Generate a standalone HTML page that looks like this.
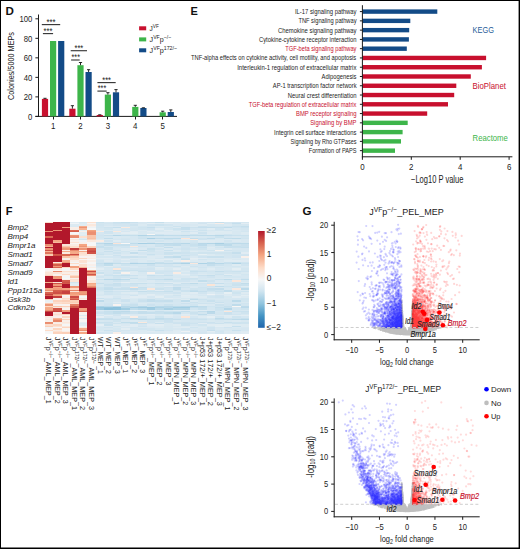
<!DOCTYPE html><html><head><meta charset="utf-8"><style>html,body{margin:0;padding:0;background:#fff;}svg{display:block;font-family:"Liberation Sans",sans-serif;}</style></head><body>
<svg width="520" height="549" viewBox="0 0 520 549">
<rect x="0" y="0" width="520" height="549" fill="#fff"/>
<text x="5.5" y="15.1" font-size="11.6" font-weight="bold" fill="#111">D</text>
<g stroke="#1a1a1a" stroke-width="1" fill="none">
<line x1="38.5" y1="14.5" x2="38.5" y2="116.9"/>
<line x1="35.4" y1="116.4" x2="177" y2="116.4"/>
<line x1="35.4" y1="116.4" x2="38.5" y2="116.4"/>
<line x1="35.4" y1="96.88" x2="38.5" y2="96.88"/>
<line x1="35.4" y1="77.36" x2="38.5" y2="77.36"/>
<line x1="35.4" y1="57.84" x2="38.5" y2="57.84"/>
<line x1="35.4" y1="38.32" x2="38.5" y2="38.32"/>
<line x1="35.4" y1="18.8" x2="38.5" y2="18.8"/>
<line x1="53.5" y1="116.4" x2="53.5" y2="119.5"/>
<line x1="80.5" y1="116.4" x2="80.5" y2="119.5"/>
<line x1="107.5" y1="116.4" x2="107.5" y2="119.5"/>
<line x1="135.5" y1="116.4" x2="135.5" y2="119.5"/>
<line x1="162.5" y1="116.4" x2="162.5" y2="119.5"/>
</g>
<text transform="translate(28.1,119.6) scale(0.8592,1)" font-size="9" fill="#222">0</text>
<text transform="translate(23.8,100.08) scale(0.8592,1)" font-size="9" fill="#222">20</text>
<text transform="translate(23.8,80.56) scale(0.8592,1)" font-size="9" fill="#222">40</text>
<text transform="translate(23.8,61.04) scale(0.8592,1)" font-size="9" fill="#222">60</text>
<text transform="translate(23.8,41.52) scale(0.8592,1)" font-size="9" fill="#222">80</text>
<text transform="translate(19.5,22) scale(0.8592,1)" font-size="9" fill="#222">100</text>
<text transform="translate(50.9,128.9) scale(0.8791,1)" font-size="9" fill="#222">1</text>
<text transform="translate(78.3,128.9) scale(0.8791,1)" font-size="9" fill="#222">2</text>
<text transform="translate(105.7,128.9) scale(0.8791,1)" font-size="9" fill="#222">3</text>
<text transform="translate(133.1,128.9) scale(0.8791,1)" font-size="9" fill="#222">4</text>
<text transform="translate(160.5,128.9) scale(0.8791,1)" font-size="9" fill="#222">5</text>
<g transform="translate(13.6,66) rotate(-90)"><text x="0" y="0" font-size="8.6" fill="#222" text-anchor="middle" textLength="68" lengthAdjust="spacingAndGlyphs">Colonies/5000 MEPs</text></g>
<rect x="41.9" y="98.9" width="6.2" height="17.5" fill="#c8102e"/>
<path d="M45 98.9V98.3M43.4 98.3H46.6" stroke="#111" stroke-width="0.9" fill="none"/>
<rect x="50" y="41" width="6.2" height="75.4" fill="#3db54a"/>
<rect x="58.1" y="41" width="6.2" height="75.4" fill="#134b87"/>
<rect x="69.3" y="108.7" width="6.2" height="7.7" fill="#c8102e"/>
<path d="M72.4 108.7V105.7M70.8 105.7H74" stroke="#111" stroke-width="0.9" fill="none"/>
<rect x="77.4" y="65.2" width="6.2" height="51.2" fill="#3db54a"/>
<path d="M80.5 65.2V62.5M78.9 62.5H82.1" stroke="#111" stroke-width="0.9" fill="none"/>
<rect x="85.5" y="72" width="6.2" height="44.4" fill="#134b87"/>
<path d="M88.6 72V69.7M87 69.7H90.2" stroke="#111" stroke-width="0.9" fill="none"/>
<rect x="96.7" y="115" width="6.2" height="1.4" fill="#c8102e"/>
<path d="M99.8 115V114.8M98.2 114.8H101.4" stroke="#111" stroke-width="0.9" fill="none"/>
<rect x="104.8" y="94.6" width="6.2" height="21.8" fill="#3db54a"/>
<path d="M107.9 94.6V92.7M106.3 92.7H109.5" stroke="#111" stroke-width="0.9" fill="none"/>
<rect x="112.9" y="92.3" width="6.2" height="24.1" fill="#134b87"/>
<path d="M116 92.3V89.6M114.4 89.6H117.6" stroke="#111" stroke-width="0.9" fill="none"/>
<rect x="132.2" y="106.9" width="6.2" height="9.5" fill="#3db54a"/>
<path d="M135.3 106.9V105.3M133.7 105.3H136.9" stroke="#111" stroke-width="0.9" fill="none"/>
<rect x="140.3" y="108" width="6.2" height="8.4" fill="#134b87"/>
<path d="M143.4 108V107.8M141.8 107.8H145" stroke="#111" stroke-width="0.9" fill="none"/>
<rect x="159.6" y="112.3" width="6.2" height="4.1" fill="#3db54a"/>
<path d="M162.7 112.3V111.2M161.1 111.2H164.3" stroke="#111" stroke-width="0.9" fill="none"/>
<rect x="167.7" y="112" width="6.2" height="4.4" fill="#134b87"/>
<path d="M170.8 112V109.9M169.2 109.9H172.4" stroke="#111" stroke-width="0.9" fill="none"/>
<line x1="41.8" y1="24.6" x2="60.2" y2="24.6" stroke="#3a3a3a" stroke-width="1.15"/>
<text transform="translate(46.5,24.7) scale(0.8204,1)" font-size="9.5" fill="#222">***</text>
<line x1="42.9" y1="33.6" x2="53.1" y2="33.6" stroke="#3a3a3a" stroke-width="1.15"/>
<text transform="translate(43.6,33.7) scale(0.8023,1)" font-size="9.5" fill="#222">***</text>
<line x1="70.7" y1="50.7" x2="87" y2="50.7" stroke="#3a3a3a" stroke-width="1.15"/>
<text transform="translate(74.5,50.8) scale(0.7933,1)" font-size="9.5" fill="#222">***</text>
<line x1="71.1" y1="60" x2="79.7" y2="60" stroke="#3a3a3a" stroke-width="1.15"/>
<text transform="translate(71.5,60.1) scale(0.7663,1)" font-size="9.5" fill="#222">***</text>
<line x1="97.4" y1="82.6" x2="115.7" y2="82.6" stroke="#3a3a3a" stroke-width="1.15"/>
<text transform="translate(102.2,82.7) scale(0.7933,1)" font-size="9.5" fill="#222">***</text>
<line x1="97.4" y1="91.1" x2="106.7" y2="91.1" stroke="#3a3a3a" stroke-width="1.15"/>
<text transform="translate(97.8,91.2) scale(0.7573,1)" font-size="9.5" fill="#222">***</text>
<rect x="139.1" y="26.3" width="7.1" height="4" fill="#c8102e"/>
<g transform="translate(149.6,30.9) scale(0.8150,1)" fill="#222">
<text x="0" y="0" font-size="8" style="white-space:pre">J</text>
<text x="4" y="-2.8" font-size="5.8" style="white-space:pre">VF</text>
</g>
<rect x="139.1" y="37.4" width="7.1" height="4" fill="#3db54a"/>
<g transform="translate(149.6,42) scale(0.8909,1)" fill="#222">
<text x="0" y="0" font-size="8" style="white-space:pre">J</text>
<text x="4" y="-2.8" font-size="5.8" style="white-space:pre">VF</text>
<text x="11.41" y="0" font-size="8" style="white-space:pre">p</text>
<text x="15.86" y="-2.8" font-size="5.8" style="white-space:pre">−/−</text>
</g>
<rect x="139.1" y="48.3" width="7.1" height="4" fill="#134b87"/>
<g transform="translate(149.6,52.9) scale(0.8973,1)" fill="#222">
<text x="0" y="0" font-size="8" style="white-space:pre">J</text>
<text x="4" y="-2.8" font-size="5.8" style="white-space:pre">VF</text>
<text x="11.41" y="0" font-size="8" style="white-space:pre">p</text>
<text x="15.86" y="-2.8" font-size="5.8" style="white-space:pre">172/−</text>
</g>
<text x="190.6" y="15.1" font-size="11" font-weight="bold" fill="#111">E</text>
<rect x="362.4" y="9.4" width="74.9" height="4.4" fill="#134b87"/>
<text transform="translate(295,14.1) scale(0.7715,1)" font-size="7.6" fill="#222">IL-17 signaling pathway</text>
<rect x="362.4" y="18.67" width="47.9" height="4.4" fill="#134b87"/>
<text transform="translate(298.4,23.37) scale(0.7529,1)" font-size="7.6" fill="#222">TNF signaling pathway</text>
<rect x="362.4" y="27.94" width="46.8" height="4.4" fill="#134b87"/>
<text transform="translate(278,32.64) scale(0.7785,1)" font-size="7.6" fill="#222">Chemokine signaling pathway</text>
<rect x="362.4" y="37.21" width="46.5" height="4.4" fill="#134b87"/>
<text transform="translate(259,41.91) scale(0.7677,1)" font-size="7.6" fill="#222">Cytokine-cytokine receptor interaction</text>
<rect x="362.4" y="46.48" width="44.4" height="4.4" fill="#134b87"/>
<text transform="translate(285.3,51.18) scale(0.7502,1)" font-size="7.6" fill="#c8102e">TGF-beta signaling pathway</text>
<rect x="362.4" y="55.75" width="123.7" height="4.4" fill="#c8102e"/>
<text transform="translate(191,60.45) scale(0.7598,1)" font-size="7.6" fill="#222">TNF-alpha effects on cytokine activity, cell motility, and apoptosis</text>
<rect x="362.4" y="65.02" width="119.5" height="4.4" fill="#c8102e"/>
<text transform="translate(237.2,69.72) scale(0.7874,1)" font-size="7.6" fill="#222">Interleukin-1 regulation of extracellular matrix</text>
<rect x="362.4" y="74.29" width="108.4" height="4.4" fill="#c8102e"/>
<text transform="translate(321.5,78.99) scale(0.7692,1)" font-size="7.6" fill="#222">Adipogenesis</text>
<rect x="362.4" y="83.56" width="93.9" height="4.4" fill="#c8102e"/>
<text transform="translate(272.8,88.26) scale(0.7602,1)" font-size="7.6" fill="#222">AP-1 transcription factor network</text>
<rect x="362.4" y="92.83" width="91.8" height="4.4" fill="#c8102e"/>
<text transform="translate(287.8,97.53) scale(0.7768,1)" font-size="7.6" fill="#222">Neural crest differentiation</text>
<rect x="362.4" y="102.1" width="85.6" height="4.4" fill="#c8102e"/>
<text transform="translate(248.7,106.8) scale(0.7581,1)" font-size="7.6" fill="#c8102e">TGF-beta regulation of extracellular matrix</text>
<rect x="362.4" y="111.37" width="64.8" height="4.4" fill="#c8102e"/>
<text transform="translate(296,116.07) scale(0.7727,1)" font-size="7.6" fill="#c8102e">BMP receptor signaling</text>
<rect x="362.4" y="120.64" width="45.3" height="4.4" fill="#3db54a"/>
<text transform="translate(310.2,125.34) scale(0.7735,1)" font-size="7.6" fill="#c8102e">Signaling by BMP</text>
<rect x="362.4" y="129.91" width="40.2" height="4.4" fill="#3db54a"/>
<text transform="translate(274.1,134.61) scale(0.7720,1)" font-size="7.6" fill="#222">Integrin cell surface interactions</text>
<rect x="362.4" y="139.18" width="38.6" height="4.4" fill="#3db54a"/>
<text transform="translate(290.5,143.88) scale(0.7244,1)" font-size="7.6" fill="#222">Signaling by Rho GTPases</text>
<rect x="362.4" y="148.45" width="32.6" height="4.4" fill="#3db54a"/>
<text transform="translate(308.7,153.15) scale(0.7428,1)" font-size="7.6" fill="#222">Formation of PAPS</text>
<g stroke="#1a1a1a" stroke-width="1" fill="none">
<line x1="362.4" y1="5.2" x2="362.4" y2="157.3"/>
<line x1="361.9" y1="156.8" x2="512.4" y2="156.8"/>
<line x1="359.9" y1="11.6" x2="362.4" y2="11.6"/>
<line x1="359.9" y1="20.87" x2="362.4" y2="20.87"/>
<line x1="359.9" y1="30.14" x2="362.4" y2="30.14"/>
<line x1="359.9" y1="39.41" x2="362.4" y2="39.41"/>
<line x1="359.9" y1="48.68" x2="362.4" y2="48.68"/>
<line x1="359.9" y1="57.95" x2="362.4" y2="57.95"/>
<line x1="359.9" y1="67.22" x2="362.4" y2="67.22"/>
<line x1="359.9" y1="76.49" x2="362.4" y2="76.49"/>
<line x1="359.9" y1="85.76" x2="362.4" y2="85.76"/>
<line x1="359.9" y1="95.03" x2="362.4" y2="95.03"/>
<line x1="359.9" y1="104.3" x2="362.4" y2="104.3"/>
<line x1="359.9" y1="113.57" x2="362.4" y2="113.57"/>
<line x1="359.9" y1="122.84" x2="362.4" y2="122.84"/>
<line x1="359.9" y1="132.11" x2="362.4" y2="132.11"/>
<line x1="359.9" y1="141.38" x2="362.4" y2="141.38"/>
<line x1="359.9" y1="150.65" x2="362.4" y2="150.65"/>
<line x1="362.4" y1="156.8" x2="362.4" y2="159.8"/>
<line x1="411.3" y1="156.8" x2="411.3" y2="159.8"/>
<line x1="460.2" y1="156.8" x2="460.2" y2="159.8"/>
<line x1="509.1" y1="156.8" x2="509.1" y2="159.8"/>
</g>
<text transform="translate(360.2,169.5) scale(0.8991,1)" font-size="8.8" fill="#222">0</text>
<text transform="translate(409.1,169.5) scale(0.8991,1)" font-size="8.8" fill="#222">2</text>
<text transform="translate(458,169.5) scale(0.8991,1)" font-size="8.8" fill="#222">4</text>
<text transform="translate(506.9,169.5) scale(0.8991,1)" font-size="8.8" fill="#222">6</text>
<text transform="translate(411,182.8) scale(0.7544,1)" font-size="10" fill="#222">−Log10 P value</text>
<text transform="translate(472.6,33.2) scale(0.8228,1)" font-size="9" fill="#1f5c99">KEGG</text>
<text transform="translate(472.6,88.9) scale(0.8670,1)" font-size="9" fill="#c8102e">BioPlanet</text>
<text transform="translate(472.6,140.5) scale(0.8606,1)" font-size="9" fill="#3db54a">Reactome</text>
<text x="5.8" y="214.9" font-size="11" font-weight="bold" fill="#111">F</text>
<g shape-rendering="crispEdges">
<rect x="44.6" y="221.8" width="8.58" height="1.38" fill="#fce0d0"/>
<rect x="44.6" y="223.13" width="8.58" height="8.05" fill="#b2182b"/>
<rect x="44.6" y="231.13" width="8.58" height="1.38" fill="#ed9576"/>
<rect x="44.6" y="232.47" width="8.58" height="4.05" fill="#b2182b"/>
<rect x="44.6" y="236.47" width="8.58" height="1.38" fill="#da6a55"/>
<rect x="44.6" y="237.8" width="8.58" height="6.72" fill="#b2182b"/>
<rect x="44.6" y="244.47" width="8.58" height="1.38" fill="#eb9072"/>
<rect x="44.6" y="245.8" width="8.58" height="1.38" fill="#f6ae8e"/>
<rect x="44.6" y="247.13" width="8.58" height="1.38" fill="#b2182b"/>
<rect x="44.6" y="248.47" width="8.58" height="1.38" fill="#ed9475"/>
<rect x="44.6" y="249.8" width="8.58" height="1.38" fill="#d05447"/>
<rect x="44.6" y="251.13" width="8.58" height="1.38" fill="#f7b597"/>
<rect x="44.6" y="252.47" width="8.58" height="1.38" fill="#e0785f"/>
<rect x="44.6" y="253.8" width="8.58" height="1.38" fill="#fac9b0"/>
<rect x="44.6" y="255.13" width="8.58" height="1.38" fill="#fac9b1"/>
<rect x="44.6" y="256.47" width="8.58" height="12.05" fill="#b2182b"/>
<rect x="44.6" y="268.47" width="8.58" height="1.38" fill="#f7f5f4"/>
<rect x="44.6" y="269.8" width="8.58" height="1.38" fill="#f8f3f1"/>
<rect x="44.6" y="271.13" width="8.58" height="1.38" fill="#f9ede5"/>
<rect x="44.6" y="272.47" width="8.58" height="1.38" fill="#fbe4d6"/>
<rect x="44.6" y="273.8" width="8.58" height="1.38" fill="#fbe3d4"/>
<rect x="44.6" y="275.13" width="8.58" height="1.38" fill="#fcd2bc"/>
<rect x="44.6" y="276.47" width="8.58" height="5.38" fill="#b2182b"/>
<rect x="44.6" y="281.8" width="8.58" height="1.38" fill="#f5ae8d"/>
<rect x="44.6" y="283.13" width="8.58" height="5.38" fill="#b2182b"/>
<rect x="44.6" y="288.47" width="8.58" height="1.38" fill="#f4a785"/>
<rect x="44.6" y="289.8" width="8.58" height="1.38" fill="#ea8e70"/>
<rect x="44.6" y="291.13" width="8.58" height="1.38" fill="#fbd1ba"/>
<rect x="44.6" y="292.47" width="8.58" height="1.38" fill="#d7614e"/>
<rect x="44.6" y="293.8" width="8.58" height="1.38" fill="#c63f3e"/>
<rect x="44.6" y="295.13" width="8.58" height="1.38" fill="#da6954"/>
<rect x="44.6" y="296.47" width="8.58" height="2.72" fill="#b2182b"/>
<rect x="44.6" y="299.13" width="8.58" height="1.38" fill="#fbd0b9"/>
<rect x="44.6" y="300.47" width="8.58" height="1.38" fill="#e9f0f4"/>
<rect x="44.6" y="301.8" width="8.58" height="1.38" fill="#eef3f5"/>
<rect x="44.6" y="303.13" width="8.58" height="1.38" fill="#fac9b0"/>
<rect x="44.6" y="304.47" width="8.58" height="1.38" fill="#ef9a7a"/>
<rect x="44.6" y="305.8" width="8.58" height="1.38" fill="#fddbc7"/>
<rect x="44.6" y="307.13" width="8.58" height="1.38" fill="#f5ad8c"/>
<rect x="44.6" y="308.47" width="8.58" height="1.38" fill="#f5ab89"/>
<rect x="44.6" y="309.8" width="8.58" height="1.38" fill="#ec9274"/>
<rect x="44.6" y="311.13" width="8.58" height="1.38" fill="#c94741"/>
<rect x="44.6" y="312.47" width="8.58" height="4.05" fill="#b2182b"/>
<rect x="44.6" y="316.47" width="8.58" height="1.38" fill="#faebe2"/>
<rect x="44.6" y="317.8" width="8.58" height="1.38" fill="#f8f0ec"/>
<rect x="44.6" y="319.13" width="8.58" height="1.38" fill="#faebe2"/>
<rect x="44.6" y="320.47" width="8.58" height="1.38" fill="#f8f1ec"/>
<rect x="44.6" y="321.8" width="8.58" height="1.38" fill="#ea8d6f"/>
<rect x="44.6" y="323.13" width="8.58" height="1.38" fill="#eb9173"/>
<rect x="44.6" y="324.47" width="8.58" height="1.38" fill="#fcdecd"/>
<rect x="44.6" y="325.8" width="8.58" height="1.38" fill="#fbcfb7"/>
<rect x="44.6" y="327.13" width="8.58" height="1.38" fill="#f0f3f6"/>
<rect x="44.6" y="328.47" width="8.58" height="1.38" fill="#f8f2ee"/>
<rect x="44.6" y="329.8" width="8.58" height="1.38" fill="#fddbc7"/>
<rect x="44.6" y="331.13" width="8.58" height="1.38" fill="#f4f6f6"/>
<rect x="44.6" y="332.47" width="8.58" height="1.38" fill="#f6f7f7"/>
<rect x="53.13" y="221.8" width="8.58" height="8.05" fill="#b2182b"/>
<rect x="53.13" y="229.8" width="8.58" height="1.38" fill="#ee9777"/>
<rect x="53.13" y="231.13" width="8.58" height="9.38" fill="#b2182b"/>
<rect x="53.13" y="240.47" width="8.58" height="1.38" fill="#f4a886"/>
<rect x="53.13" y="241.8" width="8.58" height="1.38" fill="#f7b99b"/>
<rect x="53.13" y="243.13" width="8.58" height="10.72" fill="#b2182b"/>
<rect x="53.13" y="253.8" width="8.58" height="1.38" fill="#d2594a"/>
<rect x="53.13" y="255.13" width="8.58" height="1.38" fill="#ce4f45"/>
<rect x="53.13" y="256.47" width="8.58" height="5.38" fill="#b2182b"/>
<rect x="53.13" y="261.8" width="8.58" height="1.38" fill="#fae9e0"/>
<rect x="53.13" y="263.13" width="8.58" height="1.38" fill="#f19f7d"/>
<rect x="53.13" y="264.47" width="8.58" height="1.38" fill="#d55e4c"/>
<rect x="53.13" y="265.8" width="8.58" height="1.38" fill="#ef9878"/>
<rect x="53.13" y="267.13" width="8.58" height="1.38" fill="#d7634f"/>
<rect x="53.13" y="268.47" width="8.58" height="1.38" fill="#faeae1"/>
<rect x="53.13" y="269.8" width="8.58" height="1.38" fill="#f7f5f3"/>
<rect x="53.13" y="271.13" width="8.58" height="1.38" fill="#e88a6d"/>
<rect x="53.13" y="272.47" width="8.58" height="1.38" fill="#fbe4d7"/>
<rect x="53.13" y="273.8" width="8.58" height="1.38" fill="#f8f1ed"/>
<rect x="53.13" y="275.13" width="8.58" height="1.38" fill="#f8f0ec"/>
<rect x="53.13" y="276.47" width="8.58" height="1.38" fill="#ef9979"/>
<rect x="53.13" y="277.8" width="8.58" height="1.38" fill="#f19d7c"/>
<rect x="53.13" y="279.13" width="8.58" height="2.72" fill="#b2182b"/>
<rect x="53.13" y="281.8" width="8.58" height="1.38" fill="#fbe4d7"/>
<rect x="53.13" y="283.13" width="8.58" height="1.38" fill="#d05447"/>
<rect x="53.13" y="284.47" width="8.58" height="1.38" fill="#f09b7a"/>
<rect x="53.13" y="285.8" width="8.58" height="1.38" fill="#cd4e44"/>
<rect x="53.13" y="287.13" width="8.58" height="1.38" fill="#f4a683"/>
<rect x="53.13" y="288.47" width="8.58" height="1.38" fill="#f09c7b"/>
<rect x="53.13" y="289.8" width="8.58" height="1.38" fill="#d6604d"/>
<rect x="53.13" y="291.13" width="8.58" height="1.38" fill="#d35a4a"/>
<rect x="53.13" y="292.47" width="8.58" height="1.38" fill="#ce5045"/>
<rect x="53.13" y="293.8" width="8.58" height="1.38" fill="#ea8d6f"/>
<rect x="53.13" y="295.13" width="8.58" height="1.38" fill="#f19f7d"/>
<rect x="53.13" y="296.47" width="8.58" height="1.38" fill="#c53f3d"/>
<rect x="53.13" y="297.8" width="8.58" height="1.38" fill="#f9ede7"/>
<rect x="53.13" y="299.13" width="8.58" height="1.38" fill="#f8f1ec"/>
<rect x="53.13" y="300.47" width="8.58" height="1.38" fill="#fcd3bd"/>
<rect x="53.13" y="301.8" width="8.58" height="1.38" fill="#fcdfcf"/>
<rect x="53.13" y="303.13" width="8.58" height="1.38" fill="#fddcc9"/>
<rect x="53.13" y="304.47" width="8.58" height="1.38" fill="#f8f2ee"/>
<rect x="53.13" y="305.8" width="8.58" height="1.38" fill="#f9c4a9"/>
<rect x="53.13" y="307.13" width="8.58" height="1.38" fill="#fbe5d9"/>
<rect x="53.13" y="308.47" width="8.58" height="1.38" fill="#d15648"/>
<rect x="53.13" y="309.8" width="8.58" height="1.38" fill="#d25849"/>
<rect x="53.13" y="311.13" width="8.58" height="1.38" fill="#c94641"/>
<rect x="53.13" y="312.47" width="8.58" height="1.38" fill="#fae9de"/>
<rect x="53.13" y="313.8" width="8.58" height="1.38" fill="#fcdfce"/>
<rect x="53.13" y="315.13" width="8.58" height="1.38" fill="#faeae1"/>
<rect x="53.13" y="316.47" width="8.58" height="1.38" fill="#f8f1ed"/>
<rect x="53.13" y="317.8" width="8.58" height="1.38" fill="#f7b698"/>
<rect x="53.13" y="319.13" width="8.58" height="1.38" fill="#f2a17f"/>
<rect x="53.13" y="320.47" width="8.58" height="1.38" fill="#e6866a"/>
<rect x="53.13" y="321.8" width="8.58" height="1.38" fill="#f9ece3"/>
<rect x="53.13" y="323.13" width="8.58" height="1.38" fill="#f9efe9"/>
<rect x="53.13" y="324.47" width="8.58" height="1.38" fill="#fcd6c1"/>
<rect x="53.13" y="325.8" width="8.58" height="1.38" fill="#fbe3d5"/>
<rect x="53.13" y="327.13" width="8.58" height="1.38" fill="#f7f6f6"/>
<rect x="53.13" y="328.47" width="8.58" height="1.38" fill="#fcd7c2"/>
<rect x="53.13" y="329.8" width="8.58" height="1.38" fill="#f9ebe3"/>
<rect x="53.13" y="331.13" width="8.58" height="1.38" fill="#fcdfce"/>
<rect x="53.13" y="332.47" width="8.58" height="1.38" fill="#fcd2bc"/>
<rect x="61.66" y="221.8" width="8.58" height="5.38" fill="#b2182b"/>
<rect x="61.66" y="227.13" width="8.58" height="1.38" fill="#f3a280"/>
<rect x="61.66" y="228.47" width="8.58" height="16.05" fill="#b2182b"/>
<rect x="61.66" y="244.47" width="8.58" height="1.38" fill="#fbe4d7"/>
<rect x="61.66" y="245.8" width="8.58" height="1.38" fill="#fac9b0"/>
<rect x="61.66" y="247.13" width="8.58" height="1.38" fill="#f5ab8a"/>
<rect x="61.66" y="248.47" width="8.58" height="1.38" fill="#ef9a79"/>
<rect x="61.66" y="249.8" width="8.58" height="1.38" fill="#f9efea"/>
<rect x="61.66" y="251.13" width="8.58" height="1.38" fill="#f5aa88"/>
<rect x="61.66" y="252.47" width="8.58" height="1.38" fill="#faebe3"/>
<rect x="61.66" y="253.8" width="8.58" height="2.72" fill="#db6b55"/>
<rect x="61.66" y="256.47" width="8.58" height="1.38" fill="#f9c4a9"/>
<rect x="61.66" y="257.8" width="8.58" height="1.38" fill="#f8f0eb"/>
<rect x="61.66" y="259.13" width="8.58" height="1.38" fill="#f8f0ec"/>
<rect x="61.66" y="260.47" width="8.58" height="1.38" fill="#f6ae8e"/>
<rect x="61.66" y="261.8" width="8.58" height="1.38" fill="#f09b7b"/>
<rect x="61.66" y="263.13" width="8.58" height="4.05" fill="#b2182b"/>
<rect x="61.66" y="267.13" width="8.58" height="1.38" fill="#fdd9c5"/>
<rect x="61.66" y="268.47" width="8.58" height="1.38" fill="#f4f5f6"/>
<rect x="61.66" y="269.8" width="8.58" height="1.38" fill="#f7f5f4"/>
<rect x="61.66" y="271.13" width="8.58" height="1.38" fill="#fcdfcd"/>
<rect x="61.66" y="272.47" width="8.58" height="1.38" fill="#f9eee7"/>
<rect x="61.66" y="273.8" width="8.58" height="1.38" fill="#fddbc7"/>
<rect x="61.66" y="275.13" width="8.58" height="1.38" fill="#f8f4f2"/>
<rect x="61.66" y="276.47" width="8.58" height="1.38" fill="#f3f5f6"/>
<rect x="61.66" y="277.8" width="8.58" height="1.38" fill="#f6f7f7"/>
<rect x="61.66" y="279.13" width="8.58" height="1.38" fill="#f9efe9"/>
<rect x="61.66" y="280.47" width="8.58" height="1.38" fill="#d45c4b"/>
<rect x="61.66" y="281.8" width="8.58" height="1.38" fill="#cf5246"/>
<rect x="61.66" y="283.13" width="8.58" height="1.38" fill="#d35a4a"/>
<rect x="61.66" y="284.47" width="8.58" height="4.05" fill="#b2182b"/>
<rect x="61.66" y="288.47" width="8.58" height="1.38" fill="#f4a683"/>
<rect x="61.66" y="289.8" width="8.58" height="1.38" fill="#d55d4c"/>
<rect x="61.66" y="291.13" width="8.58" height="1.38" fill="#c8433f"/>
<rect x="61.66" y="292.47" width="8.58" height="1.38" fill="#c7413e"/>
<rect x="61.66" y="293.8" width="8.58" height="1.38" fill="#f3a27f"/>
<rect x="61.66" y="295.13" width="8.58" height="1.38" fill="#f7f5f3"/>
<rect x="61.66" y="296.47" width="8.58" height="1.38" fill="#f9f0eb"/>
<rect x="61.66" y="297.8" width="8.58" height="1.38" fill="#fddbc7"/>
<rect x="61.66" y="299.13" width="8.58" height="1.38" fill="#fbe4d6"/>
<rect x="61.66" y="300.47" width="8.58" height="1.38" fill="#fbcfb8"/>
<rect x="61.66" y="301.8" width="8.58" height="1.38" fill="#fcddcb"/>
<rect x="61.66" y="303.13" width="8.58" height="1.38" fill="#fcd6c1"/>
<rect x="61.66" y="304.47" width="8.58" height="1.38" fill="#f8f3f0"/>
<rect x="61.66" y="305.8" width="8.58" height="1.38" fill="#fbd0ba"/>
<rect x="61.66" y="307.13" width="8.58" height="1.38" fill="#f9ece4"/>
<rect x="61.66" y="308.47" width="8.58" height="1.38" fill="#f8f2ee"/>
<rect x="61.66" y="309.8" width="8.58" height="1.38" fill="#f19e7d"/>
<rect x="61.66" y="311.13" width="8.58" height="1.38" fill="#ee9878"/>
<rect x="61.66" y="312.47" width="8.58" height="1.38" fill="#b2182b"/>
<rect x="61.66" y="313.8" width="8.58" height="1.38" fill="#fbd0ba"/>
<rect x="61.66" y="315.13" width="8.58" height="1.38" fill="#f8f1ec"/>
<rect x="61.66" y="316.47" width="8.58" height="1.38" fill="#fcd7c2"/>
<rect x="61.66" y="317.8" width="8.58" height="1.38" fill="#f8f0eb"/>
<rect x="61.66" y="319.13" width="8.58" height="1.38" fill="#fbd1ba"/>
<rect x="61.66" y="320.47" width="8.58" height="1.38" fill="#f9efe9"/>
<rect x="61.66" y="321.8" width="8.58" height="1.38" fill="#fbe7db"/>
<rect x="61.66" y="323.13" width="8.58" height="1.38" fill="#f9ede5"/>
<rect x="61.66" y="324.47" width="8.58" height="1.38" fill="#f4f6f6"/>
<rect x="61.66" y="325.8" width="8.58" height="1.38" fill="#fbe6da"/>
<rect x="61.66" y="327.13" width="8.58" height="1.38" fill="#fcd5bf"/>
<rect x="61.66" y="328.47" width="8.58" height="1.38" fill="#f8f4f1"/>
<rect x="61.66" y="329.8" width="8.58" height="1.38" fill="#f8f5f3"/>
<rect x="61.66" y="331.13" width="8.58" height="1.38" fill="#f9ede6"/>
<rect x="61.66" y="332.47" width="8.58" height="1.38" fill="#fbcfb8"/>
<rect x="70.19" y="221.8" width="8.58" height="1.38" fill="#e0ecf3"/>
<rect x="70.19" y="223.13" width="8.58" height="1.38" fill="#eff3f6"/>
<rect x="70.19" y="224.47" width="8.58" height="1.38" fill="#dceaf2"/>
<rect x="70.19" y="225.8" width="8.58" height="1.38" fill="#dae9f2"/>
<rect x="70.19" y="227.13" width="8.58" height="1.38" fill="#f9eee8"/>
<rect x="70.19" y="228.47" width="8.58" height="1.38" fill="#f9ede6"/>
<rect x="70.19" y="229.8" width="8.58" height="1.38" fill="#db6a55"/>
<rect x="70.19" y="231.13" width="8.58" height="1.38" fill="#d55f4c"/>
<rect x="70.19" y="232.47" width="8.58" height="1.38" fill="#f6f6f7"/>
<rect x="70.19" y="233.8" width="8.58" height="1.38" fill="#f9ede5"/>
<rect x="70.19" y="235.13" width="8.58" height="1.38" fill="#ed9475"/>
<rect x="70.19" y="236.47" width="8.58" height="1.38" fill="#e98b6e"/>
<rect x="70.19" y="237.8" width="8.58" height="1.38" fill="#f5f6f7"/>
<rect x="70.19" y="239.13" width="8.58" height="1.38" fill="#fae7dc"/>
<rect x="70.19" y="240.47" width="8.58" height="1.38" fill="#f8f0ec"/>
<rect x="70.19" y="241.8" width="8.58" height="1.38" fill="#fce2d3"/>
<rect x="70.19" y="243.13" width="8.58" height="1.38" fill="#f8f5f3"/>
<rect x="70.19" y="244.47" width="8.58" height="1.38" fill="#f9ece4"/>
<rect x="70.19" y="245.8" width="8.58" height="1.38" fill="#fcdecc"/>
<rect x="70.19" y="247.13" width="8.58" height="1.38" fill="#fcdfce"/>
<rect x="70.19" y="248.47" width="8.58" height="1.38" fill="#c33a3b"/>
<rect x="70.19" y="249.8" width="8.58" height="1.38" fill="#e98b6e"/>
<rect x="70.19" y="251.13" width="8.58" height="1.38" fill="#f4a886"/>
<rect x="70.19" y="252.47" width="8.58" height="1.38" fill="#f5ab89"/>
<rect x="70.19" y="253.8" width="8.58" height="1.38" fill="#cc4c44"/>
<rect x="70.19" y="255.13" width="8.58" height="1.38" fill="#ec9273"/>
<rect x="70.19" y="256.47" width="8.58" height="1.38" fill="#fbceb6"/>
<rect x="70.19" y="257.8" width="8.58" height="2.72" fill="#fddbc7"/>
<rect x="70.19" y="260.47" width="8.58" height="1.38" fill="#f9ede6"/>
<rect x="70.19" y="261.8" width="8.58" height="1.38" fill="#f2f5f6"/>
<rect x="70.19" y="263.13" width="8.58" height="1.38" fill="#fddcc9"/>
<rect x="70.19" y="264.47" width="8.58" height="1.38" fill="#f8f2ef"/>
<rect x="70.19" y="265.8" width="8.58" height="1.38" fill="#f2a07e"/>
<rect x="70.19" y="267.13" width="8.58" height="1.38" fill="#f3a280"/>
<rect x="70.19" y="268.47" width="8.58" height="1.38" fill="#fddcc8"/>
<rect x="70.19" y="269.8" width="8.58" height="1.38" fill="#f7f6f5"/>
<rect x="70.19" y="271.13" width="8.58" height="1.38" fill="#fce1d1"/>
<rect x="70.19" y="272.47" width="8.58" height="1.38" fill="#f9ece4"/>
<rect x="70.19" y="273.8" width="8.58" height="1.38" fill="#f9ede6"/>
<rect x="70.19" y="275.13" width="8.58" height="1.38" fill="#fddcc8"/>
<rect x="70.19" y="276.47" width="8.58" height="1.38" fill="#f9c4aa"/>
<rect x="70.19" y="277.8" width="8.58" height="1.38" fill="#f8f1ed"/>
<rect x="70.19" y="279.13" width="8.58" height="1.38" fill="#fce0d0"/>
<rect x="70.19" y="280.47" width="8.58" height="1.38" fill="#fbe4d6"/>
<rect x="70.19" y="281.8" width="8.58" height="1.38" fill="#d1e5f0"/>
<rect x="70.19" y="283.13" width="8.58" height="1.38" fill="#deebf2"/>
<rect x="70.19" y="284.47" width="8.58" height="1.38" fill="#e0ecf3"/>
<rect x="70.19" y="285.8" width="8.58" height="1.38" fill="#ed9475"/>
<rect x="70.19" y="287.13" width="8.58" height="1.38" fill="#ef9a7a"/>
<rect x="70.19" y="288.47" width="8.58" height="1.38" fill="#fddbc8"/>
<rect x="70.19" y="289.8" width="8.58" height="1.38" fill="#e6866a"/>
<rect x="70.19" y="291.13" width="8.58" height="1.38" fill="#fbe5d9"/>
<rect x="70.19" y="292.47" width="8.58" height="1.38" fill="#f19d7c"/>
<rect x="70.19" y="293.8" width="8.58" height="1.38" fill="#f3a380"/>
<rect x="70.19" y="295.13" width="8.58" height="1.38" fill="#f4a785"/>
<rect x="70.19" y="296.47" width="8.58" height="1.38" fill="#cc4c44"/>
<rect x="70.19" y="297.8" width="8.58" height="1.38" fill="#df745c"/>
<rect x="70.19" y="299.13" width="8.58" height="1.38" fill="#d25749"/>
<rect x="70.19" y="300.47" width="8.58" height="1.38" fill="#fbd2bb"/>
<rect x="70.19" y="301.8" width="8.58" height="1.38" fill="#fbcdb4"/>
<rect x="70.19" y="303.13" width="8.58" height="1.38" fill="#fcddcb"/>
<rect x="70.19" y="304.47" width="8.58" height="1.38" fill="#e37d64"/>
<rect x="70.19" y="305.8" width="8.58" height="1.38" fill="#d15548"/>
<rect x="70.19" y="307.13" width="8.58" height="1.38" fill="#d05447"/>
<rect x="70.19" y="308.47" width="8.58" height="25.38" fill="#b2182b"/>
<rect x="78.72" y="221.8" width="8.58" height="1.38" fill="#d7e8f1"/>
<rect x="78.72" y="223.13" width="8.58" height="1.38" fill="#deebf2"/>
<rect x="78.72" y="224.47" width="8.58" height="1.38" fill="#dfecf3"/>
<rect x="78.72" y="225.8" width="8.58" height="1.38" fill="#f6ae8e"/>
<rect x="78.72" y="227.13" width="8.58" height="1.38" fill="#ec9374"/>
<rect x="78.72" y="228.47" width="8.58" height="1.38" fill="#f7b495"/>
<rect x="78.72" y="229.8" width="8.58" height="1.38" fill="#e3eef3"/>
<rect x="78.72" y="231.13" width="8.58" height="1.38" fill="#f9f0eb"/>
<rect x="78.72" y="232.47" width="8.58" height="1.38" fill="#e1edf3"/>
<rect x="78.72" y="233.8" width="8.58" height="1.38" fill="#e3eef3"/>
<rect x="78.72" y="235.13" width="8.58" height="1.38" fill="#ddebf2"/>
<rect x="78.72" y="236.47" width="8.58" height="1.38" fill="#fce0cf"/>
<rect x="78.72" y="237.8" width="8.58" height="1.38" fill="#e0ecf3"/>
<rect x="78.72" y="239.13" width="8.58" height="1.38" fill="#d2e6f0"/>
<rect x="78.72" y="240.47" width="8.58" height="1.38" fill="#f0f3f6"/>
<rect x="78.72" y="241.8" width="8.58" height="1.38" fill="#f8f0eb"/>
<rect x="78.72" y="243.13" width="8.58" height="1.38" fill="#f9efe9"/>
<rect x="78.72" y="244.47" width="8.58" height="1.38" fill="#f4a582"/>
<rect x="78.72" y="245.8" width="8.58" height="1.38" fill="#ed9576"/>
<rect x="78.72" y="247.13" width="8.58" height="1.38" fill="#f8bb9f"/>
<rect x="78.72" y="248.47" width="8.58" height="1.38" fill="#ed9575"/>
<rect x="78.72" y="249.8" width="8.58" height="1.38" fill="#f8f2ef"/>
<rect x="78.72" y="251.13" width="8.58" height="1.38" fill="#f5a987"/>
<rect x="78.72" y="252.47" width="8.58" height="1.38" fill="#fcdfcd"/>
<rect x="78.72" y="253.8" width="8.58" height="1.38" fill="#fbe3d4"/>
<rect x="78.72" y="255.13" width="8.58" height="1.38" fill="#fae7dc"/>
<rect x="78.72" y="256.47" width="8.58" height="1.38" fill="#f8f3f1"/>
<rect x="78.72" y="257.8" width="8.58" height="1.38" fill="#fcd6c1"/>
<rect x="78.72" y="259.13" width="8.58" height="1.38" fill="#f7f5f3"/>
<rect x="78.72" y="260.47" width="8.58" height="1.38" fill="#fce1d2"/>
<rect x="78.72" y="261.8" width="8.58" height="1.38" fill="#fbe2d4"/>
<rect x="78.72" y="263.13" width="8.58" height="1.38" fill="#f8f2ee"/>
<rect x="78.72" y="264.47" width="8.58" height="2.72" fill="#fcdecd"/>
<rect x="78.72" y="267.13" width="8.58" height="1.38" fill="#f7b89b"/>
<rect x="78.72" y="268.47" width="8.58" height="22.72" fill="#b2182b"/>
<rect x="78.72" y="291.13" width="8.58" height="1.38" fill="#eb9172"/>
<rect x="78.72" y="292.47" width="8.58" height="1.38" fill="#ef9b7a"/>
<rect x="78.72" y="293.8" width="8.58" height="1.38" fill="#ea8e70"/>
<rect x="78.72" y="295.13" width="8.58" height="1.38" fill="#fce0cf"/>
<rect x="78.72" y="296.47" width="8.58" height="1.38" fill="#f3f5f6"/>
<rect x="78.72" y="297.8" width="8.58" height="1.38" fill="#fbe7db"/>
<rect x="78.72" y="299.13" width="8.58" height="1.38" fill="#f9efe9"/>
<rect x="78.72" y="300.47" width="8.58" height="8.05" fill="#b2182b"/>
<rect x="78.72" y="308.47" width="8.58" height="1.38" fill="#f19e7d"/>
<rect x="78.72" y="309.8" width="8.58" height="1.38" fill="#ee9777"/>
<rect x="78.72" y="311.13" width="8.58" height="1.38" fill="#da6954"/>
<rect x="78.72" y="312.47" width="8.58" height="2.72" fill="#f8f2ef"/>
<rect x="78.72" y="315.13" width="8.58" height="1.38" fill="#ddebf2"/>
<rect x="78.72" y="316.47" width="8.58" height="1.38" fill="#f8f1ed"/>
<rect x="78.72" y="317.8" width="8.58" height="1.38" fill="#ddebf2"/>
<rect x="78.72" y="319.13" width="8.58" height="1.38" fill="#f8f4f1"/>
<rect x="78.72" y="320.47" width="8.58" height="1.38" fill="#f8f5f3"/>
<rect x="78.72" y="321.8" width="8.58" height="1.38" fill="#e5eef4"/>
<rect x="78.72" y="323.13" width="8.58" height="1.38" fill="#deebf2"/>
<rect x="78.72" y="324.47" width="8.58" height="1.38" fill="#e2edf3"/>
<rect x="78.72" y="325.8" width="8.58" height="1.38" fill="#f0f4f6"/>
<rect x="78.72" y="327.13" width="8.58" height="1.38" fill="#faeae0"/>
<rect x="78.72" y="328.47" width="8.58" height="1.38" fill="#f5aa88"/>
<rect x="78.72" y="329.8" width="8.58" height="1.38" fill="#ec9374"/>
<rect x="78.72" y="331.13" width="8.58" height="1.38" fill="#faebe2"/>
<rect x="78.72" y="332.47" width="8.58" height="1.38" fill="#f4a785"/>
<rect x="87.25" y="221.8" width="8.58" height="1.38" fill="#fce1d1"/>
<rect x="87.25" y="223.13" width="8.58" height="1.38" fill="#f8f3f1"/>
<rect x="87.25" y="224.47" width="8.58" height="1.38" fill="#fae8dd"/>
<rect x="87.25" y="225.8" width="8.58" height="1.38" fill="#f9efea"/>
<rect x="87.25" y="227.13" width="8.58" height="1.38" fill="#edf2f5"/>
<rect x="87.25" y="228.47" width="8.58" height="1.38" fill="#f7f7f7"/>
<rect x="87.25" y="229.8" width="8.58" height="1.38" fill="#f3a481"/>
<rect x="87.25" y="231.13" width="8.58" height="1.38" fill="#ee9677"/>
<rect x="87.25" y="232.47" width="8.58" height="1.38" fill="#eb8f71"/>
<rect x="87.25" y="233.8" width="8.58" height="1.38" fill="#ec9273"/>
<rect x="87.25" y="235.13" width="8.58" height="2.72" fill="#f9c5ab"/>
<rect x="87.25" y="237.8" width="8.58" height="1.38" fill="#f8bfa3"/>
<rect x="87.25" y="239.13" width="8.58" height="1.38" fill="#fbd1bb"/>
<rect x="87.25" y="240.47" width="8.58" height="1.38" fill="#fae9de"/>
<rect x="87.25" y="241.8" width="8.58" height="1.38" fill="#f7f6f5"/>
<rect x="87.25" y="243.13" width="8.58" height="1.38" fill="#f7f7f7"/>
<rect x="87.25" y="244.47" width="8.58" height="1.38" fill="#f7f7f6"/>
<rect x="87.25" y="245.8" width="8.58" height="1.38" fill="#fcd7c2"/>
<rect x="87.25" y="247.13" width="8.58" height="1.38" fill="#fcd3bc"/>
<rect x="87.25" y="248.47" width="8.58" height="1.38" fill="#d65f4d"/>
<rect x="87.25" y="249.8" width="8.58" height="1.38" fill="#cf5347"/>
<rect x="87.25" y="251.13" width="8.58" height="1.38" fill="#c8433f"/>
<rect x="87.25" y="252.47" width="8.58" height="1.38" fill="#d05347"/>
<rect x="87.25" y="253.8" width="8.58" height="1.38" fill="#faeae0"/>
<rect x="87.25" y="255.13" width="8.58" height="1.38" fill="#faeae1"/>
<rect x="87.25" y="256.47" width="8.58" height="1.38" fill="#f8f2ef"/>
<rect x="87.25" y="257.8" width="8.58" height="1.38" fill="#f9ece3"/>
<rect x="87.25" y="259.13" width="8.58" height="1.38" fill="#f7f7f7"/>
<rect x="87.25" y="260.47" width="8.58" height="1.38" fill="#f9eee7"/>
<rect x="87.25" y="261.8" width="8.58" height="2.72" fill="#f7f6f5"/>
<rect x="87.25" y="264.47" width="8.58" height="1.38" fill="#f9efea"/>
<rect x="87.25" y="265.8" width="8.58" height="1.38" fill="#f0f4f6"/>
<rect x="87.25" y="267.13" width="8.58" height="1.38" fill="#f9eee7"/>
<rect x="87.25" y="268.47" width="8.58" height="1.38" fill="#f7f7f6"/>
<rect x="87.25" y="269.8" width="8.58" height="1.38" fill="#f4a785"/>
<rect x="87.25" y="271.13" width="8.58" height="1.38" fill="#cc4c44"/>
<rect x="87.25" y="272.47" width="8.58" height="1.38" fill="#ed9676"/>
<rect x="87.25" y="273.8" width="8.58" height="1.38" fill="#d15649"/>
<rect x="87.25" y="275.13" width="8.58" height="1.38" fill="#e98c6f"/>
<rect x="87.25" y="276.47" width="8.58" height="2.72" fill="#f9eee7"/>
<rect x="87.25" y="279.13" width="8.58" height="1.38" fill="#f9f0eb"/>
<rect x="87.25" y="280.47" width="8.58" height="1.38" fill="#fae7db"/>
<rect x="87.25" y="281.8" width="8.58" height="1.38" fill="#fbe6da"/>
<rect x="87.25" y="283.13" width="8.58" height="1.38" fill="#f4a885"/>
<rect x="87.25" y="284.47" width="8.58" height="1.38" fill="#f6b393"/>
<rect x="87.25" y="285.8" width="8.58" height="1.38" fill="#ec9374"/>
<rect x="87.25" y="287.13" width="8.58" height="1.38" fill="#dc6d57"/>
<rect x="87.25" y="288.47" width="8.58" height="45.38" fill="#b2182b"/>
<rect x="95.78" y="221.8" width="8.58" height="1.38" fill="#cae2ee"/>
<rect x="95.78" y="223.13" width="8.58" height="1.38" fill="#d3e6f0"/>
<rect x="95.78" y="224.47" width="8.58" height="1.38" fill="#d1e5f0"/>
<rect x="95.78" y="225.8" width="8.58" height="1.38" fill="#d4e6f1"/>
<rect x="95.78" y="227.13" width="8.58" height="1.38" fill="#d2e6f0"/>
<rect x="95.78" y="228.47" width="8.58" height="1.38" fill="#d6e7f1"/>
<rect x="95.78" y="229.8" width="8.58" height="1.38" fill="#dbeaf2"/>
<rect x="95.78" y="231.13" width="8.58" height="1.38" fill="#faeae1"/>
<rect x="95.78" y="232.47" width="8.58" height="1.38" fill="#d5e7f1"/>
<rect x="95.78" y="233.8" width="8.58" height="1.38" fill="#d4e6f1"/>
<rect x="95.78" y="235.13" width="8.58" height="1.38" fill="#d0e4f0"/>
<rect x="95.78" y="236.47" width="8.58" height="1.38" fill="#d2e6f0"/>
<rect x="95.78" y="237.8" width="8.58" height="1.38" fill="#d4e6f1"/>
<rect x="95.78" y="239.13" width="8.58" height="1.38" fill="#dbeaf2"/>
<rect x="95.78" y="240.47" width="8.58" height="1.38" fill="#f9ece4"/>
<rect x="95.78" y="241.8" width="8.58" height="1.38" fill="#dbeaf2"/>
<rect x="95.78" y="243.13" width="8.58" height="1.38" fill="#bcdaea"/>
<rect x="95.78" y="244.47" width="8.58" height="1.38" fill="#cfe4ef"/>
<rect x="95.78" y="245.8" width="8.58" height="1.38" fill="#c6dfed"/>
<rect x="95.78" y="247.13" width="8.58" height="1.38" fill="#c6e0ed"/>
<rect x="95.78" y="248.47" width="8.58" height="1.38" fill="#d6e7f1"/>
<rect x="95.78" y="249.8" width="8.58" height="1.38" fill="#d6e8f1"/>
<rect x="95.78" y="251.13" width="8.58" height="1.38" fill="#d7e8f1"/>
<rect x="95.78" y="252.47" width="8.58" height="1.38" fill="#d1e5f0"/>
<rect x="95.78" y="253.8" width="8.58" height="1.38" fill="#cae2ee"/>
<rect x="95.78" y="255.13" width="8.58" height="1.38" fill="#d9e9f1"/>
<rect x="95.78" y="256.47" width="8.58" height="1.38" fill="#d5e7f1"/>
<rect x="95.78" y="257.8" width="8.58" height="1.38" fill="#dfecf3"/>
<rect x="95.78" y="259.13" width="8.58" height="1.38" fill="#d7e8f1"/>
<rect x="95.78" y="260.47" width="8.58" height="2.72" fill="#d1e5f0"/>
<rect x="95.78" y="263.13" width="8.58" height="1.38" fill="#c5dfed"/>
<rect x="95.78" y="264.47" width="8.58" height="1.38" fill="#cde3ef"/>
<rect x="95.78" y="265.8" width="8.58" height="1.38" fill="#d4e6f0"/>
<rect x="95.78" y="267.13" width="8.58" height="1.38" fill="#dae9f2"/>
<rect x="95.78" y="268.47" width="8.58" height="1.38" fill="#e1edf3"/>
<rect x="95.78" y="269.8" width="8.58" height="1.38" fill="#d4e6f0"/>
<rect x="95.78" y="271.13" width="8.58" height="1.38" fill="#dae9f2"/>
<rect x="95.78" y="272.47" width="8.58" height="1.38" fill="#cae2ee"/>
<rect x="95.78" y="273.8" width="8.58" height="1.38" fill="#e5eef4"/>
<rect x="95.78" y="275.13" width="8.58" height="1.38" fill="#d8e8f1"/>
<rect x="95.78" y="276.47" width="8.58" height="1.38" fill="#d2e5f0"/>
<rect x="95.78" y="277.8" width="8.58" height="1.38" fill="#ddebf2"/>
<rect x="95.78" y="279.13" width="8.58" height="1.38" fill="#cbe2ee"/>
<rect x="95.78" y="280.47" width="8.58" height="1.38" fill="#d9e9f1"/>
<rect x="95.78" y="281.8" width="8.58" height="1.38" fill="#d6e7f1"/>
<rect x="95.78" y="283.13" width="8.58" height="1.38" fill="#c6dfed"/>
<rect x="95.78" y="284.47" width="8.58" height="2.72" fill="#d7e8f1"/>
<rect x="95.78" y="287.13" width="8.58" height="1.38" fill="#cee4ef"/>
<rect x="95.78" y="288.47" width="8.58" height="1.38" fill="#cde3ef"/>
<rect x="95.78" y="289.8" width="8.58" height="1.38" fill="#d2e6f0"/>
<rect x="95.78" y="291.13" width="8.58" height="1.38" fill="#d7e8f1"/>
<rect x="95.78" y="292.47" width="8.58" height="1.38" fill="#dbeaf2"/>
<rect x="95.78" y="293.8" width="8.58" height="1.38" fill="#d8e8f1"/>
<rect x="95.78" y="295.13" width="8.58" height="1.38" fill="#d7e8f1"/>
<rect x="95.78" y="296.47" width="8.58" height="1.38" fill="#e0ecf3"/>
<rect x="95.78" y="297.8" width="8.58" height="1.38" fill="#cae1ee"/>
<rect x="95.78" y="299.13" width="8.58" height="1.38" fill="#deebf2"/>
<rect x="95.78" y="300.47" width="8.58" height="1.38" fill="#bedbeb"/>
<rect x="95.78" y="301.8" width="8.58" height="1.38" fill="#d8e8f1"/>
<rect x="95.78" y="303.13" width="8.58" height="1.38" fill="#d5e7f1"/>
<rect x="95.78" y="304.47" width="8.58" height="1.38" fill="#d6e7f1"/>
<rect x="95.78" y="305.8" width="8.58" height="1.38" fill="#afd4e6"/>
<rect x="95.78" y="307.13" width="8.58" height="1.38" fill="#97c8e0"/>
<rect x="95.78" y="308.47" width="8.58" height="1.38" fill="#9dcae1"/>
<rect x="95.78" y="309.8" width="8.58" height="1.38" fill="#dceaf2"/>
<rect x="95.78" y="311.13" width="8.58" height="1.38" fill="#d0e4f0"/>
<rect x="95.78" y="312.47" width="8.58" height="1.38" fill="#cce2ef"/>
<rect x="95.78" y="313.8" width="8.58" height="1.38" fill="#dbeaf2"/>
<rect x="95.78" y="315.13" width="8.58" height="1.38" fill="#d5e7f1"/>
<rect x="95.78" y="316.47" width="8.58" height="1.38" fill="#e5eef4"/>
<rect x="95.78" y="317.8" width="8.58" height="1.38" fill="#c7e0ed"/>
<rect x="95.78" y="319.13" width="8.58" height="1.38" fill="#c3deec"/>
<rect x="95.78" y="320.47" width="8.58" height="1.38" fill="#d7e8f1"/>
<rect x="95.78" y="321.8" width="8.58" height="1.38" fill="#c9e1ee"/>
<rect x="95.78" y="323.13" width="8.58" height="1.38" fill="#d2e6f0"/>
<rect x="95.78" y="324.47" width="8.58" height="1.38" fill="#e4eef4"/>
<rect x="95.78" y="325.8" width="8.58" height="1.38" fill="#dae9f2"/>
<rect x="95.78" y="327.13" width="8.58" height="1.38" fill="#d6e7f1"/>
<rect x="95.78" y="328.47" width="8.58" height="1.38" fill="#d6e8f1"/>
<rect x="95.78" y="329.8" width="8.58" height="1.38" fill="#d7e8f1"/>
<rect x="95.78" y="331.13" width="8.58" height="1.38" fill="#ddebf2"/>
<rect x="95.78" y="332.47" width="8.58" height="1.38" fill="#d4e6f1"/>
<rect x="104.3" y="221.8" width="8.58" height="1.38" fill="#d6e7f1"/>
<rect x="104.3" y="223.13" width="8.58" height="1.38" fill="#d3e6f0"/>
<rect x="104.3" y="224.47" width="8.58" height="1.38" fill="#d6e7f1"/>
<rect x="104.3" y="225.8" width="8.58" height="1.38" fill="#dceaf2"/>
<rect x="104.3" y="227.13" width="8.58" height="1.38" fill="#cee3ef"/>
<rect x="104.3" y="228.47" width="8.58" height="1.38" fill="#d2e6f0"/>
<rect x="104.3" y="229.8" width="8.58" height="1.38" fill="#dceaf2"/>
<rect x="104.3" y="231.13" width="8.58" height="1.38" fill="#cee3ef"/>
<rect x="104.3" y="232.47" width="8.58" height="1.38" fill="#cfe4f0"/>
<rect x="104.3" y="233.8" width="8.58" height="1.38" fill="#ddebf2"/>
<rect x="104.3" y="235.13" width="8.58" height="1.38" fill="#c8e0ed"/>
<rect x="104.3" y="236.47" width="8.58" height="1.38" fill="#d6e7f1"/>
<rect x="104.3" y="237.8" width="8.58" height="1.38" fill="#c1ddec"/>
<rect x="104.3" y="239.13" width="8.58" height="1.38" fill="#d9e9f1"/>
<rect x="104.3" y="240.47" width="8.58" height="1.38" fill="#d0e4f0"/>
<rect x="104.3" y="241.8" width="8.58" height="1.38" fill="#d9e9f1"/>
<rect x="104.3" y="243.13" width="8.58" height="1.38" fill="#b2d5e7"/>
<rect x="104.3" y="244.47" width="8.58" height="1.38" fill="#c3deec"/>
<rect x="104.3" y="245.8" width="8.58" height="1.38" fill="#d5e7f1"/>
<rect x="104.3" y="247.13" width="8.58" height="1.38" fill="#c8e1ed"/>
<rect x="104.3" y="248.47" width="8.58" height="1.38" fill="#cbe2ee"/>
<rect x="104.3" y="249.8" width="8.58" height="1.38" fill="#d8e8f1"/>
<rect x="104.3" y="251.13" width="8.58" height="1.38" fill="#c8e0ed"/>
<rect x="104.3" y="252.47" width="8.58" height="1.38" fill="#d5e7f1"/>
<rect x="104.3" y="253.8" width="8.58" height="1.38" fill="#d3e6f0"/>
<rect x="104.3" y="255.13" width="8.58" height="1.38" fill="#dfecf3"/>
<rect x="104.3" y="256.47" width="8.58" height="1.38" fill="#d4e7f1"/>
<rect x="104.3" y="257.8" width="8.58" height="1.38" fill="#e0ecf3"/>
<rect x="104.3" y="259.13" width="8.58" height="1.38" fill="#dae9f2"/>
<rect x="104.3" y="260.47" width="8.58" height="1.38" fill="#dfebf2"/>
<rect x="104.3" y="261.8" width="8.58" height="1.38" fill="#d2e5f0"/>
<rect x="104.3" y="263.13" width="8.58" height="1.38" fill="#b5d7e8"/>
<rect x="104.3" y="264.47" width="8.58" height="1.38" fill="#c0ddeb"/>
<rect x="104.3" y="265.8" width="8.58" height="1.38" fill="#dfecf3"/>
<rect x="104.3" y="267.13" width="8.58" height="1.38" fill="#d4e7f1"/>
<rect x="104.3" y="268.47" width="8.58" height="1.38" fill="#d7e8f1"/>
<rect x="104.3" y="269.8" width="8.58" height="1.38" fill="#d4e7f1"/>
<rect x="104.3" y="271.13" width="8.58" height="1.38" fill="#d6e7f1"/>
<rect x="104.3" y="272.47" width="8.58" height="1.38" fill="#d5e7f1"/>
<rect x="104.3" y="273.8" width="8.58" height="1.38" fill="#d2e5f0"/>
<rect x="104.3" y="275.13" width="8.58" height="1.38" fill="#cce3ef"/>
<rect x="104.3" y="276.47" width="8.58" height="1.38" fill="#d7e8f1"/>
<rect x="104.3" y="277.8" width="8.58" height="1.38" fill="#d6e7f1"/>
<rect x="104.3" y="279.13" width="8.58" height="1.38" fill="#b7d8e9"/>
<rect x="104.3" y="280.47" width="8.58" height="2.72" fill="#d5e7f1"/>
<rect x="104.3" y="283.13" width="8.58" height="1.38" fill="#d3e6f0"/>
<rect x="104.3" y="284.47" width="8.58" height="1.38" fill="#cae1ee"/>
<rect x="104.3" y="285.8" width="8.58" height="1.38" fill="#d1e5f0"/>
<rect x="104.3" y="287.13" width="8.58" height="1.38" fill="#c5dfed"/>
<rect x="104.3" y="288.47" width="8.58" height="1.38" fill="#c3deec"/>
<rect x="104.3" y="289.8" width="8.58" height="1.38" fill="#d3e6f0"/>
<rect x="104.3" y="291.13" width="8.58" height="1.38" fill="#c9e1ee"/>
<rect x="104.3" y="292.47" width="8.58" height="1.38" fill="#d1e5f0"/>
<rect x="104.3" y="293.8" width="8.58" height="1.38" fill="#d0e4f0"/>
<rect x="104.3" y="295.13" width="8.58" height="1.38" fill="#dbeaf2"/>
<rect x="104.3" y="296.47" width="8.58" height="1.38" fill="#dfebf3"/>
<rect x="104.3" y="297.8" width="8.58" height="1.38" fill="#d5e7f1"/>
<rect x="104.3" y="299.13" width="8.58" height="1.38" fill="#d0e4f0"/>
<rect x="104.3" y="300.47" width="8.58" height="1.38" fill="#d3e6f0"/>
<rect x="104.3" y="301.8" width="8.58" height="1.38" fill="#d4e7f1"/>
<rect x="104.3" y="303.13" width="8.58" height="1.38" fill="#d1e5f0"/>
<rect x="104.3" y="304.47" width="8.58" height="1.38" fill="#d0e4f0"/>
<rect x="104.3" y="305.8" width="8.58" height="1.38" fill="#bbdaea"/>
<rect x="104.3" y="307.13" width="8.58" height="1.38" fill="#96c7df"/>
<rect x="104.3" y="308.47" width="8.58" height="1.38" fill="#8cc1dc"/>
<rect x="104.3" y="309.8" width="8.58" height="1.38" fill="#d5e7f1"/>
<rect x="104.3" y="311.13" width="8.58" height="1.38" fill="#c7e0ed"/>
<rect x="104.3" y="312.47" width="8.58" height="1.38" fill="#c8e1ee"/>
<rect x="104.3" y="313.8" width="8.58" height="1.38" fill="#d0e5f0"/>
<rect x="104.3" y="315.13" width="8.58" height="1.38" fill="#e1ecf3"/>
<rect x="104.3" y="316.47" width="8.58" height="1.38" fill="#d7e8f1"/>
<rect x="104.3" y="317.8" width="8.58" height="1.38" fill="#c8e0ed"/>
<rect x="104.3" y="319.13" width="8.58" height="1.38" fill="#c5dfed"/>
<rect x="104.3" y="320.47" width="8.58" height="1.38" fill="#d5e7f1"/>
<rect x="104.3" y="321.8" width="8.58" height="1.38" fill="#c9e1ee"/>
<rect x="104.3" y="323.13" width="8.58" height="1.38" fill="#cee3ef"/>
<rect x="104.3" y="324.47" width="8.58" height="1.38" fill="#c8e1ee"/>
<rect x="104.3" y="325.8" width="8.58" height="1.38" fill="#dceaf2"/>
<rect x="104.3" y="327.13" width="8.58" height="1.38" fill="#d0e4f0"/>
<rect x="104.3" y="328.47" width="8.58" height="1.38" fill="#d8e8f1"/>
<rect x="104.3" y="329.8" width="8.58" height="1.38" fill="#cae1ee"/>
<rect x="104.3" y="331.13" width="8.58" height="1.38" fill="#d8e8f1"/>
<rect x="104.3" y="332.47" width="8.58" height="1.38" fill="#d6e7f1"/>
<rect x="112.83" y="221.8" width="8.58" height="1.38" fill="#cae2ee"/>
<rect x="112.83" y="223.13" width="8.58" height="1.38" fill="#cee3ef"/>
<rect x="112.83" y="224.47" width="8.58" height="1.38" fill="#d2e5f0"/>
<rect x="112.83" y="225.8" width="8.58" height="1.38" fill="#dae9f2"/>
<rect x="112.83" y="227.13" width="8.58" height="1.38" fill="#c5dfed"/>
<rect x="112.83" y="228.47" width="8.58" height="1.38" fill="#ddebf2"/>
<rect x="112.83" y="229.8" width="8.58" height="1.38" fill="#dae9f2"/>
<rect x="112.83" y="231.13" width="8.58" height="1.38" fill="#fae9df"/>
<rect x="112.83" y="232.47" width="8.58" height="1.38" fill="#d9e9f1"/>
<rect x="112.83" y="233.8" width="8.58" height="1.38" fill="#dae9f2"/>
<rect x="112.83" y="235.13" width="8.58" height="1.38" fill="#b5d7e8"/>
<rect x="112.83" y="236.47" width="8.58" height="1.38" fill="#d9e9f2"/>
<rect x="112.83" y="237.8" width="8.58" height="1.38" fill="#d7e8f1"/>
<rect x="112.83" y="239.13" width="8.58" height="1.38" fill="#d4e6f1"/>
<rect x="112.83" y="240.47" width="8.58" height="1.38" fill="#dfecf3"/>
<rect x="112.83" y="241.8" width="8.58" height="1.38" fill="#d2e5f0"/>
<rect x="112.83" y="243.13" width="8.58" height="1.38" fill="#fbe4d7"/>
<rect x="112.83" y="244.47" width="8.58" height="1.38" fill="#c9e1ee"/>
<rect x="112.83" y="245.8" width="8.58" height="1.38" fill="#d1e5f0"/>
<rect x="112.83" y="247.13" width="8.58" height="1.38" fill="#d5e7f1"/>
<rect x="112.83" y="248.47" width="8.58" height="1.38" fill="#d7e8f1"/>
<rect x="112.83" y="249.8" width="8.58" height="1.38" fill="#cee4ef"/>
<rect x="112.83" y="251.13" width="8.58" height="1.38" fill="#d8e8f1"/>
<rect x="112.83" y="252.47" width="8.58" height="1.38" fill="#cde3ef"/>
<rect x="112.83" y="253.8" width="8.58" height="1.38" fill="#d8e8f1"/>
<rect x="112.83" y="255.13" width="8.58" height="1.38" fill="#cde3ef"/>
<rect x="112.83" y="256.47" width="8.58" height="1.38" fill="#d4e6f1"/>
<rect x="112.83" y="257.8" width="8.58" height="1.38" fill="#d9e9f2"/>
<rect x="112.83" y="259.13" width="8.58" height="1.38" fill="#d7e8f1"/>
<rect x="112.83" y="260.47" width="8.58" height="1.38" fill="#d4e6f1"/>
<rect x="112.83" y="261.8" width="8.58" height="1.38" fill="#d2e5f0"/>
<rect x="112.83" y="263.13" width="8.58" height="1.38" fill="#c0ddeb"/>
<rect x="112.83" y="264.47" width="8.58" height="1.38" fill="#d9e9f2"/>
<rect x="112.83" y="265.8" width="8.58" height="1.38" fill="#d7e8f1"/>
<rect x="112.83" y="267.13" width="8.58" height="1.38" fill="#d0e5f0"/>
<rect x="112.83" y="268.47" width="8.58" height="1.38" fill="#fbe7db"/>
<rect x="112.83" y="269.8" width="8.58" height="1.38" fill="#c8e0ed"/>
<rect x="112.83" y="271.13" width="8.58" height="1.38" fill="#d2e5f0"/>
<rect x="112.83" y="272.47" width="8.58" height="1.38" fill="#cce3ef"/>
<rect x="112.83" y="273.8" width="8.58" height="1.38" fill="#dfebf2"/>
<rect x="112.83" y="275.13" width="8.58" height="1.38" fill="#c8e1ee"/>
<rect x="112.83" y="276.47" width="8.58" height="1.38" fill="#cfe4ef"/>
<rect x="112.83" y="277.8" width="8.58" height="1.38" fill="#d1e5f0"/>
<rect x="112.83" y="279.13" width="8.58" height="1.38" fill="#b8d8e9"/>
<rect x="112.83" y="280.47" width="8.58" height="1.38" fill="#cde3ef"/>
<rect x="112.83" y="281.8" width="8.58" height="1.38" fill="#dae9f2"/>
<rect x="112.83" y="283.13" width="8.58" height="1.38" fill="#c5dfed"/>
<rect x="112.83" y="284.47" width="8.58" height="1.38" fill="#c8e0ed"/>
<rect x="112.83" y="285.8" width="8.58" height="1.38" fill="#cfe4f0"/>
<rect x="112.83" y="287.13" width="8.58" height="1.38" fill="#d6e7f1"/>
<rect x="112.83" y="288.47" width="8.58" height="1.38" fill="#c8e0ed"/>
<rect x="112.83" y="289.8" width="8.58" height="1.38" fill="#dae9f2"/>
<rect x="112.83" y="291.13" width="8.58" height="1.38" fill="#d0e4f0"/>
<rect x="112.83" y="292.47" width="8.58" height="1.38" fill="#d4e7f1"/>
<rect x="112.83" y="293.8" width="8.58" height="1.38" fill="#d3e6f0"/>
<rect x="112.83" y="295.13" width="8.58" height="1.38" fill="#d9e9f1"/>
<rect x="112.83" y="296.47" width="8.58" height="1.38" fill="#d6e7f1"/>
<rect x="112.83" y="297.8" width="8.58" height="1.38" fill="#cce3ef"/>
<rect x="112.83" y="299.13" width="8.58" height="1.38" fill="#d3e6f0"/>
<rect x="112.83" y="300.47" width="8.58" height="1.38" fill="#d6e7f1"/>
<rect x="112.83" y="301.8" width="8.58" height="1.38" fill="#e0ecf3"/>
<rect x="112.83" y="303.13" width="8.58" height="1.38" fill="#d4e7f1"/>
<rect x="112.83" y="304.47" width="8.58" height="1.38" fill="#f8f3f1"/>
<rect x="112.83" y="305.8" width="8.58" height="1.38" fill="#bedbeb"/>
<rect x="112.83" y="307.13" width="8.58" height="1.38" fill="#8cc1dc"/>
<rect x="112.83" y="308.47" width="8.58" height="1.38" fill="#8fc3dd"/>
<rect x="112.83" y="309.8" width="8.58" height="1.38" fill="#d5e7f1"/>
<rect x="112.83" y="311.13" width="8.58" height="1.38" fill="#bfdceb"/>
<rect x="112.83" y="312.47" width="8.58" height="1.38" fill="#c1ddeb"/>
<rect x="112.83" y="313.8" width="8.58" height="1.38" fill="#d1e5f0"/>
<rect x="112.83" y="315.13" width="8.58" height="1.38" fill="#d2e5f0"/>
<rect x="112.83" y="316.47" width="8.58" height="1.38" fill="#dae9f2"/>
<rect x="112.83" y="317.8" width="8.58" height="1.38" fill="#d6e7f1"/>
<rect x="112.83" y="319.13" width="8.58" height="1.38" fill="#c8e0ed"/>
<rect x="112.83" y="320.47" width="8.58" height="1.38" fill="#cee4ef"/>
<rect x="112.83" y="321.8" width="8.58" height="1.38" fill="#d9e9f2"/>
<rect x="112.83" y="323.13" width="8.58" height="1.38" fill="#cee4ef"/>
<rect x="112.83" y="324.47" width="8.58" height="1.38" fill="#deebf2"/>
<rect x="112.83" y="325.8" width="8.58" height="1.38" fill="#d2e6f0"/>
<rect x="112.83" y="327.13" width="8.58" height="1.38" fill="#d9e9f1"/>
<rect x="112.83" y="328.47" width="8.58" height="1.38" fill="#d4e7f1"/>
<rect x="112.83" y="329.8" width="8.58" height="1.38" fill="#d6e7f1"/>
<rect x="112.83" y="331.13" width="8.58" height="1.38" fill="#d1e5f0"/>
<rect x="112.83" y="332.47" width="8.58" height="1.38" fill="#f9efea"/>
<rect x="121.36" y="221.8" width="8.58" height="1.38" fill="#c3deec"/>
<rect x="121.36" y="223.13" width="8.58" height="1.38" fill="#cfe4ef"/>
<rect x="121.36" y="224.47" width="8.58" height="1.38" fill="#d2e5f0"/>
<rect x="121.36" y="225.8" width="8.58" height="1.38" fill="#d5e7f1"/>
<rect x="121.36" y="227.13" width="8.58" height="1.38" fill="#faeae0"/>
<rect x="121.36" y="228.47" width="8.58" height="1.38" fill="#d5e7f1"/>
<rect x="121.36" y="229.8" width="8.58" height="1.38" fill="#dceaf2"/>
<rect x="121.36" y="231.13" width="8.58" height="1.38" fill="#d6e7f1"/>
<rect x="121.36" y="232.47" width="8.58" height="1.38" fill="#e3edf3"/>
<rect x="121.36" y="233.8" width="8.58" height="1.38" fill="#d7e8f1"/>
<rect x="121.36" y="235.13" width="8.58" height="1.38" fill="#c3deec"/>
<rect x="121.36" y="236.47" width="8.58" height="1.38" fill="#d7e8f1"/>
<rect x="121.36" y="237.8" width="8.58" height="1.38" fill="#d3e6f0"/>
<rect x="121.36" y="239.13" width="8.58" height="1.38" fill="#d1e5f0"/>
<rect x="121.36" y="240.47" width="8.58" height="1.38" fill="#d6e7f1"/>
<rect x="121.36" y="241.8" width="8.58" height="1.38" fill="#d1e5f0"/>
<rect x="121.36" y="243.13" width="8.58" height="1.38" fill="#f7f7f7"/>
<rect x="121.36" y="244.47" width="8.58" height="1.38" fill="#c7e0ed"/>
<rect x="121.36" y="245.8" width="8.58" height="1.38" fill="#d2e5f0"/>
<rect x="121.36" y="247.13" width="8.58" height="1.38" fill="#d0e5f0"/>
<rect x="121.36" y="248.47" width="8.58" height="1.38" fill="#dceaf2"/>
<rect x="121.36" y="249.8" width="8.58" height="1.38" fill="#deebf2"/>
<rect x="121.36" y="251.13" width="8.58" height="1.38" fill="#d2e6f0"/>
<rect x="121.36" y="252.47" width="8.58" height="1.38" fill="#d7e8f1"/>
<rect x="121.36" y="253.8" width="8.58" height="1.38" fill="#dceaf2"/>
<rect x="121.36" y="255.13" width="8.58" height="1.38" fill="#dfebf3"/>
<rect x="121.36" y="256.47" width="8.58" height="1.38" fill="#cce2ee"/>
<rect x="121.36" y="257.8" width="8.58" height="1.38" fill="#d8e8f1"/>
<rect x="121.36" y="259.13" width="8.58" height="1.38" fill="#e1ecf3"/>
<rect x="121.36" y="260.47" width="8.58" height="1.38" fill="#d7e8f1"/>
<rect x="121.36" y="261.8" width="8.58" height="1.38" fill="#e0ecf3"/>
<rect x="121.36" y="263.13" width="8.58" height="1.38" fill="#c3deec"/>
<rect x="121.36" y="264.47" width="8.58" height="1.38" fill="#cee4ef"/>
<rect x="121.36" y="265.8" width="8.58" height="1.38" fill="#dbeaf2"/>
<rect x="121.36" y="267.13" width="8.58" height="1.38" fill="#d4e6f1"/>
<rect x="121.36" y="268.47" width="8.58" height="1.38" fill="#d3e6f0"/>
<rect x="121.36" y="269.8" width="8.58" height="1.38" fill="#cae1ee"/>
<rect x="121.36" y="271.13" width="8.58" height="1.38" fill="#d6e8f1"/>
<rect x="121.36" y="272.47" width="8.58" height="1.38" fill="#f8f2ee"/>
<rect x="121.36" y="273.8" width="8.58" height="1.38" fill="#d6e7f1"/>
<rect x="121.36" y="275.13" width="8.58" height="1.38" fill="#c2deec"/>
<rect x="121.36" y="276.47" width="8.58" height="1.38" fill="#d0e5f0"/>
<rect x="121.36" y="277.8" width="8.58" height="1.38" fill="#dceaf2"/>
<rect x="121.36" y="279.13" width="8.58" height="1.38" fill="#bddbea"/>
<rect x="121.36" y="280.47" width="8.58" height="1.38" fill="#d3e6f0"/>
<rect x="121.36" y="281.8" width="8.58" height="1.38" fill="#e6eff4"/>
<rect x="121.36" y="283.13" width="8.58" height="1.38" fill="#d0e4f0"/>
<rect x="121.36" y="284.47" width="8.58" height="1.38" fill="#d0e5f0"/>
<rect x="121.36" y="285.8" width="8.58" height="1.38" fill="#d5e7f1"/>
<rect x="121.36" y="287.13" width="8.58" height="1.38" fill="#cbe2ee"/>
<rect x="121.36" y="288.47" width="8.58" height="1.38" fill="#c7e0ed"/>
<rect x="121.36" y="289.8" width="8.58" height="1.38" fill="#dceaf2"/>
<rect x="121.36" y="291.13" width="8.58" height="1.38" fill="#cee4ef"/>
<rect x="121.36" y="292.47" width="8.58" height="1.38" fill="#ddebf2"/>
<rect x="121.36" y="293.8" width="8.58" height="1.38" fill="#d5e7f1"/>
<rect x="121.36" y="295.13" width="8.58" height="1.38" fill="#dae9f2"/>
<rect x="121.36" y="296.47" width="8.58" height="1.38" fill="#dceaf2"/>
<rect x="121.36" y="297.8" width="8.58" height="1.38" fill="#deebf2"/>
<rect x="121.36" y="299.13" width="8.58" height="1.38" fill="#cee3ef"/>
<rect x="121.36" y="300.47" width="8.58" height="1.38" fill="#cce2ef"/>
<rect x="121.36" y="301.8" width="8.58" height="1.38" fill="#d9e9f1"/>
<rect x="121.36" y="303.13" width="8.58" height="1.38" fill="#d5e7f1"/>
<rect x="121.36" y="304.47" width="8.58" height="1.38" fill="#cbe2ee"/>
<rect x="121.36" y="305.8" width="8.58" height="1.38" fill="#b8d8e9"/>
<rect x="121.36" y="307.13" width="8.58" height="1.38" fill="#b7d8e9"/>
<rect x="121.36" y="308.47" width="8.58" height="1.38" fill="#a1cde2"/>
<rect x="121.36" y="309.8" width="8.58" height="1.38" fill="#d4e6f1"/>
<rect x="121.36" y="311.13" width="8.58" height="1.38" fill="#bcdaea"/>
<rect x="121.36" y="312.47" width="8.58" height="1.38" fill="#c6dfed"/>
<rect x="121.36" y="313.8" width="8.58" height="1.38" fill="#dceaf2"/>
<rect x="121.36" y="315.13" width="8.58" height="1.38" fill="#e7eff4"/>
<rect x="121.36" y="316.47" width="8.58" height="1.38" fill="#d7e8f1"/>
<rect x="121.36" y="317.8" width="8.58" height="1.38" fill="#c8e0ed"/>
<rect x="121.36" y="319.13" width="8.58" height="1.38" fill="#d3e6f0"/>
<rect x="121.36" y="320.47" width="8.58" height="1.38" fill="#d8e8f1"/>
<rect x="121.36" y="321.8" width="8.58" height="1.38" fill="#c0ddeb"/>
<rect x="121.36" y="323.13" width="8.58" height="1.38" fill="#d3e6f0"/>
<rect x="121.36" y="324.47" width="8.58" height="1.38" fill="#dae9f2"/>
<rect x="121.36" y="325.8" width="8.58" height="1.38" fill="#e1ecf3"/>
<rect x="121.36" y="327.13" width="8.58" height="1.38" fill="#d8e8f1"/>
<rect x="121.36" y="328.47" width="8.58" height="1.38" fill="#e2edf3"/>
<rect x="121.36" y="329.8" width="8.58" height="1.38" fill="#d3e6f0"/>
<rect x="121.36" y="331.13" width="8.58" height="1.38" fill="#dae9f2"/>
<rect x="121.36" y="332.47" width="8.58" height="1.38" fill="#d9e9f2"/>
<rect x="129.89" y="221.8" width="8.58" height="1.38" fill="#c9e1ee"/>
<rect x="129.89" y="223.13" width="8.58" height="1.38" fill="#d4e6f1"/>
<rect x="129.89" y="224.47" width="8.58" height="1.38" fill="#cee3ef"/>
<rect x="129.89" y="225.8" width="8.58" height="1.38" fill="#d7e8f1"/>
<rect x="129.89" y="227.13" width="8.58" height="1.38" fill="#d5e7f1"/>
<rect x="129.89" y="228.47" width="8.58" height="1.38" fill="#d4e6f0"/>
<rect x="129.89" y="229.8" width="8.58" height="1.38" fill="#d3e6f0"/>
<rect x="129.89" y="231.13" width="8.58" height="1.38" fill="#e1ecf3"/>
<rect x="129.89" y="232.47" width="8.58" height="1.38" fill="#e3eef3"/>
<rect x="129.89" y="233.8" width="8.58" height="1.38" fill="#d9e9f1"/>
<rect x="129.89" y="235.13" width="8.58" height="1.38" fill="#c5dfec"/>
<rect x="129.89" y="236.47" width="8.58" height="2.72" fill="#d5e7f1"/>
<rect x="129.89" y="239.13" width="8.58" height="1.38" fill="#d6e7f1"/>
<rect x="129.89" y="240.47" width="8.58" height="1.38" fill="#d7e8f1"/>
<rect x="129.89" y="241.8" width="8.58" height="1.38" fill="#d4e7f1"/>
<rect x="129.89" y="243.13" width="8.58" height="1.38" fill="#bfdceb"/>
<rect x="129.89" y="244.47" width="8.58" height="1.38" fill="#d1e5f0"/>
<rect x="129.89" y="245.8" width="8.58" height="1.38" fill="#fae9df"/>
<rect x="129.89" y="247.13" width="8.58" height="1.38" fill="#d9e9f2"/>
<rect x="129.89" y="248.47" width="8.58" height="1.38" fill="#e3edf3"/>
<rect x="129.89" y="249.8" width="8.58" height="1.38" fill="#d8e8f1"/>
<rect x="129.89" y="251.13" width="8.58" height="1.38" fill="#dfecf3"/>
<rect x="129.89" y="252.47" width="8.58" height="1.38" fill="#c4deec"/>
<rect x="129.89" y="253.8" width="8.58" height="1.38" fill="#e1edf3"/>
<rect x="129.89" y="255.13" width="8.58" height="1.38" fill="#deebf2"/>
<rect x="129.89" y="256.47" width="8.58" height="1.38" fill="#cae1ee"/>
<rect x="129.89" y="257.8" width="8.58" height="1.38" fill="#deebf2"/>
<rect x="129.89" y="259.13" width="8.58" height="1.38" fill="#d5e7f1"/>
<rect x="129.89" y="260.47" width="8.58" height="1.38" fill="#d8e8f1"/>
<rect x="129.89" y="261.8" width="8.58" height="1.38" fill="#d0e4f0"/>
<rect x="129.89" y="263.13" width="8.58" height="1.38" fill="#aed3e6"/>
<rect x="129.89" y="264.47" width="8.58" height="1.38" fill="#d3e6f0"/>
<rect x="129.89" y="265.8" width="8.58" height="2.72" fill="#dae9f2"/>
<rect x="129.89" y="268.47" width="8.58" height="1.38" fill="#d2e5f0"/>
<rect x="129.89" y="269.8" width="8.58" height="1.38" fill="#cbe2ee"/>
<rect x="129.89" y="271.13" width="8.58" height="1.38" fill="#dceaf2"/>
<rect x="129.89" y="272.47" width="8.58" height="1.38" fill="#deebf2"/>
<rect x="129.89" y="273.8" width="8.58" height="1.38" fill="#dfebf3"/>
<rect x="129.89" y="275.13" width="8.58" height="1.38" fill="#cae1ee"/>
<rect x="129.89" y="276.47" width="8.58" height="1.38" fill="#d7e8f1"/>
<rect x="129.89" y="277.8" width="8.58" height="1.38" fill="#c7e0ed"/>
<rect x="129.89" y="279.13" width="8.58" height="1.38" fill="#dbeaf2"/>
<rect x="129.89" y="280.47" width="8.58" height="1.38" fill="#d9e9f1"/>
<rect x="129.89" y="281.8" width="8.58" height="1.38" fill="#ddebf2"/>
<rect x="129.89" y="283.13" width="8.58" height="1.38" fill="#c7e0ed"/>
<rect x="129.89" y="284.47" width="8.58" height="1.38" fill="#cde3ef"/>
<rect x="129.89" y="285.8" width="8.58" height="1.38" fill="#d6e7f1"/>
<rect x="129.89" y="287.13" width="8.58" height="1.38" fill="#fae7db"/>
<rect x="129.89" y="288.47" width="8.58" height="1.38" fill="#c0dceb"/>
<rect x="129.89" y="289.8" width="8.58" height="1.38" fill="#d4e6f1"/>
<rect x="129.89" y="291.13" width="8.58" height="1.38" fill="#cfe4ef"/>
<rect x="129.89" y="292.47" width="8.58" height="1.38" fill="#e0ecf3"/>
<rect x="129.89" y="293.8" width="8.58" height="1.38" fill="#d9e9f1"/>
<rect x="129.89" y="295.13" width="8.58" height="1.38" fill="#d0e4f0"/>
<rect x="129.89" y="296.47" width="8.58" height="1.38" fill="#e2edf3"/>
<rect x="129.89" y="297.8" width="8.58" height="1.38" fill="#dbeaf2"/>
<rect x="129.89" y="299.13" width="8.58" height="1.38" fill="#d7e8f1"/>
<rect x="129.89" y="300.47" width="8.58" height="1.38" fill="#d6e8f1"/>
<rect x="129.89" y="301.8" width="8.58" height="1.38" fill="#d4e7f1"/>
<rect x="129.89" y="303.13" width="8.58" height="1.38" fill="#d0e4f0"/>
<rect x="129.89" y="304.47" width="8.58" height="1.38" fill="#c7e0ed"/>
<rect x="129.89" y="305.8" width="8.58" height="1.38" fill="#c4deec"/>
<rect x="129.89" y="307.13" width="8.58" height="1.38" fill="#a6cfe4"/>
<rect x="129.89" y="308.47" width="8.58" height="1.38" fill="#bfdceb"/>
<rect x="129.89" y="309.8" width="8.58" height="1.38" fill="#e7eff4"/>
<rect x="129.89" y="311.13" width="8.58" height="1.38" fill="#cae1ee"/>
<rect x="129.89" y="312.47" width="8.58" height="1.38" fill="#cce2ee"/>
<rect x="129.89" y="313.8" width="8.58" height="1.38" fill="#dae9f2"/>
<rect x="129.89" y="315.13" width="8.58" height="1.38" fill="#deebf2"/>
<rect x="129.89" y="316.47" width="8.58" height="1.38" fill="#f9ede6"/>
<rect x="129.89" y="317.8" width="8.58" height="1.38" fill="#bedbeb"/>
<rect x="129.89" y="319.13" width="8.58" height="1.38" fill="#c8e0ed"/>
<rect x="129.89" y="320.47" width="8.58" height="1.38" fill="#dbeaf2"/>
<rect x="129.89" y="321.8" width="8.58" height="1.38" fill="#c0ddeb"/>
<rect x="129.89" y="323.13" width="8.58" height="1.38" fill="#c3deec"/>
<rect x="129.89" y="324.47" width="8.58" height="2.72" fill="#e0ecf3"/>
<rect x="129.89" y="327.13" width="8.58" height="1.38" fill="#d4e6f0"/>
<rect x="129.89" y="328.47" width="8.58" height="1.38" fill="#d5e7f1"/>
<rect x="129.89" y="329.8" width="8.58" height="1.38" fill="#d7e8f1"/>
<rect x="129.89" y="331.13" width="8.58" height="1.38" fill="#ddebf2"/>
<rect x="129.89" y="332.47" width="8.58" height="1.38" fill="#dae9f2"/>
<rect x="138.42" y="221.8" width="8.58" height="1.38" fill="#d6e7f1"/>
<rect x="138.42" y="223.13" width="8.58" height="1.38" fill="#d8e8f1"/>
<rect x="138.42" y="224.47" width="8.58" height="1.38" fill="#dbeaf2"/>
<rect x="138.42" y="225.8" width="8.58" height="1.38" fill="#d4e7f1"/>
<rect x="138.42" y="227.13" width="8.58" height="1.38" fill="#cfe4ef"/>
<rect x="138.42" y="228.47" width="8.58" height="1.38" fill="#d1e5f0"/>
<rect x="138.42" y="229.8" width="8.58" height="1.38" fill="#ddebf2"/>
<rect x="138.42" y="231.13" width="8.58" height="1.38" fill="#d8e8f1"/>
<rect x="138.42" y="232.47" width="8.58" height="2.72" fill="#d9e9f1"/>
<rect x="138.42" y="235.13" width="8.58" height="1.38" fill="#b2d5e7"/>
<rect x="138.42" y="236.47" width="8.58" height="1.38" fill="#cee4ef"/>
<rect x="138.42" y="237.8" width="8.58" height="1.38" fill="#cbe2ee"/>
<rect x="138.42" y="239.13" width="8.58" height="1.38" fill="#d5e7f1"/>
<rect x="138.42" y="240.47" width="8.58" height="1.38" fill="#d3e6f0"/>
<rect x="138.42" y="241.8" width="8.58" height="1.38" fill="#dbeaf2"/>
<rect x="138.42" y="243.13" width="8.58" height="1.38" fill="#a6cfe4"/>
<rect x="138.42" y="244.47" width="8.58" height="1.38" fill="#d5e7f1"/>
<rect x="138.42" y="245.8" width="8.58" height="1.38" fill="#d1e5f0"/>
<rect x="138.42" y="247.13" width="8.58" height="1.38" fill="#d8e8f1"/>
<rect x="138.42" y="248.47" width="8.58" height="1.38" fill="#dae9f2"/>
<rect x="138.42" y="249.8" width="8.58" height="1.38" fill="#c3deec"/>
<rect x="138.42" y="251.13" width="8.58" height="1.38" fill="#deebf2"/>
<rect x="138.42" y="252.47" width="8.58" height="1.38" fill="#d4e6f1"/>
<rect x="138.42" y="253.8" width="8.58" height="1.38" fill="#d6e7f1"/>
<rect x="138.42" y="255.13" width="8.58" height="1.38" fill="#ddeaf2"/>
<rect x="138.42" y="256.47" width="8.58" height="1.38" fill="#cfe4ef"/>
<rect x="138.42" y="257.8" width="8.58" height="1.38" fill="#dceaf2"/>
<rect x="138.42" y="259.13" width="8.58" height="1.38" fill="#dae9f2"/>
<rect x="138.42" y="260.47" width="8.58" height="1.38" fill="#dbeaf2"/>
<rect x="138.42" y="261.8" width="8.58" height="1.38" fill="#d9e9f2"/>
<rect x="138.42" y="263.13" width="8.58" height="1.38" fill="#b4d6e8"/>
<rect x="138.42" y="264.47" width="8.58" height="1.38" fill="#d4e7f1"/>
<rect x="138.42" y="265.8" width="8.58" height="1.38" fill="#d3e6f0"/>
<rect x="138.42" y="267.13" width="8.58" height="1.38" fill="#d6e7f1"/>
<rect x="138.42" y="268.47" width="8.58" height="1.38" fill="#d2e5f0"/>
<rect x="138.42" y="269.8" width="8.58" height="1.38" fill="#cfe4ef"/>
<rect x="138.42" y="271.13" width="8.58" height="1.38" fill="#cbe2ee"/>
<rect x="138.42" y="272.47" width="8.58" height="1.38" fill="#d7e8f1"/>
<rect x="138.42" y="273.8" width="8.58" height="1.38" fill="#d9e9f1"/>
<rect x="138.42" y="275.13" width="8.58" height="1.38" fill="#d7e8f1"/>
<rect x="138.42" y="276.47" width="8.58" height="1.38" fill="#dbeaf2"/>
<rect x="138.42" y="277.8" width="8.58" height="1.38" fill="#d6e7f1"/>
<rect x="138.42" y="279.13" width="8.58" height="1.38" fill="#d4e7f1"/>
<rect x="138.42" y="280.47" width="8.58" height="1.38" fill="#d7e8f1"/>
<rect x="138.42" y="281.8" width="8.58" height="1.38" fill="#ddebf2"/>
<rect x="138.42" y="283.13" width="8.58" height="1.38" fill="#c6e0ed"/>
<rect x="138.42" y="284.47" width="8.58" height="1.38" fill="#d7e8f1"/>
<rect x="138.42" y="285.8" width="8.58" height="1.38" fill="#d8e9f1"/>
<rect x="138.42" y="287.13" width="8.58" height="1.38" fill="#c6dfed"/>
<rect x="138.42" y="288.47" width="8.58" height="1.38" fill="#cae2ee"/>
<rect x="138.42" y="289.8" width="8.58" height="1.38" fill="#ddebf2"/>
<rect x="138.42" y="291.13" width="8.58" height="1.38" fill="#c4deec"/>
<rect x="138.42" y="292.47" width="8.58" height="1.38" fill="#d4e7f1"/>
<rect x="138.42" y="293.8" width="8.58" height="1.38" fill="#d9e9f1"/>
<rect x="138.42" y="295.13" width="8.58" height="1.38" fill="#e0ecf3"/>
<rect x="138.42" y="296.47" width="8.58" height="1.38" fill="#e1ecf3"/>
<rect x="138.42" y="297.8" width="8.58" height="1.38" fill="#d7e8f1"/>
<rect x="138.42" y="299.13" width="8.58" height="1.38" fill="#cee3ef"/>
<rect x="138.42" y="300.47" width="8.58" height="1.38" fill="#cae1ee"/>
<rect x="138.42" y="301.8" width="8.58" height="1.38" fill="#d5e7f1"/>
<rect x="138.42" y="303.13" width="8.58" height="1.38" fill="#dbeaf2"/>
<rect x="138.42" y="304.47" width="8.58" height="1.38" fill="#d7e8f1"/>
<rect x="138.42" y="305.8" width="8.58" height="1.38" fill="#b4d6e8"/>
<rect x="138.42" y="307.13" width="8.58" height="1.38" fill="#a1cce2"/>
<rect x="138.42" y="308.47" width="8.58" height="1.38" fill="#b5d7e8"/>
<rect x="138.42" y="309.8" width="8.58" height="1.38" fill="#e4eef3"/>
<rect x="138.42" y="311.13" width="8.58" height="2.72" fill="#c4deec"/>
<rect x="138.42" y="313.8" width="8.58" height="1.38" fill="#ddebf2"/>
<rect x="138.42" y="315.13" width="8.58" height="1.38" fill="#deebf2"/>
<rect x="138.42" y="316.47" width="8.58" height="1.38" fill="#d1e5f0"/>
<rect x="138.42" y="317.8" width="8.58" height="1.38" fill="#cae1ee"/>
<rect x="138.42" y="319.13" width="8.58" height="1.38" fill="#bad9e9"/>
<rect x="138.42" y="320.47" width="8.58" height="1.38" fill="#d9e9f1"/>
<rect x="138.42" y="321.8" width="8.58" height="1.38" fill="#fae8dd"/>
<rect x="138.42" y="323.13" width="8.58" height="1.38" fill="#c5dfed"/>
<rect x="138.42" y="324.47" width="8.58" height="1.38" fill="#d6e7f1"/>
<rect x="138.42" y="325.8" width="8.58" height="1.38" fill="#d1e5f0"/>
<rect x="138.42" y="327.13" width="8.58" height="1.38" fill="#dae9f2"/>
<rect x="138.42" y="328.47" width="8.58" height="1.38" fill="#d1e5f0"/>
<rect x="138.42" y="329.8" width="8.58" height="2.72" fill="#dbeaf2"/>
<rect x="138.42" y="332.47" width="8.58" height="1.38" fill="#ddebf2"/>
<rect x="146.95" y="221.8" width="8.58" height="1.38" fill="#cee4ef"/>
<rect x="146.95" y="223.13" width="8.58" height="1.38" fill="#e0ecf3"/>
<rect x="146.95" y="224.47" width="8.58" height="1.38" fill="#d0e4f0"/>
<rect x="146.95" y="225.8" width="8.58" height="1.38" fill="#d5e7f1"/>
<rect x="146.95" y="227.13" width="8.58" height="1.38" fill="#c5dfed"/>
<rect x="146.95" y="228.47" width="8.58" height="1.38" fill="#d0e4f0"/>
<rect x="146.95" y="229.8" width="8.58" height="1.38" fill="#d5e7f1"/>
<rect x="146.95" y="231.13" width="8.58" height="1.38" fill="#e1ecf3"/>
<rect x="146.95" y="232.47" width="8.58" height="1.38" fill="#dbeaf2"/>
<rect x="146.95" y="233.8" width="8.58" height="1.38" fill="#f7f6f5"/>
<rect x="146.95" y="235.13" width="8.58" height="1.38" fill="#b7d8e9"/>
<rect x="146.95" y="236.47" width="8.58" height="1.38" fill="#d3e6f0"/>
<rect x="146.95" y="237.8" width="8.58" height="1.38" fill="#aad1e5"/>
<rect x="146.95" y="239.13" width="8.58" height="1.38" fill="#d4e6f1"/>
<rect x="146.95" y="240.47" width="8.58" height="1.38" fill="#d5e7f1"/>
<rect x="146.95" y="241.8" width="8.58" height="1.38" fill="#d2e5f0"/>
<rect x="146.95" y="243.13" width="8.58" height="1.38" fill="#aad1e5"/>
<rect x="146.95" y="244.47" width="8.58" height="1.38" fill="#d8e8f1"/>
<rect x="146.95" y="245.8" width="8.58" height="1.38" fill="#d5e7f1"/>
<rect x="146.95" y="247.13" width="8.58" height="1.38" fill="#d6e7f1"/>
<rect x="146.95" y="248.47" width="8.58" height="1.38" fill="#c8e1ed"/>
<rect x="146.95" y="249.8" width="8.58" height="1.38" fill="#cee4ef"/>
<rect x="146.95" y="251.13" width="8.58" height="1.38" fill="#cfe4ef"/>
<rect x="146.95" y="252.47" width="8.58" height="1.38" fill="#d5e7f1"/>
<rect x="146.95" y="253.8" width="8.58" height="1.38" fill="#c9e1ee"/>
<rect x="146.95" y="255.13" width="8.58" height="1.38" fill="#d5e7f1"/>
<rect x="146.95" y="256.47" width="8.58" height="1.38" fill="#dceaf2"/>
<rect x="146.95" y="257.8" width="8.58" height="1.38" fill="#dbeaf2"/>
<rect x="146.95" y="259.13" width="8.58" height="1.38" fill="#deebf2"/>
<rect x="146.95" y="260.47" width="8.58" height="1.38" fill="#d5e7f1"/>
<rect x="146.95" y="261.8" width="8.58" height="1.38" fill="#d7e8f1"/>
<rect x="146.95" y="263.13" width="8.58" height="1.38" fill="#b3d6e7"/>
<rect x="146.95" y="264.47" width="8.58" height="1.38" fill="#cae1ee"/>
<rect x="146.95" y="265.8" width="8.58" height="1.38" fill="#d4e6f1"/>
<rect x="146.95" y="267.13" width="8.58" height="1.38" fill="#d2e6f0"/>
<rect x="146.95" y="268.47" width="8.58" height="1.38" fill="#d0e4f0"/>
<rect x="146.95" y="269.8" width="8.58" height="1.38" fill="#d2e5f0"/>
<rect x="146.95" y="271.13" width="8.58" height="1.38" fill="#cee3ef"/>
<rect x="146.95" y="272.47" width="8.58" height="1.38" fill="#f8f1ed"/>
<rect x="146.95" y="273.8" width="8.58" height="1.38" fill="#e3edf3"/>
<rect x="146.95" y="275.13" width="8.58" height="1.38" fill="#c5dfed"/>
<rect x="146.95" y="276.47" width="8.58" height="1.38" fill="#d2e5f0"/>
<rect x="146.95" y="277.8" width="8.58" height="1.38" fill="#d3e6f0"/>
<rect x="146.95" y="279.13" width="8.58" height="1.38" fill="#cae1ee"/>
<rect x="146.95" y="280.47" width="8.58" height="1.38" fill="#dceaf2"/>
<rect x="146.95" y="281.8" width="8.58" height="1.38" fill="#dbeaf2"/>
<rect x="146.95" y="283.13" width="8.58" height="1.38" fill="#d1e5f0"/>
<rect x="146.95" y="284.47" width="8.58" height="1.38" fill="#dbeaf2"/>
<rect x="146.95" y="285.8" width="8.58" height="1.38" fill="#d8e8f1"/>
<rect x="146.95" y="287.13" width="8.58" height="1.38" fill="#d7e8f1"/>
<rect x="146.95" y="288.47" width="8.58" height="1.38" fill="#fae8dd"/>
<rect x="146.95" y="289.8" width="8.58" height="1.38" fill="#d3e6f0"/>
<rect x="146.95" y="291.13" width="8.58" height="1.38" fill="#cae2ee"/>
<rect x="146.95" y="292.47" width="8.58" height="1.38" fill="#d3e6f0"/>
<rect x="146.95" y="293.8" width="8.58" height="1.38" fill="#e2edf3"/>
<rect x="146.95" y="295.13" width="8.58" height="1.38" fill="#e0ecf3"/>
<rect x="146.95" y="296.47" width="8.58" height="1.38" fill="#d6e7f1"/>
<rect x="146.95" y="297.8" width="8.58" height="1.38" fill="#d8e8f1"/>
<rect x="146.95" y="299.13" width="8.58" height="1.38" fill="#c3deec"/>
<rect x="146.95" y="300.47" width="8.58" height="1.38" fill="#c2ddec"/>
<rect x="146.95" y="301.8" width="8.58" height="1.38" fill="#d8e8f1"/>
<rect x="146.95" y="303.13" width="8.58" height="1.38" fill="#d4e6f1"/>
<rect x="146.95" y="304.47" width="8.58" height="1.38" fill="#cce2ef"/>
<rect x="146.95" y="305.8" width="8.58" height="1.38" fill="#cee4ef"/>
<rect x="146.95" y="307.13" width="8.58" height="1.38" fill="#9ccae1"/>
<rect x="146.95" y="308.47" width="8.58" height="1.38" fill="#a1cce2"/>
<rect x="146.95" y="309.8" width="8.58" height="1.38" fill="#dbeaf2"/>
<rect x="146.95" y="311.13" width="8.58" height="1.38" fill="#d1e5f0"/>
<rect x="146.95" y="312.47" width="8.58" height="1.38" fill="#c5dfed"/>
<rect x="146.95" y="313.8" width="8.58" height="1.38" fill="#e1ecf3"/>
<rect x="146.95" y="315.13" width="8.58" height="1.38" fill="#dceaf2"/>
<rect x="146.95" y="316.47" width="8.58" height="1.38" fill="#dbeaf2"/>
<rect x="146.95" y="317.8" width="8.58" height="1.38" fill="#d1e5f0"/>
<rect x="146.95" y="319.13" width="8.58" height="1.38" fill="#c3deec"/>
<rect x="146.95" y="320.47" width="8.58" height="1.38" fill="#d1e5f0"/>
<rect x="146.95" y="321.8" width="8.58" height="1.38" fill="#d0e4f0"/>
<rect x="146.95" y="323.13" width="8.58" height="1.38" fill="#d7e8f1"/>
<rect x="146.95" y="324.47" width="8.58" height="1.38" fill="#e1ecf3"/>
<rect x="146.95" y="325.8" width="8.58" height="1.38" fill="#dceaf2"/>
<rect x="146.95" y="327.13" width="8.58" height="1.38" fill="#dae9f2"/>
<rect x="146.95" y="328.47" width="8.58" height="1.38" fill="#d3e6f0"/>
<rect x="146.95" y="329.8" width="8.58" height="1.38" fill="#d2e6f0"/>
<rect x="146.95" y="331.13" width="8.58" height="1.38" fill="#e0ecf3"/>
<rect x="146.95" y="332.47" width="8.58" height="1.38" fill="#dae9f2"/>
<rect x="155.48" y="221.8" width="8.58" height="1.38" fill="#c5dfec"/>
<rect x="155.48" y="223.13" width="8.58" height="1.38" fill="#dbeaf2"/>
<rect x="155.48" y="224.47" width="8.58" height="1.38" fill="#cce3ef"/>
<rect x="155.48" y="225.8" width="8.58" height="1.38" fill="#dbeaf2"/>
<rect x="155.48" y="227.13" width="8.58" height="1.38" fill="#d4e7f1"/>
<rect x="155.48" y="228.47" width="8.58" height="1.38" fill="#e1edf3"/>
<rect x="155.48" y="229.8" width="8.58" height="1.38" fill="#d7e8f1"/>
<rect x="155.48" y="231.13" width="8.58" height="1.38" fill="#d8e8f1"/>
<rect x="155.48" y="232.47" width="8.58" height="1.38" fill="#e0ecf3"/>
<rect x="155.48" y="233.8" width="8.58" height="1.38" fill="#d1e5f0"/>
<rect x="155.48" y="235.13" width="8.58" height="1.38" fill="#bcdaea"/>
<rect x="155.48" y="236.47" width="8.58" height="1.38" fill="#d3e6f0"/>
<rect x="155.48" y="237.8" width="8.58" height="1.38" fill="#bfdceb"/>
<rect x="155.48" y="239.13" width="8.58" height="1.38" fill="#d8e8f1"/>
<rect x="155.48" y="240.47" width="8.58" height="1.38" fill="#d1e5f0"/>
<rect x="155.48" y="241.8" width="8.58" height="1.38" fill="#ddeaf2"/>
<rect x="155.48" y="243.13" width="8.58" height="1.38" fill="#b5d7e8"/>
<rect x="155.48" y="244.47" width="8.58" height="1.38" fill="#cde3ef"/>
<rect x="155.48" y="245.8" width="8.58" height="1.38" fill="#cbe2ee"/>
<rect x="155.48" y="247.13" width="8.58" height="1.38" fill="#dae9f2"/>
<rect x="155.48" y="248.47" width="8.58" height="1.38" fill="#d2e5f0"/>
<rect x="155.48" y="249.8" width="8.58" height="1.38" fill="#dae9f2"/>
<rect x="155.48" y="251.13" width="8.58" height="2.72" fill="#d6e7f1"/>
<rect x="155.48" y="253.8" width="8.58" height="1.38" fill="#d5e7f1"/>
<rect x="155.48" y="255.13" width="8.58" height="1.38" fill="#dceaf2"/>
<rect x="155.48" y="256.47" width="8.58" height="1.38" fill="#dae9f2"/>
<rect x="155.48" y="257.8" width="8.58" height="1.38" fill="#d5e7f1"/>
<rect x="155.48" y="259.13" width="8.58" height="1.38" fill="#e0ecf3"/>
<rect x="155.48" y="260.47" width="8.58" height="1.38" fill="#dceaf2"/>
<rect x="155.48" y="261.8" width="8.58" height="1.38" fill="#c7e0ed"/>
<rect x="155.48" y="263.13" width="8.58" height="1.38" fill="#c1ddeb"/>
<rect x="155.48" y="264.47" width="8.58" height="1.38" fill="#d6e7f1"/>
<rect x="155.48" y="265.8" width="8.58" height="1.38" fill="#cfe4f0"/>
<rect x="155.48" y="267.13" width="8.58" height="1.38" fill="#e1edf3"/>
<rect x="155.48" y="268.47" width="8.58" height="1.38" fill="#deebf2"/>
<rect x="155.48" y="269.8" width="8.58" height="1.38" fill="#d4e7f1"/>
<rect x="155.48" y="271.13" width="8.58" height="1.38" fill="#d1e5f0"/>
<rect x="155.48" y="272.47" width="8.58" height="1.38" fill="#d0e5f0"/>
<rect x="155.48" y="273.8" width="8.58" height="1.38" fill="#e0ecf3"/>
<rect x="155.48" y="275.13" width="8.58" height="1.38" fill="#cde3ef"/>
<rect x="155.48" y="276.47" width="8.58" height="1.38" fill="#d3e6f0"/>
<rect x="155.48" y="277.8" width="8.58" height="1.38" fill="#d6e7f1"/>
<rect x="155.48" y="279.13" width="8.58" height="1.38" fill="#c5dfed"/>
<rect x="155.48" y="280.47" width="8.58" height="1.38" fill="#d5e7f1"/>
<rect x="155.48" y="281.8" width="8.58" height="1.38" fill="#dbeaf2"/>
<rect x="155.48" y="283.13" width="8.58" height="1.38" fill="#c7e0ed"/>
<rect x="155.48" y="284.47" width="8.58" height="1.38" fill="#d5e7f1"/>
<rect x="155.48" y="285.8" width="8.58" height="1.38" fill="#d8e9f1"/>
<rect x="155.48" y="287.13" width="8.58" height="1.38" fill="#d2e6f0"/>
<rect x="155.48" y="288.47" width="8.58" height="1.38" fill="#cbe2ee"/>
<rect x="155.48" y="289.8" width="8.58" height="1.38" fill="#e1ecf3"/>
<rect x="155.48" y="291.13" width="8.58" height="1.38" fill="#c9e1ee"/>
<rect x="155.48" y="292.47" width="8.58" height="1.38" fill="#d3e6f0"/>
<rect x="155.48" y="293.8" width="8.58" height="1.38" fill="#d7e8f1"/>
<rect x="155.48" y="295.13" width="8.58" height="1.38" fill="#dceaf2"/>
<rect x="155.48" y="296.47" width="8.58" height="1.38" fill="#e3eef3"/>
<rect x="155.48" y="297.8" width="8.58" height="1.38" fill="#d3e6f0"/>
<rect x="155.48" y="299.13" width="8.58" height="1.38" fill="#d1e5f0"/>
<rect x="155.48" y="300.47" width="8.58" height="1.38" fill="#c6dfed"/>
<rect x="155.48" y="301.8" width="8.58" height="1.38" fill="#d1e5f0"/>
<rect x="155.48" y="303.13" width="8.58" height="1.38" fill="#d5e7f1"/>
<rect x="155.48" y="304.47" width="8.58" height="1.38" fill="#d3e6f0"/>
<rect x="155.48" y="305.8" width="8.58" height="1.38" fill="#b9d9e9"/>
<rect x="155.48" y="307.13" width="8.58" height="1.38" fill="#aed3e6"/>
<rect x="155.48" y="308.47" width="8.58" height="1.38" fill="#bbdaea"/>
<rect x="155.48" y="309.8" width="8.58" height="1.38" fill="#d7e8f1"/>
<rect x="155.48" y="311.13" width="8.58" height="1.38" fill="#c6dfed"/>
<rect x="155.48" y="312.47" width="8.58" height="1.38" fill="#c7e0ed"/>
<rect x="155.48" y="313.8" width="8.58" height="1.38" fill="#d8e8f1"/>
<rect x="155.48" y="315.13" width="8.58" height="1.38" fill="#d9e9f1"/>
<rect x="155.48" y="316.47" width="8.58" height="1.38" fill="#cee4ef"/>
<rect x="155.48" y="317.8" width="8.58" height="1.38" fill="#bfdceb"/>
<rect x="155.48" y="319.13" width="8.58" height="1.38" fill="#c3deec"/>
<rect x="155.48" y="320.47" width="8.58" height="1.38" fill="#d3e6f0"/>
<rect x="155.48" y="321.8" width="8.58" height="1.38" fill="#ddebf2"/>
<rect x="155.48" y="323.13" width="8.58" height="1.38" fill="#c6dfed"/>
<rect x="155.48" y="324.47" width="8.58" height="1.38" fill="#e2edf3"/>
<rect x="155.48" y="325.8" width="8.58" height="1.38" fill="#deebf2"/>
<rect x="155.48" y="327.13" width="8.58" height="1.38" fill="#ddebf2"/>
<rect x="155.48" y="328.47" width="8.58" height="1.38" fill="#d7e8f1"/>
<rect x="155.48" y="329.8" width="8.58" height="1.38" fill="#c9e1ee"/>
<rect x="155.48" y="331.13" width="8.58" height="1.38" fill="#dae9f2"/>
<rect x="155.48" y="332.47" width="8.58" height="1.38" fill="#dbeaf2"/>
<rect x="164.01" y="221.8" width="8.58" height="1.38" fill="#d7e8f1"/>
<rect x="164.01" y="223.13" width="8.58" height="1.38" fill="#e0ecf3"/>
<rect x="164.01" y="224.47" width="8.58" height="1.38" fill="#d1e5f0"/>
<rect x="164.01" y="225.8" width="8.58" height="1.38" fill="#d9e9f1"/>
<rect x="164.01" y="227.13" width="8.58" height="1.38" fill="#d1e5f0"/>
<rect x="164.01" y="228.47" width="8.58" height="1.38" fill="#d4e7f1"/>
<rect x="164.01" y="229.8" width="8.58" height="1.38" fill="#e2edf3"/>
<rect x="164.01" y="231.13" width="8.58" height="1.38" fill="#dbeaf2"/>
<rect x="164.01" y="232.47" width="8.58" height="1.38" fill="#dfebf3"/>
<rect x="164.01" y="233.8" width="8.58" height="1.38" fill="#dae9f2"/>
<rect x="164.01" y="235.13" width="8.58" height="1.38" fill="#c0dceb"/>
<rect x="164.01" y="236.47" width="8.58" height="1.38" fill="#d5e7f1"/>
<rect x="164.01" y="237.8" width="8.58" height="1.38" fill="#bbdaea"/>
<rect x="164.01" y="239.13" width="8.58" height="1.38" fill="#cee3ef"/>
<rect x="164.01" y="240.47" width="8.58" height="1.38" fill="#d7e8f1"/>
<rect x="164.01" y="241.8" width="8.58" height="1.38" fill="#dae9f2"/>
<rect x="164.01" y="243.13" width="8.58" height="1.38" fill="#bcdaea"/>
<rect x="164.01" y="244.47" width="8.58" height="1.38" fill="#c3deec"/>
<rect x="164.01" y="245.8" width="8.58" height="1.38" fill="#d8e8f1"/>
<rect x="164.01" y="247.13" width="8.58" height="1.38" fill="#c2ddec"/>
<rect x="164.01" y="248.47" width="8.58" height="1.38" fill="#dbeaf2"/>
<rect x="164.01" y="249.8" width="8.58" height="1.38" fill="#c9e1ee"/>
<rect x="164.01" y="251.13" width="8.58" height="1.38" fill="#d9e9f2"/>
<rect x="164.01" y="252.47" width="8.58" height="1.38" fill="#cbe2ee"/>
<rect x="164.01" y="253.8" width="8.58" height="1.38" fill="#cde3ef"/>
<rect x="164.01" y="255.13" width="8.58" height="1.38" fill="#deebf2"/>
<rect x="164.01" y="256.47" width="8.58" height="1.38" fill="#c6dfed"/>
<rect x="164.01" y="257.8" width="8.58" height="1.38" fill="#d9e9f2"/>
<rect x="164.01" y="259.13" width="8.58" height="1.38" fill="#e3edf3"/>
<rect x="164.01" y="260.47" width="8.58" height="1.38" fill="#d3e6f0"/>
<rect x="164.01" y="261.8" width="8.58" height="1.38" fill="#d5e7f1"/>
<rect x="164.01" y="263.13" width="8.58" height="1.38" fill="#c0dceb"/>
<rect x="164.01" y="264.47" width="8.58" height="1.38" fill="#d2e5f0"/>
<rect x="164.01" y="265.8" width="8.58" height="1.38" fill="#d1e5f0"/>
<rect x="164.01" y="267.13" width="8.58" height="1.38" fill="#d9e9f1"/>
<rect x="164.01" y="268.47" width="8.58" height="1.38" fill="#d7e8f1"/>
<rect x="164.01" y="269.8" width="8.58" height="1.38" fill="#d3e6f0"/>
<rect x="164.01" y="271.13" width="8.58" height="1.38" fill="#cfe4f0"/>
<rect x="164.01" y="272.47" width="8.58" height="1.38" fill="#d4e6f1"/>
<rect x="164.01" y="273.8" width="8.58" height="1.38" fill="#d5e7f1"/>
<rect x="164.01" y="275.13" width="8.58" height="1.38" fill="#c7e0ed"/>
<rect x="164.01" y="276.47" width="8.58" height="1.38" fill="#d5e7f1"/>
<rect x="164.01" y="277.8" width="8.58" height="1.38" fill="#d1e5f0"/>
<rect x="164.01" y="279.13" width="8.58" height="1.38" fill="#bddbea"/>
<rect x="164.01" y="280.47" width="8.58" height="1.38" fill="#d3e6f0"/>
<rect x="164.01" y="281.8" width="8.58" height="1.38" fill="#e1ecf3"/>
<rect x="164.01" y="283.13" width="8.58" height="1.38" fill="#c9e1ee"/>
<rect x="164.01" y="284.47" width="8.58" height="1.38" fill="#d6e7f1"/>
<rect x="164.01" y="285.8" width="8.58" height="1.38" fill="#e1ecf3"/>
<rect x="164.01" y="287.13" width="8.58" height="1.38" fill="#cde3ef"/>
<rect x="164.01" y="288.47" width="8.58" height="1.38" fill="#d2e5f0"/>
<rect x="164.01" y="289.8" width="8.58" height="1.38" fill="#d3e6f0"/>
<rect x="164.01" y="291.13" width="8.58" height="1.38" fill="#c6e0ed"/>
<rect x="164.01" y="292.47" width="8.58" height="1.38" fill="#d2e5f0"/>
<rect x="164.01" y="293.8" width="8.58" height="1.38" fill="#deebf2"/>
<rect x="164.01" y="295.13" width="8.58" height="1.38" fill="#d7e8f1"/>
<rect x="164.01" y="296.47" width="8.58" height="1.38" fill="#d5e7f1"/>
<rect x="164.01" y="297.8" width="8.58" height="1.38" fill="#e0ecf3"/>
<rect x="164.01" y="299.13" width="8.58" height="1.38" fill="#d3e6f0"/>
<rect x="164.01" y="300.47" width="8.58" height="1.38" fill="#c4deec"/>
<rect x="164.01" y="301.8" width="8.58" height="1.38" fill="#d2e6f0"/>
<rect x="164.01" y="303.13" width="8.58" height="1.38" fill="#d7e8f1"/>
<rect x="164.01" y="304.47" width="8.58" height="1.38" fill="#cbe2ee"/>
<rect x="164.01" y="305.8" width="8.58" height="2.72" fill="#b8d8e9"/>
<rect x="164.01" y="308.47" width="8.58" height="1.38" fill="#a7d0e4"/>
<rect x="164.01" y="309.8" width="8.58" height="1.38" fill="#dbeaf2"/>
<rect x="164.01" y="311.13" width="8.58" height="1.38" fill="#cce3ef"/>
<rect x="164.01" y="312.47" width="8.58" height="1.38" fill="#c0ddeb"/>
<rect x="164.01" y="313.8" width="8.58" height="1.38" fill="#d6e8f1"/>
<rect x="164.01" y="315.13" width="8.58" height="1.38" fill="#e1ecf3"/>
<rect x="164.01" y="316.47" width="8.58" height="1.38" fill="#dceaf2"/>
<rect x="164.01" y="317.8" width="8.58" height="1.38" fill="#c6dfed"/>
<rect x="164.01" y="319.13" width="8.58" height="1.38" fill="#c6e0ed"/>
<rect x="164.01" y="320.47" width="8.58" height="1.38" fill="#cce2ef"/>
<rect x="164.01" y="321.8" width="8.58" height="1.38" fill="#cde3ef"/>
<rect x="164.01" y="323.13" width="8.58" height="2.72" fill="#d9e9f1"/>
<rect x="164.01" y="325.8" width="8.58" height="1.38" fill="#d7e8f1"/>
<rect x="164.01" y="327.13" width="8.58" height="1.38" fill="#d8e8f1"/>
<rect x="164.01" y="328.47" width="8.58" height="1.38" fill="#d6e8f1"/>
<rect x="164.01" y="329.8" width="8.58" height="1.38" fill="#d4e6f1"/>
<rect x="164.01" y="331.13" width="8.58" height="1.38" fill="#ddeaf2"/>
<rect x="164.01" y="332.47" width="8.58" height="1.38" fill="#ddebf2"/>
<rect x="172.54" y="221.8" width="8.58" height="1.38" fill="#d5e7f1"/>
<rect x="172.54" y="223.13" width="8.58" height="1.38" fill="#dceaf2"/>
<rect x="172.54" y="224.47" width="8.58" height="1.38" fill="#dae9f2"/>
<rect x="172.54" y="225.8" width="8.58" height="1.38" fill="#cce3ef"/>
<rect x="172.54" y="227.13" width="8.58" height="1.38" fill="#dbeaf2"/>
<rect x="172.54" y="228.47" width="8.58" height="1.38" fill="#cce3ef"/>
<rect x="172.54" y="229.8" width="8.58" height="1.38" fill="#d5e7f1"/>
<rect x="172.54" y="231.13" width="8.58" height="1.38" fill="#dfecf3"/>
<rect x="172.54" y="232.47" width="8.58" height="1.38" fill="#ddebf2"/>
<rect x="172.54" y="233.8" width="8.58" height="1.38" fill="#dae9f2"/>
<rect x="172.54" y="235.13" width="8.58" height="1.38" fill="#c1ddeb"/>
<rect x="172.54" y="236.47" width="8.58" height="1.38" fill="#d4e6f1"/>
<rect x="172.54" y="237.8" width="8.58" height="1.38" fill="#badaea"/>
<rect x="172.54" y="239.13" width="8.58" height="1.38" fill="#d6e7f1"/>
<rect x="172.54" y="240.47" width="8.58" height="1.38" fill="#d5e7f1"/>
<rect x="172.54" y="241.8" width="8.58" height="1.38" fill="#d3e6f0"/>
<rect x="172.54" y="243.13" width="8.58" height="1.38" fill="#bedbeb"/>
<rect x="172.54" y="244.47" width="8.58" height="1.38" fill="#c0dceb"/>
<rect x="172.54" y="245.8" width="8.58" height="1.38" fill="#d9e9f1"/>
<rect x="172.54" y="247.13" width="8.58" height="1.38" fill="#d9e9f2"/>
<rect x="172.54" y="248.47" width="8.58" height="1.38" fill="#d4e6f1"/>
<rect x="172.54" y="249.8" width="8.58" height="1.38" fill="#ddebf2"/>
<rect x="172.54" y="251.13" width="8.58" height="1.38" fill="#dceaf2"/>
<rect x="172.54" y="252.47" width="8.58" height="1.38" fill="#cae2ee"/>
<rect x="172.54" y="253.8" width="8.58" height="1.38" fill="#d7e8f1"/>
<rect x="172.54" y="255.13" width="8.58" height="1.38" fill="#d6e8f1"/>
<rect x="172.54" y="256.47" width="8.58" height="1.38" fill="#bfdceb"/>
<rect x="172.54" y="257.8" width="8.58" height="1.38" fill="#ddeaf2"/>
<rect x="172.54" y="259.13" width="8.58" height="1.38" fill="#dceaf2"/>
<rect x="172.54" y="260.47" width="8.58" height="1.38" fill="#e4eef3"/>
<rect x="172.54" y="261.8" width="8.58" height="1.38" fill="#cde3ef"/>
<rect x="172.54" y="263.13" width="8.58" height="1.38" fill="#bad9ea"/>
<rect x="172.54" y="264.47" width="8.58" height="1.38" fill="#d9e9f1"/>
<rect x="172.54" y="265.8" width="8.58" height="1.38" fill="#cde3ef"/>
<rect x="172.54" y="267.13" width="8.58" height="1.38" fill="#dae9f2"/>
<rect x="172.54" y="268.47" width="8.58" height="1.38" fill="#e2edf3"/>
<rect x="172.54" y="269.8" width="8.58" height="2.72" fill="#d5e7f1"/>
<rect x="172.54" y="272.47" width="8.58" height="1.38" fill="#f9ece4"/>
<rect x="172.54" y="273.8" width="8.58" height="1.38" fill="#deebf2"/>
<rect x="172.54" y="275.13" width="8.58" height="2.72" fill="#d7e8f1"/>
<rect x="172.54" y="277.8" width="8.58" height="1.38" fill="#dceaf2"/>
<rect x="172.54" y="279.13" width="8.58" height="1.38" fill="#d5e7f1"/>
<rect x="172.54" y="280.47" width="8.58" height="1.38" fill="#d0e5f0"/>
<rect x="172.54" y="281.8" width="8.58" height="1.38" fill="#dbeaf2"/>
<rect x="172.54" y="283.13" width="8.58" height="1.38" fill="#ddebf2"/>
<rect x="172.54" y="284.47" width="8.58" height="1.38" fill="#cde3ef"/>
<rect x="172.54" y="285.8" width="8.58" height="1.38" fill="#d6e7f1"/>
<rect x="172.54" y="287.13" width="8.58" height="1.38" fill="#bedbeb"/>
<rect x="172.54" y="288.47" width="8.58" height="1.38" fill="#c0dceb"/>
<rect x="172.54" y="289.8" width="8.58" height="1.38" fill="#d0e5f0"/>
<rect x="172.54" y="291.13" width="8.58" height="1.38" fill="#d8e8f1"/>
<rect x="172.54" y="292.47" width="8.58" height="1.38" fill="#cee3ef"/>
<rect x="172.54" y="293.8" width="8.58" height="1.38" fill="#d9e9f1"/>
<rect x="172.54" y="295.13" width="8.58" height="1.38" fill="#cfe4ef"/>
<rect x="172.54" y="296.47" width="8.58" height="1.38" fill="#d7e8f1"/>
<rect x="172.54" y="297.8" width="8.58" height="1.38" fill="#dceaf2"/>
<rect x="172.54" y="299.13" width="8.58" height="2.72" fill="#d3e6f0"/>
<rect x="172.54" y="301.8" width="8.58" height="2.72" fill="#d5e7f1"/>
<rect x="172.54" y="304.47" width="8.58" height="1.38" fill="#d3e6f0"/>
<rect x="172.54" y="305.8" width="8.58" height="1.38" fill="#bcdbea"/>
<rect x="172.54" y="307.13" width="8.58" height="1.38" fill="#a3cee3"/>
<rect x="172.54" y="308.47" width="8.58" height="1.38" fill="#b3d6e7"/>
<rect x="172.54" y="309.8" width="8.58" height="1.38" fill="#dfecf3"/>
<rect x="172.54" y="311.13" width="8.58" height="1.38" fill="#cbe2ee"/>
<rect x="172.54" y="312.47" width="8.58" height="1.38" fill="#b7d8e9"/>
<rect x="172.54" y="313.8" width="8.58" height="1.38" fill="#d2e5f0"/>
<rect x="172.54" y="315.13" width="8.58" height="1.38" fill="#d9e9f2"/>
<rect x="172.54" y="316.47" width="8.58" height="1.38" fill="#d6e7f1"/>
<rect x="172.54" y="317.8" width="8.58" height="1.38" fill="#d1e5f0"/>
<rect x="172.54" y="319.13" width="8.58" height="1.38" fill="#c4deec"/>
<rect x="172.54" y="320.47" width="8.58" height="1.38" fill="#d8e8f1"/>
<rect x="172.54" y="321.8" width="8.58" height="1.38" fill="#cfe4ef"/>
<rect x="172.54" y="323.13" width="8.58" height="1.38" fill="#cee3ef"/>
<rect x="172.54" y="324.47" width="8.58" height="1.38" fill="#deebf2"/>
<rect x="172.54" y="325.8" width="8.58" height="1.38" fill="#d9e9f1"/>
<rect x="172.54" y="327.13" width="8.58" height="1.38" fill="#deebf2"/>
<rect x="172.54" y="328.47" width="8.58" height="1.38" fill="#d8e8f1"/>
<rect x="172.54" y="329.8" width="8.58" height="1.38" fill="#deebf2"/>
<rect x="172.54" y="331.13" width="8.58" height="1.38" fill="#dfecf3"/>
<rect x="172.54" y="332.47" width="8.58" height="1.38" fill="#e0ecf3"/>
<rect x="181.07" y="221.8" width="8.58" height="1.38" fill="#ddebf2"/>
<rect x="181.07" y="223.13" width="8.58" height="1.38" fill="#dceaf2"/>
<rect x="181.07" y="224.47" width="8.58" height="2.72" fill="#d6e7f1"/>
<rect x="181.07" y="227.13" width="8.58" height="1.38" fill="#c3deec"/>
<rect x="181.07" y="228.47" width="8.58" height="1.38" fill="#c5dfed"/>
<rect x="181.07" y="229.8" width="8.58" height="1.38" fill="#dae9f2"/>
<rect x="181.07" y="231.13" width="8.58" height="1.38" fill="#cde3ef"/>
<rect x="181.07" y="232.47" width="8.58" height="1.38" fill="#d9e9f1"/>
<rect x="181.07" y="233.8" width="8.58" height="1.38" fill="#d8e8f1"/>
<rect x="181.07" y="235.13" width="8.58" height="1.38" fill="#bbdaea"/>
<rect x="181.07" y="236.47" width="8.58" height="1.38" fill="#d2e5f0"/>
<rect x="181.07" y="237.8" width="8.58" height="1.38" fill="#fbe5d8"/>
<rect x="181.07" y="239.13" width="8.58" height="1.38" fill="#dfecf3"/>
<rect x="181.07" y="240.47" width="8.58" height="1.38" fill="#d9e9f1"/>
<rect x="181.07" y="241.8" width="8.58" height="1.38" fill="#d7e8f1"/>
<rect x="181.07" y="243.13" width="8.58" height="1.38" fill="#b6d7e8"/>
<rect x="181.07" y="244.47" width="8.58" height="1.38" fill="#cee3ef"/>
<rect x="181.07" y="245.8" width="8.58" height="1.38" fill="#d1e5f0"/>
<rect x="181.07" y="247.13" width="8.58" height="1.38" fill="#d0e4f0"/>
<rect x="181.07" y="248.47" width="8.58" height="1.38" fill="#cde3ef"/>
<rect x="181.07" y="249.8" width="8.58" height="2.72" fill="#d3e6f0"/>
<rect x="181.07" y="252.47" width="8.58" height="1.38" fill="#cde3ef"/>
<rect x="181.07" y="253.8" width="8.58" height="1.38" fill="#d4e6f1"/>
<rect x="181.07" y="255.13" width="8.58" height="1.38" fill="#cbe2ee"/>
<rect x="181.07" y="256.47" width="8.58" height="1.38" fill="#d4e6f1"/>
<rect x="181.07" y="257.8" width="8.58" height="1.38" fill="#cbe2ee"/>
<rect x="181.07" y="259.13" width="8.58" height="1.38" fill="#c5dfed"/>
<rect x="181.07" y="260.47" width="8.58" height="1.38" fill="#f9eee7"/>
<rect x="181.07" y="261.8" width="8.58" height="1.38" fill="#c9e1ee"/>
<rect x="181.07" y="263.13" width="8.58" height="1.38" fill="#acd2e5"/>
<rect x="181.07" y="264.47" width="8.58" height="1.38" fill="#d5e7f1"/>
<rect x="181.07" y="265.8" width="8.58" height="1.38" fill="#deebf2"/>
<rect x="181.07" y="267.13" width="8.58" height="1.38" fill="#d9e9f1"/>
<rect x="181.07" y="268.47" width="8.58" height="1.38" fill="#d7e8f1"/>
<rect x="181.07" y="269.8" width="8.58" height="1.38" fill="#d8e8f1"/>
<rect x="181.07" y="271.13" width="8.58" height="1.38" fill="#ddebf2"/>
<rect x="181.07" y="272.47" width="8.58" height="1.38" fill="#d7e8f1"/>
<rect x="181.07" y="273.8" width="8.58" height="1.38" fill="#e3edf3"/>
<rect x="181.07" y="275.13" width="8.58" height="1.38" fill="#dbeaf2"/>
<rect x="181.07" y="276.47" width="8.58" height="1.38" fill="#d8e8f1"/>
<rect x="181.07" y="277.8" width="8.58" height="1.38" fill="#cde3ef"/>
<rect x="181.07" y="279.13" width="8.58" height="1.38" fill="#cce3ef"/>
<rect x="181.07" y="280.47" width="8.58" height="1.38" fill="#d0e4f0"/>
<rect x="181.07" y="281.8" width="8.58" height="1.38" fill="#dceaf2"/>
<rect x="181.07" y="283.13" width="8.58" height="1.38" fill="#c8e0ed"/>
<rect x="181.07" y="284.47" width="8.58" height="1.38" fill="#d1e5f0"/>
<rect x="181.07" y="285.8" width="8.58" height="1.38" fill="#d6e7f1"/>
<rect x="181.07" y="287.13" width="8.58" height="1.38" fill="#cfe4ef"/>
<rect x="181.07" y="288.47" width="8.58" height="1.38" fill="#d6e7f1"/>
<rect x="181.07" y="289.8" width="8.58" height="1.38" fill="#cce2ef"/>
<rect x="181.07" y="291.13" width="8.58" height="1.38" fill="#cce3ef"/>
<rect x="181.07" y="292.47" width="8.58" height="1.38" fill="#ddebf2"/>
<rect x="181.07" y="293.8" width="8.58" height="1.38" fill="#dbeaf2"/>
<rect x="181.07" y="295.13" width="8.58" height="1.38" fill="#e2edf3"/>
<rect x="181.07" y="296.47" width="8.58" height="1.38" fill="#dfecf3"/>
<rect x="181.07" y="297.8" width="8.58" height="1.38" fill="#d6e8f1"/>
<rect x="181.07" y="299.13" width="8.58" height="1.38" fill="#ddebf2"/>
<rect x="181.07" y="300.47" width="8.58" height="1.38" fill="#bfdceb"/>
<rect x="181.07" y="301.8" width="8.58" height="1.38" fill="#dae9f2"/>
<rect x="181.07" y="303.13" width="8.58" height="1.38" fill="#cce2ef"/>
<rect x="181.07" y="304.47" width="8.58" height="1.38" fill="#d5e7f1"/>
<rect x="181.07" y="305.8" width="8.58" height="1.38" fill="#b8d8e9"/>
<rect x="181.07" y="307.13" width="8.58" height="1.38" fill="#a3cee3"/>
<rect x="181.07" y="308.47" width="8.58" height="1.38" fill="#b3d6e7"/>
<rect x="181.07" y="309.8" width="8.58" height="1.38" fill="#dfebf3"/>
<rect x="181.07" y="311.13" width="8.58" height="1.38" fill="#c2ddec"/>
<rect x="181.07" y="312.47" width="8.58" height="1.38" fill="#d3e6f0"/>
<rect x="181.07" y="313.8" width="8.58" height="1.38" fill="#e0ecf3"/>
<rect x="181.07" y="315.13" width="8.58" height="1.38" fill="#deebf2"/>
<rect x="181.07" y="316.47" width="8.58" height="1.38" fill="#fbe5d8"/>
<rect x="181.07" y="317.8" width="8.58" height="1.38" fill="#d2e5f0"/>
<rect x="181.07" y="319.13" width="8.58" height="1.38" fill="#d1e5f0"/>
<rect x="181.07" y="320.47" width="8.58" height="1.38" fill="#d5e7f1"/>
<rect x="181.07" y="321.8" width="8.58" height="1.38" fill="#cee3ef"/>
<rect x="181.07" y="323.13" width="8.58" height="1.38" fill="#cbe2ee"/>
<rect x="181.07" y="324.47" width="8.58" height="1.38" fill="#cce2ee"/>
<rect x="181.07" y="325.8" width="8.58" height="1.38" fill="#dbeaf2"/>
<rect x="181.07" y="327.13" width="8.58" height="1.38" fill="#e0ecf3"/>
<rect x="181.07" y="328.47" width="8.58" height="1.38" fill="#d2e5f0"/>
<rect x="181.07" y="329.8" width="8.58" height="1.38" fill="#d7e8f1"/>
<rect x="181.07" y="331.13" width="8.58" height="1.38" fill="#edf2f5"/>
<rect x="181.07" y="332.47" width="8.58" height="1.38" fill="#dae9f2"/>
<rect x="189.6" y="221.8" width="8.58" height="1.38" fill="#d8e9f1"/>
<rect x="189.6" y="223.13" width="8.58" height="1.38" fill="#dceaf2"/>
<rect x="189.6" y="224.47" width="8.58" height="1.38" fill="#d8e8f1"/>
<rect x="189.6" y="225.8" width="8.58" height="1.38" fill="#dbeaf2"/>
<rect x="189.6" y="227.13" width="8.58" height="1.38" fill="#cce2ee"/>
<rect x="189.6" y="228.47" width="8.58" height="1.38" fill="#d4e6f1"/>
<rect x="189.6" y="229.8" width="8.58" height="1.38" fill="#deebf2"/>
<rect x="189.6" y="231.13" width="8.58" height="1.38" fill="#d4e6f1"/>
<rect x="189.6" y="232.47" width="8.58" height="1.38" fill="#e0ecf3"/>
<rect x="189.6" y="233.8" width="8.58" height="1.38" fill="#cfe4ef"/>
<rect x="189.6" y="235.13" width="8.58" height="1.38" fill="#c1ddeb"/>
<rect x="189.6" y="236.47" width="8.58" height="1.38" fill="#d8e8f1"/>
<rect x="189.6" y="237.8" width="8.58" height="1.38" fill="#c1ddeb"/>
<rect x="189.6" y="239.13" width="8.58" height="1.38" fill="#faeae0"/>
<rect x="189.6" y="240.47" width="8.58" height="1.38" fill="#d3e6f0"/>
<rect x="189.6" y="241.8" width="8.58" height="1.38" fill="#d1e5f0"/>
<rect x="189.6" y="243.13" width="8.58" height="1.38" fill="#cbe2ee"/>
<rect x="189.6" y="244.47" width="8.58" height="1.38" fill="#c8e0ed"/>
<rect x="189.6" y="245.8" width="8.58" height="1.38" fill="#cce3ef"/>
<rect x="189.6" y="247.13" width="8.58" height="1.38" fill="#d8e8f1"/>
<rect x="189.6" y="248.47" width="8.58" height="1.38" fill="#d2e5f0"/>
<rect x="189.6" y="249.8" width="8.58" height="1.38" fill="#d8e9f1"/>
<rect x="189.6" y="251.13" width="8.58" height="1.38" fill="#dfecf3"/>
<rect x="189.6" y="252.47" width="8.58" height="1.38" fill="#d2e6f0"/>
<rect x="189.6" y="253.8" width="8.58" height="1.38" fill="#d2e5f0"/>
<rect x="189.6" y="255.13" width="8.58" height="1.38" fill="#d3e6f0"/>
<rect x="189.6" y="256.47" width="8.58" height="1.38" fill="#dae9f2"/>
<rect x="189.6" y="257.8" width="8.58" height="1.38" fill="#e4eef3"/>
<rect x="189.6" y="259.13" width="8.58" height="1.38" fill="#e0ecf3"/>
<rect x="189.6" y="260.47" width="8.58" height="1.38" fill="#ddebf2"/>
<rect x="189.6" y="261.8" width="8.58" height="1.38" fill="#cbe2ee"/>
<rect x="189.6" y="263.13" width="8.58" height="1.38" fill="#fae8de"/>
<rect x="189.6" y="264.47" width="8.58" height="1.38" fill="#d7e8f1"/>
<rect x="189.6" y="265.8" width="8.58" height="1.38" fill="#cee3ef"/>
<rect x="189.6" y="267.13" width="8.58" height="1.38" fill="#d8e9f1"/>
<rect x="189.6" y="268.47" width="8.58" height="1.38" fill="#deebf2"/>
<rect x="189.6" y="269.8" width="8.58" height="1.38" fill="#d1e5f0"/>
<rect x="189.6" y="271.13" width="8.58" height="1.38" fill="#c7e0ed"/>
<rect x="189.6" y="272.47" width="8.58" height="1.38" fill="#d0e4f0"/>
<rect x="189.6" y="273.8" width="8.58" height="1.38" fill="#d6e7f1"/>
<rect x="189.6" y="275.13" width="8.58" height="1.38" fill="#d2e6f0"/>
<rect x="189.6" y="276.47" width="8.58" height="1.38" fill="#deebf2"/>
<rect x="189.6" y="277.8" width="8.58" height="1.38" fill="#cce2ee"/>
<rect x="189.6" y="279.13" width="8.58" height="1.38" fill="#cfe4ef"/>
<rect x="189.6" y="280.47" width="8.58" height="1.38" fill="#d6e7f1"/>
<rect x="189.6" y="281.8" width="8.58" height="1.38" fill="#deebf2"/>
<rect x="189.6" y="283.13" width="8.58" height="1.38" fill="#bddbea"/>
<rect x="189.6" y="284.47" width="8.58" height="1.38" fill="#d2e6f0"/>
<rect x="189.6" y="285.8" width="8.58" height="1.38" fill="#d9e9f2"/>
<rect x="189.6" y="287.13" width="8.58" height="1.38" fill="#dae9f2"/>
<rect x="189.6" y="288.47" width="8.58" height="1.38" fill="#cfe4ef"/>
<rect x="189.6" y="289.8" width="8.58" height="1.38" fill="#c5dfed"/>
<rect x="189.6" y="291.13" width="8.58" height="1.38" fill="#bfdceb"/>
<rect x="189.6" y="292.47" width="8.58" height="1.38" fill="#e0ecf3"/>
<rect x="189.6" y="293.8" width="8.58" height="1.38" fill="#dae9f2"/>
<rect x="189.6" y="295.13" width="8.58" height="1.38" fill="#ddebf2"/>
<rect x="189.6" y="296.47" width="8.58" height="1.38" fill="#deebf2"/>
<rect x="189.6" y="297.8" width="8.58" height="1.38" fill="#cfe4ef"/>
<rect x="189.6" y="299.13" width="8.58" height="1.38" fill="#bfdceb"/>
<rect x="189.6" y="300.47" width="8.58" height="1.38" fill="#dbeaf2"/>
<rect x="189.6" y="301.8" width="8.58" height="1.38" fill="#cbe2ee"/>
<rect x="189.6" y="303.13" width="8.58" height="1.38" fill="#d3e6f0"/>
<rect x="189.6" y="304.47" width="8.58" height="1.38" fill="#d0e5f0"/>
<rect x="189.6" y="305.8" width="8.58" height="1.38" fill="#b3d6e8"/>
<rect x="189.6" y="307.13" width="8.58" height="1.38" fill="#c5dfed"/>
<rect x="189.6" y="308.47" width="8.58" height="1.38" fill="#d1e5f0"/>
<rect x="189.6" y="309.8" width="8.58" height="1.38" fill="#ddebf2"/>
<rect x="189.6" y="311.13" width="8.58" height="1.38" fill="#d3e6f0"/>
<rect x="189.6" y="312.47" width="8.58" height="1.38" fill="#cbe2ee"/>
<rect x="189.6" y="313.8" width="8.58" height="1.38" fill="#d1e5f0"/>
<rect x="189.6" y="315.13" width="8.58" height="1.38" fill="#ddebf2"/>
<rect x="189.6" y="316.47" width="8.58" height="1.38" fill="#d5e7f1"/>
<rect x="189.6" y="317.8" width="8.58" height="1.38" fill="#cce2ef"/>
<rect x="189.6" y="319.13" width="8.58" height="1.38" fill="#cee3ef"/>
<rect x="189.6" y="320.47" width="8.58" height="1.38" fill="#d5e7f1"/>
<rect x="189.6" y="321.8" width="8.58" height="1.38" fill="#d3e6f0"/>
<rect x="189.6" y="323.13" width="8.58" height="1.38" fill="#cde3ef"/>
<rect x="189.6" y="324.47" width="8.58" height="1.38" fill="#d5e7f1"/>
<rect x="189.6" y="325.8" width="8.58" height="1.38" fill="#dceaf2"/>
<rect x="189.6" y="327.13" width="8.58" height="1.38" fill="#d0e5f0"/>
<rect x="189.6" y="328.47" width="8.58" height="1.38" fill="#d9e9f2"/>
<rect x="189.6" y="329.8" width="8.58" height="1.38" fill="#d5e7f1"/>
<rect x="189.6" y="331.13" width="8.58" height="1.38" fill="#d6e7f1"/>
<rect x="189.6" y="332.47" width="8.58" height="1.38" fill="#deebf2"/>
<rect x="198.12" y="221.8" width="8.58" height="1.38" fill="#d4e6f1"/>
<rect x="198.12" y="223.13" width="8.58" height="1.38" fill="#d2e5f0"/>
<rect x="198.12" y="224.47" width="8.58" height="1.38" fill="#dceaf2"/>
<rect x="198.12" y="225.8" width="8.58" height="1.38" fill="#cce2ee"/>
<rect x="198.12" y="227.13" width="8.58" height="1.38" fill="#c6dfed"/>
<rect x="198.12" y="228.47" width="8.58" height="1.38" fill="#d5e7f1"/>
<rect x="198.12" y="229.8" width="8.58" height="1.38" fill="#cce3ef"/>
<rect x="198.12" y="231.13" width="8.58" height="1.38" fill="#d9e9f1"/>
<rect x="198.12" y="232.47" width="8.58" height="1.38" fill="#cee3ef"/>
<rect x="198.12" y="233.8" width="8.58" height="1.38" fill="#d5e7f1"/>
<rect x="198.12" y="235.13" width="8.58" height="1.38" fill="#bfdceb"/>
<rect x="198.12" y="236.47" width="8.58" height="1.38" fill="#d7e8f1"/>
<rect x="198.12" y="237.8" width="8.58" height="1.38" fill="#cde3ef"/>
<rect x="198.12" y="239.13" width="8.58" height="1.38" fill="#cee3ef"/>
<rect x="198.12" y="240.47" width="8.58" height="1.38" fill="#e0ecf3"/>
<rect x="198.12" y="241.8" width="8.58" height="1.38" fill="#dceaf2"/>
<rect x="198.12" y="243.13" width="8.58" height="1.38" fill="#b8d8e9"/>
<rect x="198.12" y="244.47" width="8.58" height="1.38" fill="#bedbeb"/>
<rect x="198.12" y="245.8" width="8.58" height="1.38" fill="#cee3ef"/>
<rect x="198.12" y="247.13" width="8.58" height="1.38" fill="#c9e1ee"/>
<rect x="198.12" y="248.47" width="8.58" height="1.38" fill="#cfe4ef"/>
<rect x="198.12" y="249.8" width="8.58" height="1.38" fill="#d8e8f1"/>
<rect x="198.12" y="251.13" width="8.58" height="1.38" fill="#d9e9f2"/>
<rect x="198.12" y="252.47" width="8.58" height="1.38" fill="#cfe4ef"/>
<rect x="198.12" y="253.8" width="8.58" height="1.38" fill="#e7f0f4"/>
<rect x="198.12" y="255.13" width="8.58" height="1.38" fill="#d7e8f1"/>
<rect x="198.12" y="256.47" width="8.58" height="1.38" fill="#d0e4f0"/>
<rect x="198.12" y="257.8" width="8.58" height="1.38" fill="#e1ecf3"/>
<rect x="198.12" y="259.13" width="8.58" height="1.38" fill="#d1e5f0"/>
<rect x="198.12" y="260.47" width="8.58" height="1.38" fill="#dae9f2"/>
<rect x="198.12" y="261.8" width="8.58" height="1.38" fill="#d9e9f1"/>
<rect x="198.12" y="263.13" width="8.58" height="1.38" fill="#add3e6"/>
<rect x="198.12" y="264.47" width="8.58" height="1.38" fill="#d4e6f1"/>
<rect x="198.12" y="265.8" width="8.58" height="1.38" fill="#d6e7f1"/>
<rect x="198.12" y="267.13" width="8.58" height="1.38" fill="#d1e5f0"/>
<rect x="198.12" y="268.47" width="8.58" height="1.38" fill="#d7e8f1"/>
<rect x="198.12" y="269.8" width="8.58" height="1.38" fill="#d4e6f1"/>
<rect x="198.12" y="271.13" width="8.58" height="1.38" fill="#cae1ee"/>
<rect x="198.12" y="272.47" width="8.58" height="1.38" fill="#d7e8f1"/>
<rect x="198.12" y="273.8" width="8.58" height="1.38" fill="#dceaf2"/>
<rect x="198.12" y="275.13" width="8.58" height="1.38" fill="#cae1ee"/>
<rect x="198.12" y="276.47" width="8.58" height="1.38" fill="#d4e6f1"/>
<rect x="198.12" y="277.8" width="8.58" height="1.38" fill="#d4e7f1"/>
<rect x="198.12" y="279.13" width="8.58" height="1.38" fill="#d7e8f1"/>
<rect x="198.12" y="280.47" width="8.58" height="1.38" fill="#c2deec"/>
<rect x="198.12" y="281.8" width="8.58" height="1.38" fill="#dfebf2"/>
<rect x="198.12" y="283.13" width="8.58" height="1.38" fill="#d1e5f0"/>
<rect x="198.12" y="284.47" width="8.58" height="1.38" fill="#d5e7f1"/>
<rect x="198.12" y="285.8" width="8.58" height="1.38" fill="#d6e7f1"/>
<rect x="198.12" y="287.13" width="8.58" height="1.38" fill="#cee4ef"/>
<rect x="198.12" y="288.47" width="8.58" height="1.38" fill="#d0e5f0"/>
<rect x="198.12" y="289.8" width="8.58" height="1.38" fill="#d1e5f0"/>
<rect x="198.12" y="291.13" width="8.58" height="1.38" fill="#c6dfed"/>
<rect x="198.12" y="292.47" width="8.58" height="1.38" fill="#d1e5f0"/>
<rect x="198.12" y="293.8" width="8.58" height="1.38" fill="#dae9f2"/>
<rect x="198.12" y="295.13" width="8.58" height="1.38" fill="#d6e8f1"/>
<rect x="198.12" y="296.47" width="8.58" height="1.38" fill="#ddebf2"/>
<rect x="198.12" y="297.8" width="8.58" height="1.38" fill="#d8e8f1"/>
<rect x="198.12" y="299.13" width="8.58" height="1.38" fill="#cce3ef"/>
<rect x="198.12" y="300.47" width="8.58" height="1.38" fill="#d3e6f0"/>
<rect x="198.12" y="301.8" width="8.58" height="1.38" fill="#d6e8f1"/>
<rect x="198.12" y="303.13" width="8.58" height="1.38" fill="#cee3ef"/>
<rect x="198.12" y="304.47" width="8.58" height="1.38" fill="#ddebf2"/>
<rect x="198.12" y="305.8" width="8.58" height="1.38" fill="#c0dceb"/>
<rect x="198.12" y="307.13" width="8.58" height="1.38" fill="#c3deec"/>
<rect x="198.12" y="308.47" width="8.58" height="1.38" fill="#c7e0ed"/>
<rect x="198.12" y="309.8" width="8.58" height="1.38" fill="#dfecf3"/>
<rect x="198.12" y="311.13" width="8.58" height="1.38" fill="#c4deec"/>
<rect x="198.12" y="312.47" width="8.58" height="1.38" fill="#d3e6f0"/>
<rect x="198.12" y="313.8" width="8.58" height="1.38" fill="#c0dceb"/>
<rect x="198.12" y="315.13" width="8.58" height="1.38" fill="#d5e7f1"/>
<rect x="198.12" y="316.47" width="8.58" height="1.38" fill="#ddebf2"/>
<rect x="198.12" y="317.8" width="8.58" height="1.38" fill="#d1e5f0"/>
<rect x="198.12" y="319.13" width="8.58" height="1.38" fill="#cae2ee"/>
<rect x="198.12" y="320.47" width="8.58" height="1.38" fill="#d5e7f1"/>
<rect x="198.12" y="321.8" width="8.58" height="1.38" fill="#cee3ef"/>
<rect x="198.12" y="323.13" width="8.58" height="1.38" fill="#e1ecf3"/>
<rect x="198.12" y="324.47" width="8.58" height="1.38" fill="#d0e5f0"/>
<rect x="198.12" y="325.8" width="8.58" height="1.38" fill="#d8e9f1"/>
<rect x="198.12" y="327.13" width="8.58" height="1.38" fill="#dbeaf2"/>
<rect x="198.12" y="328.47" width="8.58" height="1.38" fill="#d8e8f1"/>
<rect x="198.12" y="329.8" width="8.58" height="2.72" fill="#d6e7f1"/>
<rect x="198.12" y="332.47" width="8.58" height="1.38" fill="#d4e6f0"/>
<rect x="206.65" y="221.8" width="8.58" height="1.38" fill="#d2e5f0"/>
<rect x="206.65" y="223.13" width="8.58" height="1.38" fill="#e3eef3"/>
<rect x="206.65" y="224.47" width="8.58" height="1.38" fill="#d5e7f1"/>
<rect x="206.65" y="225.8" width="8.58" height="1.38" fill="#d3e6f0"/>
<rect x="206.65" y="227.13" width="8.58" height="1.38" fill="#c4deec"/>
<rect x="206.65" y="228.47" width="8.58" height="1.38" fill="#dfecf3"/>
<rect x="206.65" y="229.8" width="8.58" height="1.38" fill="#d7e8f1"/>
<rect x="206.65" y="231.13" width="8.58" height="1.38" fill="#dceaf2"/>
<rect x="206.65" y="232.47" width="8.58" height="1.38" fill="#deebf2"/>
<rect x="206.65" y="233.8" width="8.58" height="1.38" fill="#dfecf3"/>
<rect x="206.65" y="235.13" width="8.58" height="1.38" fill="#bddbea"/>
<rect x="206.65" y="236.47" width="8.58" height="1.38" fill="#d5e7f1"/>
<rect x="206.65" y="237.8" width="8.58" height="1.38" fill="#c2ddec"/>
<rect x="206.65" y="239.13" width="8.58" height="1.38" fill="#d5e7f1"/>
<rect x="206.65" y="240.47" width="8.58" height="1.38" fill="#deebf2"/>
<rect x="206.65" y="241.8" width="8.58" height="1.38" fill="#dceaf2"/>
<rect x="206.65" y="243.13" width="8.58" height="1.38" fill="#b2d5e7"/>
<rect x="206.65" y="244.47" width="8.58" height="1.38" fill="#d1e5f0"/>
<rect x="206.65" y="245.8" width="8.58" height="1.38" fill="#d7e8f1"/>
<rect x="206.65" y="247.13" width="8.58" height="1.38" fill="#dfebf2"/>
<rect x="206.65" y="248.47" width="8.58" height="1.38" fill="#dbeaf2"/>
<rect x="206.65" y="249.8" width="8.58" height="1.38" fill="#cfe4ef"/>
<rect x="206.65" y="251.13" width="8.58" height="1.38" fill="#d9e9f2"/>
<rect x="206.65" y="252.47" width="8.58" height="1.38" fill="#cfe4ef"/>
<rect x="206.65" y="253.8" width="8.58" height="2.72" fill="#dbeaf2"/>
<rect x="206.65" y="256.47" width="8.58" height="1.38" fill="#c9e1ee"/>
<rect x="206.65" y="257.8" width="8.58" height="1.38" fill="#dceaf2"/>
<rect x="206.65" y="259.13" width="8.58" height="1.38" fill="#d8e8f1"/>
<rect x="206.65" y="260.47" width="8.58" height="1.38" fill="#ddebf2"/>
<rect x="206.65" y="261.8" width="8.58" height="1.38" fill="#bfdceb"/>
<rect x="206.65" y="263.13" width="8.58" height="1.38" fill="#b9d9e9"/>
<rect x="206.65" y="264.47" width="8.58" height="1.38" fill="#c4deec"/>
<rect x="206.65" y="265.8" width="8.58" height="1.38" fill="#d5e7f1"/>
<rect x="206.65" y="267.13" width="8.58" height="1.38" fill="#d9e9f1"/>
<rect x="206.65" y="268.47" width="8.58" height="1.38" fill="#dfecf3"/>
<rect x="206.65" y="269.8" width="8.58" height="1.38" fill="#d8e8f1"/>
<rect x="206.65" y="271.13" width="8.58" height="1.38" fill="#d2e5f0"/>
<rect x="206.65" y="272.47" width="8.58" height="1.38" fill="#d4e7f1"/>
<rect x="206.65" y="273.8" width="8.58" height="1.38" fill="#d9e9f1"/>
<rect x="206.65" y="275.13" width="8.58" height="1.38" fill="#c4deec"/>
<rect x="206.65" y="276.47" width="8.58" height="1.38" fill="#d0e4f0"/>
<rect x="206.65" y="277.8" width="8.58" height="1.38" fill="#d7e8f1"/>
<rect x="206.65" y="279.13" width="8.58" height="1.38" fill="#d6e7f1"/>
<rect x="206.65" y="280.47" width="8.58" height="1.38" fill="#cde3ef"/>
<rect x="206.65" y="281.8" width="8.58" height="1.38" fill="#d5e7f1"/>
<rect x="206.65" y="283.13" width="8.58" height="1.38" fill="#cce2ef"/>
<rect x="206.65" y="284.47" width="8.58" height="1.38" fill="#fbe5d7"/>
<rect x="206.65" y="285.8" width="8.58" height="1.38" fill="#cee4ef"/>
<rect x="206.65" y="287.13" width="8.58" height="1.38" fill="#d4e6f1"/>
<rect x="206.65" y="288.47" width="8.58" height="1.38" fill="#c4deec"/>
<rect x="206.65" y="289.8" width="8.58" height="1.38" fill="#c9e1ee"/>
<rect x="206.65" y="291.13" width="8.58" height="1.38" fill="#d0e5f0"/>
<rect x="206.65" y="292.47" width="8.58" height="1.38" fill="#dbeaf2"/>
<rect x="206.65" y="293.8" width="8.58" height="1.38" fill="#ebf1f5"/>
<rect x="206.65" y="295.13" width="8.58" height="1.38" fill="#d6e7f1"/>
<rect x="206.65" y="296.47" width="8.58" height="1.38" fill="#d1e5f0"/>
<rect x="206.65" y="297.8" width="8.58" height="1.38" fill="#d7e8f1"/>
<rect x="206.65" y="299.13" width="8.58" height="1.38" fill="#d3e6f0"/>
<rect x="206.65" y="300.47" width="8.58" height="1.38" fill="#c9e1ee"/>
<rect x="206.65" y="301.8" width="8.58" height="1.38" fill="#d8e8f1"/>
<rect x="206.65" y="303.13" width="8.58" height="1.38" fill="#cfe4ef"/>
<rect x="206.65" y="304.47" width="8.58" height="1.38" fill="#dae9f2"/>
<rect x="206.65" y="305.8" width="8.58" height="1.38" fill="#d0e5f0"/>
<rect x="206.65" y="307.13" width="8.58" height="1.38" fill="#d4e7f1"/>
<rect x="206.65" y="308.47" width="8.58" height="1.38" fill="#d5e7f1"/>
<rect x="206.65" y="309.8" width="8.58" height="1.38" fill="#dae9f2"/>
<rect x="206.65" y="311.13" width="8.58" height="1.38" fill="#b6d7e8"/>
<rect x="206.65" y="312.47" width="8.58" height="1.38" fill="#bcdaea"/>
<rect x="206.65" y="313.8" width="8.58" height="1.38" fill="#dae9f2"/>
<rect x="206.65" y="315.13" width="8.58" height="1.38" fill="#d7e8f1"/>
<rect x="206.65" y="316.47" width="8.58" height="1.38" fill="#e5eff4"/>
<rect x="206.65" y="317.8" width="8.58" height="1.38" fill="#d7e8f1"/>
<rect x="206.65" y="319.13" width="8.58" height="1.38" fill="#d3e6f0"/>
<rect x="206.65" y="320.47" width="8.58" height="1.38" fill="#d9e9f1"/>
<rect x="206.65" y="321.8" width="8.58" height="1.38" fill="#cce2ef"/>
<rect x="206.65" y="323.13" width="8.58" height="1.38" fill="#d0e4f0"/>
<rect x="206.65" y="324.47" width="8.58" height="1.38" fill="#e0ecf3"/>
<rect x="206.65" y="325.8" width="8.58" height="1.38" fill="#d8e9f1"/>
<rect x="206.65" y="327.13" width="8.58" height="1.38" fill="#cfe4f0"/>
<rect x="206.65" y="328.47" width="8.58" height="1.38" fill="#d0e4f0"/>
<rect x="206.65" y="329.8" width="8.58" height="1.38" fill="#c6dfed"/>
<rect x="206.65" y="331.13" width="8.58" height="1.38" fill="#e3eef3"/>
<rect x="206.65" y="332.47" width="8.58" height="1.38" fill="#dceaf2"/>
<rect x="215.18" y="221.8" width="8.58" height="1.38" fill="#c6e0ed"/>
<rect x="215.18" y="223.13" width="8.58" height="1.38" fill="#f9ede7"/>
<rect x="215.18" y="224.47" width="8.58" height="1.38" fill="#d7e8f1"/>
<rect x="215.18" y="225.8" width="8.58" height="1.38" fill="#d4e6f0"/>
<rect x="215.18" y="227.13" width="8.58" height="1.38" fill="#c8e0ed"/>
<rect x="215.18" y="228.47" width="8.58" height="1.38" fill="#cfe4f0"/>
<rect x="215.18" y="229.8" width="8.58" height="1.38" fill="#d3e6f0"/>
<rect x="215.18" y="231.13" width="8.58" height="1.38" fill="#dfecf3"/>
<rect x="215.18" y="232.47" width="8.58" height="1.38" fill="#ddebf2"/>
<rect x="215.18" y="233.8" width="8.58" height="1.38" fill="#d8e8f1"/>
<rect x="215.18" y="235.13" width="8.58" height="1.38" fill="#b8d8e9"/>
<rect x="215.18" y="236.47" width="8.58" height="1.38" fill="#cae2ee"/>
<rect x="215.18" y="237.8" width="8.58" height="1.38" fill="#d7e8f1"/>
<rect x="215.18" y="239.13" width="8.58" height="1.38" fill="#dbeaf2"/>
<rect x="215.18" y="240.47" width="8.58" height="1.38" fill="#dceaf2"/>
<rect x="215.18" y="241.8" width="8.58" height="1.38" fill="#d6e7f1"/>
<rect x="215.18" y="243.13" width="8.58" height="1.38" fill="#a8d0e4"/>
<rect x="215.18" y="244.47" width="8.58" height="1.38" fill="#bddbea"/>
<rect x="215.18" y="245.8" width="8.58" height="1.38" fill="#d7e8f1"/>
<rect x="215.18" y="247.13" width="8.58" height="1.38" fill="#d1e5f0"/>
<rect x="215.18" y="248.47" width="8.58" height="1.38" fill="#d8e8f1"/>
<rect x="215.18" y="249.8" width="8.58" height="1.38" fill="#f8f4f1"/>
<rect x="215.18" y="251.13" width="8.58" height="1.38" fill="#ddebf2"/>
<rect x="215.18" y="252.47" width="8.58" height="1.38" fill="#cfe4ef"/>
<rect x="215.18" y="253.8" width="8.58" height="1.38" fill="#d5e7f1"/>
<rect x="215.18" y="255.13" width="8.58" height="1.38" fill="#d9e9f1"/>
<rect x="215.18" y="256.47" width="8.58" height="1.38" fill="#c9e1ee"/>
<rect x="215.18" y="257.8" width="8.58" height="1.38" fill="#dceaf2"/>
<rect x="215.18" y="259.13" width="8.58" height="1.38" fill="#d6e7f1"/>
<rect x="215.18" y="260.47" width="8.58" height="1.38" fill="#d8e8f1"/>
<rect x="215.18" y="261.8" width="8.58" height="1.38" fill="#d7e8f1"/>
<rect x="215.18" y="263.13" width="8.58" height="1.38" fill="#b7d8e9"/>
<rect x="215.18" y="264.47" width="8.58" height="1.38" fill="#cde3ef"/>
<rect x="215.18" y="265.8" width="8.58" height="1.38" fill="#d9e9f2"/>
<rect x="215.18" y="267.13" width="8.58" height="1.38" fill="#d2e6f0"/>
<rect x="215.18" y="268.47" width="8.58" height="1.38" fill="#d6e7f1"/>
<rect x="215.18" y="269.8" width="8.58" height="1.38" fill="#d7e8f1"/>
<rect x="215.18" y="271.13" width="8.58" height="1.38" fill="#c4deec"/>
<rect x="215.18" y="272.47" width="8.58" height="1.38" fill="#d3e6f0"/>
<rect x="215.18" y="273.8" width="8.58" height="1.38" fill="#cde3ef"/>
<rect x="215.18" y="275.13" width="8.58" height="1.38" fill="#d6e7f1"/>
<rect x="215.18" y="276.47" width="8.58" height="1.38" fill="#d7e8f1"/>
<rect x="215.18" y="277.8" width="8.58" height="1.38" fill="#d9e9f2"/>
<rect x="215.18" y="279.13" width="8.58" height="1.38" fill="#c9e1ee"/>
<rect x="215.18" y="280.47" width="8.58" height="1.38" fill="#dae9f2"/>
<rect x="215.18" y="281.8" width="8.58" height="1.38" fill="#dceaf2"/>
<rect x="215.18" y="283.13" width="8.58" height="1.38" fill="#c5dfed"/>
<rect x="215.18" y="284.47" width="8.58" height="1.38" fill="#ddebf2"/>
<rect x="215.18" y="285.8" width="8.58" height="1.38" fill="#c0dceb"/>
<rect x="215.18" y="287.13" width="8.58" height="1.38" fill="#d9e9f1"/>
<rect x="215.18" y="288.47" width="8.58" height="1.38" fill="#c2ddec"/>
<rect x="215.18" y="289.8" width="8.58" height="1.38" fill="#cfe4ef"/>
<rect x="215.18" y="291.13" width="8.58" height="1.38" fill="#c9e1ee"/>
<rect x="215.18" y="292.47" width="8.58" height="1.38" fill="#d4e7f1"/>
<rect x="215.18" y="293.8" width="8.58" height="1.38" fill="#dceaf2"/>
<rect x="215.18" y="295.13" width="8.58" height="1.38" fill="#d0e4f0"/>
<rect x="215.18" y="296.47" width="8.58" height="1.38" fill="#cfe4ef"/>
<rect x="215.18" y="297.8" width="8.58" height="1.38" fill="#d5e7f1"/>
<rect x="215.18" y="299.13" width="8.58" height="1.38" fill="#d8e8f1"/>
<rect x="215.18" y="300.47" width="8.58" height="1.38" fill="#d3e6f0"/>
<rect x="215.18" y="301.8" width="8.58" height="1.38" fill="#cae1ee"/>
<rect x="215.18" y="303.13" width="8.58" height="1.38" fill="#dceaf2"/>
<rect x="215.18" y="304.47" width="8.58" height="1.38" fill="#cce2ee"/>
<rect x="215.18" y="305.8" width="8.58" height="1.38" fill="#d1e5f0"/>
<rect x="215.18" y="307.13" width="8.58" height="1.38" fill="#c7e0ed"/>
<rect x="215.18" y="308.47" width="8.58" height="1.38" fill="#cce3ef"/>
<rect x="215.18" y="309.8" width="8.58" height="1.38" fill="#cfe4ef"/>
<rect x="215.18" y="311.13" width="8.58" height="1.38" fill="#d5e7f1"/>
<rect x="215.18" y="312.47" width="8.58" height="2.72" fill="#d3e6f0"/>
<rect x="215.18" y="315.13" width="8.58" height="1.38" fill="#dceaf2"/>
<rect x="215.18" y="316.47" width="8.58" height="1.38" fill="#d3e6f0"/>
<rect x="215.18" y="317.8" width="8.58" height="1.38" fill="#bddbea"/>
<rect x="215.18" y="319.13" width="8.58" height="1.38" fill="#c7e0ed"/>
<rect x="215.18" y="320.47" width="8.58" height="1.38" fill="#d6e7f1"/>
<rect x="215.18" y="321.8" width="8.58" height="1.38" fill="#d7e8f1"/>
<rect x="215.18" y="323.13" width="8.58" height="1.38" fill="#cce2ee"/>
<rect x="215.18" y="324.47" width="8.58" height="1.38" fill="#e1edf3"/>
<rect x="215.18" y="325.8" width="8.58" height="1.38" fill="#e4eef4"/>
<rect x="215.18" y="327.13" width="8.58" height="1.38" fill="#d8e8f1"/>
<rect x="215.18" y="328.47" width="8.58" height="1.38" fill="#dae9f2"/>
<rect x="215.18" y="329.8" width="8.58" height="1.38" fill="#d5e7f1"/>
<rect x="215.18" y="331.13" width="8.58" height="1.38" fill="#d3e6f0"/>
<rect x="215.18" y="332.47" width="8.58" height="1.38" fill="#d5e7f1"/>
<rect x="223.71" y="221.8" width="8.58" height="2.72" fill="#d5e7f1"/>
<rect x="223.71" y="224.47" width="8.58" height="1.38" fill="#dceaf2"/>
<rect x="223.71" y="225.8" width="8.58" height="1.38" fill="#d2e5f0"/>
<rect x="223.71" y="227.13" width="8.58" height="1.38" fill="#bfdceb"/>
<rect x="223.71" y="228.47" width="8.58" height="1.38" fill="#dceaf2"/>
<rect x="223.71" y="229.8" width="8.58" height="1.38" fill="#d2e5f0"/>
<rect x="223.71" y="231.13" width="8.58" height="1.38" fill="#ddebf2"/>
<rect x="223.71" y="232.47" width="8.58" height="1.38" fill="#deebf2"/>
<rect x="223.71" y="233.8" width="8.58" height="1.38" fill="#d1e5f0"/>
<rect x="223.71" y="235.13" width="8.58" height="1.38" fill="#c6dfed"/>
<rect x="223.71" y="236.47" width="8.58" height="1.38" fill="#d4e6f1"/>
<rect x="223.71" y="237.8" width="8.58" height="1.38" fill="#c1ddeb"/>
<rect x="223.71" y="239.13" width="8.58" height="1.38" fill="#dceaf2"/>
<rect x="223.71" y="240.47" width="8.58" height="1.38" fill="#d2e5f0"/>
<rect x="223.71" y="241.8" width="8.58" height="1.38" fill="#d4e7f1"/>
<rect x="223.71" y="243.13" width="8.58" height="1.38" fill="#c1ddeb"/>
<rect x="223.71" y="244.47" width="8.58" height="1.38" fill="#bcdaea"/>
<rect x="223.71" y="245.8" width="8.58" height="1.38" fill="#c9e1ee"/>
<rect x="223.71" y="247.13" width="8.58" height="1.38" fill="#c6dfed"/>
<rect x="223.71" y="248.47" width="8.58" height="1.38" fill="#deebf2"/>
<rect x="223.71" y="249.8" width="8.58" height="1.38" fill="#cee3ef"/>
<rect x="223.71" y="251.13" width="8.58" height="1.38" fill="#d9e9f2"/>
<rect x="223.71" y="252.47" width="8.58" height="1.38" fill="#cfe4ef"/>
<rect x="223.71" y="253.8" width="8.58" height="1.38" fill="#d3e6f0"/>
<rect x="223.71" y="255.13" width="8.58" height="1.38" fill="#d4e6f0"/>
<rect x="223.71" y="256.47" width="8.58" height="1.38" fill="#d4e6f1"/>
<rect x="223.71" y="257.8" width="8.58" height="1.38" fill="#d9e9f1"/>
<rect x="223.71" y="259.13" width="8.58" height="1.38" fill="#deebf2"/>
<rect x="223.71" y="260.47" width="8.58" height="1.38" fill="#dfecf3"/>
<rect x="223.71" y="261.8" width="8.58" height="1.38" fill="#c9e1ee"/>
<rect x="223.71" y="263.13" width="8.58" height="1.38" fill="#c5dfed"/>
<rect x="223.71" y="264.47" width="8.58" height="1.38" fill="#d3e6f0"/>
<rect x="223.71" y="265.8" width="8.58" height="1.38" fill="#d5e7f1"/>
<rect x="223.71" y="267.13" width="8.58" height="1.38" fill="#d7e8f1"/>
<rect x="223.71" y="268.47" width="8.58" height="1.38" fill="#d8e8f1"/>
<rect x="223.71" y="269.8" width="8.58" height="1.38" fill="#d3e6f0"/>
<rect x="223.71" y="271.13" width="8.58" height="1.38" fill="#cee3ef"/>
<rect x="223.71" y="272.47" width="8.58" height="1.38" fill="#d4e6f0"/>
<rect x="223.71" y="273.8" width="8.58" height="1.38" fill="#e2edf3"/>
<rect x="223.71" y="275.13" width="8.58" height="1.38" fill="#cbe2ee"/>
<rect x="223.71" y="276.47" width="8.58" height="1.38" fill="#d4e7f1"/>
<rect x="223.71" y="277.8" width="8.58" height="1.38" fill="#dceaf2"/>
<rect x="223.71" y="279.13" width="8.58" height="1.38" fill="#bddbea"/>
<rect x="223.71" y="280.47" width="8.58" height="1.38" fill="#d5e7f1"/>
<rect x="223.71" y="281.8" width="8.58" height="1.38" fill="#d9e9f2"/>
<rect x="223.71" y="283.13" width="8.58" height="1.38" fill="#d3e6f0"/>
<rect x="223.71" y="284.47" width="8.58" height="1.38" fill="#d6e8f1"/>
<rect x="223.71" y="285.8" width="8.58" height="1.38" fill="#cde3ef"/>
<rect x="223.71" y="287.13" width="8.58" height="1.38" fill="#d5e7f1"/>
<rect x="223.71" y="288.47" width="8.58" height="1.38" fill="#d7e8f1"/>
<rect x="223.71" y="289.8" width="8.58" height="1.38" fill="#c0dceb"/>
<rect x="223.71" y="291.13" width="8.58" height="1.38" fill="#bfdceb"/>
<rect x="223.71" y="292.47" width="8.58" height="1.38" fill="#e7f0f4"/>
<rect x="223.71" y="293.8" width="8.58" height="1.38" fill="#dceaf2"/>
<rect x="223.71" y="295.13" width="8.58" height="1.38" fill="#deebf2"/>
<rect x="223.71" y="296.47" width="8.58" height="1.38" fill="#d6e8f1"/>
<rect x="223.71" y="297.8" width="8.58" height="1.38" fill="#d8e8f1"/>
<rect x="223.71" y="299.13" width="8.58" height="1.38" fill="#d5e7f1"/>
<rect x="223.71" y="300.47" width="8.58" height="1.38" fill="#d3e6f0"/>
<rect x="223.71" y="301.8" width="8.58" height="1.38" fill="#d4e6f1"/>
<rect x="223.71" y="303.13" width="8.58" height="1.38" fill="#d3e6f0"/>
<rect x="223.71" y="304.47" width="8.58" height="1.38" fill="#d2e5f0"/>
<rect x="223.71" y="305.8" width="8.58" height="1.38" fill="#c8e0ed"/>
<rect x="223.71" y="307.13" width="8.58" height="1.38" fill="#cae2ee"/>
<rect x="223.71" y="308.47" width="8.58" height="1.38" fill="#b4d6e8"/>
<rect x="223.71" y="309.8" width="8.58" height="1.38" fill="#dae9f2"/>
<rect x="223.71" y="311.13" width="8.58" height="1.38" fill="#fbe6da"/>
<rect x="223.71" y="312.47" width="8.58" height="1.38" fill="#cae1ee"/>
<rect x="223.71" y="313.8" width="8.58" height="1.38" fill="#cce2ef"/>
<rect x="223.71" y="315.13" width="8.58" height="1.38" fill="#e0ecf3"/>
<rect x="223.71" y="316.47" width="8.58" height="1.38" fill="#deebf2"/>
<rect x="223.71" y="317.8" width="8.58" height="1.38" fill="#cfe4ef"/>
<rect x="223.71" y="319.13" width="8.58" height="1.38" fill="#c6dfed"/>
<rect x="223.71" y="320.47" width="8.58" height="1.38" fill="#d9e9f1"/>
<rect x="223.71" y="321.8" width="8.58" height="1.38" fill="#c8e0ed"/>
<rect x="223.71" y="323.13" width="8.58" height="1.38" fill="#d5e7f1"/>
<rect x="223.71" y="324.47" width="8.58" height="1.38" fill="#e1edf3"/>
<rect x="223.71" y="325.8" width="8.58" height="1.38" fill="#e2edf3"/>
<rect x="223.71" y="327.13" width="8.58" height="1.38" fill="#d0e4f0"/>
<rect x="223.71" y="328.47" width="8.58" height="1.38" fill="#d8e8f1"/>
<rect x="223.71" y="329.8" width="8.58" height="1.38" fill="#d9e9f1"/>
<rect x="223.71" y="331.13" width="8.58" height="1.38" fill="#ddebf2"/>
<rect x="223.71" y="332.47" width="8.58" height="1.38" fill="#dceaf2"/>
<rect x="232.24" y="221.8" width="8.58" height="1.38" fill="#d0e4f0"/>
<rect x="232.24" y="223.13" width="8.58" height="1.38" fill="#c5dfed"/>
<rect x="232.24" y="224.47" width="8.58" height="1.38" fill="#d3e6f0"/>
<rect x="232.24" y="225.8" width="8.58" height="1.38" fill="#cce2ee"/>
<rect x="232.24" y="227.13" width="8.58" height="1.38" fill="#d1e5f0"/>
<rect x="232.24" y="228.47" width="8.58" height="1.38" fill="#d5e7f1"/>
<rect x="232.24" y="229.8" width="8.58" height="1.38" fill="#d9e9f2"/>
<rect x="232.24" y="231.13" width="8.58" height="1.38" fill="#d7e8f1"/>
<rect x="232.24" y="232.47" width="8.58" height="1.38" fill="#d8e8f1"/>
<rect x="232.24" y="233.8" width="8.58" height="1.38" fill="#d6e8f1"/>
<rect x="232.24" y="235.13" width="8.58" height="1.38" fill="#c9e1ee"/>
<rect x="232.24" y="236.47" width="8.58" height="1.38" fill="#d8e8f1"/>
<rect x="232.24" y="237.8" width="8.58" height="1.38" fill="#bddbea"/>
<rect x="232.24" y="239.13" width="8.58" height="1.38" fill="#d9e9f2"/>
<rect x="232.24" y="240.47" width="8.58" height="1.38" fill="#dceaf2"/>
<rect x="232.24" y="241.8" width="8.58" height="1.38" fill="#d4e6f1"/>
<rect x="232.24" y="243.13" width="8.58" height="1.38" fill="#bcdaea"/>
<rect x="232.24" y="244.47" width="8.58" height="1.38" fill="#cfe4ef"/>
<rect x="232.24" y="245.8" width="8.58" height="1.38" fill="#c7e0ed"/>
<rect x="232.24" y="247.13" width="8.58" height="1.38" fill="#c9e1ee"/>
<rect x="232.24" y="248.47" width="8.58" height="1.38" fill="#d6e7f1"/>
<rect x="232.24" y="249.8" width="8.58" height="2.72" fill="#d3e6f0"/>
<rect x="232.24" y="252.47" width="8.58" height="1.38" fill="#c5dfed"/>
<rect x="232.24" y="253.8" width="8.58" height="1.38" fill="#d4e6f1"/>
<rect x="232.24" y="255.13" width="8.58" height="1.38" fill="#d0e5f0"/>
<rect x="232.24" y="256.47" width="8.58" height="1.38" fill="#d0e4f0"/>
<rect x="232.24" y="257.8" width="8.58" height="1.38" fill="#dbeaf2"/>
<rect x="232.24" y="259.13" width="8.58" height="1.38" fill="#d8e8f1"/>
<rect x="232.24" y="260.47" width="8.58" height="1.38" fill="#e0ecf3"/>
<rect x="232.24" y="261.8" width="8.58" height="1.38" fill="#c8e1ed"/>
<rect x="232.24" y="263.13" width="8.58" height="1.38" fill="#aed3e6"/>
<rect x="232.24" y="264.47" width="8.58" height="1.38" fill="#ddebf2"/>
<rect x="232.24" y="265.8" width="8.58" height="1.38" fill="#d3e6f0"/>
<rect x="232.24" y="267.13" width="8.58" height="1.38" fill="#d8e9f1"/>
<rect x="232.24" y="268.47" width="8.58" height="1.38" fill="#e3eef3"/>
<rect x="232.24" y="269.8" width="8.58" height="1.38" fill="#dae9f2"/>
<rect x="232.24" y="271.13" width="8.58" height="1.38" fill="#cae2ee"/>
<rect x="232.24" y="272.47" width="8.58" height="1.38" fill="#d3e6f0"/>
<rect x="232.24" y="273.8" width="8.58" height="1.38" fill="#dbeaf2"/>
<rect x="232.24" y="275.13" width="8.58" height="1.38" fill="#dae9f2"/>
<rect x="232.24" y="276.47" width="8.58" height="1.38" fill="#d4e7f1"/>
<rect x="232.24" y="277.8" width="8.58" height="1.38" fill="#dae9f2"/>
<rect x="232.24" y="279.13" width="8.58" height="1.38" fill="#d4e6f1"/>
<rect x="232.24" y="280.47" width="8.58" height="1.38" fill="#fbe6da"/>
<rect x="232.24" y="281.8" width="8.58" height="1.38" fill="#d3e6f0"/>
<rect x="232.24" y="283.13" width="8.58" height="1.38" fill="#cde3ef"/>
<rect x="232.24" y="284.47" width="8.58" height="1.38" fill="#cbe2ee"/>
<rect x="232.24" y="285.8" width="8.58" height="1.38" fill="#d5e7f1"/>
<rect x="232.24" y="287.13" width="8.58" height="1.38" fill="#cee3ef"/>
<rect x="232.24" y="288.47" width="8.58" height="1.38" fill="#fae8de"/>
<rect x="232.24" y="289.8" width="8.58" height="1.38" fill="#dae9f2"/>
<rect x="232.24" y="291.13" width="8.58" height="1.38" fill="#d3e6f0"/>
<rect x="232.24" y="292.47" width="8.58" height="1.38" fill="#cee4ef"/>
<rect x="232.24" y="293.8" width="8.58" height="2.72" fill="#d6e7f1"/>
<rect x="232.24" y="296.47" width="8.58" height="1.38" fill="#e2edf3"/>
<rect x="232.24" y="297.8" width="8.58" height="1.38" fill="#d5e7f1"/>
<rect x="232.24" y="299.13" width="8.58" height="1.38" fill="#d4e6f1"/>
<rect x="232.24" y="300.47" width="8.58" height="1.38" fill="#bbdaea"/>
<rect x="232.24" y="301.8" width="8.58" height="1.38" fill="#d4e7f1"/>
<rect x="232.24" y="303.13" width="8.58" height="1.38" fill="#d6e7f1"/>
<rect x="232.24" y="304.47" width="8.58" height="1.38" fill="#bfdceb"/>
<rect x="232.24" y="305.8" width="8.58" height="1.38" fill="#f7f6f4"/>
<rect x="232.24" y="307.13" width="8.58" height="1.38" fill="#d4e6f1"/>
<rect x="232.24" y="308.47" width="8.58" height="1.38" fill="#d3e6f0"/>
<rect x="232.24" y="309.8" width="8.58" height="1.38" fill="#d5e7f1"/>
<rect x="232.24" y="311.13" width="8.58" height="1.38" fill="#cbe2ee"/>
<rect x="232.24" y="312.47" width="8.58" height="1.38" fill="#d6e7f1"/>
<rect x="232.24" y="313.8" width="8.58" height="1.38" fill="#d1e5f0"/>
<rect x="232.24" y="315.13" width="8.58" height="1.38" fill="#e0ecf3"/>
<rect x="232.24" y="316.47" width="8.58" height="2.72" fill="#cfe4ef"/>
<rect x="232.24" y="319.13" width="8.58" height="1.38" fill="#bcdaea"/>
<rect x="232.24" y="320.47" width="8.58" height="1.38" fill="#dceaf2"/>
<rect x="232.24" y="321.8" width="8.58" height="1.38" fill="#cee4ef"/>
<rect x="232.24" y="323.13" width="8.58" height="1.38" fill="#cce3ef"/>
<rect x="232.24" y="324.47" width="8.58" height="1.38" fill="#deebf2"/>
<rect x="232.24" y="325.8" width="8.58" height="1.38" fill="#c7e0ed"/>
<rect x="232.24" y="327.13" width="8.58" height="1.38" fill="#dbeaf2"/>
<rect x="232.24" y="328.47" width="8.58" height="1.38" fill="#d7e8f1"/>
<rect x="232.24" y="329.8" width="8.58" height="1.38" fill="#c9e1ee"/>
<rect x="232.24" y="331.13" width="8.58" height="1.38" fill="#dbeaf2"/>
<rect x="232.24" y="332.47" width="8.58" height="1.38" fill="#dceaf2"/>
<rect x="240.77" y="221.8" width="8.58" height="1.38" fill="#d5e7f1"/>
<rect x="240.77" y="223.13" width="8.58" height="1.38" fill="#e3edf3"/>
<rect x="240.77" y="224.47" width="8.58" height="1.38" fill="#d5e7f1"/>
<rect x="240.77" y="225.8" width="8.58" height="1.38" fill="#c5dfec"/>
<rect x="240.77" y="227.13" width="8.58" height="1.38" fill="#cce2ef"/>
<rect x="240.77" y="228.47" width="8.58" height="1.38" fill="#d3e6f0"/>
<rect x="240.77" y="229.8" width="8.58" height="1.38" fill="#d6e7f1"/>
<rect x="240.77" y="231.13" width="8.58" height="1.38" fill="#d3e6f0"/>
<rect x="240.77" y="232.47" width="8.58" height="1.38" fill="#ddebf2"/>
<rect x="240.77" y="233.8" width="8.58" height="1.38" fill="#dceaf2"/>
<rect x="240.77" y="235.13" width="8.58" height="1.38" fill="#cae2ee"/>
<rect x="240.77" y="236.47" width="8.58" height="1.38" fill="#d3e6f0"/>
<rect x="240.77" y="237.8" width="8.58" height="1.38" fill="#cfe4ef"/>
<rect x="240.77" y="239.13" width="8.58" height="2.72" fill="#d8e8f1"/>
<rect x="240.77" y="241.8" width="8.58" height="1.38" fill="#d7e8f1"/>
<rect x="240.77" y="243.13" width="8.58" height="1.38" fill="#bddbea"/>
<rect x="240.77" y="244.47" width="8.58" height="1.38" fill="#cae1ee"/>
<rect x="240.77" y="245.8" width="8.58" height="1.38" fill="#cbe2ee"/>
<rect x="240.77" y="247.13" width="8.58" height="1.38" fill="#c5dfed"/>
<rect x="240.77" y="248.47" width="8.58" height="2.72" fill="#d6e7f1"/>
<rect x="240.77" y="251.13" width="8.58" height="1.38" fill="#d6e8f1"/>
<rect x="240.77" y="252.47" width="8.58" height="1.38" fill="#e1ecf3"/>
<rect x="240.77" y="253.8" width="8.58" height="1.38" fill="#d2e5f0"/>
<rect x="240.77" y="255.13" width="8.58" height="1.38" fill="#d0e4f0"/>
<rect x="240.77" y="256.47" width="8.58" height="1.38" fill="#f9f0eb"/>
<rect x="240.77" y="257.8" width="8.58" height="1.38" fill="#ddebf2"/>
<rect x="240.77" y="259.13" width="8.58" height="1.38" fill="#dceaf2"/>
<rect x="240.77" y="260.47" width="8.58" height="1.38" fill="#dfebf3"/>
<rect x="240.77" y="261.8" width="8.58" height="1.38" fill="#d0e5f0"/>
<rect x="240.77" y="263.13" width="8.58" height="1.38" fill="#c9e1ee"/>
<rect x="240.77" y="264.47" width="8.58" height="1.38" fill="#d1e5f0"/>
<rect x="240.77" y="265.8" width="8.58" height="1.38" fill="#dae9f2"/>
<rect x="240.77" y="267.13" width="8.58" height="1.38" fill="#d7e8f1"/>
<rect x="240.77" y="268.47" width="8.58" height="2.72" fill="#d3e6f0"/>
<rect x="240.77" y="271.13" width="8.58" height="1.38" fill="#cee3ef"/>
<rect x="240.77" y="272.47" width="8.58" height="1.38" fill="#d9e9f1"/>
<rect x="240.77" y="273.8" width="8.58" height="1.38" fill="#d2e6f0"/>
<rect x="240.77" y="275.13" width="8.58" height="1.38" fill="#d5e7f1"/>
<rect x="240.77" y="276.47" width="8.58" height="1.38" fill="#d6e7f1"/>
<rect x="240.77" y="277.8" width="8.58" height="1.38" fill="#d3e6f0"/>
<rect x="240.77" y="279.13" width="8.58" height="1.38" fill="#c1ddec"/>
<rect x="240.77" y="280.47" width="8.58" height="1.38" fill="#d7e8f1"/>
<rect x="240.77" y="281.8" width="8.58" height="1.38" fill="#ddebf2"/>
<rect x="240.77" y="283.13" width="8.58" height="1.38" fill="#c1ddeb"/>
<rect x="240.77" y="284.47" width="8.58" height="1.38" fill="#cbe2ee"/>
<rect x="240.77" y="285.8" width="8.58" height="1.38" fill="#dfecf3"/>
<rect x="240.77" y="287.13" width="8.58" height="1.38" fill="#d2e6f0"/>
<rect x="240.77" y="288.47" width="8.58" height="1.38" fill="#bcdaea"/>
<rect x="240.77" y="289.8" width="8.58" height="1.38" fill="#dbeaf2"/>
<rect x="240.77" y="291.13" width="8.58" height="1.38" fill="#cce3ef"/>
<rect x="240.77" y="292.47" width="8.58" height="1.38" fill="#deebf2"/>
<rect x="240.77" y="293.8" width="8.58" height="1.38" fill="#d8e8f1"/>
<rect x="240.77" y="295.13" width="8.58" height="1.38" fill="#e3eef3"/>
<rect x="240.77" y="296.47" width="8.58" height="1.38" fill="#dceaf2"/>
<rect x="240.77" y="297.8" width="8.58" height="1.38" fill="#d2e6f0"/>
<rect x="240.77" y="299.13" width="8.58" height="1.38" fill="#d1e5f0"/>
<rect x="240.77" y="300.47" width="8.58" height="1.38" fill="#d2e6f0"/>
<rect x="240.77" y="301.8" width="8.58" height="1.38" fill="#d9e9f1"/>
<rect x="240.77" y="303.13" width="8.58" height="1.38" fill="#d0e5f0"/>
<rect x="240.77" y="304.47" width="8.58" height="1.38" fill="#d3e6f0"/>
<rect x="240.77" y="305.8" width="8.58" height="1.38" fill="#bedbeb"/>
<rect x="240.77" y="307.13" width="8.58" height="1.38" fill="#bcdaea"/>
<rect x="240.77" y="308.47" width="8.58" height="1.38" fill="#cee4ef"/>
<rect x="240.77" y="309.8" width="8.58" height="1.38" fill="#d7e8f1"/>
<rect x="240.77" y="311.13" width="8.58" height="1.38" fill="#c9e1ee"/>
<rect x="240.77" y="312.47" width="8.58" height="1.38" fill="#cfe4ef"/>
<rect x="240.77" y="313.8" width="8.58" height="1.38" fill="#d7e8f1"/>
<rect x="240.77" y="315.13" width="8.58" height="1.38" fill="#e2edf3"/>
<rect x="240.77" y="316.47" width="8.58" height="1.38" fill="#d5e7f1"/>
<rect x="240.77" y="317.8" width="8.58" height="1.38" fill="#c8e1ee"/>
<rect x="240.77" y="319.13" width="8.58" height="1.38" fill="#b8d8e9"/>
<rect x="240.77" y="320.47" width="8.58" height="1.38" fill="#d8e8f1"/>
<rect x="240.77" y="321.8" width="8.58" height="1.38" fill="#cee4ef"/>
<rect x="240.77" y="323.13" width="8.58" height="1.38" fill="#cfe4ef"/>
<rect x="240.77" y="324.47" width="8.58" height="1.38" fill="#ddebf2"/>
<rect x="240.77" y="325.8" width="8.58" height="1.38" fill="#deebf2"/>
<rect x="240.77" y="327.13" width="8.58" height="1.38" fill="#d8e8f1"/>
<rect x="240.77" y="328.47" width="8.58" height="1.38" fill="#d6e7f1"/>
<rect x="240.77" y="329.8" width="8.58" height="1.38" fill="#d5e7f1"/>
<rect x="240.77" y="331.13" width="8.58" height="1.38" fill="#deebf2"/>
<rect x="240.77" y="332.47" width="8.58" height="1.38" fill="#e0ecf3"/>
</g>
<defs><linearGradient id="cb" x1="0" y1="0" x2="0" y2="1">
<stop offset="0" stop-color="#b2182b"/>
<stop offset="0.12" stop-color="#d6604d"/>
<stop offset="0.25" stop-color="#f4a582"/>
<stop offset="0.38" stop-color="#fddbc7"/>
<stop offset="0.5" stop-color="#f7f7f7"/>
<stop offset="0.62" stop-color="#d1e5f0"/>
<stop offset="0.75" stop-color="#92c5de"/>
<stop offset="0.88" stop-color="#4393c3"/>
<stop offset="1" stop-color="#2166ac"/>
</linearGradient></defs>
<rect x="258.1" y="231" width="6.6" height="96.8" fill="url(#cb)"/>
<text x="266.8" y="233.2" font-size="8.4" fill="#222">≥2</text>
<text x="266.8" y="257.3" font-size="8.4" fill="#222">1</text>
<text x="266.8" y="281.4" font-size="8.4" fill="#222">0</text>
<text x="266.8" y="305.5" font-size="8.4" fill="#222">−1</text>
<text x="266.8" y="329.6" font-size="8.4" fill="#222">≤−2</text>
<text x="7.4" y="229.6" font-size="8" font-style="italic" fill="#222">Bmp2</text>
<text x="7.4" y="238.7" font-size="8" font-style="italic" fill="#222">Bmp4</text>
<text x="7.4" y="247.8" font-size="8" font-style="italic" fill="#222">Bmpr1a</text>
<text x="7.4" y="256.6" font-size="8" font-style="italic" fill="#222">Smad1</text>
<text x="7.4" y="265.5" font-size="8" font-style="italic" fill="#222">Smad7</text>
<text x="7.4" y="274.7" font-size="8" font-style="italic" fill="#222">Smad9</text>
<text x="7.4" y="284" font-size="8" font-style="italic" fill="#222">Id1</text>
<text x="7.4" y="292.6" font-size="8" font-style="italic" fill="#222">Ppp1r15a</text>
<text x="7.4" y="301.7" font-size="8" font-style="italic" fill="#222">Gsk3b</text>
<text x="7.4" y="310.4" font-size="8" font-style="italic" fill="#222">Cdkn2b</text>
<g transform="translate(46.36,337) rotate(90) scale(0.9121,1)" fill="#222">
<text x="0" y="0" font-size="7.8" style="white-space:pre">J</text>
<text x="3.9" y="-2.7" font-size="5.4" style="white-space:pre">VF</text>
<text x="10.8" y="0" font-size="7.8" style="white-space:pre">p</text>
<text x="15.14" y="-2.7" font-size="5.4" style="white-space:pre">−/−</text>
<text x="22.95" y="0" font-size="7.8" style="white-space:pre">_AML_MEP_1</text>
</g>
<g transform="translate(54.89,337) rotate(90) scale(0.9121,1)" fill="#222">
<text x="0" y="0" font-size="7.8" style="white-space:pre">J</text>
<text x="3.9" y="-2.7" font-size="5.4" style="white-space:pre">VF</text>
<text x="10.8" y="0" font-size="7.8" style="white-space:pre">p</text>
<text x="15.14" y="-2.7" font-size="5.4" style="white-space:pre">−/−</text>
<text x="22.95" y="0" font-size="7.8" style="white-space:pre">_AML_MEP_2</text>
</g>
<g transform="translate(63.42,337) rotate(90) scale(0.9121,1)" fill="#222">
<text x="0" y="0" font-size="7.8" style="white-space:pre">J</text>
<text x="3.9" y="-2.7" font-size="5.4" style="white-space:pre">VF</text>
<text x="10.8" y="0" font-size="7.8" style="white-space:pre">p</text>
<text x="15.14" y="-2.7" font-size="5.4" style="white-space:pre">−/−</text>
<text x="22.95" y="0" font-size="7.8" style="white-space:pre">_AML_MEP_3</text>
</g>
<g transform="translate(71.95,337) rotate(90) scale(0.9230,1)" fill="#222">
<text x="0" y="0" font-size="7.8" style="white-space:pre">J</text>
<text x="3.9" y="-2.7" font-size="5.4" style="white-space:pre">VF</text>
<text x="10.8" y="0" font-size="7.8" style="white-space:pre">p</text>
<text x="15.14" y="-2.7" font-size="5.4" style="white-space:pre">172/−</text>
<text x="28.8" y="0" font-size="7.8" style="white-space:pre">_AML_MEP_1</text>
</g>
<g transform="translate(80.48,337) rotate(90) scale(0.9230,1)" fill="#222">
<text x="0" y="0" font-size="7.8" style="white-space:pre">J</text>
<text x="3.9" y="-2.7" font-size="5.4" style="white-space:pre">VF</text>
<text x="10.8" y="0" font-size="7.8" style="white-space:pre">p</text>
<text x="15.14" y="-2.7" font-size="5.4" style="white-space:pre">172/−</text>
<text x="28.8" y="0" font-size="7.8" style="white-space:pre">_AML_MEP_2</text>
</g>
<g transform="translate(89.01,337) rotate(90) scale(0.9230,1)" fill="#222">
<text x="0" y="0" font-size="7.8" style="white-space:pre">J</text>
<text x="3.9" y="-2.7" font-size="5.4" style="white-space:pre">VF</text>
<text x="10.8" y="0" font-size="7.8" style="white-space:pre">p</text>
<text x="15.14" y="-2.7" font-size="5.4" style="white-space:pre">172/−</text>
<text x="28.8" y="0" font-size="7.8" style="white-space:pre">_AML_MEP_3</text>
</g>
<g transform="translate(97.54,337) rotate(90) scale(0.8753,1)" fill="#222">
<text x="0" y="0" font-size="7.8" style="white-space:pre">WT_MEP_1</text>
</g>
<g transform="translate(106.07,337) rotate(90) scale(0.8753,1)" fill="#222">
<text x="0" y="0" font-size="7.8" style="white-space:pre">WT_MEP_2</text>
</g>
<g transform="translate(114.6,337) rotate(90) scale(0.8753,1)" fill="#222">
<text x="0" y="0" font-size="7.8" style="white-space:pre">WT_MEP_3</text>
</g>
<g transform="translate(123.13,337) rotate(90) scale(0.8842,1)" fill="#222">
<text x="0" y="0" font-size="7.8" style="white-space:pre">J</text>
<text x="3.9" y="-2.7" font-size="5.4" style="white-space:pre">VF</text>
<text x="10.8" y="0" font-size="7.8" style="white-space:pre">_MEP_1</text>
</g>
<g transform="translate(131.66,337) rotate(90) scale(0.8842,1)" fill="#222">
<text x="0" y="0" font-size="7.8" style="white-space:pre">J</text>
<text x="3.9" y="-2.7" font-size="5.4" style="white-space:pre">VF</text>
<text x="10.8" y="0" font-size="7.8" style="white-space:pre">_MEP_2</text>
</g>
<g transform="translate(140.19,337) rotate(90) scale(0.8842,1)" fill="#222">
<text x="0" y="0" font-size="7.8" style="white-space:pre">J</text>
<text x="3.9" y="-2.7" font-size="5.4" style="white-space:pre">VF</text>
<text x="10.8" y="0" font-size="7.8" style="white-space:pre">_MEP_3</text>
</g>
<g transform="translate(148.71,337) rotate(90) scale(0.9156,1)" fill="#222">
<text x="0" y="0" font-size="7.8" style="white-space:pre">J</text>
<text x="3.9" y="-2.7" font-size="5.4" style="white-space:pre">VF</text>
<text x="10.8" y="0" font-size="7.8" style="white-space:pre">p</text>
<text x="15.14" y="-2.7" font-size="5.4" style="white-space:pre">+/−</text>
<text x="22.95" y="0" font-size="7.8" style="white-space:pre">_MEP_1</text>
</g>
<g transform="translate(157.24,337) rotate(90) scale(0.9156,1)" fill="#222">
<text x="0" y="0" font-size="7.8" style="white-space:pre">J</text>
<text x="3.9" y="-2.7" font-size="5.4" style="white-space:pre">VF</text>
<text x="10.8" y="0" font-size="7.8" style="white-space:pre">p</text>
<text x="15.14" y="-2.7" font-size="5.4" style="white-space:pre">+/−</text>
<text x="22.95" y="0" font-size="7.8" style="white-space:pre">_MEP_2</text>
</g>
<g transform="translate(165.77,337) rotate(90) scale(0.9156,1)" fill="#222">
<text x="0" y="0" font-size="7.8" style="white-space:pre">J</text>
<text x="3.9" y="-2.7" font-size="5.4" style="white-space:pre">VF</text>
<text x="10.8" y="0" font-size="7.8" style="white-space:pre">p</text>
<text x="15.14" y="-2.7" font-size="5.4" style="white-space:pre">+/−</text>
<text x="22.95" y="0" font-size="7.8" style="white-space:pre">_MEP_3</text>
</g>
<g transform="translate(174.3,337) rotate(90) scale(0.9164,1)" fill="#222">
<text x="0" y="0" font-size="7.8" style="white-space:pre">J</text>
<text x="3.9" y="-2.7" font-size="5.4" style="white-space:pre">VF</text>
<text x="10.8" y="0" font-size="7.8" style="white-space:pre">p</text>
<text x="15.14" y="-2.7" font-size="5.4" style="white-space:pre">−/−</text>
<text x="22.95" y="0" font-size="7.8" style="white-space:pre">_MPN_MEP_1</text>
</g>
<g transform="translate(182.83,337) rotate(90) scale(0.9164,1)" fill="#222">
<text x="0" y="0" font-size="7.8" style="white-space:pre">J</text>
<text x="3.9" y="-2.7" font-size="5.4" style="white-space:pre">VF</text>
<text x="10.8" y="0" font-size="7.8" style="white-space:pre">p</text>
<text x="15.14" y="-2.7" font-size="5.4" style="white-space:pre">−/−</text>
<text x="22.95" y="0" font-size="7.8" style="white-space:pre">_MPN_MEP_2</text>
</g>
<g transform="translate(191.36,337) rotate(90) scale(0.9164,1)" fill="#222">
<text x="0" y="0" font-size="7.8" style="white-space:pre">J</text>
<text x="3.9" y="-2.7" font-size="5.4" style="white-space:pre">VF</text>
<text x="10.8" y="0" font-size="7.8" style="white-space:pre">p</text>
<text x="15.14" y="-2.7" font-size="5.4" style="white-space:pre">−/−</text>
<text x="22.95" y="0" font-size="7.8" style="white-space:pre">_MPN_MEP_3</text>
</g>
<g transform="translate(199.89,337) rotate(90) scale(0.9415,1)" fill="#222">
<text x="0" y="0" font-size="7.8" style="white-space:pre">J+p53 172/+_MEP_1</text>
</g>
<g transform="translate(208.42,337) rotate(90) scale(0.9415,1)" fill="#222">
<text x="0" y="0" font-size="7.8" style="white-space:pre">J+p53 172/+_MEP_2</text>
</g>
<g transform="translate(216.95,337) rotate(90) scale(0.9415,1)" fill="#222">
<text x="0" y="0" font-size="7.8" style="white-space:pre">J+p53 172/+_MEP_3</text>
</g>
<g transform="translate(225.48,337) rotate(90) scale(0.9143,1)" fill="#222">
<text x="0" y="0" font-size="7.8" style="white-space:pre">J</text>
<text x="3.9" y="-2.7" font-size="5.4" style="white-space:pre">VF</text>
<text x="10.8" y="0" font-size="7.8" style="white-space:pre">p</text>
<text x="15.14" y="-2.7" font-size="5.4" style="white-space:pre">172/−</text>
<text x="28.8" y="0" font-size="7.8" style="white-space:pre">_MPN_MEP_1</text>
</g>
<g transform="translate(234.01,337) rotate(90) scale(0.9143,1)" fill="#222">
<text x="0" y="0" font-size="7.8" style="white-space:pre">J</text>
<text x="3.9" y="-2.7" font-size="5.4" style="white-space:pre">VF</text>
<text x="10.8" y="0" font-size="7.8" style="white-space:pre">p</text>
<text x="15.14" y="-2.7" font-size="5.4" style="white-space:pre">172/−</text>
<text x="28.8" y="0" font-size="7.8" style="white-space:pre">_MPN_MEP_2</text>
</g>
<g transform="translate(242.54,337) rotate(90) scale(0.9143,1)" fill="#222">
<text x="0" y="0" font-size="7.8" style="white-space:pre">J</text>
<text x="3.9" y="-2.7" font-size="5.4" style="white-space:pre">VF</text>
<text x="10.8" y="0" font-size="7.8" style="white-space:pre">p</text>
<text x="15.14" y="-2.7" font-size="5.4" style="white-space:pre">172/−</text>
<text x="28.8" y="0" font-size="7.8" style="white-space:pre">_MPN_MEP_3</text>
</g>
<text x="302.6" y="215.1" font-size="11.6" font-weight="bold" fill="#111">G</text>
<g>
<path d="M410.3 334.5h0M433.2 329.2h0M419.3 331.6h0M414.7 330.6h0M392.4 331.0h0M417.1 329.0h0M403.1 323.7h0M401.2 333.5h0M412.3 331.4h0M403.9 333.7h0M397.9 327.9h0M403.3 325.3h0M410.6 327.5h0M395.8 333.4h0M405.2 331.3h0M413.1 332.9h0M401.8 321.1h0M406.3 333.5h0M423.0 331.8h0M401.9 329.7h0M377.5 327.8h0M412.7 331.5h0M402.9 333.8h0M401.2 333.5h0M399.2 327.7h0M399.0 333.8h0M390.4 328.7h0M409.0 334.0h0M415.9 332.8h0M410.4 334.0h0M405.8 330.4h0M417.6 329.4h0M399.1 329.7h0M412.7 332.3h0M399.0 327.6h0M386.6 328.9h0M403.0 327.7h0M403.7 327.5h0M403.5 333.9h0M400.7 333.9h0M425.7 331.1h0M413.7 331.1h0M415.8 332.2h0M415.1 328.7h0M403.0 324.5h0M412.0 320.7h0M399.7 332.2h0M411.8 327.2h0M413.3 328.9h0M403.6 327.5h0M402.8 333.9h0M402.6 318.9h0M402.8 318.6h0M395.8 331.0h0M415.1 332.9h0M406.7 332.6h0M398.2 327.9h0M381.8 330.1h0M393.7 331.9h0M389.9 328.9h0M412.4 322.5h0M404.6 328.8h0M412.3 328.5h0M410.9 334.5h0M408.6 332.5h0M410.6 327.5h0M415.0 329.7h0M415.2 327.7h0M411.5 325.3h0M415.9 333.8h0M418.6 330.1h0M408.2 330.7h0M403.3 324.9h0M411.6 325.3h0M406.7 332.7h0M414.4 332.6h0M393.7 328.2h0M398.2 329.6h0M401.8 314.7h0M402.4 329.5h0M419.8 328.9h0M409.1 329.3h0M403.6 327.5h0M414.2 329.3h0M422.2 328.5h0M417.1 329.4h0M413.2 331.1h0M421.9 332.3h0M402.3 319.4h0M412.0 319.4h0M412.3 328.8h0M402.8 318.2h0M411.4 326.2h0M405.8 331.2h0M395.1 329.5h0M408.7 334.3h0M411.9 315.1h0M412.8 331.3h0M411.7 320.9h0M422.5 332.2h0M393.3 331.5h0M411.2 326.6h0M411.1 334.1h0M405.3 333.5h0M386.7 328.5h0M403.7 327.5h0M417.1 330.3h0M410.9 327.5h0M429.6 327.6h0M400.6 329.3h0M403.1 322.5h0M401.0 330.6h0M412.5 328.5h0M396.5 329.8h0M404.0 327.9h0M411.6 318.1h0M395.8 329.0h0M395.2 331.0h0M395.3 328.1h0M402.7 328.4h0M401.8 333.3h0M404.0 327.8h0M410.8 327.5h0M401.7 300.7h0M411.1 330.7h0M422.8 330.5h0M438.2 328.2h0M385.2 329.8h0M416.7 333.0h0M405.1 329.0h0M394.4 331.2h0M412.6 328.5h0M421.0 332.0h0M428.6 330.7h0M386.2 328.6h0M414.7 329.9h0M402.2 319.6h0M408.0 331.1h0M399.6 329.3h0M412.1 327.9h0M403.8 327.5h0M411.4 326.9h0M384.9 331.2h0M424.0 332.4h0M391.0 331.7h0M432.4 329.3h0M411.1 333.6h0M410.9 327.1h0M420.7 328.9h0M399.6 333.3h0M402.0 310.3h0M411.5 333.3h0M403.3 325.4h0M416.7 328.7h0M390.6 327.8h0M398.2 331.7h0M405.1 333.7h0M401.4 327.9h0M387.8 332.0h0M428.0 328.3h0M411.2 327.0h0M415.5 333.5h0M388.3 327.8h0M414.3 332.2h0M400.5 329.5h0M403.3 325.0h0M403.7 334.5h0M405.5 334.2h0M410.3 333.5h0M411.4 321.3h0M396.9 331.1h0M412.4 319.0h0M412.4 311.6h0M401.8 331.1h0M419.4 328.0h0M404.5 332.2h0M418.4 333.5h0M395.5 332.6h0M411.1 329.2h0M401.8 322.5h0M402.7 330.1h0M407.1 332.8h0M433.7 329.8h0M389.6 330.0h0M435.3 327.6h0M390.0 332.6h0M393.5 330.8h0M404.2 328.1h0M408.3 333.3h0M420.1 327.7h0M422.2 328.4h0M412.0 325.7h0M405.2 331.3h0M400.5 328.4h0M421.8 327.5h0M408.8 332.2h0M403.8 327.5h0M396.9 330.7h0M383.2 330.6h0M415.7 328.4h0M410.6 327.5h0M393.8 332.5h0M394.4 330.9h0M408.9 334.6h0M402.4 316.9h0M401.6 332.4h0M411.6 332.9h0M402.8 321.6h0M420.2 328.1h0M411.4 327.4h0M405.6 331.6h0M403.6 327.5h0M402.6 328.7h0M402.8 332.0h0M397.9 330.9h0M415.8 333.0h0M404.6 331.0h0M389.8 330.1h0M388.4 329.3h0M412.4 328.3h0M394.4 330.2h0M401.0 331.3h0M395.6 333.4h0M408.3 332.6h0M392.3 332.9h0M413.5 331.9h0M433.3 328.2h0M413.1 334.0h0M402.8 330.3h0M402.5 323.4h0M425.6 329.8h0M412.2 330.3h0M410.3 331.3h0M415.6 327.8h0M405.3 333.6h0M414.8 333.1h0M421.1 332.4h0M402.9 328.5h0M385.6 331.5h0M397.6 332.6h0M414.4 331.0h0M402.7 320.3h0M411.4 327.1h0M399.9 328.5h0M414.8 334.0h0M403.8 327.5h0M416.4 332.7h0M412.7 310.4h0M425.2 330.1h0M408.4 333.3h0M425.0 329.7h0M402.3 327.0h0M400.0 330.8h0M380.1 328.7h0M401.0 329.4h0M405.6 333.3h0M425.2 328.7h0M404.9 332.2h0M402.5 328.2h0M409.4 329.8h0M397.9 329.2h0M400.5 329.8h0M399.6 331.2h0M411.6 331.9h0M404.8 328.0h0M414.0 332.1h0M410.9 333.0h0M404.4 328.0h0M402.8 323.9h0M394.2 333.1h0M403.7 327.5h0M411.7 333.2h0M415.6 328.7h0M412.0 327.1h0M419.2 332.6h0M403.4 326.3h0M403.6 327.5h0M412.7 333.4h0M404.6 329.7h0M407.9 334.4h0M397.6 333.5h0M392.0 327.5h0M413.6 333.5h0M391.1 327.6h0M417.8 331.5h0M402.1 326.2h0M416.9 328.1h0M402.6 332.8h0M404.2 328.4h0M400.9 327.5h0M412.4 314.6h0M400.1 332.4h0M412.6 321.7h0M414.0 329.4h0M403.2 323.3h0M409.4 331.3h0M433.3 329.9h0M402.8 322.1h0M402.2 330.3h0M410.7 327.5h0M421.1 328.9h0M406.6 334.2h0M417.7 333.8h0M394.5 333.1h0M402.0 311.3h0M402.7 321.1h0M405.3 330.8h0M402.3 316.9h0M409.0 333.5h0M391.3 327.8h0M417.9 327.8h0M409.3 329.6h0M409.9 331.9h0M412.4 305.0h0M411.3 331.9h0M411.3 322.1h0M403.0 319.9h0M410.8 327.5h0M428.2 329.1h0M410.9 333.0h0M410.6 327.5h0M412.4 331.3h0M416.8 330.6h0M400.4 331.6h0M410.9 327.5h0M425.4 331.1h0M418.5 332.0h0M413.4 331.6h0M400.6 333.0h0M409.4 331.1h0M407.2 334.1h0M385.0 329.1h0M416.7 329.2h0M396.9 331.6h0M419.4 331.5h0M411.2 329.3h0M415.2 332.9h0M402.5 334.0h0M408.8 330.6h0M412.9 332.9h0M419.0 328.5h0M410.9 331.2h0M422.5 332.4h0M405.8 332.0h0M405.3 329.7h0M426.5 329.9h0M412.4 329.5h0M417.1 331.9h0M402.6 321.1h0M405.2 333.9h0M413.1 331.1h0M411.2 324.9h0M401.8 305.0h0M421.3 328.7h0M414.6 334.0h0M402.5 316.1h0M423.4 329.9h0M401.9 332.5h0M403.7 327.5h0M405.1 329.4h0M429.9 331.4h0M409.1 330.5h0M410.9 327.5h0M376.8 327.5h0M390.8 331.3h0M413.0 328.5h0M393.1 327.6h0M407.0 333.8h0M409.5 331.2h0M422.9 331.6h0M411.3 333.0h0M402.0 328.2h0M416.0 329.1h0M397.4 332.8h0M411.8 319.1h0M429.4 330.1h0M411.3 323.5h0M388.2 331.5h0M411.4 324.2h0M424.9 330.7h0M402.2 308.9h0M412.3 313.5h0M403.3 326.9h0M404.2 330.3h0M403.2 327.2h0M383.4 329.0h0M403.8 327.5h0M405.0 328.4h0M413.2 332.9h0M393.1 330.7h0M403.2 332.2h0M414.7 331.2h0M409.2 332.6h0M403.2 332.6h0M434.4 330.1h0M390.3 331.5h0M434.8 328.2h0M424.4 330.7h0M415.6 327.6h0M401.9 303.5h0M415.8 328.5h0M410.2 334.5h0M389.0 329.4h0M413.5 331.2h0M396.3 328.6h0M402.8 332.7h0M393.7 330.2h0M415.5 332.7h0M405.2 331.0h0M405.3 330.7h0M387.5 332.1h0M411.0 327.2h0M414.7 330.0h0M410.6 334.1h0M403.9 327.5h0M411.0 325.5h0M409.4 329.6h0M402.4 320.7h0M415.3 330.5h0M402.5 329.3h0M399.8 327.8h0M400.1 329.4h0M404.3 329.2h0M404.7 328.0h0M403.6 328.2h0M412.2 320.1h0M414.9 328.4h0M401.8 330.1h0M412.7 309.9h0M409.4 327.6h0M406.4 331.1h0M412.0 311.1h0M410.2 330.2h0M393.3 330.8h0M398.3 333.5h0M412.1 310.7h0M420.3 328.3h0M403.5 333.8h0M425.7 330.1h0M408.5 332.0h0M425.5 330.2h0M407.4 333.0h0M390.2 329.4h0M412.7 318.5h0M398.0 332.8h0M393.8 331.6h0M397.6 328.3h0M395.4 329.1h0M417.4 331.7h0M411.3 323.2h0M402.3 323.1h0M401.9 317.2h0M410.5 327.5h0M396.4 327.7h0M405.5 334.4h0M395.1 328.1h0M425.5 331.7h0M404.6 328.6h0M402.1 333.8h0M426.4 328.4h0M398.6 332.8h0M408.7 332.6h0M401.9 332.0h0M413.5 330.8h0M402.8 320.2h0M393.8 333.0h0M409.6 332.5h0M405.1 334.2h0M404.5 333.7h0M423.6 330.3h0M405.8 332.6h0M403.0 325.1h0M409.8 332.6h0M394.6 332.0h0M403.3 326.0h0M425.5 328.1h0M401.7 314.8h0M420.8 328.7h0M412.3 308.1h0M412.5 317.2h0M394.6 332.5h0M399.5 333.9h0M401.4 331.3h0M409.3 328.9h0M417.3 333.3h0M397.9 333.1h0M394.3 333.0h0M403.8 327.5h0M405.2 332.5h0M407.3 333.3h0M422.7 327.9h0M418.0 329.2h0M410.8 331.5h0M402.8 334.1h0M424.8 328.3h0M378.1 329.1h0M410.6 327.5h0M397.4 328.3h0M415.2 328.9h0M422.4 331.5h0M389.7 329.9h0M412.4 312.0h0M412.6 331.7h0M408.9 333.5h0M413.5 332.1h0M412.3 306.9h0M416.9 331.9h0M408.1 333.0h0M415.6 332.6h0M410.6 327.5h0M412.3 323.8h0M386.3 327.7h0M405.9 333.9h0M403.3 324.4h0M425.4 330.3h0M414.4 334.2h0M402.8 333.5h0M425.4 331.5h0M416.9 329.0h0M413.4 333.4h0M399.3 329.6h0M410.9 326.7h0M408.7 330.8h0M408.5 332.9h0M396.7 328.4h0M417.5 332.5h0M406.1 330.6h0M423.7 327.7h0M401.7 305.5h0M418.9 332.1h0M406.2 330.6h0M416.2 332.8h0M393.8 328.5h0M392.6 330.8h0M405.6 331.4h0M416.3 328.2h0M403.9 330.7h0M414.9 328.4h0M413.1 329.7h0M389.0 332.2h0M414.2 331.2h0M414.2 329.5h0M387.1 332.1h0M423.8 332.9h0M410.8 327.5h0M411.4 331.6h0M425.6 329.0h0M390.8 330.4h0M413.8 334.0h0M418.1 329.9h0M414.7 332.6h0M405.6 330.7h0M418.9 328.1h0M402.2 334.2h0M431.7 328.6h0M395.9 330.8h0M423.8 328.6h0M408.9 333.8h0M390.9 328.1h0M411.9 326.4h0M410.7 327.5h0M413.4 327.7h0M403.1 325.7h0M403.6 327.5h0M405.4 333.2h0M403.0 323.8h0M423.8 328.1h0M402.0 304.1h0M402.1 331.1h0M400.1 327.6h0M411.7 316.4h0M390.9 330.0h0M410.9 327.2h0M386.0 331.6h0M413.2 330.2h0M414.3 331.8h0M403.8 327.5h0M396.2 328.0h0M406.2 334.3h0M420.4 329.0h0M417.1 328.3h0M402.9 328.9h0M429.3 330.9h0M402.4 328.3h0M383.1 328.6h0M386.0 327.6h0M396.1 327.6h0M418.0 333.3h0M404.5 332.1h0M435.4 328.6h0M397.3 332.7h0M401.0 331.9h0M393.9 330.6h0M416.4 331.5h0M397.5 330.2h0M404.5 332.0h0M394.1 330.2h0M426.5 328.2h0M428.1 330.2h0M404.0 333.1h0M403.9 330.0h0M403.6 327.5h0M409.6 333.9h0M411.8 322.7h0M394.6 330.8h0M399.1 331.3h0M407.7 334.2h0M401.0 329.9h0M428.9 329.2h0M404.1 333.0h0M399.7 334.2h0M402.1 325.8h0M412.0 319.3h0M411.3 321.0h0M430.7 329.3h0M397.3 332.2h0M422.4 330.9h0M411.0 326.4h0M397.4 332.1h0M389.1 327.6h0M411.4 327.5h0M418.4 332.9h0M402.2 325.4h0M390.2 328.0h0M403.0 327.3h0M413.2 329.7h0M408.5 331.3h0M431.5 330.2h0M401.1 330.2h0M390.8 330.5h0M403.5 327.5h0M403.1 324.2h0M400.5 328.3h0M397.7 330.7h0M400.9 327.7h0M416.8 329.9h0M408.4 333.7h0M410.8 327.5h0M412.4 333.4h0M388.8 332.3h0M420.9 333.4h0M395.7 330.5h0M412.6 319.0h0M412.3 306.2h0M405.5 329.5h0M402.6 318.3h0M401.8 329.3h0M401.9 307.9h0M402.1 322.7h0M411.8 332.3h0M393.4 331.9h0M397.0 329.4h0M404.0 333.6h0M411.7 315.7h0M418.7 331.3h0M414.8 333.4h0M408.8 331.1h0M405.3 334.0h0M403.4 327.3h0M402.1 327.6h0M405.3 331.1h0M401.7 325.2h0M419.8 332.0h0M397.4 331.4h0M384.5 327.7h0M428.3 330.0h0" stroke="#bdbdbd" stroke-opacity="0.5" stroke-width="1.7" stroke-linecap="round" fill="none"/>
<path d="M409.5 333.8h0M403.5 327.4h0M418.5 328.0h0M403.4 326.9h0M401.8 326.4h0M432.0 330.0h0M414.9 328.7h0M410.4 332.9h0M406.2 334.2h0M408.8 330.6h0M408.9 332.5h0M389.3 330.8h0M410.6 327.5h0M425.5 330.4h0M424.9 328.1h0M412.4 313.9h0M417.6 328.2h0M402.9 325.7h0M408.1 332.2h0M411.6 323.0h0M410.4 333.0h0M420.5 331.3h0M441.3 327.5h0M382.5 327.6h0M404.8 331.2h0M405.9 331.0h0M417.8 330.6h0M385.9 327.6h0M408.9 334.3h0M402.0 319.5h0M414.0 332.6h0M407.8 333.6h0M386.1 331.0h0M400.2 327.8h0M404.3 329.8h0M426.5 331.1h0M394.8 332.3h0M417.3 328.4h0M424.1 330.2h0M410.3 332.1h0M410.6 332.0h0M406.3 332.2h0M402.2 330.8h0M411.8 322.9h0M401.9 306.7h0M404.8 327.9h0M384.8 331.1h0M398.5 331.5h0M411.9 327.9h0M400.0 328.5h0M390.9 328.4h0M402.1 306.9h0M390.4 327.6h0M412.7 319.8h0M413.9 332.3h0M402.4 325.1h0M395.0 328.9h0M412.0 332.8h0M425.5 331.1h0M413.2 330.4h0M414.8 330.0h0M411.4 319.1h0M417.5 330.0h0M411.8 319.7h0M397.2 328.8h0M388.5 328.0h0M420.7 329.0h0M410.5 327.5h0M415.8 328.2h0M398.1 333.4h0M401.9 310.4h0M414.7 332.9h0M423.2 328.2h0M412.4 331.8h0M411.1 334.5h0M411.4 322.9h0M414.8 330.2h0M394.9 331.4h0M410.9 327.5h0M412.4 314.5h0M416.9 329.4h0M416.7 329.9h0M400.2 328.3h0M393.7 328.7h0M423.3 330.0h0M397.8 331.5h0M410.7 327.5h0M416.6 328.5h0M397.2 332.3h0M409.1 332.7h0M411.9 330.8h0M402.0 308.6h0M412.0 330.9h0M409.4 330.9h0M410.7 327.5h0M437.0 328.2h0M412.2 314.6h0M424.0 330.6h0M382.3 328.5h0M412.4 313.3h0M396.5 330.7h0M418.0 331.6h0M403.3 325.5h0M395.1 333.6h0M414.7 331.8h0M399.9 329.9h0M388.6 327.8h0M405.8 330.9h0M411.9 325.4h0M400.4 333.7h0M394.0 333.3h0M401.6 328.7h0M393.9 328.1h0M403.4 330.2h0M407.6 333.6h0M417.5 332.0h0M410.7 327.5h0M402.2 332.6h0M400.4 328.3h0M395.6 329.0h0M413.5 334.1h0M410.7 327.5h0M396.2 331.6h0M410.5 328.5h0M399.5 333.4h0M414.6 329.1h0M423.4 331.1h0M412.9 330.8h0M402.4 322.4h0M405.5 330.5h0M396.1 333.8h0M403.7 327.5h0M412.3 307.3h0M403.5 327.2h0M402.1 324.5h0M396.7 328.8h0M428.5 328.2h0M424.2 329.5h0M403.2 325.0h0M393.9 333.5h0M399.0 330.2h0M412.0 333.0h0M415.7 331.4h0M386.6 331.1h0M396.3 329.9h0M406.4 334.5h0M421.9 328.9h0M398.7 330.0h0M415.6 333.7h0M400.6 333.8h0M421.1 331.2h0M410.9 326.9h0M423.5 329.9h0M402.5 331.5h0M401.8 323.0h0M412.2 308.3h0M408.4 334.4h0M415.5 328.5h0M412.3 331.3h0M397.8 332.1h0M402.5 323.6h0M406.9 333.3h0M402.2 308.6h0M408.1 330.9h0M385.3 330.5h0M410.0 329.2h0M397.8 330.0h0M406.7 333.5h0M384.8 331.1h0M418.3 330.2h0M410.3 333.0h0M398.7 330.2h0M402.1 317.3h0M411.6 330.4h0M401.9 311.5h0M395.6 333.6h0M394.4 328.0h0M400.4 333.6h0M417.9 328.6h0M394.3 327.6h0M403.8 334.2h0M411.9 322.1h0M407.7 332.5h0M414.3 332.6h0M410.0 331.1h0M399.6 333.1h0M409.1 333.1h0M415.3 332.2h0M411.0 326.4h0M409.5 329.3h0M411.9 330.2h0M391.2 332.9h0M389.9 328.3h0M403.7 327.9h0M397.2 328.9h0M422.1 330.7h0M405.5 333.0h0M403.5 326.9h0M408.7 330.9h0M403.7 327.5h0M402.9 332.5h0M415.7 331.1h0M423.3 330.9h0M410.8 327.5h0M391.5 332.7h0M400.8 330.2h0M401.9 304.9h0M400.2 330.4h0M386.0 329.8h0M402.2 330.2h0M422.2 329.0h0M383.5 327.8h0M402.7 322.2h0M426.0 331.7h0M403.0 327.7h0M402.5 332.9h0M419.8 332.3h0M406.3 333.0h0M389.3 332.2h0M412.3 316.2h0M387.1 330.5h0M402.9 331.6h0M401.2 333.3h0M401.4 333.9h0M402.1 315.4h0M396.5 328.9h0M413.2 331.1h0M412.4 331.6h0M397.3 333.1h0M412.2 312.1h0M418.5 329.0h0M407.2 334.4h0M412.8 328.9h0M396.4 329.9h0M404.0 331.4h0M403.3 331.3h0M415.5 332.1h0M405.8 334.5h0M409.5 331.7h0M394.3 333.5h0M410.3 329.0h0M408.0 332.2h0M414.0 333.1h0M409.0 331.2h0M394.1 331.9h0M411.4 321.7h0M430.0 327.8h0M433.1 329.9h0M400.5 333.6h0M392.2 328.6h0M410.2 331.9h0M399.3 331.7h0M397.6 329.8h0M403.5 327.4h0M411.4 322.9h0M410.6 329.6h0M397.9 332.5h0M423.7 328.9h0M410.8 327.5h0M412.3 319.5h0M411.4 329.0h0M411.1 326.1h0M402.0 324.7h0M398.9 330.6h0M401.6 330.9h0M415.4 332.0h0M414.1 330.0h0M414.1 329.9h0M412.0 315.8h0M406.3 333.1h0M419.6 331.5h0M398.9 330.8h0M414.6 333.6h0M401.4 334.1h0M403.6 327.5h0M401.7 315.5h0M404.0 328.3h0M393.9 327.9h0M410.7 327.5h0M414.6 332.9h0M402.7 328.0h0M403.7 332.9h0M403.3 329.2h0M419.7 328.2h0M389.1 330.7h0M400.1 331.7h0M403.2 326.5h0M409.7 333.0h0M408.6 332.7h0M400.6 328.8h0M405.6 334.5h0M403.1 325.8h0M410.6 327.5h0M428.9 329.3h0M402.6 326.6h0M401.4 332.2h0M414.6 331.1h0M421.9 331.1h0M392.6 331.6h0M421.7 332.8h0M401.0 329.3h0M411.6 331.6h0M415.5 332.0h0M417.2 329.7h0M408.9 329.7h0M410.2 331.5h0M402.0 331.8h0M386.7 328.8h0M420.5 328.5h0M405.4 330.9h0M383.0 330.4h0M403.4 329.4h0M389.2 331.8h0M397.8 329.9h0M402.4 328.6h0M419.9 332.1h0M410.5 332.1h0M394.5 329.0h0M387.6 330.7h0M403.4 331.4h0M408.2 333.4h0M414.1 328.3h0M394.6 332.3h0M389.0 328.6h0M411.8 323.4h0M421.1 329.8h0M402.0 324.5h0M405.5 331.7h0M403.8 330.7h0M426.6 329.5h0M410.9 327.0h0M404.5 327.7h0M404.1 331.9h0M391.2 331.2h0M404.9 330.8h0M400.9 332.0h0M380.8 329.9h0M411.0 333.0h0M430.9 329.8h0M400.1 329.3h0M409.3 331.8h0M398.9 331.8h0M416.5 329.0h0M399.7 333.3h0M384.2 328.7h0M415.6 327.8h0M402.1 333.2h0M398.8 332.9h0M400.2 330.0h0M415.9 333.3h0M412.1 334.3h0M412.2 313.1h0M415.0 328.9h0M403.2 323.7h0M412.5 324.2h0M411.5 325.7h0M420.0 327.9h0M414.2 327.9h0M411.3 327.2h0M428.0 329.5h0M411.1 324.3h0M408.4 330.2h0M419.5 333.3h0M408.4 332.6h0M402.1 328.4h0M403.3 327.0h0M388.4 329.5h0M426.4 329.4h0M412.0 330.4h0M398.1 332.6h0M411.6 328.4h0M429.1 329.9h0M412.2 314.0h0M408.4 330.0h0M411.2 323.5h0M403.9 329.1h0M404.9 329.2h0M410.6 332.3h0M416.8 329.3h0M413.9 329.6h0M402.5 317.2h0M396.9 331.7h0M401.6 330.6h0M375.5 328.0h0M411.3 329.9h0M424.2 330.3h0M408.8 329.8h0M375.2 327.7h0M394.2 332.7h0M394.6 331.5h0M412.0 319.6h0M391.6 332.3h0M405.7 332.8h0M420.4 330.8h0M401.0 332.2h0M385.2 328.5h0M415.9 330.2h0M399.1 328.2h0M411.4 324.9h0M409.3 331.6h0M428.0 331.0h0M426.0 330.5h0M399.2 327.5h0M400.5 328.2h0M386.6 329.8h0M401.1 333.9h0M417.1 333.2h0M408.7 333.6h0M420.1 329.7h0M407.0 333.7h0M395.3 332.7h0M424.0 328.4h0M411.9 323.4h0M402.1 329.0h0M405.2 332.2h0M388.3 331.2h0M403.1 329.1h0M403.3 324.8h0M418.4 328.5h0M385.2 328.4h0M408.1 333.4h0M426.7 330.0h0M412.0 316.8h0M407.4 332.6h0M411.2 327.4h0M426.4 328.1h0M398.4 331.1h0M411.3 331.9h0M402.0 328.0h0M402.7 330.5h0M423.7 328.6h0M416.8 333.9h0M420.2 333.4h0M415.7 331.1h0M412.5 323.4h0M423.9 327.8h0M390.3 329.4h0M415.9 333.3h0M401.7 331.5h0M398.7 327.8h0M420.0 328.5h0M392.7 332.6h0M396.8 332.3h0M389.9 329.2h0M391.9 332.7h0M395.3 330.6h0M404.2 328.1h0M402.6 317.6h0M396.4 330.5h0M402.0 313.8h0M403.1 329.1h0M409.2 332.9h0M410.9 328.7h0M418.1 330.4h0M405.5 329.7h0M397.1 327.8h0M380.8 330.0h0M410.7 327.5h0M411.8 332.2h0M391.6 329.3h0M401.8 332.3h0M405.5 329.1h0M415.0 329.0h0M418.1 327.5h0M399.1 332.1h0M409.7 328.4h0M401.6 329.1h0M402.8 334.2h0M415.3 330.8h0M411.5 318.5h0M421.2 333.0h0M401.7 331.1h0M417.5 329.6h0M398.5 331.2h0M411.2 334.3h0M397.1 333.8h0M410.8 327.5h0M397.3 329.3h0M392.2 329.1h0M432.1 327.6h0M395.7 332.2h0M400.1 331.2h0M398.2 331.2h0M414.7 330.5h0M391.3 332.8h0M410.5 327.5h0M401.2 333.5h0M402.4 311.5h0M414.5 332.4h0M412.4 330.9h0M401.4 327.9h0M402.5 317.2h0M411.3 330.6h0M419.3 333.5h0M405.3 330.9h0M412.6 310.1h0M402.7 328.6h0M390.1 332.8h0M440.4 327.6h0M416.3 328.4h0M403.6 328.6h0M414.4 333.6h0M423.8 329.0h0M411.1 333.7h0M411.2 333.4h0M386.8 328.5h0M411.1 332.8h0M392.3 332.9h0M419.4 332.2h0M427.1 329.4h0M402.7 318.8h0M399.4 332.9h0M406.5 331.9h0M404.0 331.5h0M410.7 327.5h0M413.5 333.8h0M384.2 330.0h0M422.7 330.9h0M410.3 334.0h0M403.9 331.8h0M402.4 326.3h0M404.2 333.1h0M403.1 326.8h0M412.2 327.3h0M411.5 320.2h0M399.5 331.3h0M419.9 330.3h0M392.6 327.5h0M398.3 331.9h0M416.4 329.1h0M411.0 327.1h0M399.1 331.8h0M411.0 331.6h0M405.0 329.4h0M389.5 327.8h0M401.5 330.6h0M399.0 330.4h0M413.4 328.4h0M412.4 306.0h0M402.4 314.1h0M431.5 327.6h0M422.9 331.4h0M398.3 332.9h0M414.4 327.6h0M391.2 331.7h0M411.7 318.4h0M401.8 302.3h0M405.3 332.0h0M411.8 320.6h0M423.1 328.2h0M421.1 331.4h0M411.9 333.7h0M396.4 331.8h0M411.1 331.8h0M399.7 328.0h0M417.4 332.7h0M411.8 334.3h0M424.9 330.4h0M405.6 333.2h0M415.5 333.6h0M401.8 330.1h0M429.3 330.5h0M432.5 330.7h0M395.3 329.5h0M410.7 331.8h0M412.0 324.0h0M427.5 329.0h0M410.7 327.5h0M412.5 320.4h0M401.3 332.9h0M412.3 329.9h0M402.5 315.3h0M411.8 329.2h0M404.1 329.8h0M415.5 333.6h0M429.0 329.5h0M402.2 320.2h0M395.1 332.6h0M416.1 330.6h0M399.8 330.8h0M412.2 314.1h0M409.6 328.1h0M393.1 328.6h0M412.5 311.3h0M403.3 331.8h0M409.6 333.3h0M393.4 328.7h0M412.4 320.9h0M397.1 333.4h0M389.2 328.2h0M413.5 327.8h0M410.3 332.5h0M406.7 332.4h0M418.4 329.6h0M397.1 333.0h0M409.7 332.3h0M397.4 329.6h0M410.6 327.5h0M397.0 329.7h0M408.7 330.8h0M411.1 326.6h0M404.2 329.0h0M402.8 316.5h0M408.9 333.3h0M397.2 331.5h0M411.8 325.6h0M416.3 328.6h0M397.1 330.8h0M413.6 328.3h0M415.4 330.0h0M412.4 312.3h0M396.0 331.0h0M403.1 331.8h0M418.1 330.2h0M401.7 331.8h0M417.1 332.4h0M406.3 332.4h0M414.2 328.6h0M400.0 331.8h0M374.3 327.5h0M410.8 331.6h0M436.1 329.4h0M412.9 330.5h0M411.1 324.7h0M423.2 331.9h0M390.4 331.4h0M404.5 330.3h0M405.5 330.9h0M416.5 331.8h0M403.4 331.8h0M413.1 330.4h0M393.2 329.3h0M410.5 331.2h0M410.8 328.2h0M402.0 327.8h0M405.2 328.8h0M387.7 329.7h0M395.7 333.0h0M399.8 328.1h0M414.6 331.4h0M401.5 329.3h0M412.7 301.9h0M416.5 332.5h0M411.0 326.0h0M426.9 329.2h0M402.7 325.2h0M412.8 331.5h0M413.0 329.0h0M389.9 328.8h0M401.7 309.1h0M391.8 328.3h0M402.5 330.9h0M402.4 311.8h0M403.7 329.1h0M421.4 330.7h0M410.6 327.5h0M401.4 332.5h0M403.7 329.6h0M432.6 330.6h0M417.0 333.3h0M395.3 331.0h0M411.9 327.3h0M410.2 330.0h0M379.6 328.7h0M426.5 331.0h0M411.2 326.8h0" stroke="#bdbdbd" stroke-opacity="0.5" stroke-width="1.7" stroke-linecap="round" fill="none"/>
<path d="M417.8 328.8h0M414.1 330.6h0M392.6 330.8h0M395.9 331.1h0M404.8 329.6h0M399.1 328.5h0M404.1 332.3h0M422.8 329.0h0M391.9 333.0h0M380.9 330.2h0M419.5 328.7h0M423.7 332.9h0M422.1 330.4h0M410.9 327.3h0M389.6 327.5h0M413.3 331.8h0M402.6 328.9h0M396.9 333.1h0M417.1 331.9h0M390.9 329.2h0M404.1 333.0h0M419.8 331.5h0M409.4 333.2h0M414.5 332.5h0M398.8 332.9h0M401.0 330.6h0M403.3 326.6h0M412.7 328.9h0M418.1 329.9h0M392.8 327.7h0M398.5 327.5h0M400.2 332.5h0M408.7 332.4h0M403.4 327.3h0M434.6 328.8h0M417.5 327.9h0M402.2 324.8h0M411.7 319.2h0M403.0 328.6h0M410.3 333.0h0M382.5 328.8h0M432.4 328.0h0M401.8 321.6h0M409.2 331.1h0M393.7 329.4h0M403.9 330.4h0M391.5 332.0h0M402.1 331.4h0M401.8 326.8h0M421.4 332.0h0M389.7 331.8h0M411.5 319.6h0M404.2 330.8h0M400.1 328.5h0M397.3 332.8h0M404.0 332.3h0M413.7 331.7h0M416.9 327.9h0M413.8 328.6h0M419.5 327.8h0M412.5 304.4h0M389.5 331.3h0M404.0 332.6h0M411.0 327.4h0M396.1 328.8h0M424.3 328.2h0M417.6 331.9h0M419.6 328.2h0M408.8 333.6h0M416.4 329.6h0M389.9 328.1h0M414.5 330.7h0M410.8 327.5h0M431.2 329.4h0M419.5 330.3h0M410.5 333.5h0M408.3 334.2h0M398.8 330.6h0M406.2 330.5h0M404.7 329.0h0M399.7 331.9h0M402.0 330.9h0M396.2 330.5h0M409.5 333.7h0M389.7 327.7h0M402.7 315.5h0M410.8 331.4h0M430.4 330.5h0M392.1 333.0h0M416.5 329.0h0M405.1 328.2h0M416.5 333.2h0M386.7 331.3h0M396.8 327.6h0M403.2 327.4h0M390.0 332.3h0M429.8 328.7h0M396.5 333.6h0M404.5 332.2h0M399.2 333.8h0M401.0 330.9h0M403.0 325.8h0M388.5 331.8h0M414.8 328.7h0M414.1 327.8h0M412.9 327.7h0M419.8 330.4h0M417.7 332.3h0M416.6 333.4h0M412.7 309.0h0M419.0 327.7h0M411.4 321.0h0M414.3 327.6h0M413.1 329.0h0M385.1 328.5h0M404.2 331.2h0M418.9 327.6h0M401.9 324.4h0M394.5 333.6h0M403.2 325.6h0M415.5 330.9h0M414.5 332.9h0M432.9 329.5h0M401.3 332.0h0M403.9 329.7h0M391.9 332.1h0M411.5 322.7h0M403.7 334.1h0M393.1 333.4h0M412.6 309.2h0M414.8 328.7h0M411.1 325.5h0M411.2 325.8h0M411.6 334.4h0M398.4 333.5h0M434.1 329.5h0M403.1 322.8h0M411.7 317.4h0M408.2 331.7h0M389.2 329.8h0M391.8 331.5h0M414.9 333.1h0M408.7 332.9h0M419.4 332.6h0M431.9 329.9h0M411.4 321.0h0M411.6 325.9h0M410.9 327.5h0M415.4 329.8h0M410.9 329.8h0M432.3 330.6h0M386.5 329.1h0M417.5 333.4h0M419.6 332.4h0M403.1 326.0h0M411.1 326.5h0M415.6 327.5h0M429.8 330.9h0M410.7 332.8h0M397.1 328.2h0M387.0 327.6h0M416.8 332.9h0M402.4 331.7h0M403.4 326.4h0M423.3 328.5h0M414.1 328.7h0M413.7 333.0h0M410.8 332.1h0M408.3 330.5h0M417.6 332.0h0M402.2 324.3h0M411.7 325.2h0M402.7 320.8h0M402.3 319.6h0M399.6 333.2h0M439.1 327.6h0M394.7 331.5h0M408.6 330.7h0M402.7 315.8h0M402.6 332.0h0M411.2 333.7h0M403.4 327.1h0M434.9 327.6h0M402.3 312.0h0M406.4 333.9h0M385.7 328.5h0M428.4 328.1h0M388.0 331.8h0M401.8 332.7h0M402.5 313.9h0M418.6 330.0h0M420.7 329.0h0M386.9 329.0h0M394.5 332.0h0M394.9 333.6h0M411.2 324.1h0M417.4 328.6h0M416.2 328.4h0M393.3 332.4h0M402.9 327.0h0M413.3 334.0h0M403.4 332.5h0M412.0 319.5h0M414.5 331.6h0M399.5 331.1h0M410.8 328.4h0M405.8 330.7h0M404.8 334.2h0M431.8 328.7h0M399.1 328.7h0M425.9 330.9h0M422.3 332.0h0M392.5 333.2h0M401.9 305.3h0M411.4 326.8h0M410.6 327.5h0M402.8 333.8h0M402.6 319.0h0M418.9 333.6h0M412.2 320.7h0M416.5 328.6h0M404.7 333.7h0M410.6 327.5h0M412.5 331.2h0M397.1 327.9h0M416.5 332.2h0M412.9 331.5h0M382.3 327.6h0M388.3 327.8h0M403.2 326.5h0M392.1 330.3h0M411.7 331.1h0M410.7 327.5h0M411.6 325.8h0M392.0 331.5h0M411.2 328.9h0M392.3 330.5h0M404.0 331.0h0M417.3 332.7h0M392.8 332.7h0M409.9 332.5h0M412.1 324.2h0M411.1 327.0h0M392.2 330.3h0M403.6 327.5h0M422.2 331.3h0M398.1 330.3h0M410.2 329.0h0M411.0 331.1h0M410.6 327.5h0M401.5 328.4h0M396.8 329.1h0M383.1 328.4h0M419.6 328.6h0M411.7 326.3h0M437.3 327.8h0M411.2 321.9h0M412.3 331.3h0M407.4 333.4h0M389.8 331.5h0M396.4 333.3h0M424.2 330.2h0M382.8 328.1h0M402.8 318.4h0M383.0 329.0h0M416.1 334.0h0M384.5 328.3h0M414.5 328.3h0M421.9 331.3h0M408.0 331.6h0M395.3 333.5h0M405.2 331.2h0M395.3 332.4h0M403.3 329.4h0M419.4 332.5h0M421.2 328.4h0M408.4 330.8h0M408.8 333.0h0M411.5 326.3h0M408.4 330.5h0M430.1 328.4h0M411.4 321.1h0M419.4 328.0h0M421.4 331.9h0M405.5 328.8h0M412.3 310.6h0M405.0 329.8h0M406.5 334.5h0M391.2 327.9h0M423.1 327.8h0M422.5 331.9h0M398.7 329.3h0M411.1 323.7h0M406.3 334.0h0M406.5 332.0h0M401.5 331.8h0M412.4 330.9h0M426.5 330.8h0M393.9 330.9h0M411.2 326.8h0M418.7 332.8h0M402.1 313.7h0M424.3 331.3h0M424.9 328.5h0M405.0 329.0h0M416.6 331.0h0M411.4 331.9h0M391.0 332.8h0M390.5 329.0h0M402.4 327.2h0M406.1 331.5h0M423.3 330.1h0M410.7 327.5h0M404.9 329.1h0M390.1 328.7h0M403.9 327.5h0M413.8 331.3h0M403.6 327.5h0M403.6 331.5h0M417.9 332.6h0M410.9 333.7h0M401.9 328.7h0M409.1 333.6h0M397.6 331.8h0M414.3 333.4h0M413.6 330.7h0M409.9 328.2h0M399.9 334.2h0M411.2 326.5h0M398.6 329.0h0M409.7 330.4h0M418.5 332.7h0M401.9 328.5h0M425.3 328.9h0M397.0 329.3h0M414.2 328.1h0M403.3 326.1h0M422.9 328.0h0M401.8 312.9h0M403.9 330.3h0M419.9 329.4h0M400.1 328.5h0M399.7 328.2h0M407.4 334.6h0M424.2 328.3h0M391.5 330.4h0M415.5 332.8h0M394.4 331.5h0M402.1 327.6h0M403.7 332.6h0M405.6 332.4h0M411.3 333.5h0M401.3 328.6h0M402.1 316.4h0M411.9 313.8h0M404.1 332.2h0M402.1 320.7h0M415.0 329.1h0M412.0 315.8h0M403.8 331.3h0M409.5 328.1h0M404.8 330.1h0M419.7 329.5h0M386.1 328.4h0M430.5 329.1h0M425.5 332.5h0M410.8 328.3h0M411.2 330.7h0M412.2 332.6h0M420.6 328.1h0M404.7 329.0h0M401.7 320.5h0M418.3 332.5h0M397.2 328.4h0M394.8 328.2h0M416.1 334.0h0M404.9 331.0h0M421.5 331.4h0M420.9 327.6h0M411.5 330.9h0M419.5 330.5h0M395.3 328.0h0M418.0 331.8h0M408.8 334.6h0M410.8 327.5h0M403.6 327.5h0M411.4 325.7h0M403.6 327.5h0M395.0 329.1h0M414.9 331.5h0M416.7 329.6h0M394.7 330.1h0M413.1 333.4h0M401.7 326.2h0M413.4 331.1h0M410.8 327.5h0M414.9 327.5h0M405.4 331.4h0M399.3 328.5h0M423.0 331.5h0M413.9 332.6h0M411.6 322.5h0M425.6 327.7h0M410.7 328.5h0M401.1 333.2h0M426.5 330.0h0M389.6 331.6h0M396.6 332.7h0M396.5 331.4h0M402.7 328.1h0M409.1 334.1h0M410.6 327.5h0M410.6 330.8h0M411.4 329.8h0M396.1 330.6h0M397.3 329.3h0M411.4 330.4h0M397.1 331.0h0M409.7 333.9h0M410.7 333.6h0M405.9 334.3h0M411.1 329.5h0M403.6 330.2h0M401.5 327.8h0M402.7 317.2h0M403.9 332.1h0M401.2 330.7h0M400.5 329.5h0M406.9 332.5h0M417.0 333.8h0M399.0 333.0h0M408.4 332.1h0M401.8 301.3h0M409.3 329.2h0M402.6 315.0h0M402.9 319.4h0M411.0 329.7h0M393.3 333.1h0M420.0 332.1h0M384.5 330.7h0M415.0 329.5h0M398.0 332.0h0M392.9 330.5h0M425.9 328.8h0M420.7 327.8h0M436.3 328.8h0M403.2 324.5h0M402.1 311.9h0M403.7 327.5h0M397.6 330.8h0M415.3 329.7h0M403.0 324.8h0M428.2 329.2h0M412.4 331.9h0M426.1 330.5h0M407.0 333.9h0M416.3 332.3h0M403.9 334.1h0M405.2 330.7h0M413.5 331.2h0M411.2 330.4h0M418.0 332.3h0M384.2 328.3h0M418.1 329.7h0M395.7 332.6h0M400.2 327.8h0M419.4 329.8h0M393.3 329.4h0M397.2 330.0h0M403.5 334.5h0M404.4 332.6h0M395.8 332.1h0M412.7 318.7h0M394.7 332.0h0M399.0 332.9h0M411.4 332.2h0M399.0 327.6h0M420.5 329.5h0M407.4 334.5h0M411.6 317.4h0M389.6 332.7h0M406.0 334.2h0M381.5 329.1h0M400.3 331.8h0M403.5 327.3h0M396.2 332.4h0M402.1 316.8h0M373.7 327.6h0M411.0 328.3h0M402.1 316.9h0M410.7 327.5h0M408.5 334.3h0M411.8 317.2h0M397.8 331.5h0M438.1 328.2h0M388.6 328.0h0M404.8 331.3h0M409.2 332.4h0M396.7 327.9h0M402.2 307.3h0M402.4 324.8h0M409.7 331.2h0M416.1 329.6h0M403.4 326.2h0M397.7 332.7h0M409.0 333.1h0M412.6 318.6h0M420.4 329.2h0M386.5 330.1h0M424.2 332.2h0M404.0 327.7h0M396.7 333.9h0M411.5 317.9h0M408.2 331.8h0M394.0 328.3h0M404.5 328.4h0M434.1 328.3h0M401.5 330.9h0M411.6 329.3h0M410.9 328.6h0M411.8 327.5h0M373.2 327.5h0M412.3 313.9h0M411.6 331.1h0M393.6 332.2h0M397.1 327.7h0M402.3 313.0h0M412.6 302.5h0M417.7 333.7h0M401.3 333.7h0M411.8 318.8h0M410.8 327.5h0M427.6 329.2h0M417.8 330.7h0M401.7 321.6h0M401.8 331.8h0M391.5 328.1h0M401.8 302.3h0M396.5 327.8h0M413.4 330.0h0M394.6 330.9h0M398.1 333.0h0M417.2 333.7h0M411.5 333.8h0M415.6 328.9h0M400.7 334.3h0M411.8 318.0h0M398.1 332.4h0M400.0 332.2h0M410.6 327.5h0M408.1 333.8h0M383.8 330.3h0M401.7 332.5h0M425.1 328.3h0M408.7 334.2h0M410.0 332.0h0M406.2 330.8h0M431.9 330.6h0M375.0 328.2h0M417.8 331.1h0M409.2 333.0h0M431.7 328.4h0M407.9 331.3h0M405.1 330.9h0M411.3 332.4h0M422.3 331.9h0M418.2 328.9h0M426.9 328.2h0M403.1 326.7h0M402.2 322.8h0M417.3 328.8h0M417.9 330.3h0M386.0 330.1h0M415.6 328.2h0M403.2 324.1h0M420.8 328.8h0M395.6 331.2h0M416.4 333.4h0M403.4 327.3h0M411.1 327.3h0M402.7 326.5h0M413.4 330.3h0M395.9 333.1h0M402.3 316.5h0M420.8 330.6h0M408.1 332.1h0M429.7 327.7h0M397.3 329.9h0M410.2 328.4h0M410.4 328.7h0M427.1 328.4h0M419.4 330.2h0M437.0 327.8h0M397.1 331.7h0M401.0 331.0h0M402.1 331.7h0M391.8 328.7h0M413.0 334.2h0M417.5 332.5h0M429.9 328.8h0M402.7 328.3h0M393.2 329.5h0M415.4 329.9h0M390.4 328.3h0M411.7 324.1h0M410.6 327.5h0M418.3 333.2h0M398.4 328.3h0M410.2 333.9h0M421.9 328.9h0M403.0 324.0h0M397.4 328.8h0M387.7 327.9h0M411.8 321.9h0M399.5 331.5h0M403.5 327.5h0M406.6 332.4h0M440.5 327.7h0M414.4 328.0h0M394.3 331.9h0M407.8 333.3h0M418.7 331.1h0M385.5 331.3h0M420.2 328.5h0M414.8 333.5h0M411.1 329.4h0M418.3 330.9h0M423.4 330.6h0M404.6 331.7h0M412.3 308.6h0M422.3 329.8h0M393.1 331.7h0M405.9 331.0h0M402.2 327.3h0M382.9 330.5h0M390.0 330.1h0M396.4 333.0h0M403.2 324.1h0M404.4 332.5h0M399.1 332.8h0M384.8 328.8h0M420.5 331.2h0M394.8 330.5h0M409.3 333.4h0M400.4 330.1h0M400.3 332.5h0M400.8 334.3h0M413.2 327.5h0M400.6 329.2h0M403.8 327.5h0M393.2 328.9h0M423.5 329.7h0M403.2 326.8h0M424.9 328.2h0M424.3 329.2h0M428.4 329.0h0M405.2 334.1h0M421.0 330.3h0M430.9 329.8h0M395.0 332.5h0M396.6 330.8h0M403.3 324.4h0M390.3 329.2h0M391.7 331.0h0M416.0 328.3h0M409.5 334.5h0" stroke="#bdbdbd" stroke-opacity="0.5" stroke-width="1.7" stroke-linecap="round" fill="none"/>
<path d="M406.0 333.6h0M411.3 332.4h0M424.2 329.4h0M374.0 327.9h0M411.0 326.4h0M414.1 333.6h0M402.2 332.5h0M415.6 329.0h0M411.5 329.7h0M412.5 304.6h0M401.9 309.6h0M400.6 329.2h0M375.3 328.2h0M403.5 327.5h0M412.8 333.4h0M420.3 331.6h0M400.2 333.0h0M432.9 329.7h0M403.6 327.5h0M418.4 332.7h0M391.8 330.1h0M402.4 314.1h0M417.9 329.9h0M411.0 326.6h0M421.2 328.8h0M390.2 332.2h0M401.7 304.7h0M401.0 328.6h0M400.7 330.8h0M403.0 324.9h0M409.7 331.2h0M403.4 327.2h0M417.3 330.6h0M424.4 329.7h0M380.3 329.3h0M392.8 331.4h0M399.3 333.0h0M385.1 330.5h0M402.7 321.0h0M401.0 329.3h0M415.9 334.0h0M395.3 331.7h0M394.0 328.1h0M415.4 329.7h0M426.0 329.0h0M424.1 330.8h0M414.3 332.0h0M397.0 329.1h0M429.0 328.2h0M411.2 322.9h0M414.8 331.3h0M414.9 327.9h0M403.3 327.1h0M402.7 321.8h0M400.1 332.9h0M401.9 328.1h0M410.0 327.6h0M403.2 324.5h0M398.6 332.9h0M411.3 331.0h0M404.8 332.8h0M398.7 329.2h0M410.7 330.4h0M411.4 330.7h0M428.5 329.5h0M403.6 327.5h0M405.5 333.4h0M413.2 328.0h0M416.2 332.5h0M401.8 322.8h0M417.8 331.7h0M387.5 328.7h0M411.7 324.2h0M419.0 331.0h0M414.6 331.9h0M415.3 327.7h0M422.3 330.1h0M419.3 331.2h0M413.3 329.2h0M396.6 332.9h0M425.2 328.6h0M391.5 331.1h0M396.7 329.7h0M411.0 327.9h0M401.3 331.0h0M407.8 333.2h0M403.4 327.4h0M427.7 329.6h0M405.0 333.8h0M387.8 328.6h0M401.9 308.6h0M403.8 332.9h0M402.8 331.9h0M402.5 311.6h0M426.9 332.0h0M413.5 333.8h0M403.3 324.1h0M386.9 329.6h0M413.4 327.5h0M413.7 330.0h0M403.6 327.5h0M399.1 331.3h0M424.3 328.0h0M422.1 330.5h0M402.6 332.1h0M410.6 327.5h0M396.1 332.4h0M416.0 329.4h0M414.8 333.6h0M394.2 331.0h0M421.2 331.7h0M415.1 333.8h0M413.7 333.4h0M420.9 333.4h0M411.1 326.3h0M409.1 331.4h0M430.5 329.4h0M412.0 328.0h0M398.1 327.7h0M389.4 328.9h0M402.1 320.9h0M401.8 330.5h0M428.1 328.0h0M428.6 329.0h0M411.0 331.1h0M411.9 313.5h0M435.8 329.5h0M431.7 329.0h0M397.3 331.3h0M412.6 308.5h0M412.2 333.4h0M421.5 333.3h0M420.9 332.1h0M421.9 329.7h0M403.0 322.1h0M418.0 332.5h0M422.0 329.7h0M403.3 323.9h0M412.9 333.9h0M404.1 331.6h0M416.3 328.0h0M393.9 330.9h0M403.0 326.5h0M404.1 333.7h0M423.4 330.8h0M386.1 328.6h0M427.1 329.3h0M400.5 328.2h0M405.1 329.4h0M398.1 329.9h0M414.0 332.2h0M408.8 329.0h0M418.6 330.0h0M394.7 332.9h0M397.9 331.5h0M411.6 318.9h0M429.2 330.7h0M402.9 319.3h0M396.9 329.4h0M410.9 327.3h0M412.0 311.2h0M401.8 331.6h0M417.5 331.5h0M418.7 330.5h0M410.1 330.9h0M402.4 323.0h0M403.0 328.5h0M412.4 332.7h0M411.3 321.6h0M403.6 327.5h0M411.4 325.2h0M393.6 328.6h0M436.0 328.3h0M414.7 332.0h0M401.5 330.7h0M375.5 328.3h0M405.5 329.2h0M425.3 331.4h0M407.9 331.3h0M412.9 330.4h0M400.5 330.6h0M408.1 333.4h0M395.1 331.8h0M410.7 327.5h0M418.8 328.8h0M421.4 333.4h0M400.4 328.9h0M398.6 331.6h0M402.3 323.9h0M401.9 328.7h0M402.3 331.1h0M415.0 328.7h0M412.1 310.9h0M389.0 329.7h0M430.6 330.3h0M404.9 334.0h0M396.7 327.8h0M396.3 331.3h0M411.5 322.3h0M394.1 329.1h0M393.3 331.6h0M411.5 323.3h0M392.6 327.6h0M424.5 332.7h0M416.9 332.5h0M411.0 326.1h0M411.9 322.1h0M418.7 333.2h0M390.3 327.5h0M412.4 329.3h0M410.7 327.5h0M411.8 325.7h0M438.9 328.2h0M422.5 332.6h0M401.4 331.6h0M402.2 315.9h0M417.0 330.9h0M411.4 319.2h0M421.9 331.9h0M399.3 333.3h0M396.8 332.0h0M416.1 328.2h0M410.0 327.5h0M402.9 328.4h0M410.1 328.8h0M420.6 331.6h0M413.8 329.4h0M402.1 319.6h0M399.7 330.5h0M402.0 321.9h0M413.5 332.6h0M402.6 322.6h0M411.3 325.8h0M426.4 331.6h0M403.1 325.9h0M411.9 328.3h0M412.1 316.8h0M410.9 327.3h0M397.8 329.1h0M403.8 333.3h0M388.8 327.8h0M412.4 311.1h0M390.1 330.9h0M407.9 333.3h0M420.7 331.7h0M422.6 332.9h0M411.8 326.3h0M423.3 327.6h0M420.5 327.8h0M403.8 330.9h0M405.3 332.9h0M413.3 328.6h0M411.3 324.2h0M413.5 330.1h0M429.6 330.1h0M417.8 332.6h0M403.9 327.5h0M400.5 334.2h0M401.9 307.8h0M402.1 332.7h0M418.6 330.7h0M403.0 332.3h0M413.3 331.6h0M384.6 330.8h0M411.6 334.4h0M406.1 332.1h0M402.3 330.9h0M412.4 332.1h0M389.4 327.6h0M412.4 319.9h0M403.0 333.3h0M405.0 328.4h0M376.6 327.9h0M382.5 328.0h0M411.8 323.1h0M383.9 329.1h0M401.9 328.8h0M403.0 323.6h0M412.1 311.2h0M409.1 329.3h0M410.7 327.5h0M394.9 332.8h0M411.1 325.3h0M402.1 306.6h0M420.5 328.1h0M402.3 332.4h0M399.3 328.0h0M405.4 329.8h0M411.4 322.2h0M374.9 328.2h0M414.9 328.7h0M405.4 330.0h0M421.5 330.6h0M402.4 311.1h0M409.9 333.7h0M423.8 329.2h0M400.0 330.6h0M382.7 328.3h0M402.7 328.2h0M402.9 322.4h0M415.0 332.9h0M408.4 332.6h0M403.2 325.2h0M401.9 318.9h0M420.4 331.9h0M412.5 326.6h0M389.3 330.3h0M413.7 328.5h0M427.9 327.6h0M402.9 327.8h0M402.3 334.2h0M415.0 332.2h0M404.9 334.0h0M403.5 327.5h0M426.4 330.8h0M397.5 332.0h0M393.4 328.0h0M401.2 327.9h0M423.2 331.6h0M414.8 331.0h0M395.4 329.5h0M419.1 333.3h0M413.3 332.3h0M401.6 327.9h0M399.7 332.5h0M401.8 320.3h0M403.8 328.6h0M411.6 329.8h0M420.3 331.4h0M374.3 327.7h0M411.1 332.5h0M427.8 327.9h0M412.7 314.8h0M401.2 333.1h0M403.7 329.2h0M398.7 333.4h0M389.4 328.8h0M410.6 329.3h0M391.1 331.5h0M410.1 334.0h0M425.6 331.5h0M409.1 333.1h0M411.4 331.5h0M410.6 328.9h0M406.5 332.1h0M390.1 328.1h0M419.0 333.6h0M398.3 331.4h0M420.8 329.6h0M401.9 319.4h0M391.8 330.0h0M408.5 333.4h0M417.7 330.6h0M424.8 329.2h0M393.7 329.4h0M412.5 332.8h0M410.7 327.5h0M396.6 329.7h0M397.1 332.4h0M403.2 325.3h0M412.8 333.4h0M401.9 328.6h0M408.7 333.6h0M406.6 332.1h0M405.3 330.8h0M423.7 327.8h0M426.8 327.9h0M408.9 331.9h0M397.0 331.7h0M398.1 328.9h0M419.2 332.0h0M411.0 326.8h0M429.5 329.6h0M395.1 327.8h0M397.6 330.2h0M421.4 329.7h0M399.9 334.1h0M393.5 333.3h0M427.5 328.4h0M409.3 333.6h0M412.2 323.7h0M402.9 333.9h0M401.0 330.5h0M396.2 333.5h0M411.2 332.6h0M392.9 332.7h0M432.9 330.3h0M422.6 328.5h0M386.3 327.6h0M403.6 327.5h0M411.7 320.0h0M404.1 329.5h0M412.7 309.3h0M383.3 327.8h0M416.9 328.2h0M405.3 331.0h0M409.3 333.6h0M388.3 331.7h0M403.0 325.1h0M402.6 324.1h0M403.5 331.0h0M425.7 330.1h0M396.7 331.2h0M401.3 329.7h0M426.8 328.9h0M394.2 329.5h0M407.0 334.4h0M420.5 330.1h0M385.2 328.1h0M388.6 330.9h0M403.8 327.5h0M413.8 333.6h0M410.6 327.5h0M410.9 327.1h0M424.5 331.1h0M390.2 332.2h0M401.0 331.3h0M394.4 331.0h0M404.0 328.7h0M414.7 332.8h0M399.2 331.9h0M398.2 333.0h0M416.2 330.5h0M404.8 329.2h0M403.1 324.5h0M381.1 327.9h0M396.5 331.5h0M420.2 329.7h0M408.4 333.0h0M394.5 330.2h0M401.7 322.5h0M395.5 331.2h0M416.6 329.6h0M378.7 329.5h0M403.1 325.6h0M400.5 329.3h0M426.2 328.3h0M416.0 333.2h0M411.7 316.5h0M388.6 332.5h0M402.5 326.6h0M412.1 334.2h0M399.6 329.0h0M401.9 319.6h0M412.1 329.0h0M402.5 320.5h0M410.1 333.5h0M423.1 331.0h0M403.3 324.9h0M398.8 329.7h0M422.1 329.8h0M400.6 334.3h0M404.8 332.7h0M408.7 333.0h0M401.9 332.3h0M410.9 327.5h0M405.8 330.0h0M384.8 329.7h0M403.5 327.5h0M410.9 327.3h0M401.5 330.2h0M402.9 333.1h0M412.3 307.1h0M410.5 330.9h0M411.3 321.8h0M394.8 332.7h0M414.7 328.0h0M403.3 324.3h0M401.9 307.1h0M413.9 331.7h0M407.0 332.8h0M375.8 327.6h0M401.5 329.4h0M412.1 323.8h0M415.8 333.0h0M395.6 328.4h0M389.4 329.3h0M410.8 327.5h0M412.9 330.7h0M415.2 329.5h0M400.9 331.7h0M422.8 331.1h0M394.4 328.6h0M403.3 324.9h0M402.4 329.2h0M415.0 329.0h0M389.9 329.3h0M397.5 329.4h0M387.2 331.2h0M412.0 331.5h0M393.3 331.4h0M393.6 330.3h0M403.7 331.0h0M404.5 330.6h0M402.3 311.5h0M394.0 332.4h0M409.7 329.9h0M403.3 327.5h0M400.6 331.5h0M414.2 331.9h0M414.1 331.0h0M416.3 329.3h0M420.5 329.3h0M408.2 331.6h0M408.0 334.0h0M421.7 330.3h0M419.6 332.4h0M397.9 331.3h0M393.2 328.7h0M415.4 328.0h0M419.0 328.1h0M396.0 330.0h0M410.8 327.5h0M410.6 327.5h0M394.0 327.9h0M403.7 327.5h0M403.0 331.6h0M396.1 327.5h0M410.1 333.9h0M409.3 333.9h0M403.4 326.0h0M416.2 328.7h0M406.7 332.6h0M410.8 327.5h0M399.7 327.8h0M402.3 328.4h0M403.4 326.2h0M413.7 328.2h0M385.8 331.4h0M399.0 327.6h0M402.4 320.4h0M424.5 329.1h0M419.9 330.4h0M398.9 333.0h0M409.8 330.7h0M415.3 332.8h0M397.0 330.8h0M418.2 333.3h0M399.4 328.8h0M430.0 329.3h0M412.5 331.2h0M394.3 328.4h0M423.2 327.6h0M403.8 332.9h0M404.1 333.1h0M410.1 330.4h0M413.7 331.7h0M380.5 329.8h0M405.0 334.3h0M402.0 333.9h0M396.4 328.5h0M393.3 332.2h0M402.9 326.7h0M415.2 327.9h0M403.8 327.5h0M401.8 331.3h0M416.6 332.9h0M411.7 328.7h0M427.1 327.5h0M373.5 327.6h0M401.9 329.3h0M412.6 326.6h0M403.4 327.1h0M400.8 333.8h0M412.0 321.8h0M412.5 304.8h0M406.8 332.1h0M403.4 331.3h0M417.1 328.6h0M410.8 327.5h0M403.5 333.1h0M424.1 332.6h0M410.9 329.0h0M396.8 327.7h0M402.1 332.1h0M385.7 328.3h0M420.1 329.9h0M410.2 329.0h0M402.1 306.6h0M399.2 332.5h0M410.9 327.4h0M406.0 332.6h0M431.4 330.4h0M412.6 311.4h0M432.3 328.7h0M414.7 329.3h0M401.3 329.0h0M392.7 332.5h0M393.9 331.2h0M387.7 329.6h0M414.2 332.5h0M401.8 327.2h0M411.4 322.5h0M425.6 332.5h0M411.2 324.4h0M421.3 333.0h0M390.7 329.5h0M394.1 332.4h0M410.8 327.5h0M413.6 329.0h0M419.0 333.2h0M407.2 332.9h0M401.0 329.2h0M422.2 331.7h0M418.9 331.5h0M397.3 329.9h0M430.5 328.8h0M418.0 331.2h0M390.2 331.5h0M399.1 328.0h0M402.4 328.9h0M400.4 332.6h0M402.8 329.4h0M416.5 330.4h0M404.2 329.5h0M380.9 329.7h0M417.2 328.9h0M392.2 328.3h0M398.3 330.6h0M402.6 329.7h0M404.0 333.3h0M402.8 317.6h0M423.5 330.2h0M411.0 326.6h0M401.8 324.9h0M412.1 317.5h0M415.1 333.1h0M396.1 327.6h0M416.4 327.8h0M401.9 328.3h0M412.1 311.9h0M387.4 331.5h0M420.5 332.9h0M407.8 332.1h0M379.5 328.8h0M396.1 329.6h0M434.7 327.9h0M389.0 331.5h0M411.9 318.0h0M398.8 333.9h0M384.2 330.2h0M418.8 330.7h0M418.9 331.8h0M400.0 333.2h0M410.7 327.5h0M411.0 325.1h0M384.4 328.0h0M405.2 333.1h0M404.4 331.0h0M403.0 321.2h0M401.2 327.9h0M403.7 330.8h0M417.9 333.2h0M428.6 329.7h0M385.3 331.0h0M418.0 333.8h0M420.4 328.9h0M411.4 330.7h0M410.6 327.5h0M426.7 331.4h0M403.8 334.3h0M415.0 331.9h0M408.9 330.7h0M398.7 328.1h0M416.6 329.3h0" stroke="#bdbdbd" stroke-opacity="0.5" stroke-width="1.7" stroke-linecap="round" fill="none"/>
<path d="M401.9 315.3h0M389.3 330.3h0M393.9 332.4h0M403.0 332.2h0M408.5 332.1h0M390.7 331.0h0M404.8 330.9h0M391.3 331.3h0M389.8 331.9h0M420.8 333.1h0M409.4 328.5h0M404.9 332.4h0M410.7 327.5h0M403.2 323.9h0M403.0 320.1h0M398.5 327.5h0M413.5 333.2h0M380.0 329.6h0M402.8 316.9h0M411.9 312.9h0M414.5 331.4h0M428.5 327.9h0M402.2 333.1h0M415.6 334.1h0M392.4 330.9h0M403.2 323.8h0M396.1 329.0h0M392.7 332.3h0M394.8 328.3h0M397.7 329.5h0M375.3 328.3h0M402.7 315.8h0M416.7 328.7h0M392.0 327.9h0M383.2 329.3h0M413.9 329.0h0M400.0 329.7h0M404.9 333.7h0M411.9 314.1h0M392.0 331.9h0M418.2 332.7h0M408.4 332.7h0M402.2 330.4h0M412.4 329.4h0M399.5 332.5h0M406.0 331.2h0M420.5 329.3h0M412.4 313.0h0M411.3 323.2h0M402.0 331.7h0M398.9 332.9h0M401.8 316.9h0M403.7 327.5h0M414.6 328.9h0M398.6 328.3h0M380.1 328.8h0M392.6 332.8h0M411.1 333.0h0M409.9 334.6h0M416.4 332.2h0M412.7 333.2h0M403.6 327.5h0M384.6 328.5h0M400.8 328.2h0M411.2 322.7h0M415.4 327.8h0M407.7 332.5h0M431.5 330.4h0M403.8 327.5h0M406.0 333.5h0M408.8 332.7h0M402.1 311.2h0M397.0 333.7h0M412.3 320.7h0M433.1 328.4h0M401.5 327.8h0M402.2 316.4h0M413.9 332.1h0M396.2 330.4h0M411.8 327.2h0M391.3 328.9h0M409.7 332.2h0M414.3 333.5h0M412.6 321.9h0M414.1 329.8h0M398.7 327.7h0M410.1 331.9h0M397.4 328.3h0M409.8 330.2h0M415.6 328.5h0M394.1 331.7h0M404.5 332.6h0M405.0 331.7h0M410.8 334.4h0M394.3 328.1h0M425.0 330.5h0M410.6 327.5h0M410.5 332.5h0M402.5 316.7h0M405.5 331.5h0M411.2 323.5h0M403.8 329.0h0M396.9 330.9h0M424.7 329.2h0M402.4 317.5h0M409.9 333.0h0M417.5 333.6h0M411.3 326.4h0M409.1 331.9h0M430.1 328.3h0M413.1 328.6h0M396.2 331.5h0M411.8 328.2h0M384.0 330.1h0M411.9 333.4h0M412.1 328.6h0M401.8 310.0h0M408.1 334.0h0M399.8 333.5h0M410.7 328.4h0M405.8 332.4h0M419.7 332.7h0M400.3 332.2h0M411.6 327.0h0M402.5 324.5h0M412.0 321.5h0M421.4 333.0h0M410.1 329.9h0M399.0 328.7h0M410.6 327.5h0M385.5 331.3h0M413.1 331.7h0M407.1 332.5h0M394.1 330.9h0M419.9 332.5h0M389.7 329.2h0M412.4 306.3h0M383.3 330.8h0M391.3 332.6h0M398.2 332.2h0M401.2 330.4h0M411.3 322.7h0M393.9 329.3h0M403.1 321.8h0M414.2 333.2h0M403.6 330.8h0M387.8 331.6h0M409.6 330.4h0M402.0 329.5h0M388.5 328.4h0M408.4 331.9h0M412.1 326.9h0M420.5 331.0h0M402.2 310.9h0M390.3 332.6h0M402.7 315.9h0M395.5 328.5h0M409.8 330.8h0M407.7 333.8h0M392.5 332.7h0M411.2 330.5h0M403.1 328.8h0M401.7 313.8h0M405.1 331.1h0M420.8 332.7h0M412.1 311.7h0M422.2 330.7h0M394.0 328.1h0M402.6 316.8h0M396.8 331.8h0M411.0 325.8h0M389.2 328.8h0M401.8 330.9h0M425.7 328.3h0M411.0 325.6h0M414.7 329.8h0M402.1 305.9h0M417.2 333.9h0M388.2 330.8h0M430.3 327.9h0M409.0 329.4h0M413.1 329.6h0M418.7 331.6h0M416.1 328.0h0M397.5 332.5h0M394.9 328.8h0M417.2 333.9h0M422.3 329.7h0M404.7 331.3h0M398.9 332.5h0M401.7 314.5h0M396.6 329.6h0M387.2 327.9h0M417.5 333.2h0M418.2 330.0h0M412.8 329.4h0M411.2 324.8h0M407.6 332.2h0M414.8 331.0h0M393.7 333.0h0M413.4 329.8h0M434.8 329.8h0M400.6 332.6h0M403.8 327.5h0M418.8 328.7h0M417.8 331.5h0M414.8 332.5h0M412.0 315.3h0M418.7 329.6h0M410.1 328.5h0M417.4 331.1h0M410.8 327.5h0M398.7 328.0h0M418.8 333.5h0M410.7 327.5h0M425.0 330.1h0M421.1 330.2h0M392.9 330.7h0M426.1 329.2h0M437.0 328.2h0M415.4 330.3h0M403.9 327.5h0M394.6 331.3h0M412.2 327.6h0M419.1 329.9h0M430.0 328.3h0M413.0 328.2h0M398.9 332.9h0M392.2 331.0h0M397.6 333.9h0M412.4 326.2h0M404.8 329.7h0M417.4 332.6h0M412.6 318.8h0M423.6 331.0h0M414.5 330.7h0M412.3 318.9h0M413.9 330.0h0M403.3 324.5h0M396.9 329.3h0M410.4 328.9h0M408.7 331.4h0M385.2 330.4h0M402.9 330.5h0M410.7 327.5h0M401.9 309.1h0M409.0 331.3h0M416.9 330.8h0M398.9 333.6h0M414.6 330.2h0M405.9 333.1h0M389.1 330.7h0M422.5 329.6h0M399.1 327.7h0M412.7 327.8h0M399.7 327.8h0M394.0 328.3h0M411.4 333.9h0M397.5 333.0h0M382.5 329.9h0M410.6 327.5h0M419.5 329.3h0M402.3 312.0h0M413.3 333.9h0M412.5 310.4h0M417.3 329.6h0M402.3 328.0h0M410.9 331.5h0M394.1 329.3h0M403.8 327.5h0M398.1 328.2h0M398.0 328.5h0M418.4 329.2h0M401.9 319.2h0M421.3 329.5h0M403.9 331.8h0M426.6 331.5h0M411.9 331.8h0M415.4 327.6h0M412.0 332.1h0M418.0 327.8h0M418.8 330.5h0M399.1 330.7h0M401.0 331.9h0M429.4 331.1h0M402.6 329.5h0M384.1 330.1h0M406.4 331.4h0M402.9 330.1h0M403.5 327.9h0M401.7 314.9h0M400.0 331.9h0M403.5 327.2h0M421.8 328.1h0M386.7 330.8h0M429.7 330.6h0M378.8 328.6h0M399.1 330.8h0M402.1 311.9h0M417.0 330.5h0M393.9 329.0h0M410.3 328.7h0M388.6 330.6h0M394.3 330.0h0M419.2 332.6h0M397.7 332.3h0M418.6 330.3h0M412.6 333.5h0M386.9 330.1h0M411.7 320.8h0M400.3 332.7h0M419.5 330.6h0M414.8 327.6h0M397.7 328.7h0M422.7 327.9h0M394.5 331.4h0M400.7 334.2h0M395.2 332.0h0M418.8 329.7h0M415.8 331.6h0M422.1 329.0h0M413.9 332.5h0M398.5 332.1h0M397.0 329.2h0M396.3 331.2h0M423.7 331.3h0M413.4 332.6h0M424.0 328.2h0M412.5 319.0h0M414.6 330.0h0M397.0 331.0h0M411.7 314.9h0M415.9 333.9h0M428.2 329.2h0M392.3 332.0h0M415.8 330.9h0M404.8 328.7h0M403.3 327.4h0M399.4 330.1h0M412.5 330.9h0M382.9 331.0h0M414.8 327.7h0M413.5 331.0h0M408.6 333.9h0M403.8 327.5h0M425.7 331.1h0M424.0 330.3h0M402.2 311.4h0M397.7 331.4h0M403.9 327.5h0M408.7 333.1h0M402.0 331.3h0M395.7 330.3h0M402.6 320.4h0M389.3 331.0h0M415.4 327.8h0M401.2 332.7h0M399.8 330.9h0M410.5 334.3h0M402.1 308.7h0M421.6 328.5h0M429.0 327.7h0M390.0 332.1h0M405.4 331.4h0M411.3 321.3h0M404.5 333.9h0M403.7 327.5h0M396.2 332.4h0M428.5 328.0h0M393.9 328.8h0M410.3 331.3h0M411.9 330.4h0M410.3 331.1h0M386.9 329.7h0M402.8 326.7h0M406.9 334.0h0M416.7 331.9h0M405.8 329.5h0M410.5 329.6h0M410.7 327.5h0M411.4 331.0h0M400.3 333.0h0M412.5 321.5h0M416.9 330.2h0M395.7 327.7h0M404.3 328.9h0M412.2 314.2h0M403.5 327.2h0M394.8 332.8h0M375.6 328.3h0M399.8 328.2h0M411.1 326.9h0M412.4 312.5h0M393.2 328.6h0M412.2 317.1h0M408.1 333.4h0M418.0 329.2h0M409.0 333.4h0M394.2 332.5h0M424.7 329.0h0M411.0 330.9h0M411.8 317.4h0M404.5 330.4h0M419.3 328.8h0M402.5 318.4h0M411.8 324.9h0M417.1 329.0h0M409.4 333.4h0M410.4 330.9h0M401.8 331.8h0M402.4 323.8h0M427.5 329.2h0M407.9 332.6h0M404.9 333.4h0M391.9 329.1h0M396.1 330.3h0M423.3 332.1h0M395.9 331.0h0M402.8 328.0h0M418.8 328.4h0M401.9 323.2h0M410.7 327.5h0M418.6 332.6h0M387.6 328.6h0M414.3 328.1h0M404.4 327.5h0M405.5 333.5h0M397.6 333.3h0M415.1 328.5h0M404.9 333.6h0M412.4 332.0h0M416.8 330.8h0M407.9 334.1h0M403.8 328.1h0M415.9 332.9h0M411.3 330.8h0M401.7 300.8h0M392.1 329.5h0M399.5 330.0h0M404.9 330.4h0M400.1 330.1h0M401.9 328.3h0M393.4 332.7h0M405.6 333.8h0M395.3 329.2h0M401.6 328.7h0M397.0 332.8h0M410.9 327.5h0M403.2 326.6h0M414.7 327.9h0M414.5 329.0h0M414.8 332.7h0M403.5 333.8h0M403.9 327.5h0M414.4 327.5h0M401.8 332.2h0M392.6 333.0h0M414.2 331.8h0M414.1 331.7h0M410.5 327.5h0M411.7 315.0h0M412.1 327.4h0M396.4 333.0h0M395.2 328.9h0M405.4 333.8h0M414.8 330.1h0M389.8 329.4h0M397.2 330.0h0M402.9 329.9h0M400.3 334.2h0M412.1 324.0h0M402.0 330.0h0M426.5 327.9h0M434.8 329.2h0M414.5 332.0h0M415.3 330.6h0M410.6 327.5h0M410.7 331.9h0M402.1 333.7h0M410.7 327.5h0M418.8 330.2h0M402.4 313.9h0M427.8 332.0h0M433.8 329.7h0M404.4 328.9h0M423.4 329.5h0M396.3 330.9h0M401.1 334.2h0M412.9 332.4h0M422.7 331.4h0M400.3 329.1h0M402.7 322.0h0M422.3 330.4h0M382.6 329.5h0M403.6 329.8h0M409.7 329.8h0M396.8 332.4h0M411.7 323.8h0M405.6 334.4h0M410.6 328.8h0M402.9 331.4h0M398.3 332.2h0M384.8 330.8h0M427.6 330.5h0M416.9 327.7h0M412.7 305.4h0M407.8 331.8h0M410.6 327.5h0M418.9 329.6h0M412.4 328.7h0M413.9 330.9h0M402.6 334.3h0M409.1 328.2h0M410.4 333.3h0M393.9 330.8h0M410.0 328.6h0M403.6 327.5h0M402.6 320.5h0M385.6 329.2h0M399.1 331.4h0M400.3 329.8h0M406.7 334.6h0M411.2 326.9h0M426.4 331.3h0M417.5 331.3h0M402.4 320.2h0M413.9 331.7h0M406.8 332.7h0M403.0 333.1h0M411.4 331.6h0M426.4 327.6h0M413.8 331.0h0M424.8 329.6h0M412.6 316.2h0M414.0 331.7h0M389.7 328.0h0M403.7 327.5h0M402.5 323.1h0M422.5 332.0h0M399.2 330.8h0M433.0 330.4h0M430.9 328.1h0M405.0 329.9h0M409.6 334.5h0M419.2 330.3h0M388.5 329.5h0M408.2 333.8h0M425.4 329.9h0M419.0 329.6h0M414.6 329.8h0M403.8 327.5h0M409.6 333.3h0M395.3 330.3h0M391.0 332.9h0M413.0 334.3h0M396.7 331.5h0M422.1 329.8h0M412.1 312.5h0M412.4 313.7h0M403.1 324.1h0M401.2 333.4h0M416.3 329.7h0M389.1 327.5h0M411.3 325.5h0M428.7 331.6h0M423.9 332.3h0M396.5 327.6h0M394.8 333.3h0M419.0 333.1h0M402.5 328.9h0M402.4 315.0h0M414.3 330.2h0M411.7 324.4h0M402.0 321.2h0M414.8 329.1h0M401.7 299.5h0M412.5 303.7h0M406.5 333.5h0M383.8 328.5h0M425.4 331.1h0M391.7 328.7h0M411.1 333.2h0M394.7 331.9h0M430.9 330.1h0M405.4 328.8h0M402.7 319.5h0M413.7 330.4h0M421.3 330.8h0M406.0 332.9h0M412.0 314.2h0M427.5 330.2h0M420.8 329.2h0M415.7 334.1h0M428.9 329.3h0M420.4 329.0h0M411.2 329.9h0M392.2 331.7h0M405.0 334.5h0M396.9 328.6h0M422.0 331.9h0M403.8 327.5h0M402.9 330.6h0M417.1 330.7h0M397.7 327.7h0M399.2 332.0h0M411.2 333.7h0M403.5 327.2h0M403.8 327.5h0M418.2 331.3h0M415.3 331.2h0M411.1 326.5h0M411.2 323.6h0M437.8 327.7h0M411.7 327.8h0M408.8 330.2h0M402.9 325.8h0M405.1 328.0h0M415.0 332.7h0M416.9 332.6h0M409.8 331.3h0M401.1 331.6h0M399.6 331.2h0M418.7 331.8h0M403.9 330.1h0M412.3 309.3h0M416.0 331.3h0M410.6 327.5h0M417.1 331.7h0M394.3 328.2h0M414.7 331.5h0M391.1 330.8h0M402.0 326.9h0M412.9 333.4h0M402.1 314.6h0M393.3 327.8h0M412.8 330.4h0M408.4 334.0h0M402.6 316.9h0M397.8 331.1h0M414.8 334.2h0M407.4 333.1h0M386.4 328.7h0M411.8 324.1h0M411.2 330.1h0M389.7 330.0h0M417.8 333.5h0M409.5 330.9h0M384.6 330.6h0M403.9 331.4h0M392.5 328.1h0M383.2 327.9h0M411.3 322.2h0M399.3 333.3h0M412.3 330.8h0M422.0 331.8h0M410.6 327.5h0M428.1 328.6h0M417.8 330.1h0M403.3 327.3h0M400.3 331.2h0M412.5 331.4h0M395.3 333.3h0M407.1 334.2h0M402.5 314.6h0M395.0 331.1h0" stroke="#bdbdbd" stroke-opacity="0.5" stroke-width="1.7" stroke-linecap="round" fill="none"/>
<path d="M402.9 325.5h0M405.8 329.9h0M411.5 319.2h0M412.7 303.6h0M402.8 318.2h0M385.9 330.7h0M414.2 330.5h0M400.0 334.2h0M412.4 313.8h0M400.2 328.6h0M415.6 330.1h0M412.4 305.5h0M410.5 332.8h0M428.8 329.0h0M408.0 334.3h0M412.5 307.0h0M417.3 327.9h0M414.4 332.2h0M412.4 311.4h0M411.8 322.5h0M412.1 310.7h0M412.7 305.6h0M418.5 331.4h0M419.4 327.7h0M410.7 331.2h0M385.8 331.6h0M374.2 328.0h0M402.6 332.5h0M402.1 331.3h0M404.8 328.6h0M417.2 333.7h0M402.6 317.0h0M399.6 327.5h0M412.2 326.5h0M404.8 332.0h0M420.6 333.5h0M391.6 329.9h0M416.1 330.0h0M414.4 333.9h0M412.3 329.7h0M411.1 324.0h0M390.5 331.4h0M394.3 328.6h0M416.3 333.1h0M417.1 332.6h0M399.9 332.0h0M392.7 332.6h0M379.5 327.6h0M403.7 329.0h0M402.0 331.2h0M413.2 331.0h0M434.6 328.0h0M411.7 325.2h0M421.0 330.2h0M423.4 330.1h0M402.5 321.7h0M390.3 329.0h0M425.5 330.2h0M420.8 331.4h0M421.0 332.4h0M412.6 306.6h0M406.7 333.0h0M419.4 332.0h0M398.7 330.4h0M412.7 330.6h0M401.7 333.6h0M405.2 334.3h0M417.5 328.5h0M405.1 332.7h0M415.4 328.9h0M399.9 329.8h0M409.1 333.1h0M406.6 331.4h0M393.9 329.3h0M425.6 329.3h0M415.0 333.8h0M396.7 331.5h0M403.4 326.8h0M403.1 327.9h0M401.9 330.0h0M403.2 330.7h0M397.5 329.4h0M402.5 332.6h0M410.5 331.0h0M425.5 330.0h0M404.9 334.1h0M416.5 328.9h0M410.3 331.1h0M417.3 333.3h0M403.8 330.8h0M392.6 327.9h0M413.6 330.1h0M411.3 325.5h0M403.4 327.3h0M399.9 332.4h0M420.3 329.6h0M408.3 331.0h0M403.8 327.5h0M400.0 327.7h0M403.0 322.1h0M401.3 328.3h0M403.8 329.9h0M419.2 333.5h0M396.5 332.3h0M403.8 327.5h0M394.7 330.2h0M390.2 332.0h0M380.4 328.2h0M403.3 326.7h0M411.1 327.0h0M403.7 327.5h0M418.7 328.6h0M416.9 331.9h0M404.2 327.9h0M409.3 329.1h0M402.9 318.1h0M413.6 328.5h0M401.8 312.6h0M388.7 329.2h0M414.7 327.9h0M401.9 307.4h0M412.0 319.9h0M391.1 331.5h0M412.1 314.1h0M411.8 330.7h0M381.2 328.7h0M402.6 328.7h0M399.7 332.5h0M418.1 330.4h0M411.2 328.9h0M412.7 330.9h0M395.0 328.6h0M400.6 333.7h0M422.7 329.5h0M405.3 332.1h0M391.2 331.2h0M410.9 327.0h0M412.4 319.3h0M416.6 330.5h0M390.7 329.3h0M411.0 331.8h0M408.1 332.0h0M428.9 330.1h0M405.4 333.3h0M402.8 331.5h0M404.3 331.0h0M426.5 332.0h0M413.8 331.8h0M396.4 327.5h0M409.2 332.4h0M418.2 330.8h0M412.6 303.1h0M397.3 330.4h0M411.4 322.0h0M423.6 330.1h0M412.1 310.0h0M393.8 328.1h0M387.3 329.5h0M404.3 329.3h0M416.9 329.9h0M415.7 330.2h0M387.7 328.1h0M399.2 328.1h0M409.2 328.7h0M394.7 329.1h0M411.4 322.3h0M398.0 330.9h0M421.3 329.8h0M413.0 327.6h0M398.5 331.5h0M420.4 330.5h0M419.0 329.1h0M410.6 332.9h0M399.5 329.9h0M417.2 329.9h0M404.3 333.0h0M393.0 332.6h0M404.2 333.7h0M417.0 333.2h0M410.9 326.8h0M409.7 328.5h0M391.9 329.0h0M414.0 334.2h0M384.8 328.0h0M414.0 328.6h0M417.8 333.7h0M405.3 329.3h0M412.9 333.2h0M414.8 332.3h0M410.6 327.5h0M411.2 328.3h0M412.7 307.2h0M410.9 333.4h0M395.6 330.1h0M401.5 328.5h0M399.9 329.9h0M402.9 334.2h0M392.2 329.0h0M399.6 333.5h0M426.4 329.5h0M402.2 320.3h0M403.6 333.5h0M416.3 332.5h0M394.0 330.8h0M412.3 332.2h0M403.0 326.0h0M402.9 321.7h0M403.3 333.0h0M380.6 330.1h0M403.0 325.7h0M398.2 329.7h0M411.3 323.8h0M415.2 331.6h0M420.4 327.8h0M404.2 334.5h0M408.8 330.2h0M411.0 328.3h0M387.3 327.8h0M425.5 331.4h0M413.1 333.2h0M412.7 314.3h0M399.9 333.8h0M416.1 332.7h0M411.8 326.2h0M422.8 328.4h0M411.7 324.4h0M410.6 327.5h0M400.9 330.9h0M415.1 328.8h0M390.0 330.9h0M397.1 330.2h0M403.4 333.2h0M413.0 331.5h0M399.6 330.8h0M399.4 331.3h0M426.7 330.7h0M403.4 325.3h0M410.1 327.7h0M397.2 331.8h0M416.0 329.6h0M411.1 325.1h0M410.1 329.5h0M404.4 334.5h0M398.7 329.8h0M402.8 319.7h0M439.8 327.7h0M403.5 327.4h0M399.2 329.7h0M416.5 332.3h0M414.8 332.9h0M433.6 327.9h0M416.1 333.0h0M412.0 328.6h0M399.5 332.0h0M395.1 328.3h0M411.7 325.3h0M426.7 328.1h0M410.9 327.5h0M385.3 327.8h0M396.8 332.9h0M412.5 333.2h0M416.1 332.4h0M410.5 330.0h0M397.5 329.3h0M393.5 331.1h0M420.1 331.2h0M399.2 331.2h0M413.9 331.9h0M409.6 327.5h0M395.0 333.2h0M412.3 326.0h0M393.9 330.0h0M403.0 333.1h0M405.0 332.2h0M409.0 330.2h0M404.6 330.0h0M422.1 333.3h0M419.4 333.5h0M421.0 328.4h0M410.3 332.9h0M407.8 332.6h0M412.7 302.4h0M415.4 332.3h0M411.8 313.8h0M384.9 329.7h0M427.0 332.0h0M411.9 312.2h0M414.4 332.5h0M413.2 330.4h0M403.0 330.9h0M395.4 327.6h0M410.6 327.5h0M419.7 330.8h0M391.4 332.0h0M430.0 329.9h0M402.0 309.7h0M415.1 329.5h0M412.4 317.6h0M402.1 325.9h0M406.6 331.4h0M402.6 334.0h0M403.6 331.9h0M398.1 330.3h0M393.5 332.7h0M418.9 330.3h0M404.9 334.1h0M395.7 331.9h0M382.8 330.3h0M402.2 315.9h0M404.9 330.6h0M389.7 331.3h0M412.1 315.1h0M426.4 330.4h0M425.6 329.2h0M411.3 327.3h0M424.4 330.9h0M409.9 328.1h0M412.6 319.9h0M393.5 332.7h0M401.7 304.2h0M418.1 332.8h0M412.4 316.2h0M418.6 332.1h0M409.6 333.5h0M394.3 332.7h0M410.6 327.5h0M415.0 332.2h0M403.2 327.5h0M393.9 333.2h0M408.6 334.5h0M416.1 331.8h0M404.0 333.8h0M405.0 331.6h0M388.8 328.5h0M419.0 331.6h0M411.5 322.3h0M425.6 328.7h0M410.2 330.5h0M392.1 330.9h0M420.5 329.5h0M410.9 328.7h0M409.1 328.2h0M416.0 328.8h0M404.5 331.6h0M429.5 330.4h0M399.4 327.5h0M400.4 331.6h0M415.2 330.2h0M397.1 331.6h0M426.7 328.6h0M426.8 331.4h0M402.6 318.7h0M399.7 332.7h0M412.5 334.1h0M396.5 328.4h0M387.3 328.6h0M411.9 334.1h0M412.1 315.7h0M402.1 317.3h0M416.2 329.1h0M421.1 328.7h0M412.1 317.5h0M418.6 329.5h0M413.9 331.7h0M405.0 330.4h0M388.6 330.3h0M403.4 325.5h0M409.8 327.6h0M405.9 332.3h0M412.4 328.8h0M403.6 332.8h0M409.7 332.3h0M422.4 332.4h0M412.6 305.5h0M403.6 332.9h0M410.6 327.5h0M413.3 333.9h0M405.1 332.8h0M412.0 318.2h0M402.5 332.0h0M400.2 327.7h0M413.9 329.0h0M392.7 330.9h0M400.7 330.1h0M398.4 332.3h0M394.5 329.6h0M414.5 334.2h0M395.3 332.3h0M412.9 332.1h0M413.0 330.8h0M402.7 330.2h0M393.3 332.1h0M403.3 324.3h0M418.4 331.1h0M400.7 327.6h0M400.5 331.1h0M408.0 332.6h0M410.6 333.7h0M415.1 333.7h0M383.8 329.5h0M401.3 333.3h0M404.0 333.9h0M412.1 312.5h0M394.2 330.3h0M408.9 332.4h0M414.1 331.0h0M409.6 329.9h0M410.6 328.7h0M404.6 332.0h0M413.3 332.1h0M418.0 332.9h0M417.2 333.4h0M422.0 329.0h0M404.6 333.8h0M411.7 320.0h0M412.1 330.9h0M410.1 334.2h0M409.1 333.2h0M405.3 332.6h0M421.1 327.6h0M420.0 330.1h0M403.8 332.2h0M410.6 327.5h0M412.1 326.8h0M405.2 332.2h0M421.4 332.6h0M400.0 331.5h0M391.5 328.8h0M423.5 331.8h0M424.3 331.0h0M411.1 331.4h0M398.8 332.4h0M407.9 331.3h0M411.5 323.8h0M392.1 331.6h0M405.3 328.3h0M408.4 332.3h0M398.5 328.7h0M402.9 327.6h0M412.0 321.9h0M415.5 330.2h0M412.7 314.4h0M409.3 328.4h0M431.2 329.6h0M410.8 333.3h0M403.6 327.5h0M393.4 330.7h0M429.6 330.6h0M403.5 327.5h0M409.7 329.6h0M409.0 330.5h0M403.8 331.4h0M380.5 329.3h0M412.0 310.9h0M411.1 326.7h0M412.0 329.2h0M413.2 333.1h0M417.3 332.8h0M433.0 330.5h0M394.3 328.7h0M401.4 330.4h0M395.7 329.4h0M412.0 332.6h0M402.8 319.5h0M422.4 332.9h0M415.3 328.5h0M403.6 327.5h0M418.1 333.3h0M402.3 326.5h0M402.6 323.8h0M419.5 330.3h0M395.1 329.0h0M426.6 328.8h0M393.2 329.5h0M389.8 329.3h0M410.3 327.9h0M416.9 333.9h0M411.1 324.7h0M412.0 328.1h0M400.3 330.3h0M412.7 322.2h0M412.8 330.5h0M423.7 328.5h0M428.3 329.8h0M381.1 328.3h0M402.5 322.2h0M412.7 327.1h0M412.8 333.3h0M403.5 328.9h0M412.5 307.3h0M400.0 328.4h0M401.9 317.1h0M403.6 329.4h0M386.6 329.2h0M415.9 331.2h0M403.6 327.5h0M412.5 313.6h0M417.8 331.9h0M403.0 323.3h0M414.7 329.4h0M393.3 329.3h0M401.4 331.7h0M391.5 329.2h0M391.3 333.1h0M411.2 324.2h0M418.5 332.2h0M402.2 327.3h0M399.5 330.9h0M426.9 328.5h0M400.6 332.8h0M411.2 329.7h0M397.1 329.1h0M384.7 330.4h0M394.8 327.9h0M410.5 334.0h0M426.5 329.1h0M422.2 328.9h0M402.6 325.6h0M394.7 330.7h0M401.5 333.7h0M391.7 328.9h0M412.4 330.6h0M405.4 333.6h0M402.5 320.6h0M393.6 332.0h0M409.6 328.6h0M403.7 329.3h0M404.1 328.1h0M396.7 330.0h0M414.9 332.3h0M395.8 333.4h0M402.4 331.4h0M406.0 331.5h0M404.2 333.0h0M410.1 333.4h0M432.2 327.6h0M396.6 328.2h0M399.1 329.8h0M397.5 331.7h0M397.8 334.0h0M416.8 333.8h0M416.2 331.6h0M392.0 328.2h0M417.0 333.8h0M402.5 328.8h0M398.6 328.2h0M407.8 331.9h0M402.9 321.9h0M412.1 310.8h0M408.5 330.7h0M428.2 331.3h0M411.9 315.6h0M411.1 324.0h0M411.8 331.7h0M403.0 319.3h0M399.7 331.2h0M412.4 317.3h0M420.3 333.0h0M388.2 327.7h0M392.2 327.9h0M382.6 328.9h0M416.5 329.3h0M402.2 319.0h0M383.4 331.0h0M411.3 321.6h0M412.2 331.5h0M402.9 322.1h0M416.1 329.5h0M427.4 332.0h0M402.4 319.5h0M411.5 324.7h0M413.9 331.6h0M415.2 331.7h0M412.0 315.4h0M393.3 333.2h0M411.3 323.1h0M401.7 331.7h0M393.1 333.1h0M416.5 332.2h0M413.5 328.2h0M404.3 332.6h0M403.1 320.8h0M410.2 334.4h0M417.1 332.5h0M417.8 329.1h0M423.1 330.6h0M387.6 327.7h0M427.9 329.1h0M399.8 328.4h0M410.6 327.5h0M418.2 327.7h0M393.4 329.2h0M424.1 330.9h0M409.3 332.4h0M414.2 328.1h0M421.4 328.9h0M416.3 332.1h0M410.7 331.9h0M411.7 322.5h0M415.9 333.1h0M411.9 315.2h0M403.7 327.8h0M406.5 332.4h0M417.3 329.6h0M410.6 327.5h0M386.3 331.3h0M413.7 332.8h0M403.0 320.2h0M426.0 330.1h0M418.0 331.1h0M412.7 325.6h0M397.0 330.7h0M422.7 332.3h0M400.5 329.7h0M424.6 329.7h0M402.0 310.6h0M390.1 330.5h0M392.1 330.5h0M413.4 329.0h0M393.2 329.3h0M401.3 332.2h0M413.1 333.5h0M403.9 331.7h0M417.0 331.9h0M410.4 334.4h0M401.6 329.1h0M403.7 332.5h0M425.3 329.0h0M412.5 319.1h0M403.9 332.2h0M412.2 327.9h0M411.1 325.5h0M382.2 328.0h0M412.2 314.3h0M403.8 327.5h0M402.4 325.3h0M416.9 329.8h0M399.2 330.8h0M398.7 328.3h0M412.6 325.0h0M410.6 327.5h0M409.3 328.1h0M403.8 327.5h0M397.8 328.3h0M423.8 328.4h0M383.0 330.7h0M402.0 317.4h0M412.6 328.4h0M412.7 332.5h0M411.2 323.2h0M403.5 328.7h0M402.9 323.6h0M402.6 328.7h0M420.4 332.5h0M416.5 332.3h0M410.6 327.5h0M395.7 332.5h0M412.2 334.3h0M416.1 332.3h0M403.3 324.4h0M395.9 329.0h0M402.5 315.8h0M398.1 330.5h0M403.5 329.6h0M415.4 332.2h0" stroke="#bdbdbd" stroke-opacity="0.5" stroke-width="1.7" stroke-linecap="round" fill="none"/>
<path d="M396.6 299.3h0M383.1 300.2h0M395.6 311.0h0M388.5 324.9h0M400.4 312.8h0M401.5 324.1h0M371.7 316.6h0M390.4 317.5h0M389.1 327.0h0M399.7 322.8h0M387.4 317.8h0M393.7 316.3h0M397.7 326.0h0M397.0 302.4h0M394.6 327.3h0M393.4 309.3h0M387.8 304.3h0M376.9 314.6h0M399.3 313.8h0M379.6 324.4h0M400.9 303.1h0M393.3 307.5h0M395.0 326.6h0M396.6 310.0h0M396.9 313.5h0M389.9 267.1h0M391.9 309.2h0M398.7 295.8h0M398.2 311.9h0M400.3 313.1h0M393.2 327.1h0M396.4 314.4h0M396.8 326.6h0M397.3 304.4h0M396.2 326.7h0M397.8 251.6h0M390.5 322.7h0M385.4 318.5h0M397.9 312.3h0M401.4 317.6h0M396.8 323.1h0M395.3 259.7h0M399.4 321.0h0M398.7 326.5h0M389.4 324.7h0M400.6 321.9h0M399.0 303.2h0M378.6 325.7h0M392.3 292.7h0M393.4 291.7h0M396.0 293.4h0M395.7 324.0h0M398.9 312.2h0M392.4 316.5h0M398.1 313.3h0M400.1 317.4h0M397.0 305.5h0M384.2 325.6h0M369.0 251.4h0M401.2 321.5h0M393.0 252.3h0M400.7 322.0h0M395.1 326.1h0M399.5 290.4h0M401.3 307.7h0M395.9 317.7h0M386.9 301.9h0M382.9 318.5h0M396.4 307.3h0M398.3 280.2h0M395.0 320.2h0M388.5 316.7h0M397.1 325.3h0M401.5 308.1h0M392.3 323.1h0M383.4 313.5h0M400.8 315.1h0M392.9 299.3h0M400.1 309.9h0M396.8 320.7h0M398.1 326.5h0M378.9 286.8h0M399.3 290.7h0M365.1 293.0h0M382.1 326.1h0M397.7 293.6h0M396.2 323.3h0M397.7 304.3h0M395.8 324.8h0M394.2 313.8h0M397.5 314.5h0M381.1 316.4h0M396.6 322.7h0M400.4 326.7h0M398.1 257.0h0M395.5 324.2h0M396.5 240.6h0M396.6 310.1h0M384.9 326.5h0M397.6 296.5h0M396.6 325.9h0M391.0 314.7h0M398.0 326.8h0M395.9 315.0h0M390.3 315.9h0M399.5 300.3h0M391.0 320.0h0M392.1 323.6h0M401.4 321.5h0M397.0 318.2h0M392.1 283.5h0M398.7 322.6h0M392.0 324.2h0M396.8 321.9h0M371.9 271.0h0M398.8 294.4h0M392.8 318.1h0M382.0 294.7h0M387.0 327.4h0M384.4 327.4h0M397.1 324.1h0M394.9 318.4h0M394.3 327.1h0M384.0 318.7h0M399.5 266.9h0M395.6 310.9h0M400.7 320.1h0M401.1 321.6h0M398.2 307.1h0M395.3 323.4h0M388.1 307.2h0M389.3 318.7h0M378.4 289.1h0M358.8 281.1h0M398.3 317.4h0M391.2 324.0h0M396.2 326.4h0M397.7 322.4h0M390.7 313.6h0M392.4 311.5h0M395.9 318.8h0M394.0 299.3h0M392.9 316.7h0M393.6 325.6h0M393.1 326.6h0M399.4 325.3h0M377.4 311.2h0M395.2 322.9h0M398.8 260.7h0M397.9 298.8h0M393.5 326.6h0M400.2 303.2h0M398.0 326.9h0M400.5 326.4h0M401.1 310.5h0M392.3 284.5h0M386.8 324.8h0M398.6 247.1h0M400.5 321.5h0M394.7 320.6h0M375.7 318.3h0M389.1 311.2h0M395.3 293.9h0M399.6 320.9h0M400.3 318.1h0M400.5 306.9h0M374.0 310.6h0M398.8 307.7h0M393.8 314.0h0M383.6 316.5h0M398.3 306.8h0M401.0 322.4h0M364.8 258.3h0M372.5 313.7h0M387.6 284.6h0M393.5 326.6h0M397.9 318.6h0M398.0 290.9h0M384.2 324.5h0M368.9 309.5h0M398.4 319.2h0M388.3 289.7h0M393.4 312.9h0M396.8 317.2h0M387.6 307.1h0M399.9 305.2h0M384.9 307.4h0M386.5 316.1h0M394.9 306.4h0M400.2 313.1h0M395.2 322.8h0M396.8 323.5h0M378.3 320.1h0M393.4 314.5h0M383.8 325.8h0M396.6 313.1h0M395.5 311.4h0M398.4 326.7h0M396.6 320.9h0M395.5 313.9h0M392.5 325.7h0M400.6 316.7h0M388.4 327.3h0M367.6 276.6h0M396.7 306.6h0M393.9 284.5h0M394.2 311.2h0M373.8 301.4h0M374.6 325.5h0M379.2 231.8h0M397.0 283.9h0M399.7 326.2h0M401.3 316.1h0M394.1 324.3h0M396.2 321.3h0M384.3 324.0h0M386.9 305.0h0M381.6 320.2h0M381.8 294.5h0M400.9 326.5h0M397.7 323.6h0M400.4 306.7h0M397.4 327.2h0M390.0 306.8h0M363.1 240.3h0M395.7 304.1h0M357.5 236.3h0M357.9 244.7h0M397.4 316.6h0M400.4 312.6h0M400.9 326.4h0M400.9 310.5h0M388.4 327.2h0M363.9 311.6h0M398.7 322.1h0M390.2 326.5h0M359.8 300.3h0M395.4 327.0h0M400.6 305.8h0M397.3 296.7h0M396.9 323.2h0M382.2 325.3h0M401.3 265.4h0M399.6 307.5h0M381.4 314.8h0M400.0 314.1h0M392.4 323.5h0M375.5 316.8h0M387.4 323.4h0M401.0 321.7h0M390.9 316.6h0M387.0 307.4h0M399.2 320.9h0M389.5 303.1h0M396.2 313.3h0M395.1 299.0h0M396.6 302.9h0M379.3 283.1h0M394.8 313.2h0M370.3 277.0h0M401.0 316.7h0M396.4 316.7h0M395.3 286.3h0M397.3 324.1h0M398.9 311.0h0M399.5 324.2h0M399.2 316.9h0M385.7 324.8h0M390.6 322.8h0M401.3 320.2h0M391.3 310.0h0M392.1 274.7h0M392.0 322.9h0M398.3 310.4h0M373.1 296.2h0M374.8 306.0h0M397.6 315.2h0M368.9 236.6h0M399.0 320.5h0M394.2 273.7h0M384.3 318.7h0" stroke="#0000ff" stroke-opacity="0.18" stroke-width="2.2" stroke-linecap="round" fill="none"/>
<path d="M397.3 317.8h0M399.7 261.2h0M401.1 323.1h0M389.9 316.3h0M396.2 273.7h0M401.3 325.4h0M383.8 305.5h0M396.2 286.2h0M386.2 288.0h0M388.0 292.0h0M398.7 307.4h0M390.3 302.2h0M391.3 302.2h0M387.7 303.7h0M394.6 301.0h0M396.0 327.3h0M374.4 314.4h0M400.3 322.3h0M385.0 319.0h0M389.6 284.8h0M383.8 319.5h0M400.9 309.4h0M393.8 314.5h0M400.4 307.7h0M367.5 279.2h0M400.9 325.3h0M373.4 315.8h0M397.7 320.6h0M362.5 259.9h0M383.9 318.4h0M394.3 283.6h0M385.5 322.6h0M400.4 280.0h0M398.4 316.8h0M398.0 319.8h0M399.9 323.6h0M400.5 304.3h0M381.7 301.8h0M385.5 319.9h0M386.1 322.5h0M398.9 324.8h0M399.1 284.0h0M369.6 238.3h0M393.4 309.1h0M399.1 324.8h0M400.5 315.5h0M394.8 322.3h0M400.1 315.0h0M395.4 317.6h0M367.2 313.8h0M396.9 320.3h0M397.6 322.5h0M397.2 327.4h0M387.3 323.2h0M391.3 285.3h0M388.2 302.7h0M399.6 316.2h0M391.9 262.4h0M399.4 321.7h0M398.1 293.7h0M395.5 320.6h0M398.7 301.1h0M398.0 318.6h0M391.1 319.9h0M397.1 318.8h0M397.4 319.5h0M385.0 312.2h0M395.9 308.2h0M396.3 320.3h0M394.3 318.3h0M397.6 324.0h0M383.4 326.2h0M392.7 322.0h0M388.0 291.9h0M395.2 324.2h0M372.9 288.2h0M377.8 312.3h0M397.0 306.3h0M395.2 320.6h0M397.1 319.1h0M395.4 287.2h0M391.4 323.5h0M388.9 316.5h0M397.1 320.2h0M394.6 311.8h0M394.7 313.0h0M396.0 296.0h0M398.8 302.5h0M370.7 325.1h0M396.0 320.7h0M391.2 306.0h0M395.8 275.7h0M399.9 323.7h0M384.0 322.1h0M392.9 317.7h0M378.0 326.0h0M399.7 300.2h0M386.4 322.2h0M399.6 325.2h0M394.2 301.4h0M399.2 319.2h0M393.4 320.7h0M401.5 325.6h0M364.3 297.5h0M397.6 271.9h0M395.4 326.7h0M392.4 322.6h0M395.0 321.0h0M379.8 322.6h0M397.8 318.4h0M393.2 249.3h0M401.1 321.4h0M396.8 321.9h0M381.3 310.5h0M381.3 308.3h0M385.0 319.3h0M401.1 324.9h0M365.1 284.2h0M399.9 324.7h0M383.8 304.8h0M399.2 319.1h0M393.5 268.2h0M398.0 297.1h0M400.1 325.7h0M399.5 327.0h0M396.7 326.5h0M389.3 315.0h0M376.9 312.1h0M385.3 326.3h0M401.4 317.2h0M386.7 320.7h0M394.5 324.8h0M393.4 317.4h0M389.9 316.4h0M395.7 320.5h0M400.5 320.0h0M400.4 319.8h0M394.3 313.2h0M386.9 310.4h0M397.3 309.9h0M390.8 318.4h0M388.5 315.5h0M386.9 311.5h0M398.7 323.0h0M397.6 307.3h0M400.9 327.2h0M395.4 321.1h0M396.0 313.4h0M389.0 314.1h0M389.7 293.6h0M393.6 311.8h0M386.6 291.6h0M396.0 317.3h0M391.9 286.2h0M398.5 309.7h0M398.3 322.7h0M401.2 320.8h0M381.0 316.8h0M393.9 324.3h0M394.5 287.8h0M372.0 325.0h0M393.0 256.5h0M384.2 280.2h0M382.4 317.2h0M400.0 324.1h0M398.1 324.8h0M391.7 322.6h0M391.4 304.0h0M383.0 316.6h0M400.6 326.9h0M389.8 308.0h0M389.7 322.4h0M396.0 327.0h0M400.3 276.0h0M381.0 282.6h0M400.5 252.2h0M391.5 283.3h0M397.7 325.3h0M396.2 305.4h0M400.5 321.1h0M396.9 320.2h0M379.3 311.5h0M401.4 324.2h0M398.2 325.9h0M395.4 326.5h0M373.1 323.4h0M391.4 266.2h0M399.7 321.0h0M389.3 262.4h0M400.1 322.2h0M392.4 283.6h0M390.7 318.8h0M393.0 319.3h0M374.2 324.3h0M396.7 320.6h0M399.6 323.4h0M388.4 317.3h0M383.2 318.6h0M379.0 309.8h0M369.7 287.0h0M400.9 317.9h0M395.0 325.4h0M400.2 324.9h0M378.4 290.3h0M356.6 262.6h0M399.7 325.7h0M376.1 324.9h0M362.5 253.5h0M391.6 292.6h0M398.8 304.4h0M401.0 324.9h0M386.9 321.2h0M373.6 307.1h0M401.3 309.2h0M373.3 318.4h0M393.4 297.1h0M397.9 325.0h0M383.7 325.0h0M389.6 325.7h0M398.9 292.0h0M391.6 272.1h0M400.3 319.3h0M399.6 322.3h0M395.9 320.1h0M388.9 308.6h0M387.8 327.1h0M385.7 281.8h0M397.4 320.0h0M396.4 314.6h0M371.8 284.4h0M401.1 297.4h0M397.3 315.7h0M396.9 315.8h0M393.5 324.1h0M390.6 284.8h0M395.3 326.4h0M397.1 320.7h0M400.2 322.0h0M393.5 318.8h0M390.8 303.4h0M387.1 326.8h0M394.9 319.8h0M390.5 324.4h0M400.7 309.6h0M396.0 314.8h0M383.9 325.6h0M401.5 312.9h0M397.5 230.5h0M388.2 287.6h0M400.7 325.3h0M389.2 313.0h0M400.5 317.9h0M385.4 282.7h0M396.9 324.9h0M400.8 317.1h0M400.7 327.3h0M385.1 292.6h0M395.4 324.4h0M393.0 324.4h0M397.6 321.5h0M394.9 319.2h0M401.6 321.1h0M392.4 281.5h0M382.6 290.4h0M397.9 322.8h0M372.7 291.2h0M395.7 311.6h0M390.0 314.6h0M388.3 304.7h0M397.7 309.4h0M386.5 319.5h0M401.6 316.9h0M401.1 324.0h0M395.9 322.0h0M395.6 243.5h0M396.3 315.5h0M401.6 326.6h0M400.8 310.5h0M400.7 313.0h0M398.6 324.9h0M398.1 326.9h0" stroke="#0000ff" stroke-opacity="0.18" stroke-width="2.2" stroke-linecap="round" fill="none"/>
<path d="M397.3 316.6h0M362.0 254.3h0M365.9 315.3h0M373.9 324.9h0M391.0 326.5h0M396.5 325.9h0M377.7 294.1h0M385.7 323.8h0M400.8 320.9h0M392.1 301.6h0M389.1 285.8h0M390.0 289.7h0M399.3 325.2h0M395.5 285.6h0M396.2 275.2h0M390.1 314.4h0M399.0 311.6h0M399.9 301.7h0M386.5 295.8h0M398.0 312.2h0M386.4 302.3h0M390.9 285.7h0M400.7 322.6h0M387.1 325.3h0M366.3 247.9h0M400.0 313.7h0M401.6 320.5h0M385.5 318.4h0M398.8 313.9h0M393.2 325.1h0M382.0 327.0h0M400.8 287.7h0M382.1 299.5h0M375.3 310.8h0M401.3 314.5h0M401.3 302.8h0M392.1 262.1h0M376.8 321.1h0M396.7 316.2h0M401.5 320.0h0M399.7 276.9h0M399.9 301.1h0M398.7 326.7h0M398.6 324.5h0M401.5 316.6h0M401.1 322.9h0M395.8 293.6h0M401.6 318.9h0M397.2 326.0h0M383.9 286.8h0M399.4 309.9h0M401.3 326.8h0M382.1 327.4h0M399.2 312.7h0M396.6 299.0h0M396.2 317.6h0M396.7 310.6h0M377.8 299.7h0M395.6 321.4h0M394.4 315.3h0M397.8 323.3h0M376.6 285.5h0M390.0 326.3h0M386.3 323.1h0M400.1 326.3h0M395.0 287.5h0M401.1 313.9h0M397.8 311.4h0M386.2 255.4h0M393.2 251.7h0M399.7 319.7h0M382.2 269.1h0M391.1 325.4h0M371.6 282.4h0M395.0 322.4h0M399.6 317.6h0M400.9 324.0h0M392.0 288.1h0M401.6 323.5h0M394.6 322.8h0M387.4 319.8h0M386.3 327.2h0M400.6 310.1h0M389.5 319.1h0M383.0 268.9h0M398.3 318.2h0M389.4 319.7h0M364.6 286.0h0M399.3 284.2h0M394.0 298.0h0M394.2 314.3h0M398.9 324.6h0M401.6 323.4h0M366.0 297.9h0M396.7 269.5h0M391.9 325.8h0M399.1 320.7h0M398.8 326.6h0M400.3 316.3h0M399.6 323.7h0M396.0 325.2h0M397.2 241.8h0M397.0 326.0h0M397.3 309.7h0M399.2 321.4h0M393.5 268.7h0M373.1 314.2h0M392.7 321.8h0M397.7 325.1h0M392.4 323.1h0M397.9 320.9h0M393.6 318.1h0M397.8 312.8h0M399.7 326.9h0M387.8 278.4h0M397.7 323.0h0M395.4 288.6h0M398.9 282.0h0M398.4 314.5h0M374.0 311.9h0M374.2 304.8h0M359.7 232.2h0M392.6 318.0h0M397.5 321.5h0M392.7 316.4h0M391.1 324.3h0M389.0 282.2h0M401.3 310.5h0M391.3 321.7h0M401.0 311.1h0M398.1 303.7h0M385.6 303.4h0M387.0 306.8h0M389.2 326.2h0M393.2 296.1h0M400.5 327.2h0M395.6 305.3h0M374.3 314.7h0M399.5 295.1h0M387.8 325.7h0M393.7 313.4h0M391.3 323.8h0M399.0 318.0h0M400.6 321.9h0M397.3 320.7h0M398.5 325.4h0M399.8 324.5h0M399.4 295.9h0M400.3 310.2h0M401.2 313.1h0M401.2 306.4h0M394.9 321.2h0M399.0 308.9h0M393.0 326.1h0M383.4 322.8h0M384.0 312.1h0M392.8 309.1h0M398.7 322.6h0M391.6 317.5h0M395.8 317.1h0M376.8 295.0h0M401.1 316.3h0M384.3 249.1h0M400.2 312.9h0M390.7 314.8h0M369.8 313.8h0M399.3 327.0h0M388.6 292.6h0M396.3 318.8h0M384.4 309.7h0M394.6 303.1h0M391.9 323.7h0M397.9 311.3h0M389.2 292.0h0M401.5 314.1h0M396.2 321.6h0M396.3 319.5h0M398.0 320.3h0M389.5 318.8h0M386.8 287.0h0M396.6 305.7h0M390.1 320.8h0M397.1 322.2h0M377.6 256.9h0M399.5 319.8h0M401.0 324.5h0M376.3 273.4h0M401.2 322.5h0M398.5 289.5h0M387.5 314.8h0M396.8 321.0h0M401.1 327.1h0M386.7 324.3h0M389.8 327.2h0M399.2 282.9h0M374.0 322.9h0M376.8 308.0h0M398.0 322.6h0M401.4 326.5h0M400.3 307.2h0M398.9 285.3h0M401.2 306.2h0M401.4 290.6h0M389.9 300.8h0M397.1 324.0h0M399.3 263.6h0M394.4 280.1h0M401.4 317.6h0M394.9 312.0h0M386.7 322.6h0M378.1 309.5h0M400.8 282.4h0M388.8 286.5h0M365.9 307.7h0M389.4 298.2h0M399.5 321.6h0M378.5 325.1h0M398.4 325.0h0M377.3 272.0h0M389.0 322.6h0M400.5 314.3h0M398.7 327.2h0M394.1 321.6h0M400.4 304.8h0M386.8 309.1h0M381.9 236.7h0M395.7 326.7h0M400.9 233.7h0M396.9 322.0h0M372.4 327.0h0M398.9 326.8h0M400.4 321.8h0M380.5 304.3h0M385.6 282.0h0M400.8 327.4h0M382.6 322.6h0M398.9 298.2h0M400.1 321.2h0M392.3 306.6h0M399.0 326.1h0M392.5 314.9h0M393.3 314.0h0M400.7 322.1h0M401.6 326.1h0M373.3 297.0h0M397.5 323.0h0M400.3 298.9h0M382.7 296.4h0M396.4 322.0h0M401.2 323.6h0M385.0 313.7h0M384.7 306.9h0M370.3 296.2h0M400.6 319.7h0M387.0 256.2h0M383.7 304.4h0M379.3 261.0h0M372.4 322.2h0M398.5 306.0h0M389.1 321.9h0M395.2 314.0h0M382.4 305.2h0M400.9 324.8h0M396.3 326.2h0M396.2 321.2h0M395.4 322.7h0M400.1 318.3h0M392.3 319.5h0M392.5 321.6h0M390.5 302.0h0M394.0 309.4h0M394.1 313.8h0M399.8 324.9h0M391.5 232.2h0M391.4 323.7h0M397.8 326.7h0M396.2 294.9h0M390.0 311.5h0M375.8 323.2h0M397.9 292.2h0M397.3 306.3h0" stroke="#0000ff" stroke-opacity="0.18" stroke-width="2.2" stroke-linecap="round" fill="none"/>
<path d="M398.5 325.1h0M400.1 323.8h0M401.0 326.8h0M392.6 323.1h0M390.4 254.6h0M388.1 284.4h0M390.5 325.3h0M390.6 306.8h0M390.8 324.5h0M385.2 313.5h0M391.8 325.4h0M386.1 308.2h0M396.3 298.3h0M393.6 263.1h0M388.6 322.2h0M400.5 319.6h0M399.0 316.4h0M388.4 306.4h0M401.6 324.4h0M401.3 319.3h0M396.4 229.4h0M395.2 278.0h0M392.4 296.4h0M393.5 302.4h0M387.9 286.7h0M395.6 319.2h0M391.9 313.8h0M391.1 325.1h0M396.6 320.8h0M401.0 315.1h0M399.1 316.0h0M387.3 318.9h0M392.0 286.5h0M362.1 239.1h0M395.3 314.8h0M391.6 305.3h0M388.7 326.9h0M387.6 304.5h0M395.1 310.8h0M398.1 324.2h0M390.0 326.5h0M399.1 314.5h0M392.5 327.0h0M400.7 317.6h0M369.9 318.6h0M400.7 317.9h0M396.4 296.3h0M400.0 320.0h0M401.2 326.3h0M398.8 315.4h0M394.3 303.3h0M393.8 322.4h0M369.7 294.0h0M393.4 318.8h0M393.5 316.4h0M389.3 326.0h0M400.0 309.9h0M401.6 323.0h0M391.3 309.7h0M398.4 325.9h0M384.7 233.2h0M389.6 278.1h0M397.1 308.8h0M395.2 303.7h0M399.3 320.3h0M389.6 321.9h0M398.9 312.9h0M398.2 322.3h0M399.8 313.1h0M396.2 303.8h0M397.0 278.9h0M396.6 326.1h0M396.7 288.2h0M399.2 322.8h0M399.5 323.1h0M389.4 327.1h0M399.0 316.7h0M396.0 307.0h0M399.8 316.9h0M388.8 309.3h0M396.7 295.6h0M393.0 303.8h0M395.2 311.2h0M393.3 324.3h0M396.9 262.6h0M391.5 298.7h0M398.5 303.6h0M376.7 295.1h0M391.8 296.2h0M392.1 316.3h0M388.8 324.8h0M399.6 325.9h0M394.7 280.4h0M390.0 307.2h0M395.8 307.8h0M401.5 325.5h0M390.3 314.3h0M397.8 307.2h0M400.5 319.1h0M372.7 262.4h0M389.8 280.1h0M395.8 325.6h0M397.9 294.7h0M386.2 320.3h0M396.0 326.9h0M399.8 323.7h0M385.0 290.5h0M398.3 323.9h0M398.4 314.2h0M387.0 273.3h0M397.7 320.5h0M396.2 307.5h0M380.9 270.1h0M399.5 326.2h0M393.1 317.0h0M388.4 297.6h0M394.8 241.8h0M377.5 271.1h0M377.5 316.5h0M399.7 314.7h0M397.6 281.4h0M391.0 326.5h0M397.1 324.0h0M383.2 323.4h0M398.2 317.0h0M393.6 252.4h0M392.9 291.1h0M391.3 312.1h0M401.6 327.2h0M393.1 324.0h0M394.1 309.1h0M374.3 315.8h0M394.8 314.2h0M389.6 287.9h0M394.6 324.3h0M399.3 320.1h0M388.3 325.3h0M395.1 299.6h0M393.5 325.6h0M397.1 317.6h0M375.5 285.8h0M397.4 326.0h0M399.9 326.1h0M392.0 322.7h0M391.2 312.5h0M397.5 323.6h0M389.3 289.2h0M397.7 270.6h0M399.9 282.8h0M384.9 293.2h0M358.8 269.0h0M399.7 322.6h0M400.1 325.6h0M389.1 323.6h0M401.1 321.3h0M397.2 326.7h0M383.1 321.3h0M401.2 324.4h0M377.9 293.5h0M390.6 299.8h0M401.0 325.4h0M397.2 312.0h0M398.1 326.5h0M400.2 325.2h0M397.6 318.0h0M392.7 243.0h0M401.6 289.6h0M392.1 313.6h0M393.1 275.5h0M387.2 326.9h0M401.0 326.6h0M385.0 326.7h0M401.2 326.1h0M394.3 305.2h0M396.4 291.9h0M390.5 320.0h0M391.9 243.3h0M376.5 310.3h0M400.6 279.5h0M385.3 267.7h0M382.8 315.0h0M394.2 311.6h0M397.7 320.6h0M397.9 315.5h0M396.8 321.3h0M376.9 273.5h0M388.4 318.5h0M395.0 326.4h0M387.6 304.2h0M387.2 303.6h0M386.8 322.9h0M401.5 321.4h0M387.1 320.9h0M392.8 297.3h0M400.4 325.3h0M398.8 323.3h0M389.6 312.7h0M400.5 312.6h0M400.5 323.6h0M401.5 312.5h0M397.4 327.1h0M400.5 302.4h0M394.7 322.7h0M401.4 325.3h0M401.2 314.6h0M399.5 323.1h0M395.8 247.0h0M380.6 305.9h0M397.5 325.9h0M390.6 312.0h0M401.6 318.5h0M392.3 327.0h0M399.4 327.0h0M391.7 320.5h0M395.0 327.4h0M401.1 318.7h0M396.3 315.7h0M401.2 296.5h0M371.6 265.7h0M399.8 326.0h0M396.0 321.1h0M398.9 324.8h0M385.4 259.9h0M391.3 315.3h0M396.8 322.7h0M397.0 314.0h0M398.6 290.3h0M396.0 322.2h0M399.9 296.5h0M399.0 327.2h0M396.4 315.8h0M377.4 304.0h0M396.9 323.9h0M393.7 326.1h0M397.9 320.0h0M393.3 324.6h0M388.7 303.2h0M399.9 313.6h0M377.1 324.9h0M395.0 323.2h0M381.6 321.0h0M397.7 320.5h0M386.9 324.0h0M382.0 312.1h0M373.6 317.1h0M401.0 319.8h0M393.7 317.1h0M378.4 321.4h0M392.1 298.2h0M393.4 326.1h0M386.5 327.0h0M389.7 312.1h0M382.1 260.2h0M388.5 323.7h0M385.0 306.6h0M401.6 326.3h0M395.0 325.5h0M400.6 308.2h0M398.0 326.2h0M386.1 322.1h0M386.7 304.7h0M396.1 327.2h0M401.6 326.8h0M398.9 322.7h0M397.0 324.7h0M397.1 304.5h0M392.2 318.1h0M389.3 320.0h0M398.0 280.1h0M397.9 324.4h0M387.7 324.9h0M395.6 308.2h0M393.8 326.1h0M391.4 326.3h0M396.8 321.5h0M390.7 296.3h0M390.4 282.2h0M386.1 326.8h0M392.5 325.9h0M400.1 319.6h0M393.3 297.4h0" stroke="#0000ff" stroke-opacity="0.18" stroke-width="2.2" stroke-linecap="round" fill="none"/>
<path d="M382.4 323.2h0M392.8 321.9h0M396.6 312.6h0M401.2 326.5h0M391.1 317.6h0M380.2 323.7h0M400.2 311.0h0M396.8 319.4h0M401.4 316.6h0M398.0 316.7h0M392.2 325.8h0M384.7 239.8h0M399.0 316.9h0M362.5 303.6h0M401.0 327.1h0M388.0 309.8h0M395.5 299.9h0M371.6 243.8h0M400.6 312.1h0M398.1 315.4h0M399.3 313.6h0M396.8 312.5h0M391.7 323.5h0M395.5 325.8h0M398.3 325.8h0M393.0 323.4h0M397.1 317.7h0M396.0 308.7h0M372.5 309.9h0M396.6 281.9h0M398.8 319.7h0M386.6 267.1h0M400.3 320.6h0M398.2 318.4h0M401.2 301.0h0M401.5 302.5h0M393.8 323.4h0M399.9 309.7h0M388.5 298.5h0M399.0 306.3h0M388.2 325.8h0M385.3 311.9h0M399.8 322.0h0M399.4 321.5h0M380.4 249.4h0M386.8 326.9h0M383.7 314.2h0M387.0 306.8h0M398.0 290.3h0M400.4 327.3h0M380.1 287.0h0M389.2 286.1h0M391.7 308.3h0M396.6 323.6h0M394.7 261.9h0M378.5 303.3h0M374.1 268.1h0M395.6 323.9h0M392.9 320.7h0M395.0 317.0h0M383.0 241.8h0M392.8 308.3h0M395.9 305.7h0M386.3 268.6h0M393.2 320.2h0M394.7 326.5h0M392.1 313.0h0M380.3 289.6h0M394.9 283.7h0M392.8 317.9h0M387.2 308.2h0M387.1 237.3h0M397.5 317.2h0M392.7 324.2h0M381.3 307.9h0M398.7 326.8h0M399.4 325.3h0M400.4 295.9h0M397.7 316.8h0M401.6 320.0h0M397.6 323.7h0M399.2 324.6h0M388.1 319.5h0M396.3 324.5h0M396.4 326.0h0M399.7 324.0h0M392.1 314.0h0M382.3 313.1h0M376.3 320.2h0M400.3 300.5h0M399.4 321.1h0M387.2 325.0h0M397.3 323.4h0M395.1 307.8h0M396.4 316.6h0M382.3 323.2h0M370.1 262.6h0M376.3 295.2h0M400.7 318.3h0M398.6 306.5h0M398.9 314.5h0M398.4 325.3h0M386.8 277.5h0M397.7 322.7h0M393.2 289.4h0M395.1 317.9h0M392.2 316.0h0M400.1 286.7h0M372.2 318.1h0M399.8 311.5h0M378.3 313.0h0M400.5 326.3h0M388.3 319.0h0M397.6 327.3h0M389.4 252.9h0M398.0 324.0h0M367.8 278.6h0M380.6 257.7h0M401.2 315.6h0M399.4 322.0h0M365.1 311.2h0M398.9 252.7h0M388.2 322.8h0M387.6 326.7h0M398.4 326.0h0M397.7 286.5h0M375.4 323.7h0M400.9 326.6h0M400.7 320.4h0M385.2 308.2h0M400.5 310.5h0M393.6 313.6h0M380.3 320.3h0M393.4 304.5h0M394.8 313.0h0M371.1 239.1h0M398.7 322.0h0M393.6 316.4h0M397.9 324.1h0M395.5 318.4h0M390.3 318.0h0M385.5 313.8h0M397.1 312.9h0M390.8 274.2h0M399.4 292.9h0M388.5 315.7h0M394.2 327.4h0M377.3 240.6h0M396.6 322.4h0M391.9 316.9h0M393.4 316.0h0M386.9 326.1h0M398.9 317.9h0M377.7 322.3h0M382.8 326.9h0M397.3 319.0h0M380.0 286.2h0M398.0 320.3h0M382.0 308.3h0M395.9 284.5h0M396.5 323.2h0M386.4 326.1h0M395.6 316.4h0M390.6 321.2h0M366.3 278.0h0M387.1 277.5h0M389.3 319.8h0M391.9 284.9h0M363.0 294.2h0M392.0 323.3h0M392.0 255.6h0M376.2 322.3h0M397.5 274.4h0M384.8 321.3h0M400.6 315.8h0M400.0 320.9h0M392.3 310.0h0M394.7 319.6h0M396.4 316.1h0M396.6 299.0h0M395.2 325.0h0M394.4 301.5h0M397.2 318.1h0M384.0 320.0h0M382.2 321.9h0M400.1 318.2h0M371.5 320.1h0M393.6 307.4h0M382.2 315.5h0M401.3 319.8h0M399.3 228.6h0M388.6 327.0h0M387.5 295.4h0M394.2 313.8h0M393.3 273.6h0M393.1 327.4h0M393.6 306.8h0M383.7 285.1h0M390.0 322.6h0M399.7 299.7h0M401.0 316.9h0M390.8 327.4h0M386.5 291.5h0M383.3 319.6h0M379.9 255.7h0M400.6 323.3h0M394.9 315.2h0M400.6 322.6h0M392.6 323.0h0M395.1 278.5h0M396.7 307.4h0M397.6 320.8h0M386.0 320.4h0M387.4 269.2h0M384.5 298.1h0M400.0 309.6h0M398.6 319.9h0M394.3 305.0h0M398.1 317.4h0M397.8 318.9h0M382.7 314.6h0M395.8 326.6h0M380.1 325.5h0M401.0 315.3h0M392.2 308.1h0M401.3 315.2h0M364.1 246.6h0M395.5 314.6h0M387.3 281.9h0M370.7 289.1h0M385.8 268.8h0M383.6 316.3h0M397.3 287.2h0M398.2 278.3h0M378.1 304.8h0M399.8 288.3h0M392.5 273.8h0M390.2 321.7h0M397.2 318.5h0M374.5 318.8h0M391.0 248.9h0M380.3 301.1h0M392.7 325.4h0M398.6 318.8h0M390.3 306.5h0M392.3 303.0h0M398.7 292.3h0M371.6 322.6h0M392.4 313.9h0M400.8 314.9h0M398.2 317.3h0M399.3 303.4h0M395.3 322.2h0M395.3 315.6h0M396.0 316.1h0M393.4 316.3h0M385.9 318.2h0M386.6 293.9h0M382.4 319.1h0M400.9 325.4h0M397.7 264.8h0M397.1 322.5h0M366.3 318.4h0M397.2 326.2h0M393.5 304.5h0M387.4 322.1h0M398.7 326.1h0M393.9 319.9h0M394.2 322.0h0M401.0 316.5h0M398.5 323.3h0M384.5 323.9h0M368.5 320.4h0M398.3 301.2h0M389.6 319.4h0M385.6 325.2h0M398.7 318.1h0M400.9 326.8h0M390.0 251.0h0M393.7 309.1h0M391.4 301.4h0" stroke="#0000ff" stroke-opacity="0.18" stroke-width="2.2" stroke-linecap="round" fill="none"/>
<path d="M397.1 326.8h0M391.9 280.2h0M393.6 326.0h0M395.2 315.8h0M400.5 313.5h0M401.5 301.1h0M394.3 320.0h0M398.4 316.7h0M395.6 315.8h0M392.1 274.3h0M397.2 313.4h0M391.5 306.7h0M393.6 326.1h0M400.0 313.3h0M388.2 323.5h0M391.4 309.8h0M395.1 318.3h0M396.1 311.9h0M387.7 312.4h0M399.8 317.9h0M398.3 325.6h0M390.8 324.9h0M398.5 297.6h0M382.6 321.2h0M396.8 313.6h0M368.8 319.9h0M389.2 319.5h0M390.8 323.4h0M395.8 323.7h0M398.6 323.2h0M392.7 323.6h0M363.1 265.3h0M398.7 318.3h0M387.8 313.2h0M370.2 237.9h0M397.4 297.8h0M398.8 318.3h0M399.6 312.1h0M384.6 312.9h0M397.3 326.4h0M399.5 321.4h0M390.3 322.2h0M378.7 316.2h0M397.5 319.9h0M395.4 325.1h0M398.9 326.8h0M399.7 308.1h0M392.9 318.0h0M400.6 305.5h0M397.6 313.8h0M400.5 326.2h0M401.3 318.7h0M379.3 267.0h0M398.2 327.4h0M395.3 324.9h0M382.6 283.0h0M397.2 324.8h0M380.0 324.0h0M394.3 319.0h0M363.5 307.6h0M379.6 325.8h0M392.1 323.6h0M382.1 326.4h0M399.5 312.8h0M398.5 290.4h0M362.4 293.6h0M399.3 313.0h0M393.4 325.5h0M394.0 321.3h0M392.5 295.6h0M394.9 258.1h0M394.9 326.7h0M396.2 314.8h0M387.8 299.2h0M392.8 324.4h0M397.4 274.5h0M397.1 319.0h0M400.5 248.6h0M399.0 303.9h0M396.4 316.6h0M388.6 322.0h0M360.5 295.4h0M395.3 314.8h0M401.2 326.9h0M396.8 324.0h0M397.7 327.3h0M398.9 321.2h0M395.6 308.0h0M392.4 323.2h0M399.4 304.9h0M400.1 316.9h0M399.0 281.8h0M375.6 300.4h0M393.7 309.2h0M400.1 315.8h0M390.9 325.3h0M393.9 320.0h0M391.0 325.7h0M391.9 326.5h0M398.0 293.5h0M390.1 325.1h0M386.1 240.9h0M373.7 311.6h0M399.5 286.2h0M401.4 315.9h0M393.3 311.9h0M392.7 280.3h0M400.4 326.1h0M382.8 289.6h0M381.7 309.0h0M397.8 322.4h0M392.8 324.6h0M398.3 296.2h0M392.6 308.7h0M396.6 325.8h0M398.1 314.2h0M374.4 319.5h0M380.1 301.8h0M394.7 301.0h0M396.1 321.5h0M383.9 323.9h0M393.9 319.3h0M392.4 327.5h0M379.6 298.3h0M391.6 324.2h0M389.4 301.6h0M389.4 289.5h0M400.7 308.3h0M394.4 318.9h0M385.7 315.5h0M400.1 323.9h0M382.9 283.5h0M397.3 322.6h0M396.8 305.4h0M396.4 319.4h0M395.3 311.1h0M392.8 321.0h0M392.6 327.4h0M387.1 291.0h0M391.3 308.4h0M391.1 309.0h0M378.1 275.5h0M387.5 317.2h0M365.2 260.5h0M400.0 319.1h0M391.2 322.1h0M401.4 291.8h0M398.6 312.1h0M389.9 319.7h0M398.9 294.3h0M375.2 232.9h0M375.7 288.7h0M394.5 320.0h0M390.1 325.4h0M397.9 263.0h0M396.3 323.4h0M395.9 304.4h0M385.9 303.7h0M394.0 310.0h0M395.6 272.1h0M401.1 314.8h0M396.3 313.4h0M388.3 326.0h0M389.6 320.1h0M401.5 323.0h0M363.1 302.5h0M394.1 313.5h0M386.2 321.3h0M398.5 310.6h0M398.2 323.6h0M383.6 325.1h0M389.2 315.1h0M400.7 316.0h0M400.8 318.4h0M397.0 321.4h0M392.1 280.3h0M388.6 298.4h0M397.5 321.7h0M392.3 307.2h0M393.3 321.5h0M399.2 321.1h0M392.5 323.9h0M376.8 321.5h0M399.1 297.5h0M399.2 321.4h0M380.4 321.5h0M390.8 319.1h0M393.8 323.5h0M393.9 308.5h0M374.8 324.4h0M397.6 311.6h0M397.2 241.7h0M392.1 325.1h0M379.9 265.8h0M380.9 255.8h0M397.6 318.8h0M387.8 324.4h0M387.9 316.0h0M392.3 325.3h0M390.9 324.1h0M400.5 325.8h0M397.6 326.8h0M390.2 287.0h0M398.3 325.5h0M388.4 313.1h0M392.7 326.5h0M387.4 323.4h0M399.7 304.4h0M394.6 305.0h0M396.7 315.8h0M397.6 312.0h0M386.2 325.7h0M389.0 316.5h0M391.5 317.9h0M400.4 319.6h0M396.6 315.8h0M399.6 307.0h0M391.5 320.8h0M391.9 318.8h0M395.3 305.6h0M387.6 316.2h0M393.0 322.1h0M387.7 293.3h0M383.0 304.5h0M398.4 314.5h0M395.7 323.2h0M395.4 319.0h0M392.4 312.4h0M391.5 317.7h0M396.0 325.0h0M395.2 323.1h0M392.3 296.3h0M392.9 316.8h0M386.3 293.0h0M395.7 309.4h0M385.8 299.1h0M385.3 270.2h0M392.6 322.3h0M389.7 320.2h0M393.1 287.5h0M396.5 317.7h0M391.3 320.2h0M391.0 327.0h0M401.3 325.2h0M397.4 324.1h0M398.9 323.9h0M398.9 318.8h0M400.7 301.2h0M397.3 293.1h0M368.4 318.6h0M394.8 325.9h0M401.2 315.4h0M395.6 325.8h0M390.3 299.1h0M399.7 325.3h0M395.5 296.6h0M400.2 322.4h0M400.4 293.8h0M399.6 283.1h0M399.7 293.9h0M398.1 286.0h0M382.9 322.1h0M384.6 326.9h0M398.9 326.6h0M399.1 311.9h0M400.6 321.3h0M373.1 326.1h0M379.0 322.5h0M383.8 306.0h0M396.0 324.7h0M388.9 316.6h0M393.8 321.5h0M401.2 304.8h0M397.3 310.4h0M400.4 299.4h0M384.7 327.2h0M386.3 320.5h0M399.2 323.2h0M401.5 319.0h0M401.3 322.4h0M401.4 274.4h0" stroke="#0000ff" stroke-opacity="0.18" stroke-width="2.2" stroke-linecap="round" fill="none"/>
<path d="M400.0 327.2h0M400.2 301.1h0M398.0 321.5h0M382.1 320.3h0M400.1 318.5h0M383.3 294.5h0M400.8 299.0h0M399.3 307.5h0M396.2 322.5h0M382.5 295.3h0M380.4 310.4h0M394.5 326.7h0M395.1 308.5h0M401.0 308.0h0M400.3 307.4h0M363.7 300.8h0M391.8 301.6h0M385.4 325.6h0M374.2 295.9h0M392.5 319.2h0M394.8 318.7h0M386.4 298.4h0M395.1 316.0h0M387.9 314.9h0M380.3 326.8h0M387.0 310.9h0M387.5 290.5h0M401.2 323.5h0M396.9 323.6h0M398.5 326.7h0M378.6 322.0h0M391.0 323.8h0M397.2 324.1h0M393.5 295.0h0M391.7 324.7h0M379.4 306.1h0M396.2 320.7h0M399.7 318.8h0M372.5 320.7h0M395.7 319.3h0M401.4 266.7h0M395.8 322.4h0M384.8 322.6h0M381.7 321.7h0M398.6 326.8h0M401.3 320.0h0M392.0 326.5h0M380.0 243.9h0M399.5 309.7h0M394.0 326.1h0M395.0 324.3h0M383.9 257.2h0M396.4 324.7h0M391.5 308.1h0M386.3 281.8h0M388.3 325.8h0M399.1 305.6h0M389.7 324.4h0M381.1 259.2h0M387.8 326.5h0M398.5 315.8h0M397.8 324.0h0M391.2 313.0h0M398.8 321.4h0M396.2 292.1h0M391.2 310.5h0M400.9 307.8h0M396.1 323.0h0M386.6 267.0h0M389.8 313.3h0M392.2 324.6h0M396.5 283.0h0M384.4 325.2h0M400.0 304.1h0M398.4 277.3h0M357.7 292.1h0M374.9 253.5h0M401.3 325.5h0M391.1 312.0h0M401.1 320.0h0M390.7 309.7h0M394.4 312.0h0M393.3 266.5h0M397.1 295.0h0M377.8 290.8h0M398.6 320.6h0M399.3 316.8h0M385.5 253.9h0M386.3 310.3h0M395.1 324.3h0M381.3 322.9h0M379.9 319.5h0M388.6 315.1h0M398.1 224.8h0M401.2 311.8h0M384.3 326.4h0M397.5 322.2h0M401.4 327.2h0M396.3 327.3h0M392.5 247.3h0M399.2 320.8h0M401.0 327.1h0M397.7 324.1h0M394.7 325.7h0M387.6 310.4h0M398.3 314.4h0M381.1 315.2h0M392.1 317.4h0M397.0 314.1h0M397.9 324.2h0M394.6 313.9h0M396.4 290.6h0M395.2 317.0h0M401.0 310.7h0M389.0 318.3h0M398.2 317.6h0M381.9 301.8h0M387.6 313.4h0M384.7 246.7h0M393.1 322.0h0M377.6 299.7h0M392.0 326.8h0M366.2 226.0h0M377.8 323.2h0M395.2 287.9h0M400.8 317.6h0M399.2 250.8h0M397.0 281.4h0M394.9 298.9h0M395.1 277.3h0M400.3 326.6h0M368.7 316.9h0M388.3 325.4h0M395.3 320.2h0M386.5 293.3h0M385.9 320.3h0M394.7 270.0h0M397.3 325.7h0M401.6 313.0h0M374.0 307.3h0M401.6 323.9h0M399.5 318.7h0M394.3 316.7h0M396.2 326.7h0M393.3 310.3h0M398.2 308.0h0M387.2 308.0h0M397.8 324.0h0M400.5 327.0h0M401.4 321.7h0M398.0 316.4h0M399.6 320.7h0M396.1 294.0h0M395.3 327.2h0M396.1 317.9h0M399.5 312.5h0M383.8 320.8h0M391.8 322.7h0M394.0 316.4h0M385.5 262.7h0M397.8 228.8h0M401.1 323.4h0M397.2 326.8h0M393.8 326.5h0M401.6 322.8h0M372.8 323.5h0M397.7 307.0h0M388.0 310.9h0M387.5 322.4h0M398.4 296.0h0M400.0 316.6h0M399.5 324.7h0M358.0 240.2h0M395.1 310.1h0M379.6 265.4h0M395.3 316.4h0M396.6 313.4h0M385.3 310.3h0M386.1 324.7h0M388.5 263.6h0M395.8 322.8h0M390.4 320.4h0M397.9 313.9h0M388.8 291.6h0M374.7 319.9h0M393.3 320.1h0M389.2 319.9h0M394.8 316.2h0M398.2 263.3h0M393.6 326.0h0M400.1 325.7h0M399.9 317.2h0M378.3 311.3h0M400.7 307.2h0M393.4 322.7h0M384.6 312.9h0M386.1 317.7h0M398.0 308.9h0M399.8 261.2h0M392.0 298.5h0M382.5 318.0h0M390.8 307.0h0M389.8 311.8h0M397.6 314.9h0M400.2 310.8h0M394.0 280.1h0M392.1 318.9h0M396.9 310.0h0M396.3 326.2h0M391.8 322.6h0M400.7 324.5h0M399.7 320.3h0M393.8 326.9h0M381.8 309.0h0M387.5 321.2h0M394.9 323.3h0M391.8 326.9h0M374.5 323.0h0M397.2 314.0h0M395.1 271.4h0M393.6 285.6h0M389.3 326.8h0M389.6 261.2h0M392.0 305.1h0M372.0 291.6h0M398.4 294.2h0M396.1 321.1h0M377.3 232.6h0M385.9 326.6h0M393.9 324.9h0M399.6 318.3h0M375.0 288.8h0M396.8 278.7h0M395.9 325.1h0M394.2 319.2h0M389.1 322.4h0M386.9 317.2h0M401.6 325.3h0M394.8 303.3h0M394.6 302.1h0M373.3 300.4h0M397.9 318.5h0M388.6 305.6h0M401.4 287.3h0M396.0 321.7h0M397.7 319.1h0M393.2 313.4h0M396.0 323.4h0M400.5 320.4h0M400.5 303.8h0M399.4 326.7h0M400.9 306.3h0M395.8 317.0h0M390.7 302.3h0M396.7 321.2h0M398.3 313.8h0M380.8 252.0h0M388.8 321.7h0M393.6 263.3h0M397.3 326.4h0M395.3 305.0h0M398.1 314.9h0M398.9 312.6h0M401.6 310.8h0M392.7 305.8h0M400.9 323.4h0M401.5 314.9h0M400.1 323.9h0M400.8 318.6h0M392.9 322.0h0M395.6 275.9h0M390.9 295.5h0M395.9 317.8h0M393.8 249.9h0M389.3 325.1h0M401.4 295.3h0M389.4 317.0h0M391.8 280.2h0M392.3 324.8h0M390.1 294.0h0M390.5 324.1h0" stroke="#0000ff" stroke-opacity="0.18" stroke-width="2.2" stroke-linecap="round" fill="none"/>
<path d="M398.1 307.3h0M377.7 321.9h0M380.1 309.7h0M397.1 284.6h0M384.3 264.8h0M377.0 293.9h0M400.5 301.7h0M380.3 319.8h0M397.7 313.8h0M383.0 321.5h0M398.7 308.7h0M391.2 262.8h0M398.8 321.7h0M392.1 326.0h0M383.2 320.7h0M376.4 285.1h0M374.9 326.9h0M400.5 320.0h0M387.2 321.3h0M356.7 251.6h0M392.2 321.5h0M392.5 326.6h0M398.6 322.1h0M380.6 315.3h0M400.9 316.1h0M401.3 295.2h0M391.1 307.0h0M394.0 322.6h0M398.6 315.5h0M390.8 301.3h0M383.7 325.3h0M395.3 282.8h0M393.2 326.5h0M377.4 292.4h0M386.3 324.9h0M386.0 302.6h0M372.1 300.2h0M387.8 279.3h0M400.1 318.0h0M396.2 326.5h0M377.3 320.1h0M396.9 321.4h0M378.1 327.0h0M394.0 321.8h0M399.2 320.0h0M389.6 320.1h0M397.3 323.5h0M397.0 310.5h0M391.8 320.2h0M399.6 313.1h0M401.5 318.4h0M400.5 326.1h0M398.8 315.8h0M396.1 317.8h0M390.1 313.8h0M378.9 286.1h0M397.9 315.1h0M384.5 322.0h0M393.3 317.4h0M398.8 313.4h0M373.7 324.9h0M397.3 323.7h0M397.1 326.8h0M398.9 321.3h0M396.1 322.5h0M399.4 326.3h0M387.0 324.3h0M396.2 319.5h0M397.6 324.6h0M399.9 327.3h0M398.8 313.2h0M362.6 309.0h0M398.1 248.2h0M400.7 324.3h0M399.0 301.0h0M397.4 254.2h0M400.1 326.6h0M393.5 324.9h0M386.7 324.6h0M395.4 289.1h0M358.4 256.7h0M372.3 314.5h0M383.1 316.9h0M391.2 320.7h0M379.3 313.2h0M382.9 306.6h0M399.4 311.3h0M398.4 311.6h0M395.7 303.0h0M392.0 312.8h0M398.2 308.3h0M380.0 311.6h0M389.6 308.3h0M400.7 322.1h0M382.3 318.5h0M392.0 320.2h0M393.3 304.9h0M392.0 326.3h0M385.5 307.8h0M382.3 323.6h0M393.8 306.2h0M391.0 314.9h0M388.4 326.0h0M398.3 317.4h0M401.4 317.4h0M389.8 325.0h0M395.1 324.8h0M398.0 317.5h0M378.8 306.3h0M398.2 322.0h0M396.5 325.8h0M393.9 316.5h0M401.3 326.9h0M388.9 292.5h0M401.0 294.2h0M395.2 301.5h0M380.1 324.9h0M389.8 312.4h0M400.7 301.9h0M393.9 318.8h0M383.5 320.3h0M368.6 312.6h0M399.2 326.2h0M358.5 232.0h0M396.7 319.1h0M370.9 323.8h0M397.3 325.8h0M382.8 326.2h0M392.9 305.5h0M392.4 280.3h0M396.8 304.4h0M401.1 327.3h0M389.7 327.4h0M400.6 324.6h0M374.7 327.3h0M397.5 309.6h0M390.3 297.0h0M395.0 320.3h0M399.7 325.7h0M401.0 315.7h0M383.2 325.9h0M399.7 311.6h0M395.2 298.6h0M399.2 316.8h0M381.2 326.2h0M401.2 297.5h0M398.2 303.7h0M377.4 309.7h0M381.7 251.2h0M383.6 325.3h0M385.5 319.5h0M391.0 325.0h0M392.6 302.7h0M393.1 325.4h0M399.0 325.8h0M399.6 316.7h0M401.1 326.8h0M373.4 293.6h0M400.2 316.9h0M381.0 323.7h0M397.0 309.3h0M399.2 325.4h0M384.0 308.5h0M399.9 323.7h0M389.0 324.9h0M382.2 310.1h0M391.4 320.1h0M393.2 285.4h0M401.1 319.1h0M393.7 322.7h0M383.6 327.5h0M398.6 309.7h0M393.6 297.3h0M394.3 287.9h0M398.4 324.6h0M382.1 311.5h0M392.3 245.5h0M396.3 320.7h0M396.9 301.1h0M389.3 295.9h0M395.9 319.1h0M398.2 325.8h0M400.2 305.9h0M394.1 319.5h0M397.2 327.4h0M382.7 296.8h0M387.1 313.1h0M394.5 301.2h0M388.8 310.1h0M385.2 321.7h0M384.8 293.7h0M401.6 326.0h0M399.7 277.0h0M397.1 321.8h0M395.1 324.3h0M373.7 324.3h0M401.1 322.3h0M399.8 326.3h0M393.9 309.9h0M396.0 322.9h0M396.8 318.3h0M385.6 309.1h0M396.9 302.4h0M400.5 320.5h0M400.2 322.9h0M375.7 320.3h0M399.4 323.4h0M392.3 324.8h0M394.4 326.5h0M393.3 326.4h0M399.6 318.9h0M401.0 326.0h0M400.9 320.4h0M401.1 297.7h0M400.0 323.5h0M391.4 310.6h0M395.3 323.1h0M399.7 327.4h0M369.1 320.4h0M380.7 316.1h0M386.0 233.2h0M397.6 323.7h0M390.3 294.0h0M398.7 282.5h0M400.4 317.1h0M400.9 316.0h0M392.9 316.1h0M400.3 247.7h0M390.0 323.4h0M401.6 323.3h0M396.9 324.3h0M397.2 325.8h0M394.0 299.7h0M384.4 322.5h0M383.6 279.5h0M395.5 302.6h0M371.2 276.4h0M388.9 305.1h0M399.0 320.5h0M390.5 325.6h0M396.7 325.5h0M376.6 323.5h0M393.2 307.4h0M379.4 282.6h0M392.7 323.9h0M378.0 319.2h0M386.9 324.9h0M372.5 226.1h0M399.8 325.6h0M392.9 311.4h0M398.8 234.1h0M400.4 319.3h0M400.2 324.3h0M397.9 322.5h0M378.0 266.8h0M383.7 326.8h0M399.6 316.9h0M401.3 315.6h0M384.0 260.8h0M398.2 317.9h0M392.2 318.3h0M397.4 326.6h0M384.6 304.6h0M376.4 311.9h0M375.8 311.0h0M373.1 320.8h0M396.1 326.2h0M397.3 321.5h0M383.9 323.1h0M396.3 326.9h0M389.3 323.5h0M396.9 311.0h0M390.2 311.8h0M395.1 307.5h0M396.1 322.6h0M368.1 266.1h0M396.5 323.6h0M384.3 313.6h0M396.9 317.9h0M387.9 316.2h0" stroke="#0000ff" stroke-opacity="0.18" stroke-width="2.2" stroke-linecap="round" fill="none"/>
<path d="M448.0 324.5h0M422.8 269.3h0M414.4 309.0h0M417.8 260.3h0M423.4 325.1h0M420.7 249.5h0M419.0 326.9h0M418.4 319.5h0M422.6 327.5h0M416.9 298.3h0M421.7 323.9h0M418.3 312.6h0M416.9 314.7h0M421.0 324.4h0M421.3 327.2h0M416.1 326.4h0M420.5 310.7h0M416.7 317.9h0M413.6 320.6h0M426.2 323.4h0M424.8 321.0h0M419.1 326.8h0M422.7 327.5h0M413.2 326.8h0M434.1 268.1h0M432.7 270.7h0M414.5 316.0h0M447.1 327.4h0M427.0 322.7h0M413.1 326.4h0M422.4 291.1h0M452.8 235.8h0M414.0 326.7h0M426.6 326.1h0M414.0 316.1h0M432.2 316.9h0M416.3 327.1h0M415.2 319.7h0M417.2 321.2h0M415.7 312.3h0M420.2 305.6h0M412.8 301.7h0M415.3 319.2h0M423.6 327.1h0M415.7 317.7h0M413.8 325.6h0M415.9 325.9h0M416.5 324.9h0M426.9 321.2h0M413.0 326.9h0M420.2 291.1h0M426.1 311.6h0M413.4 325.7h0M429.8 295.6h0M417.3 327.0h0M429.7 314.0h0M429.6 309.4h0M413.5 327.2h0M413.1 318.2h0M419.6 321.9h0M436.0 274.3h0M413.0 326.9h0M417.0 306.1h0M421.3 324.1h0M421.3 307.5h0M418.1 319.7h0M415.9 289.1h0M420.8 310.6h0M417.8 327.1h0M423.7 312.5h0M435.0 323.5h0M417.7 280.7h0M413.4 327.2h0M419.5 298.6h0M426.5 321.7h0M416.9 324.8h0M418.6 322.4h0M432.2 239.2h0M414.4 325.9h0M418.0 319.9h0M415.0 323.1h0M422.8 322.0h0M434.0 270.5h0M413.1 309.2h0M425.0 300.8h0M418.5 322.6h0M437.0 325.1h0M416.4 321.6h0M417.4 315.2h0M435.3 306.8h0M428.3 324.6h0M422.1 292.8h0M426.8 326.6h0M443.4 245.9h0M414.8 325.7h0M416.6 303.8h0M420.1 325.5h0M412.9 327.0h0M414.2 316.7h0M417.9 257.8h0M417.7 316.4h0M420.1 289.8h0M422.2 318.0h0M415.9 320.1h0M418.1 322.7h0M413.9 315.6h0M427.7 305.8h0M418.8 311.3h0M418.8 326.3h0M419.8 317.4h0M442.4 326.8h0M424.6 316.0h0M424.6 285.5h0M423.3 290.7h0M420.2 301.5h0M412.8 313.2h0M418.6 327.2h0M414.9 301.3h0M421.6 326.1h0M417.6 321.5h0M428.0 298.7h0M413.6 325.6h0M416.5 316.1h0M424.2 294.9h0M418.7 310.7h0M417.4 322.3h0M419.9 256.9h0M446.3 301.5h0M422.9 246.1h0M426.7 320.3h0M427.7 314.9h0M415.4 318.7h0M439.1 236.5h0M422.9 326.2h0M420.4 321.1h0M425.4 325.3h0M440.8 319.2h0M415.2 310.5h0M431.5 325.4h0M415.2 314.5h0M415.4 325.6h0M413.7 302.6h0M421.8 325.9h0M419.6 317.8h0M426.4 327.3h0M414.4 313.0h0M438.0 312.8h0M412.9 324.8h0M442.2 322.3h0M445.0 306.7h0M412.9 320.3h0M418.0 296.4h0M414.4 318.6h0M413.9 313.5h0M414.8 315.1h0M419.6 311.7h0M430.4 313.9h0M429.5 319.6h0M414.1 327.0h0M413.3 309.1h0M424.3 283.0h0M429.2 326.4h0M423.9 318.5h0M414.1 325.4h0M414.8 318.0h0M418.1 296.3h0M417.5 299.4h0M414.0 303.2h0M420.3 322.0h0M427.2 297.0h0M443.9 299.4h0M415.3 319.2h0M423.6 299.0h0M413.7 290.7h0M427.2 309.8h0M424.6 322.9h0M424.7 314.2h0M418.5 321.6h0M423.1 227.8h0M418.9 322.0h0M416.3 305.7h0M424.9 316.4h0M415.3 312.5h0M413.2 325.8h0M416.2 325.7h0M437.7 309.1h0M419.3 316.4h0M414.1 326.4h0M416.3 307.2h0M415.3 316.0h0M416.7 234.8h0M451.2 308.4h0M413.6 324.8h0M428.5 323.4h0M438.0 313.6h0M418.0 311.3h0M430.7 321.5h0M426.6 265.1h0M436.8 326.2h0M439.1 326.5h0M413.9 324.1h0M422.7 305.5h0M419.1 317.7h0M413.7 320.9h0M414.9 295.1h0M420.6 323.5h0M418.0 322.0h0M417.5 327.1h0M422.0 323.1h0M414.8 321.4h0M421.7 307.9h0M415.0 303.3h0M417.4 309.8h0M432.1 317.7h0M415.9 323.0h0M413.9 323.4h0M422.9 310.2h0M416.9 325.6h0M415.1 299.1h0M417.3 304.6h0M417.4 320.8h0M416.3 319.8h0M420.2 321.1h0M429.8 309.1h0M413.2 321.9h0M423.9 324.8h0M413.5 320.3h0M420.5 280.5h0M419.3 291.1h0M444.8 320.9h0M416.0 315.1h0M424.1 273.9h0M413.6 326.9h0M417.7 325.9h0M416.1 324.2h0M415.6 324.7h0M413.4 324.8h0M428.5 321.3h0M415.9 321.8h0M413.6 321.3h0M413.8 318.4h0M424.8 323.0h0M416.6 315.9h0M451.1 307.4h0M418.1 325.4h0M416.9 275.9h0M429.5 325.2h0M424.9 310.1h0M433.8 319.2h0M424.9 297.6h0M414.9 304.9h0M415.7 325.6h0M421.6 302.4h0M413.9 326.9h0M435.9 310.6h0M418.4 237.4h0M418.9 314.3h0M413.5 311.7h0M421.1 305.9h0M419.8 316.1h0M417.5 322.4h0M413.1 326.5h0M423.4 315.3h0M414.7 308.7h0M414.7 319.6h0M434.2 323.2h0M423.5 321.8h0M437.3 312.1h0M440.9 249.9h0M414.3 314.5h0M413.3 314.5h0M415.9 321.4h0M413.9 324.3h0M413.2 319.7h0M414.4 311.0h0M416.3 320.4h0M424.4 310.0h0M422.1 321.1h0M417.6 317.5h0M413.0 300.3h0M424.6 312.9h0M414.0 326.4h0M416.4 324.8h0M422.2 291.9h0M422.0 308.5h0M415.7 326.3h0M413.0 317.5h0M416.2 310.1h0M430.8 324.5h0M416.9 310.3h0M426.1 296.1h0M424.3 269.0h0M426.8 325.7h0M439.1 320.6h0M433.2 313.0h0M422.3 322.3h0M424.6 316.2h0M425.5 311.4h0M415.8 325.5h0M416.8 291.3h0M416.4 325.9h0M419.3 311.2h0M414.8 319.8h0M430.0 299.1h0M415.1 322.7h0M435.1 311.9h0M422.0 279.4h0M436.6 322.7h0M427.9 243.3h0M431.8 267.0h0M422.2 228.8h0M417.2 303.0h0M417.6 305.1h0M413.5 322.6h0M426.5 313.5h0M420.5 241.5h0M415.7 315.3h0M413.1 314.4h0M419.2 316.8h0M413.9 310.5h0M425.9 326.0h0M412.9 318.7h0M415.3 311.7h0M419.9 316.9h0M424.3 301.9h0M441.8 325.9h0M412.8 317.4h0M418.2 317.4h0M422.2 302.1h0M413.7 319.3h0M423.7 312.1h0" stroke="#ff0000" stroke-opacity="0.16" stroke-width="2.2" stroke-linecap="round" fill="none"/>
<path d="M417.4 324.7h0M429.3 284.9h0M422.9 305.8h0M424.9 294.9h0M417.2 324.9h0M413.2 321.8h0M420.6 299.9h0M452.9 279.0h0M435.9 327.1h0M413.1 322.0h0M423.5 324.2h0M422.3 314.5h0M422.1 297.7h0M423.1 297.0h0M414.2 317.5h0M437.8 278.8h0M416.5 323.3h0M413.3 321.5h0M432.9 326.3h0M415.7 319.4h0M421.9 296.9h0M414.0 325.5h0M426.0 312.0h0M413.1 326.0h0M414.5 323.4h0M414.1 322.7h0M424.2 296.6h0M415.8 282.1h0M459.2 292.3h0M413.3 323.7h0M423.7 301.4h0M416.4 325.8h0M447.4 231.1h0M415.6 325.5h0M416.9 304.1h0M412.8 322.3h0M429.3 326.1h0M415.8 323.6h0M419.5 312.3h0M418.2 321.2h0M423.2 321.0h0M416.0 322.7h0M436.3 320.9h0M429.1 310.3h0M423.6 326.5h0M421.5 311.2h0M417.8 318.8h0M437.7 306.3h0M426.6 327.3h0M426.7 232.0h0M433.7 274.6h0M419.1 319.7h0M431.8 309.9h0M415.9 296.3h0M434.6 323.0h0M427.0 321.8h0M416.4 304.2h0M414.7 319.3h0M414.5 280.5h0M424.9 315.5h0M414.9 326.8h0M426.3 322.1h0M425.8 257.3h0M421.6 322.6h0M423.0 325.4h0M419.3 321.2h0M412.9 322.6h0M414.0 319.9h0M444.5 238.3h0M414.9 324.4h0M416.1 297.3h0M420.1 319.6h0M413.4 326.1h0M413.1 318.6h0M417.9 299.3h0M419.6 311.2h0M418.9 307.4h0M418.4 324.9h0M417.3 326.5h0M417.5 311.1h0M414.5 302.9h0M415.1 304.5h0M412.9 294.9h0M417.7 325.9h0M419.9 312.7h0M414.5 323.2h0M445.3 282.2h0M412.8 321.1h0M444.8 309.9h0M417.0 236.2h0M425.0 322.7h0M421.9 318.1h0M434.7 324.5h0M429.5 325.4h0M416.5 324.7h0M435.3 325.3h0M415.2 316.8h0M459.7 285.5h0M427.0 303.7h0M420.1 306.9h0M419.3 322.1h0M422.1 327.0h0M422.2 324.6h0M417.1 323.8h0M434.3 311.4h0M423.9 326.1h0M420.4 323.2h0M436.3 266.5h0M418.5 326.0h0M435.6 325.7h0M422.2 320.6h0M424.1 318.8h0M415.5 321.5h0M425.8 321.3h0M416.4 322.6h0M416.4 326.6h0M423.8 306.5h0M417.0 315.3h0M413.8 324.9h0M419.0 279.3h0M414.7 310.9h0M429.9 322.8h0M416.2 318.8h0M416.1 312.6h0M417.7 326.0h0M415.0 325.7h0M418.0 261.5h0M416.9 326.2h0M448.8 252.2h0M424.4 311.4h0M416.7 321.1h0M454.1 283.9h0M417.1 324.6h0M419.9 326.7h0M426.9 327.5h0M430.3 293.3h0M415.8 324.6h0M423.9 324.9h0M418.4 304.6h0M414.2 317.9h0M415.2 318.8h0M417.6 289.5h0M423.9 318.5h0M451.6 299.0h0M422.8 292.4h0M413.5 310.3h0M418.0 303.3h0M417.0 276.4h0M431.6 244.2h0M430.4 319.2h0M418.9 327.4h0M434.2 278.0h0M422.1 316.7h0M414.8 305.2h0M432.4 287.5h0M416.8 308.2h0M417.4 325.7h0M416.8 319.7h0M412.8 323.3h0M416.9 319.6h0M423.4 226.9h0M419.8 327.0h0M419.0 317.0h0M455.1 295.2h0M417.3 318.6h0M425.1 311.8h0M420.1 324.6h0M440.6 324.9h0M414.9 326.5h0M419.4 325.4h0M422.7 323.7h0M423.5 319.1h0M413.1 325.3h0M421.4 311.5h0M433.2 270.1h0M426.2 225.0h0M414.7 252.1h0M437.2 319.8h0M418.4 283.7h0M414.2 326.9h0M443.2 260.4h0M419.3 317.9h0M418.4 302.8h0M442.3 261.2h0M416.3 300.0h0M414.0 310.7h0M416.6 317.8h0M414.7 321.4h0M413.5 321.8h0M415.2 317.2h0M418.4 311.6h0M422.4 319.8h0M413.4 325.3h0M417.1 314.3h0M414.9 316.8h0M415.0 306.6h0M417.4 326.3h0M418.8 321.8h0M414.1 319.2h0M431.3 282.7h0M434.9 310.1h0M419.8 324.2h0M420.3 241.1h0M419.7 316.8h0M413.2 307.6h0M441.5 311.7h0M414.0 308.7h0M417.2 316.3h0M423.7 320.4h0M423.9 325.3h0M419.7 318.1h0M415.6 325.9h0M415.6 298.4h0M412.9 300.8h0M413.7 276.5h0M434.1 322.7h0M417.4 320.7h0M415.9 326.4h0M418.1 324.4h0M419.5 318.4h0M425.1 269.9h0M414.9 313.9h0M439.3 325.0h0M413.1 326.1h0M415.4 325.5h0M452.0 316.7h0M418.1 325.6h0M415.3 323.1h0M422.7 326.7h0M412.8 314.2h0M416.6 313.5h0M414.7 326.7h0M426.6 318.8h0M420.9 313.7h0M416.4 326.7h0M435.7 322.4h0M422.7 318.4h0M416.3 320.4h0M416.7 315.2h0M459.1 244.4h0M433.5 325.5h0M415.6 325.7h0M416.4 298.5h0M417.2 318.0h0M418.5 324.3h0M412.9 324.4h0M417.5 254.2h0M412.9 313.2h0M418.2 324.0h0M416.0 314.0h0M426.4 292.3h0M414.1 315.8h0M442.4 306.3h0M425.2 313.9h0M424.3 310.1h0M414.6 322.1h0M424.9 325.6h0M444.3 312.1h0M413.3 316.9h0M421.7 297.5h0M413.8 318.9h0M421.6 319.9h0M426.8 325.7h0M415.9 310.9h0M422.0 297.8h0M423.5 295.6h0M416.7 304.1h0M414.5 324.1h0M421.9 305.8h0M418.3 326.0h0M433.6 326.6h0M428.7 324.7h0M414.0 316.2h0M416.9 325.5h0M414.2 325.4h0M417.2 320.6h0M417.4 327.4h0M413.6 323.2h0M414.2 292.8h0M415.2 320.0h0M433.0 317.7h0M415.3 319.6h0M417.1 312.6h0M418.1 312.8h0M423.2 325.9h0M419.6 323.7h0M422.5 317.9h0M419.5 319.1h0M416.1 326.8h0M414.1 320.6h0M415.1 291.9h0M423.9 319.5h0M449.8 308.7h0M421.8 294.6h0M420.2 324.0h0M430.8 323.5h0M413.6 310.8h0M419.7 235.7h0M416.7 318.7h0M421.5 321.9h0M419.4 285.9h0M416.3 280.4h0M438.0 273.1h0M416.8 323.6h0M439.9 229.8h0M426.5 308.4h0M416.2 325.1h0M413.7 326.4h0M417.0 326.9h0M413.6 327.4h0M416.4 321.3h0M420.2 299.8h0M414.6 300.3h0M418.6 325.4h0M421.9 294.5h0M448.4 314.1h0M422.8 311.8h0M415.9 280.9h0M434.3 282.7h0M412.9 322.4h0M421.1 313.7h0M415.5 302.8h0M417.6 315.0h0M416.3 311.7h0M429.6 325.7h0M417.0 322.4h0M417.7 324.4h0M413.4 315.8h0M426.9 318.2h0M420.7 233.1h0M415.2 326.1h0" stroke="#ff0000" stroke-opacity="0.16" stroke-width="2.2" stroke-linecap="round" fill="none"/>
<path d="M431.4 302.2h0M416.7 327.4h0M418.5 307.3h0M421.2 325.0h0M413.4 320.7h0M422.1 243.9h0M421.9 301.5h0M420.8 270.3h0M415.1 316.1h0M418.1 304.3h0M414.0 284.7h0M414.3 321.2h0M413.3 321.1h0M416.6 315.3h0M439.8 259.1h0M415.8 323.0h0M415.6 326.7h0M420.4 322.2h0M433.0 310.1h0M422.2 307.4h0M425.3 324.9h0M412.9 319.0h0M414.2 322.0h0M423.5 267.0h0M425.4 298.8h0M413.3 310.8h0M423.6 305.3h0M414.7 320.6h0M416.9 322.3h0M413.8 318.4h0M416.7 257.0h0M413.2 306.4h0M413.0 313.6h0M414.9 327.4h0M431.2 304.4h0M417.6 287.8h0M416.5 325.6h0M423.3 318.6h0M419.7 305.8h0M413.5 324.7h0M426.0 325.2h0M414.4 325.4h0M423.5 233.1h0M417.7 325.2h0M426.9 327.2h0M415.2 324.4h0M419.9 319.6h0M422.7 315.0h0M414.9 319.4h0M413.9 322.0h0M413.4 315.8h0M416.7 284.7h0M413.9 310.6h0M418.4 295.7h0M424.4 325.5h0M417.0 271.9h0M431.0 322.3h0M424.5 321.0h0M421.7 310.9h0M416.9 311.0h0M420.6 327.2h0M415.6 320.8h0M413.0 317.9h0M415.9 326.2h0M414.2 322.9h0M419.4 327.3h0M423.9 318.9h0M420.3 323.1h0M413.7 324.2h0M435.8 249.4h0M417.9 319.4h0M421.2 307.2h0M445.9 286.0h0M415.9 318.9h0M413.0 299.2h0M415.3 319.1h0M422.4 289.3h0M414.5 310.7h0M413.5 296.3h0M416.1 307.9h0M419.0 313.3h0M424.4 315.7h0M432.5 326.5h0M419.1 306.9h0M426.3 323.5h0M420.6 302.1h0M456.3 250.3h0M413.4 325.1h0M419.2 324.8h0M424.4 324.6h0M420.4 324.3h0M425.4 327.3h0M417.1 318.4h0M421.0 315.3h0M428.2 322.5h0M424.0 314.4h0M424.0 322.7h0M414.9 326.7h0M436.5 295.5h0M424.5 273.0h0M415.1 289.8h0M418.5 310.2h0M414.1 324.2h0M420.5 320.7h0M417.0 320.0h0M424.8 313.5h0M417.2 321.1h0M415.8 327.1h0M415.1 314.5h0M414.4 316.9h0M427.2 295.1h0M419.8 243.0h0M420.9 242.0h0M415.6 317.2h0M418.6 326.9h0M414.2 326.1h0M415.8 322.9h0M444.1 281.6h0M418.8 320.7h0M413.1 324.1h0M414.7 323.2h0M416.2 309.0h0M424.5 314.3h0M416.1 314.2h0M419.7 304.9h0M425.3 325.7h0M430.1 315.6h0M438.8 319.1h0M421.3 310.2h0M415.5 297.4h0M413.4 317.8h0M421.4 311.8h0M416.1 314.5h0M428.8 322.3h0M413.4 319.1h0M413.8 322.2h0M423.6 272.7h0M417.7 324.2h0M418.5 317.7h0M417.0 313.2h0M432.7 323.3h0M415.7 322.6h0M414.6 316.1h0M412.9 308.7h0M413.3 327.1h0M415.3 290.8h0M414.4 317.5h0M414.1 325.9h0M422.6 314.9h0M433.7 286.8h0M421.3 323.5h0M416.3 324.5h0M416.2 305.0h0M414.8 297.9h0M421.9 316.4h0M427.7 315.8h0M434.6 326.9h0M420.6 326.6h0M426.5 297.5h0M420.4 242.9h0M420.5 314.8h0M414.5 317.3h0M433.3 318.8h0M424.9 319.9h0M424.7 325.8h0M421.2 317.8h0M415.7 318.8h0M415.4 326.6h0M416.2 315.6h0M414.6 320.3h0M419.3 327.3h0M415.3 308.6h0M414.3 278.4h0M416.0 321.8h0M413.1 323.6h0M423.8 277.7h0M419.8 320.4h0M422.8 299.8h0M419.2 325.9h0M416.5 325.9h0M428.1 297.9h0M415.3 298.3h0M415.3 304.1h0M414.8 319.7h0M423.7 318.7h0M415.3 312.0h0M412.9 311.8h0M425.7 318.1h0M412.8 323.8h0M428.5 316.6h0M447.3 272.8h0M426.1 326.0h0M442.1 298.4h0M416.3 325.4h0M423.6 314.9h0M418.2 226.9h0M424.6 323.1h0M440.0 321.5h0M423.1 325.9h0M416.5 325.9h0M413.9 304.4h0M419.0 322.0h0M414.8 292.2h0M414.0 325.3h0M414.4 326.1h0M459.8 266.9h0M413.3 323.7h0M415.8 325.5h0M428.6 319.6h0M415.5 318.2h0M433.5 323.9h0M417.2 315.3h0M415.5 323.4h0M429.4 316.0h0M413.4 315.0h0M420.6 326.4h0M414.7 326.4h0M414.5 283.9h0M420.1 232.4h0M439.4 236.2h0M423.1 316.5h0M425.2 304.1h0M412.9 323.8h0M416.3 316.2h0M416.2 321.7h0M415.4 322.7h0M431.2 232.9h0M414.7 311.6h0M420.4 283.2h0M421.9 326.8h0M415.4 288.5h0M414.3 320.9h0M414.5 303.5h0M417.0 327.4h0M433.3 315.5h0M418.0 327.1h0M414.4 326.2h0M433.1 312.0h0M429.3 324.6h0M414.9 323.1h0M417.4 301.0h0M416.0 323.3h0M424.7 301.2h0M427.6 313.5h0M414.7 268.6h0M418.2 319.5h0M420.5 325.0h0M420.3 316.3h0M420.1 240.4h0M416.0 302.3h0M424.4 327.3h0M417.5 278.9h0M419.0 321.1h0M416.6 323.2h0M412.8 314.8h0M415.8 320.3h0M426.1 314.4h0M413.7 325.9h0M414.6 259.4h0M427.0 322.0h0M414.6 306.7h0M416.0 249.6h0M423.1 310.9h0M415.0 323.3h0M420.4 306.9h0M421.2 326.2h0M418.3 319.0h0M414.1 300.2h0M420.7 326.4h0M437.2 322.4h0M427.5 321.8h0M414.4 318.2h0M419.1 310.7h0M415.7 318.9h0M429.8 316.4h0M420.1 323.5h0M416.8 322.4h0M416.9 286.5h0M413.0 317.4h0M419.6 325.2h0M420.8 326.7h0M418.3 300.6h0M418.1 326.9h0M418.3 318.1h0M415.9 316.3h0M417.9 318.5h0M417.9 325.5h0M439.4 296.0h0M419.6 327.2h0M413.3 319.4h0M431.6 324.1h0M416.4 307.6h0M421.1 326.0h0M425.9 324.5h0M427.4 324.4h0M414.4 326.2h0M421.4 313.1h0M422.2 326.1h0M414.8 323.2h0M413.3 269.6h0M417.9 320.4h0M417.1 323.8h0M418.7 312.9h0M418.9 279.3h0M420.4 326.3h0M417.6 311.4h0M422.8 305.5h0M418.6 326.6h0M437.2 305.9h0M419.3 314.5h0M446.6 284.0h0M419.9 327.4h0M416.6 321.8h0M424.9 306.4h0M415.1 323.4h0M421.8 309.0h0M414.9 322.7h0M432.0 313.5h0M413.9 327.5h0M423.6 318.0h0M421.6 326.3h0M430.5 291.0h0M414.5 317.6h0M418.6 299.8h0M416.7 306.4h0M414.0 285.2h0M421.2 324.5h0M415.4 321.0h0M417.3 293.1h0M425.3 317.7h0M421.6 323.8h0" stroke="#ff0000" stroke-opacity="0.16" stroke-width="2.2" stroke-linecap="round" fill="none"/>
<path d="M413.8 311.8h0M424.7 289.0h0M415.1 309.2h0M413.5 317.2h0M414.5 314.8h0M415.7 318.6h0M415.9 325.4h0M430.3 288.2h0M413.8 314.2h0M417.3 321.1h0M415.3 326.6h0M426.7 286.1h0M416.6 281.8h0M446.2 317.3h0M414.8 325.8h0M415.4 322.9h0M416.5 300.3h0M431.3 302.7h0M417.1 321.1h0M414.2 327.4h0M416.8 309.0h0M420.6 293.9h0M414.3 323.1h0M414.2 327.0h0M426.5 301.6h0M418.9 325.4h0M413.6 321.1h0M415.5 255.8h0M420.7 282.6h0M419.5 324.8h0M427.6 320.8h0M417.5 309.3h0M417.0 323.0h0M417.4 325.9h0M419.4 285.5h0M428.2 300.6h0M445.7 325.8h0M429.7 317.7h0M416.5 321.0h0M435.9 261.9h0M420.7 326.5h0M422.6 291.3h0M461.7 235.9h0M424.5 301.9h0M415.9 318.0h0M422.1 323.8h0M424.3 318.7h0M422.6 308.3h0M418.3 327.4h0M457.3 269.0h0M415.5 325.2h0M423.0 287.9h0M421.4 312.1h0M413.6 327.4h0M422.3 275.7h0M415.6 318.1h0M433.3 285.3h0M421.9 320.5h0M435.2 316.0h0M431.1 327.5h0M441.9 322.9h0M416.9 313.3h0M415.1 302.2h0M412.8 325.5h0M414.2 325.2h0M415.8 325.7h0M414.7 317.5h0M425.4 324.8h0M415.0 261.9h0M415.0 311.0h0M419.3 325.9h0M413.0 322.3h0M414.4 322.3h0M419.1 286.2h0M446.9 307.0h0M428.3 306.6h0M415.4 316.9h0M440.9 270.6h0M419.0 310.7h0M418.6 310.2h0M419.7 323.8h0M431.3 326.3h0M428.4 325.1h0M422.8 296.8h0M415.7 295.7h0M432.7 251.2h0M413.2 306.8h0M416.5 326.5h0M428.0 307.4h0M414.9 327.1h0M429.8 294.2h0M426.9 306.6h0M414.0 304.7h0M417.3 316.5h0M424.8 318.4h0M423.2 325.6h0M431.2 315.8h0M423.0 297.1h0M420.3 325.0h0M421.5 319.3h0M418.8 314.2h0M418.2 319.5h0M418.0 324.4h0M440.5 301.0h0M419.7 322.0h0M425.0 295.8h0M423.0 307.0h0M413.2 318.1h0M416.5 323.5h0M423.2 283.0h0M415.0 291.0h0M414.4 324.6h0M419.6 312.1h0M418.3 327.4h0M413.5 301.6h0M413.6 315.8h0M417.8 318.3h0M416.6 323.9h0M418.2 325.1h0M425.8 317.4h0M422.0 299.8h0M414.9 315.9h0M414.8 325.7h0M419.6 326.5h0M417.8 322.6h0M415.7 324.9h0M423.4 291.7h0M414.1 324.3h0M415.1 326.9h0M440.4 298.3h0M417.1 323.1h0M414.9 314.2h0M425.8 286.4h0M415.5 322.5h0M429.5 312.0h0M416.3 316.7h0M413.3 314.0h0M418.0 324.8h0M427.5 279.0h0M412.8 321.9h0M452.0 275.0h0M430.5 319.0h0M422.8 313.9h0M416.3 322.8h0M444.0 314.9h0M414.4 310.2h0M414.1 300.1h0M441.0 304.9h0M416.2 320.1h0M413.0 319.7h0M413.1 326.3h0M412.8 325.6h0M415.0 319.0h0M438.4 317.1h0M418.4 314.2h0M423.8 316.4h0M419.5 325.5h0M419.2 322.3h0M416.6 323.1h0M414.4 320.1h0M413.1 310.7h0M414.4 300.4h0M419.9 260.7h0M423.4 318.1h0M413.3 305.7h0M424.7 317.6h0M415.0 301.1h0M413.2 327.1h0M434.5 327.3h0M413.4 319.5h0M419.5 327.2h0M412.8 318.4h0M415.5 321.7h0M436.5 327.2h0M416.1 326.1h0M414.6 315.5h0M424.0 279.6h0M414.7 324.2h0M413.6 323.6h0M415.2 326.1h0M415.9 323.5h0M417.3 318.5h0M415.4 312.7h0M416.5 325.5h0M413.8 311.3h0M416.3 289.0h0M413.9 321.9h0M422.0 325.1h0M415.5 306.0h0M414.2 309.9h0M423.2 296.4h0M415.5 323.7h0M413.9 311.3h0M432.3 322.1h0M431.2 320.9h0M423.9 312.7h0M413.3 319.7h0M423.9 321.9h0M413.4 318.2h0M423.5 322.0h0M431.0 293.4h0M413.4 323.2h0M417.0 238.5h0M415.1 312.6h0M418.5 324.9h0M417.0 305.7h0M419.7 314.1h0M416.2 313.4h0M415.9 319.3h0M413.5 320.0h0M418.2 310.5h0M413.2 312.0h0M423.0 311.3h0M456.9 284.8h0M423.4 279.8h0M430.2 303.7h0M442.6 305.8h0M425.1 317.7h0M421.0 323.2h0M421.1 248.8h0M431.0 258.5h0M435.4 322.5h0M425.1 320.9h0M416.3 310.3h0M439.9 274.7h0M421.0 302.4h0M423.4 324.4h0M421.5 316.4h0M416.6 287.3h0M420.3 326.6h0M422.9 312.5h0M416.6 305.4h0M429.2 291.9h0M426.2 306.4h0M420.4 322.6h0M413.0 277.6h0M428.3 293.2h0M415.3 296.7h0M416.6 327.2h0M414.1 302.4h0M425.2 308.1h0M412.9 301.8h0M413.3 312.7h0M414.3 319.5h0M435.8 277.2h0M424.6 315.9h0M412.9 315.0h0M413.5 327.1h0M416.8 305.4h0M423.5 256.3h0M413.7 326.8h0M418.6 325.7h0M421.5 307.3h0M418.7 322.0h0M433.6 279.8h0M429.6 300.2h0M417.8 303.3h0M420.0 282.2h0M412.9 322.2h0M435.8 321.4h0M428.8 324.0h0M414.1 325.0h0M446.3 269.3h0M419.4 309.6h0M424.3 313.7h0M413.2 313.6h0M423.9 311.9h0M421.8 322.7h0M416.1 322.9h0M437.2 245.7h0M431.1 261.5h0M413.6 321.1h0M416.9 306.6h0M418.1 306.9h0M425.7 302.8h0M419.0 318.3h0M429.1 248.8h0M417.3 264.0h0M415.9 327.2h0M422.9 324.8h0M422.3 279.7h0M414.5 320.0h0M414.7 312.6h0M414.6 310.6h0M417.9 308.3h0M419.8 323.9h0M423.5 322.6h0M417.5 326.2h0M444.2 306.7h0M413.1 302.7h0M418.3 325.4h0M437.1 316.3h0M412.8 327.0h0M422.7 319.1h0M413.9 325.2h0M416.3 320.6h0M422.2 317.6h0M450.7 249.5h0M416.7 273.4h0M417.1 302.9h0M431.6 323.0h0M420.1 319.4h0M424.0 319.9h0M428.7 248.6h0M416.6 324.8h0M421.0 314.5h0M420.0 322.1h0M425.1 322.6h0M417.5 308.5h0M414.9 321.5h0M423.1 326.0h0M419.6 310.9h0M416.2 322.6h0M422.0 318.0h0M431.5 317.8h0M419.1 321.3h0M424.3 326.8h0M415.9 302.0h0M413.3 299.6h0M417.0 325.7h0M430.5 322.0h0M418.7 314.4h0M414.8 310.7h0M414.0 324.8h0M415.1 319.0h0M422.9 295.8h0M427.4 297.4h0M414.2 323.9h0M431.4 287.4h0M421.2 322.1h0M415.2 320.9h0" stroke="#ff0000" stroke-opacity="0.16" stroke-width="2.2" stroke-linecap="round" fill="none"/>
<path d="M412.8 294.0h0M417.0 326.3h0M434.3 249.1h0M416.0 327.2h0M414.8 320.4h0M428.4 252.0h0M414.7 319.7h0M420.2 321.1h0M418.0 322.7h0M414.0 321.2h0M416.8 326.8h0M419.9 319.9h0M418.8 325.0h0M436.2 322.7h0M425.2 325.7h0M415.4 271.7h0M453.8 255.2h0M424.0 323.1h0M421.8 322.3h0M415.8 316.5h0M419.8 319.2h0M419.0 304.0h0M415.4 255.3h0M424.1 305.9h0M413.0 314.1h0M418.2 317.4h0M421.1 324.0h0M422.7 302.0h0M421.8 319.1h0M420.0 318.7h0M417.2 323.9h0M416.1 301.0h0M414.5 289.0h0M423.2 262.5h0M414.9 319.4h0M425.4 314.6h0M424.1 282.2h0M418.5 323.7h0M418.2 324.3h0M414.8 315.8h0M416.0 326.9h0M414.4 323.5h0M414.9 272.4h0M413.5 325.8h0M427.2 235.0h0M417.4 327.4h0M416.8 327.0h0M427.2 322.9h0M414.1 297.5h0M420.6 320.4h0M414.5 323.1h0M415.4 324.7h0M421.5 312.7h0M414.3 320.6h0M432.0 326.7h0M415.8 318.5h0M418.9 322.8h0M427.6 326.7h0M423.1 303.9h0M428.3 300.6h0M448.4 307.0h0M417.9 308.4h0M414.5 326.2h0M428.7 260.1h0M415.4 317.2h0M416.3 321.1h0M423.1 310.7h0M425.2 327.4h0M415.7 317.4h0M431.8 322.3h0M455.7 235.1h0M427.2 327.5h0M420.7 320.7h0M419.5 325.5h0M418.6 312.2h0M416.8 324.4h0M416.7 315.6h0M419.1 327.2h0M418.5 294.9h0M460.0 253.6h0M422.5 326.3h0M420.0 323.9h0M414.7 305.5h0M426.9 234.3h0M413.3 321.7h0M415.1 327.0h0M417.9 322.7h0M418.8 293.0h0M414.3 290.9h0M430.9 311.8h0M429.7 320.2h0M444.8 326.2h0M430.4 281.6h0M421.1 304.6h0M416.7 315.7h0M421.6 274.7h0M437.7 326.4h0M416.5 325.6h0M420.1 272.9h0M415.2 309.6h0M413.8 298.9h0M431.1 322.2h0M417.8 301.1h0M421.4 265.6h0M433.1 325.3h0M416.3 324.3h0M421.3 286.3h0M412.9 300.6h0M413.5 316.1h0M417.9 266.4h0M455.9 234.8h0M448.0 274.2h0M415.3 326.6h0M423.2 320.9h0M420.7 325.1h0M423.1 326.8h0M416.1 317.4h0M415.8 305.5h0M419.7 318.4h0M422.1 229.3h0M438.3 325.2h0M414.3 322.6h0M415.8 307.3h0M418.0 269.8h0M412.8 325.3h0M420.5 299.5h0M427.4 318.9h0M443.5 308.5h0M427.9 309.4h0M415.0 263.3h0M415.3 301.3h0M417.6 326.4h0M421.0 306.4h0M414.4 321.1h0M447.0 240.0h0M417.6 322.7h0M424.2 323.6h0M421.5 310.6h0M423.0 321.3h0M419.4 326.8h0M422.3 319.7h0M413.9 312.1h0M414.2 315.3h0M440.9 297.3h0M435.2 300.3h0M426.0 313.5h0M445.8 234.4h0M414.5 319.7h0M421.4 324.3h0M425.9 321.9h0M421.3 306.8h0M422.9 319.4h0M413.1 320.9h0M420.0 318.1h0M414.3 307.3h0M419.8 318.4h0M414.5 327.5h0M420.1 320.8h0M420.4 310.8h0M416.9 293.9h0M431.2 319.3h0M426.7 321.0h0M413.0 308.4h0M434.0 282.5h0M419.2 316.9h0M417.1 295.7h0M417.6 283.7h0M421.8 289.4h0M415.2 316.4h0M425.0 325.2h0M437.2 320.3h0M419.4 327.4h0M413.1 317.3h0M412.9 309.2h0M421.3 325.2h0M415.6 248.6h0M414.3 323.3h0M416.3 291.6h0M417.3 326.6h0M413.1 301.1h0M424.4 314.4h0M424.9 319.8h0M419.6 323.5h0M414.0 298.3h0M422.4 292.9h0M424.6 326.6h0M419.4 312.4h0M445.4 290.8h0M430.1 301.7h0M426.5 324.1h0M412.8 308.8h0M421.1 251.0h0M429.1 325.5h0M412.8 295.3h0M413.8 325.4h0M431.2 305.8h0M413.0 319.7h0M416.6 323.1h0M418.6 318.5h0M431.4 325.4h0M413.3 324.5h0M433.8 311.8h0M426.5 316.1h0M422.8 325.1h0M436.3 318.2h0M413.6 326.6h0M417.2 319.1h0M420.4 309.2h0M443.3 326.8h0M425.7 297.4h0M415.0 316.5h0M418.2 312.2h0M413.6 322.9h0M420.7 325.8h0M418.8 321.2h0M418.6 322.8h0M415.3 315.2h0M417.8 298.0h0M424.2 325.4h0M424.2 269.6h0M413.5 312.0h0M425.4 308.7h0M424.5 320.7h0M416.3 313.8h0M423.6 290.5h0M427.9 309.6h0M420.7 314.4h0M413.6 320.7h0M428.9 310.6h0M422.2 272.0h0M420.1 271.2h0M419.5 290.4h0M414.0 326.4h0M417.5 325.6h0M421.3 314.6h0M418.8 323.2h0M415.8 325.7h0M424.2 315.7h0M414.3 306.1h0M415.8 325.8h0M413.8 326.9h0M414.3 327.3h0M419.3 303.1h0M439.4 315.2h0M416.1 324.1h0M425.0 302.0h0M417.3 320.9h0M439.5 324.5h0M428.1 312.5h0M414.3 303.9h0M416.0 309.2h0M431.2 284.7h0M415.1 324.9h0M426.5 307.5h0M414.1 308.8h0M413.5 317.7h0M417.0 314.8h0M415.0 324.2h0M420.3 321.0h0M413.4 303.0h0M443.7 307.4h0M420.5 311.2h0M416.1 324.8h0M418.9 321.7h0M424.0 323.6h0M425.2 311.4h0M415.9 326.1h0M418.2 324.7h0M455.7 233.3h0M432.5 318.5h0M430.8 325.7h0M417.6 307.1h0M413.0 310.4h0M415.0 303.8h0M429.4 324.6h0M413.8 320.2h0M418.0 321.9h0M424.6 295.5h0M419.8 311.3h0M415.9 324.3h0M424.7 247.2h0M429.4 325.3h0M415.8 308.4h0M413.3 315.6h0M427.4 326.7h0M416.2 318.5h0M415.3 308.3h0M421.1 315.0h0M414.2 315.9h0M423.1 325.4h0M412.9 318.9h0M433.9 309.3h0M413.5 300.7h0M412.9 311.6h0M417.5 310.7h0M422.2 305.4h0M420.4 269.2h0M414.9 289.7h0M416.1 324.2h0M436.1 326.0h0M414.3 323.8h0M441.5 324.0h0M415.9 316.2h0M435.4 321.4h0M420.2 318.1h0M430.4 306.7h0M428.1 325.1h0M429.2 307.2h0M446.8 281.8h0M413.6 308.0h0M415.5 322.3h0M413.1 315.6h0M412.8 285.5h0M425.4 306.4h0M420.1 324.6h0M415.5 326.4h0M414.6 323.5h0M415.8 324.2h0M415.9 327.1h0M419.2 316.1h0M423.5 326.8h0M413.0 296.1h0M422.5 276.5h0M450.4 276.2h0M417.1 322.3h0M416.6 325.2h0M417.2 269.1h0M435.4 319.9h0M433.6 313.1h0M416.0 307.2h0M450.4 315.6h0" stroke="#ff0000" stroke-opacity="0.16" stroke-width="2.2" stroke-linecap="round" fill="none"/>
<path d="M413.3 305.0h0M428.5 323.7h0M438.7 314.2h0M443.5 292.5h0M432.5 323.2h0M414.0 312.6h0M438.0 325.8h0M414.5 318.2h0M415.8 323.2h0M419.3 323.9h0M429.4 314.9h0M424.0 326.3h0M414.0 319.8h0M413.0 321.2h0M420.8 316.6h0M416.3 313.7h0M418.0 321.8h0M422.0 319.7h0M418.8 284.5h0M413.2 321.5h0M416.0 251.3h0M434.9 238.2h0M418.5 327.4h0M426.8 320.1h0M424.5 320.5h0M419.5 312.4h0M448.9 263.2h0M431.1 273.8h0M433.5 261.4h0M418.3 326.9h0M425.7 303.5h0M430.3 313.2h0M415.9 313.5h0M413.4 323.3h0M448.5 266.2h0M413.7 317.6h0M412.8 306.3h0M422.8 326.0h0M428.2 323.9h0M416.2 321.7h0M413.5 315.0h0M424.8 310.6h0M413.4 303.3h0M415.5 326.3h0M422.3 326.3h0M416.1 314.7h0M425.5 322.3h0M425.6 310.9h0M414.5 325.4h0M421.7 319.0h0M414.5 326.8h0M414.9 324.7h0M415.1 325.6h0M426.4 318.8h0M413.7 296.5h0M421.0 271.3h0M418.9 318.4h0M415.2 323.9h0M417.5 323.8h0M425.0 248.7h0M422.2 315.0h0M430.8 254.7h0M416.5 323.7h0M414.5 324.3h0M415.2 325.2h0M434.4 305.0h0M417.7 265.6h0M428.5 282.2h0M413.9 321.7h0M417.5 305.8h0M421.7 290.1h0M423.1 279.1h0M416.0 325.0h0M422.3 312.1h0M417.0 317.1h0M415.0 318.3h0M439.9 226.9h0M424.2 302.0h0M415.4 284.7h0M415.9 324.9h0M416.8 312.5h0M416.5 322.2h0M428.9 304.8h0M417.0 318.9h0M417.1 327.0h0M424.5 314.5h0M419.5 298.7h0M429.6 304.6h0M416.3 317.7h0M427.6 299.3h0M415.4 305.6h0M413.5 326.3h0M416.4 294.0h0M413.8 327.1h0M428.1 285.2h0M435.2 313.8h0M429.7 299.8h0M415.9 321.4h0M459.2 272.3h0M413.8 320.4h0M415.6 302.0h0M414.8 324.8h0M415.1 322.8h0M413.1 324.2h0M427.6 308.9h0M421.1 316.6h0M427.3 326.8h0M416.6 322.4h0M416.0 313.2h0M417.9 327.2h0M421.6 300.3h0M418.1 249.2h0M422.8 300.0h0M417.9 327.2h0M426.7 312.9h0M416.0 297.9h0M431.1 317.8h0M425.4 312.4h0M420.1 326.0h0M417.2 319.9h0M416.7 279.3h0M415.3 322.9h0M422.0 315.4h0M419.8 326.4h0M413.5 322.8h0M420.6 310.3h0M413.4 322.6h0M418.6 318.3h0M428.3 318.3h0M416.8 316.4h0M413.5 327.4h0M419.1 326.7h0M435.5 326.7h0M419.3 322.5h0M414.1 314.8h0M423.0 310.8h0M414.1 327.5h0M419.6 309.0h0M415.1 325.0h0M420.4 296.2h0M440.0 289.9h0M433.5 294.4h0M420.4 324.1h0M415.9 325.0h0M440.1 303.6h0M413.0 306.8h0M418.7 315.8h0M423.3 322.6h0M416.6 321.6h0M414.5 322.1h0M425.8 321.0h0M413.2 308.1h0M420.5 277.4h0M412.8 322.2h0M428.2 303.3h0M436.6 312.5h0M417.2 324.5h0M416.7 326.6h0M420.1 299.0h0M412.9 324.6h0M427.2 325.2h0M419.5 326.4h0M417.3 319.8h0M416.0 324.2h0M413.7 318.7h0M414.7 320.5h0M413.3 319.1h0M415.9 314.8h0M413.0 317.9h0M430.6 297.9h0M431.6 259.3h0M413.2 326.5h0M414.1 325.5h0M419.7 322.7h0M423.9 323.0h0M424.3 305.3h0M424.2 325.4h0M431.2 298.1h0M417.6 311.8h0M423.5 291.6h0M426.5 275.0h0M436.6 284.9h0M434.0 276.5h0M416.8 314.0h0M417.2 323.4h0M419.2 295.1h0M418.1 322.3h0M432.9 327.0h0M420.6 322.4h0M416.7 317.7h0M450.3 250.7h0M413.8 314.1h0M415.3 301.4h0M424.1 323.4h0M413.8 320.8h0M426.1 318.5h0M418.0 322.3h0M418.4 327.4h0M433.5 311.5h0M413.4 316.2h0M421.7 229.3h0M433.9 237.0h0M414.3 327.4h0M415.3 326.0h0M416.2 318.8h0M418.0 317.0h0M414.1 327.2h0M416.9 325.9h0M423.6 315.8h0M415.3 315.4h0M414.6 317.5h0M428.8 312.6h0M413.8 320.3h0M417.0 306.1h0M417.4 242.9h0M420.8 325.7h0M415.9 317.5h0M417.4 309.0h0M432.1 325.0h0M416.1 327.5h0M415.1 321.3h0M423.3 326.0h0M417.3 324.8h0M422.8 291.1h0M413.3 322.3h0M414.2 324.4h0M417.0 319.1h0M413.9 318.1h0M414.8 325.2h0M419.9 304.2h0M417.5 324.7h0M417.1 326.6h0M413.5 326.2h0M428.1 305.5h0M415.2 299.1h0M416.6 319.6h0M418.2 322.9h0M414.0 319.0h0M418.0 315.4h0M422.5 279.6h0M421.7 315.3h0M413.6 323.3h0M415.4 316.9h0M436.8 321.1h0M427.4 310.6h0M419.2 313.8h0M417.5 324.0h0M433.8 305.6h0M416.3 317.2h0M413.7 325.0h0M420.2 326.9h0M414.4 316.3h0M425.0 326.4h0M422.2 324.4h0M417.9 307.6h0M415.6 323.3h0M420.5 295.9h0M423.7 325.6h0M418.6 317.8h0M416.9 325.0h0M422.9 320.0h0M419.9 314.0h0M419.1 325.5h0M418.4 320.4h0M417.4 318.3h0M415.6 311.6h0M423.1 324.4h0M444.2 246.0h0M415.0 325.4h0M444.6 228.5h0M414.8 324.8h0M412.9 323.3h0M430.0 251.2h0M419.1 320.4h0M423.8 314.2h0M414.7 298.1h0M422.7 306.6h0M422.0 327.0h0M413.0 318.1h0M432.5 323.8h0M420.6 291.8h0M415.0 325.3h0M413.0 314.3h0M416.8 308.9h0M420.1 326.6h0M420.3 324.9h0M413.0 304.6h0M416.9 300.7h0M414.6 310.6h0M413.5 325.8h0M438.7 302.9h0M422.2 323.5h0M412.9 327.4h0M414.5 327.3h0M422.2 318.6h0M418.3 327.2h0M418.5 312.5h0M422.1 317.6h0M414.7 307.3h0M413.7 303.7h0M414.2 314.8h0M413.4 318.4h0M420.1 320.5h0M417.6 315.9h0M421.7 310.2h0M418.9 308.8h0M414.1 312.4h0M412.8 314.9h0M415.4 324.6h0M427.7 314.0h0M417.3 243.6h0M418.6 322.9h0M450.0 306.9h0M444.7 321.7h0M417.8 300.0h0M417.3 327.4h0M444.9 308.7h0M419.1 294.3h0M414.7 320.1h0M415.9 326.6h0M429.8 310.4h0M414.5 325.7h0M418.9 321.1h0M416.5 309.3h0M418.2 319.1h0M436.4 319.9h0M422.3 324.0h0M418.0 310.5h0M418.6 309.4h0M418.4 326.6h0M416.8 323.8h0" stroke="#ff0000" stroke-opacity="0.16" stroke-width="2.2" stroke-linecap="round" fill="none"/>
<path d="M416.1 241.3h0M445.5 310.5h0M413.8 311.0h0M421.7 320.5h0M430.2 319.9h0M416.2 290.6h0M415.9 314.1h0M415.0 322.0h0M433.7 324.0h0M419.2 321.2h0M419.4 310.9h0M430.4 324.6h0M423.6 325.0h0M459.8 255.6h0M423.7 310.6h0M425.7 291.6h0M417.1 304.7h0M423.8 312.5h0M429.3 323.3h0M413.2 307.2h0M429.0 317.9h0M416.3 324.4h0M420.6 327.3h0M426.3 315.4h0M414.6 319.1h0M430.1 296.0h0M413.8 323.2h0M425.3 316.3h0M421.8 320.6h0M414.3 325.1h0M419.0 316.1h0M413.5 313.2h0M443.4 316.4h0M425.5 324.7h0M432.2 314.7h0M420.5 296.7h0M414.6 313.9h0M429.1 257.8h0M419.0 317.9h0M414.6 324.3h0M423.3 312.5h0M426.9 320.4h0M413.0 322.9h0M424.7 326.1h0M419.1 322.2h0M416.1 325.9h0M412.9 321.4h0M417.1 325.7h0M414.4 325.0h0M419.1 290.5h0M413.5 327.3h0M414.1 320.7h0M431.5 276.1h0M423.4 256.3h0M414.4 322.8h0M427.2 310.9h0M412.9 326.3h0M415.4 313.3h0M425.4 275.2h0M414.1 259.0h0M416.9 315.0h0M422.6 325.5h0M422.5 305.2h0M422.5 315.5h0M419.8 323.4h0M426.5 321.9h0M414.7 322.1h0M415.3 302.7h0M438.8 325.1h0M427.0 297.4h0M413.3 322.1h0M414.1 321.2h0M413.8 322.4h0M420.6 325.5h0M415.8 326.3h0M434.9 291.1h0M426.9 318.2h0M440.6 320.2h0M417.8 267.9h0M430.7 311.8h0M419.0 319.3h0M437.4 311.8h0M424.7 326.0h0M413.4 308.7h0M430.2 325.6h0M413.0 319.5h0M423.3 316.5h0M424.8 326.5h0M417.6 292.8h0M415.9 248.1h0M413.0 319.4h0M413.1 324.0h0M419.0 323.8h0M414.3 311.6h0M415.9 272.2h0M421.2 319.2h0M422.7 311.9h0M447.8 285.0h0M443.5 308.3h0M413.4 324.4h0M419.7 319.8h0M420.6 326.5h0M418.0 327.0h0M434.0 312.0h0M430.1 300.3h0M413.3 318.6h0M419.5 232.7h0M430.0 279.4h0M415.0 324.0h0M421.5 325.1h0M415.7 322.2h0M417.1 324.1h0M414.6 231.1h0M416.2 323.6h0M419.6 293.6h0M417.8 272.7h0M444.3 318.1h0M415.9 327.3h0M412.8 322.8h0M435.0 300.5h0M428.3 284.7h0M418.0 326.9h0M414.3 326.8h0M426.1 327.3h0M416.9 289.1h0M417.5 321.4h0M432.5 317.4h0M428.0 307.0h0M415.7 309.3h0M413.6 313.6h0M418.3 322.1h0M414.3 321.5h0M419.0 283.8h0M413.7 327.4h0M420.1 319.2h0M419.0 249.4h0M422.7 316.9h0M414.7 320.3h0M417.7 321.2h0M415.3 316.5h0M418.0 308.7h0M428.2 324.0h0M430.5 286.5h0M430.9 306.8h0M440.3 226.2h0M417.9 314.1h0M431.0 321.6h0M418.8 311.9h0M420.3 318.6h0M438.7 309.1h0M416.3 273.5h0M415.9 327.3h0M424.8 309.8h0M415.3 310.1h0M420.0 307.0h0M423.1 313.3h0M416.6 292.6h0M415.6 327.1h0M425.5 327.2h0M414.5 319.8h0M422.6 322.2h0M413.7 323.9h0M414.3 318.4h0M418.1 324.4h0M418.2 325.1h0M412.8 326.1h0M420.7 320.3h0M414.1 317.6h0M419.9 325.0h0M412.9 327.3h0M420.0 286.0h0M413.2 327.3h0M425.2 326.4h0M417.4 299.3h0M413.0 314.3h0M442.7 266.4h0M424.4 260.0h0M415.4 325.3h0M413.9 318.6h0M416.1 291.6h0M419.8 326.3h0M440.1 320.5h0M437.6 316.8h0M424.0 276.9h0M413.2 244.5h0M424.4 307.6h0M424.9 317.8h0M414.9 323.9h0M416.8 319.6h0M417.1 293.9h0M424.8 275.6h0M421.9 298.1h0M426.7 298.2h0M422.7 262.0h0M414.4 301.7h0M421.6 317.0h0M424.8 307.7h0M413.1 323.9h0M437.2 312.6h0M417.5 314.5h0M436.8 312.3h0M417.8 322.5h0M414.5 326.0h0M415.0 320.9h0M419.4 320.6h0M432.4 321.3h0M419.3 327.0h0M419.9 321.3h0M448.0 241.3h0M413.0 321.5h0M423.9 322.0h0M424.9 322.1h0M423.7 320.7h0M449.3 261.5h0M416.4 326.0h0M413.1 316.1h0M432.7 276.7h0M420.6 319.9h0M422.1 306.6h0M413.7 314.4h0M442.9 325.2h0M429.1 291.3h0M417.3 299.8h0M423.2 248.7h0M434.0 302.6h0M420.6 316.6h0M423.9 310.3h0M434.1 322.4h0M416.2 305.1h0M428.5 278.7h0M414.0 270.2h0M412.9 324.0h0M436.4 275.5h0M418.0 317.5h0M422.4 326.1h0M420.2 315.3h0M414.7 325.7h0M422.2 308.1h0M419.2 322.2h0M418.4 326.0h0M415.3 315.0h0M414.7 326.5h0M413.6 327.3h0M418.7 313.2h0M421.8 307.3h0M421.9 322.0h0M418.3 261.2h0M419.0 301.9h0M414.1 296.5h0M415.8 324.3h0M456.3 303.9h0M415.2 324.8h0M432.0 324.5h0M439.2 247.8h0M420.7 290.3h0M427.5 320.4h0M412.9 326.4h0M417.3 315.6h0M416.0 326.2h0M413.7 326.4h0M416.5 319.9h0M413.6 317.9h0M416.1 316.4h0M413.0 307.1h0M432.9 293.6h0M418.9 320.4h0M420.4 326.8h0M440.3 321.3h0M418.3 289.0h0M432.1 301.7h0M413.0 316.3h0M417.4 326.2h0M421.4 302.9h0M420.3 317.0h0M419.4 309.0h0M420.9 316.9h0M454.0 312.5h0M451.9 254.0h0M416.2 327.1h0M426.9 251.5h0M440.7 288.5h0M416.9 322.0h0M426.8 290.9h0M419.2 325.9h0M413.3 304.4h0M413.7 315.3h0M415.0 313.1h0M419.7 322.4h0M436.4 264.6h0M417.0 317.9h0M428.4 324.9h0M418.8 278.9h0M421.8 318.5h0M413.4 290.7h0M415.7 318.1h0M417.7 322.5h0M425.2 308.8h0M424.6 307.4h0M443.2 295.3h0M418.6 301.1h0M418.8 322.1h0M431.1 301.4h0M415.9 321.2h0M417.0 317.4h0M420.8 317.0h0M425.7 324.2h0M413.4 291.0h0M415.8 320.5h0M413.1 321.6h0M418.3 324.8h0M417.8 225.8h0M423.0 326.2h0M422.0 322.5h0M417.6 313.4h0M423.2 308.9h0M428.4 323.2h0M413.6 318.1h0M425.0 300.0h0M423.5 327.3h0M430.3 318.3h0M416.1 323.2h0M414.4 321.1h0M416.0 279.1h0M427.4 299.1h0M416.7 315.8h0M420.2 273.4h0M414.4 323.9h0M413.3 303.7h0M428.7 266.1h0M413.2 309.2h0M414.1 322.2h0" stroke="#ff0000" stroke-opacity="0.16" stroke-width="2.2" stroke-linecap="round" fill="none"/>
<path d="M458.1 240.7h0M417.8 319.6h0M416.0 268.8h0M413.0 322.8h0M416.5 278.3h0M424.7 326.3h0M413.4 315.4h0M414.7 321.3h0M412.9 312.8h0M449.1 305.7h0M413.0 320.0h0M414.6 312.3h0M425.5 312.8h0M415.5 325.0h0M420.3 280.9h0M415.0 291.7h0M420.9 291.8h0M419.0 319.7h0M422.0 322.1h0M430.0 305.2h0M427.3 317.5h0M419.4 309.8h0M413.1 323.1h0M427.3 315.1h0M412.8 319.5h0M413.9 324.7h0M416.5 326.7h0M429.8 322.0h0M414.8 326.0h0M415.1 323.7h0M421.3 317.8h0M414.4 312.8h0M416.8 313.5h0M416.2 323.2h0M420.8 318.4h0M419.9 323.9h0M441.3 231.4h0M424.9 236.6h0M416.7 321.7h0M415.2 318.8h0M433.0 324.7h0M418.6 313.1h0M414.9 325.3h0M413.4 290.4h0M415.1 324.9h0M413.2 325.9h0M416.3 318.9h0M416.3 256.7h0M415.9 289.5h0M427.5 312.9h0M414.9 319.0h0M417.1 286.2h0M425.3 306.0h0M420.0 326.9h0M418.1 321.9h0M416.1 313.0h0M418.1 321.3h0M455.6 237.5h0M418.2 325.8h0M417.7 322.1h0M428.4 300.7h0M413.6 327.2h0M420.1 322.3h0M413.5 322.1h0M414.6 315.6h0M427.3 284.7h0M423.4 312.6h0M415.2 300.1h0M426.2 313.3h0M429.2 323.8h0M429.6 311.1h0M420.8 327.2h0M412.9 321.8h0M417.6 299.5h0M418.1 325.1h0M413.6 324.5h0M413.4 279.0h0M417.4 304.8h0M423.0 282.4h0M415.3 324.1h0M456.8 304.1h0M427.8 324.5h0M424.9 263.1h0M413.4 327.1h0M416.1 326.5h0M428.6 305.0h0M414.6 322.1h0M416.2 309.6h0M414.8 317.1h0M419.3 293.0h0M434.9 315.6h0M416.2 316.0h0M426.1 318.2h0M420.0 320.6h0M413.4 317.0h0M421.4 319.9h0M415.4 322.9h0M418.5 299.6h0M431.7 248.6h0M416.3 310.5h0M413.6 311.5h0M429.1 320.5h0M416.3 309.0h0M447.5 267.6h0M429.7 311.8h0M427.2 318.8h0M418.5 317.6h0M416.7 277.4h0M453.9 278.6h0M420.2 312.7h0M419.7 280.2h0M413.5 327.1h0M421.2 323.8h0M413.2 320.9h0M418.8 295.9h0M426.4 239.8h0M419.4 310.2h0M415.2 320.2h0M425.7 326.3h0M437.9 273.0h0M436.9 284.3h0M432.6 288.1h0M448.5 301.7h0M418.3 320.2h0M430.1 324.4h0M441.0 233.9h0M425.0 326.2h0M428.4 300.4h0M413.9 325.1h0M436.8 238.2h0M418.0 243.0h0M413.6 303.7h0M418.7 326.8h0M416.4 323.7h0M436.3 273.3h0M417.4 325.5h0M413.3 326.4h0M417.0 322.3h0M431.3 298.0h0M421.5 302.1h0M416.6 285.6h0M412.9 317.7h0M412.9 320.1h0M418.0 300.1h0M415.9 327.1h0M423.2 256.3h0M415.1 305.4h0M452.4 231.9h0M415.8 319.5h0M426.4 321.0h0M416.1 313.4h0M420.9 296.4h0M413.7 327.0h0M416.1 325.3h0M421.4 291.8h0M428.9 320.9h0M422.6 307.2h0M418.7 320.0h0M415.0 324.3h0M419.0 322.3h0M417.5 317.9h0M436.6 288.5h0M418.8 323.9h0M417.6 308.4h0M419.4 301.3h0M444.3 266.2h0M412.8 324.4h0M420.3 316.7h0M426.3 256.0h0M422.8 303.6h0M415.3 321.6h0M417.0 318.7h0M415.9 317.7h0M440.3 314.2h0M445.2 305.0h0M425.9 320.3h0M413.5 324.0h0M420.5 307.6h0M419.6 315.9h0M415.1 305.7h0M413.8 327.0h0M421.7 290.0h0M415.4 326.6h0M425.8 290.4h0M413.2 326.8h0M418.0 326.0h0M424.9 311.9h0M418.8 303.1h0M422.3 322.7h0M415.0 306.5h0M431.1 244.2h0M417.1 310.1h0M416.4 307.8h0M416.9 325.2h0M413.0 326.2h0M422.7 313.5h0M425.7 314.5h0M414.0 327.4h0M421.0 319.1h0M415.7 322.1h0M421.8 323.6h0M419.7 279.7h0M413.8 321.8h0M420.5 251.3h0M416.6 320.5h0M419.0 321.1h0M440.4 321.8h0M418.6 326.8h0M421.5 320.6h0M427.1 297.8h0M413.4 304.5h0M415.9 297.2h0M413.0 307.3h0M415.7 323.9h0M422.8 318.8h0M413.2 327.3h0M431.3 256.5h0M419.6 324.5h0M424.5 245.9h0M415.2 327.0h0M418.1 323.9h0M419.3 321.0h0M413.4 315.8h0M427.5 295.9h0M414.8 324.6h0M420.2 295.8h0M433.8 305.4h0M418.9 326.9h0M429.5 317.5h0M413.8 310.0h0M441.9 299.1h0M416.7 311.8h0M424.9 326.5h0M417.0 322.9h0M417.5 312.2h0M427.2 318.6h0M413.5 317.8h0M415.2 303.5h0M432.8 293.6h0M421.9 324.7h0M433.4 304.9h0M413.4 316.9h0M413.9 316.9h0M415.1 326.6h0M414.5 322.3h0M417.6 307.2h0M418.8 321.3h0M417.1 313.7h0M419.5 276.3h0M434.6 275.3h0M427.2 311.0h0M426.6 318.0h0M413.2 313.3h0M416.8 326.9h0M415.7 324.4h0M419.7 261.9h0M422.7 308.3h0M414.0 313.9h0M413.5 306.4h0M421.1 315.0h0M415.1 308.2h0M419.4 325.2h0M425.5 327.0h0M431.4 310.2h0M414.6 320.7h0M413.3 327.3h0M422.6 315.8h0M415.1 321.9h0M420.4 315.5h0M432.3 311.2h0M431.1 318.4h0M412.8 311.5h0M417.5 304.2h0M421.7 323.8h0M414.1 324.4h0M418.3 319.8h0M431.4 301.7h0M427.6 321.0h0M424.9 319.4h0M416.5 310.9h0M415.0 319.9h0M420.3 311.9h0M430.9 254.7h0M422.3 318.3h0M451.1 255.1h0M415.1 310.5h0M436.2 324.8h0M430.3 294.7h0M419.5 325.1h0M424.3 300.7h0M431.9 325.6h0M421.8 320.3h0M419.2 310.8h0M413.1 314.4h0M442.6 267.2h0M416.8 300.0h0M415.1 310.3h0M433.2 311.0h0M413.6 315.1h0M426.7 312.8h0M424.0 291.5h0M415.3 312.8h0M428.9 291.2h0M417.7 272.5h0M416.1 314.7h0M417.6 325.0h0M413.3 327.1h0M417.9 324.4h0M414.1 311.1h0M429.0 325.0h0M413.8 320.3h0M414.5 323.1h0M422.9 315.8h0M413.9 320.5h0M415.5 321.4h0M412.8 327.4h0M430.7 314.0h0M421.2 308.1h0M413.7 316.0h0M434.8 318.6h0M437.0 317.4h0M414.0 314.2h0M420.0 300.0h0M420.2 286.7h0M439.2 296.6h0M415.8 325.5h0M426.0 325.3h0M413.3 317.9h0M415.7 292.5h0M458.7 266.5h0M427.8 305.5h0" stroke="#ff0000" stroke-opacity="0.16" stroke-width="2.2" stroke-linecap="round" fill="none"/>
</g>
<line x1="335" y1="327.49" x2="479.7" y2="327.49" stroke="#c8c8c8" stroke-width="0.9" stroke-dasharray="3,2.2"/>
<g stroke="#1a1a1a" stroke-width="1" fill="none">
<line x1="334.2" y1="221.8" x2="334.2" y2="340.3"/>
<line x1="333.7" y1="339.8" x2="479.7" y2="339.8"/>
<line x1="331.2" y1="334.6" x2="334.2" y2="334.6"/>
<line x1="331.2" y1="307.25" x2="334.2" y2="307.25"/>
<line x1="331.2" y1="279.9" x2="334.2" y2="279.9"/>
<line x1="331.2" y1="252.55" x2="334.2" y2="252.55"/>
<line x1="331.2" y1="225.2" x2="334.2" y2="225.2"/>
<line x1="351.7" y1="339.8" x2="351.7" y2="342.8"/>
<line x1="379.45" y1="339.8" x2="379.45" y2="342.8"/>
<line x1="407.2" y1="339.8" x2="407.2" y2="342.8"/>
<line x1="434.95" y1="339.8" x2="434.95" y2="342.8"/>
<line x1="462.7" y1="339.8" x2="462.7" y2="342.8"/>
</g>
<text transform="translate(324,337.6) scale(0.8782,1)" font-size="8.6" fill="#222">0</text>
<text transform="translate(324,310.25) scale(0.8782,1)" font-size="8.6" fill="#222">5</text>
<text transform="translate(319.8,282.9) scale(0.8782,1)" font-size="8.6" fill="#222">10</text>
<text transform="translate(319.8,255.55) scale(0.8782,1)" font-size="8.6" fill="#222">15</text>
<text transform="translate(319.8,228.2) scale(0.8782,1)" font-size="8.6" fill="#222">20</text>
<text transform="translate(345.25,352.6) scale(0.8843,1)" font-size="8.6" fill="#222">−10</text>
<text transform="translate(375.1,352.6) scale(0.8873,1)" font-size="8.6" fill="#222">−5</text>
<text transform="translate(405.1,352.6) scale(0.8782,1)" font-size="8.6" fill="#222">0</text>
<text transform="translate(432.85,352.6) scale(0.8782,1)" font-size="8.6" fill="#222">5</text>
<text transform="translate(458.5,352.6) scale(0.8782,1)" font-size="8.6" fill="#222">10</text>
<g transform="translate(380,364.7) scale(0.7887,1)" fill="#222">
<text x="0" y="0" font-size="9.5" style="white-space:pre">log</text>
<text x="12.68" y="2" font-size="6.8" style="white-space:pre">2</text>
<text x="16.46" y="0" font-size="9.5" style="white-space:pre"> fold change</text>
</g>
<g transform="translate(313.5,300.9) rotate(-90) scale(0.8001,1)" fill="#222">
<text x="0" y="0" font-size="10" style="white-space:pre">-log</text>
<text x="16.67" y="1.8" font-size="6.5" style="white-space:pre">10</text>
<text x="23.9" y="0" font-size="10" style="white-space:pre"> (padj)</text>
</g>
<g transform="translate(369.2,215.4) scale(0.9993,1)" fill="#222">
<text x="0" y="0" font-size="9" style="white-space:pre">J</text>
<text x="4.5" y="-3.4" font-size="6.8" style="white-space:pre">VF</text>
<text x="13.19" y="0" font-size="9" style="white-space:pre">p</text>
<text x="18.19" y="-3.4" font-size="6.8" style="white-space:pre">−/−</text>
<text x="28.03" y="0" font-size="9" style="white-space:pre">_PEL_MEP</text>
</g>
<g>
<path d="M412.6 499.8h0M421.0 508.4h0M404.7 508.3h0M401.5 505.4h0M399.9 508.8h0M400.0 504.3h0M411.8 505.9h0M381.6 505.1h0M412.1 497.5h0M411.7 510.8h0M405.5 510.9h0M411.6 502.6h0M418.5 505.8h0M430.2 506.1h0M408.8 508.0h0M411.3 500.0h0M411.6 502.8h0M403.1 500.0h0M429.3 507.4h0M411.3 500.8h0M403.7 504.3h0M422.2 506.9h0M402.4 499.3h0M401.5 505.8h0M421.5 509.8h0M408.8 506.3h0M411.2 502.2h0M423.6 506.6h0M403.3 504.0h0M417.3 508.2h0M418.9 510.5h0M429.7 505.0h0M395.2 505.0h0M423.2 505.4h0M412.9 504.6h0M384.6 506.3h0M401.1 504.6h0M411.7 498.2h0M403.2 504.6h0M403.9 509.8h0M417.0 509.4h0M414.0 507.9h0M399.2 510.5h0M412.3 490.8h0M412.2 500.8h0M419.9 506.4h0M409.2 505.0h0M403.1 503.6h0M410.2 504.5h0M402.8 501.6h0M412.3 510.8h0M405.8 510.1h0M399.9 505.5h0M411.3 508.5h0M411.3 500.7h0M412.0 498.5h0M437.5 504.7h0M428.4 505.2h0M411.4 502.0h0M402.0 496.4h0M425.0 508.2h0M409.5 509.0h0M403.7 504.3h0M414.8 510.6h0M410.7 508.9h0M402.1 494.8h0M403.3 508.6h0M407.9 510.5h0M412.1 494.6h0M401.7 502.1h0M407.9 510.1h0M394.5 506.0h0M408.2 509.1h0M399.4 508.9h0M405.7 510.4h0M388.3 506.2h0M405.8 510.9h0M405.7 506.8h0M430.9 506.1h0M401.0 507.3h0M415.5 509.1h0M411.9 503.2h0M412.1 493.7h0M412.4 498.9h0M394.1 506.8h0M402.7 495.7h0M412.1 498.4h0M402.0 496.3h0M404.7 506.4h0M410.3 506.8h0M397.5 507.2h0M427.6 507.7h0M405.6 511.0h0M377.5 505.0h0M401.8 484.5h0M387.1 507.8h0M402.1 487.4h0M391.7 506.1h0M402.8 503.8h0M415.4 508.7h0M432.4 506.5h0M395.9 510.3h0M410.8 504.3h0M381.5 506.7h0M403.6 507.8h0M421.1 508.1h0M397.3 504.4h0M404.3 505.2h0M401.1 509.0h0M413.0 508.3h0M411.5 500.3h0M392.6 508.4h0M402.4 501.9h0M411.2 505.7h0M411.0 504.3h0M400.5 507.3h0M401.0 508.9h0M403.1 502.7h0M418.8 506.7h0M412.0 511.1h0M400.0 504.4h0M403.1 503.2h0M412.3 507.2h0M402.8 500.4h0M416.7 507.3h0M412.8 509.2h0M412.4 492.7h0M402.0 495.4h0M408.2 508.5h0M418.6 506.0h0M417.5 506.8h0M424.7 508.2h0M404.1 509.8h0M411.7 500.9h0M421.4 509.4h0M396.8 507.7h0M403.6 506.1h0M382.6 506.2h0M403.4 504.2h0M411.7 499.1h0M428.2 505.4h0M403.8 504.3h0M396.1 505.0h0M426.9 507.2h0M378.9 504.9h0M403.7 510.8h0M411.3 511.2h0M403.1 500.8h0M423.8 508.6h0M402.1 495.6h0M399.5 507.6h0M385.4 505.5h0M413.4 510.5h0M410.6 504.3h0M419.5 508.2h0M413.4 509.8h0M418.0 510.4h0M396.4 509.1h0M402.7 498.3h0M403.2 502.5h0M409.1 508.1h0M402.8 496.2h0M392.2 510.0h0M412.6 483.6h0M414.5 509.0h0M392.5 508.5h0M402.0 491.2h0M402.0 486.7h0M403.4 504.2h0M405.6 509.5h0M412.6 498.4h0M393.1 508.2h0M421.0 510.1h0M403.2 506.1h0M373.4 504.4h0M418.8 505.5h0M426.0 507.3h0M403.2 503.2h0M401.7 504.5h0M414.7 504.5h0M414.3 506.6h0M403.5 504.3h0M392.2 509.1h0M413.0 508.6h0M403.8 504.3h0M422.7 507.5h0M408.5 510.3h0M403.4 504.2h0M431.1 506.2h0M412.6 488.8h0M394.6 508.4h0M419.6 509.0h0M418.6 509.9h0M400.0 506.3h0M403.5 504.3h0M404.3 504.7h0M403.1 500.6h0M418.3 504.8h0M403.5 504.3h0M412.3 491.4h0M403.8 504.3h0M404.2 508.2h0M409.9 507.1h0M403.2 507.0h0M411.0 504.0h0M407.0 510.4h0M410.8 504.7h0M387.9 504.9h0M412.7 490.5h0M411.3 504.9h0M439.0 504.4h0M416.1 506.4h0M415.2 504.7h0M412.7 484.1h0M402.8 500.4h0M394.5 505.8h0M410.4 507.1h0M414.7 509.7h0M402.1 505.1h0M412.5 501.9h0M408.8 508.7h0M414.4 506.9h0M412.4 492.0h0M410.4 507.7h0M433.2 505.5h0M374.2 504.3h0M421.1 509.9h0M404.2 504.3h0M413.6 505.0h0M422.6 505.9h0M411.9 494.3h0M402.8 502.3h0M418.3 509.6h0M393.7 508.8h0M411.4 510.7h0M412.5 507.7h0M412.5 494.4h0M428.3 508.4h0M402.2 501.8h0M400.5 510.2h0M392.2 508.4h0M396.1 510.0h0M387.4 508.6h0M421.7 507.2h0M402.3 489.3h0M403.8 504.3h0M411.8 498.9h0M416.2 507.6h0M381.3 506.3h0M407.9 508.4h0M428.0 505.5h0M415.4 507.2h0M404.0 506.4h0M400.8 504.4h0M413.4 508.5h0M383.5 504.5h0M412.7 495.5h0M410.9 504.3h0M403.9 508.8h0M412.0 499.1h0M402.1 497.2h0M427.3 506.2h0M397.1 505.4h0M411.4 499.4h0M410.7 504.3h0M407.3 511.1h0M411.8 497.6h0M397.0 508.9h0M400.5 509.7h0M395.7 506.9h0M402.6 505.7h0M399.0 507.9h0M411.5 501.0h0M403.1 509.2h0M403.3 503.5h0M404.3 507.9h0M402.9 503.6h0M410.4 507.7h0M420.7 510.3h0M411.8 498.2h0M401.9 501.9h0M389.0 508.9h0M411.8 504.6h0M402.9 499.8h0M417.3 504.7h0M399.7 509.8h0M392.2 507.7h0M403.1 504.1h0M403.2 509.4h0M411.1 503.7h0M419.0 505.7h0M392.8 509.9h0M409.9 507.7h0M409.9 508.9h0M406.9 510.9h0M411.1 505.1h0M409.4 506.4h0M401.4 509.7h0M418.6 508.6h0M413.9 508.2h0M399.2 510.1h0M411.9 496.0h0M412.0 496.5h0M391.7 507.2h0M398.8 508.1h0M411.5 502.6h0M397.6 510.2h0M410.7 504.3h0M410.7 504.3h0M420.9 508.7h0M414.2 509.3h0M410.6 504.3h0M423.0 507.9h0M386.0 507.7h0M393.6 509.9h0M399.0 505.6h0M397.7 510.3h0M415.8 505.7h0M427.0 507.3h0M412.5 489.2h0M424.3 507.0h0M411.1 502.5h0M411.9 497.9h0M411.3 501.4h0M381.1 507.3h0M423.2 506.5h0M403.1 501.8h0M394.5 507.7h0M410.8 510.9h0M411.7 500.5h0M403.1 502.6h0M402.1 503.7h0M403.0 502.1h0M403.4 506.3h0M403.7 509.6h0M412.5 496.0h0M411.7 508.7h0M398.4 507.0h0M421.9 506.7h0M412.1 496.0h0M382.2 506.6h0M393.9 505.0h0M419.6 507.5h0M389.0 506.8h0M407.2 511.0h0M412.1 502.4h0M399.7 507.5h0M393.1 509.6h0M403.7 504.3h0M389.9 504.8h0M403.4 503.9h0M397.2 507.8h0M384.9 508.0h0M410.8 504.3h0M420.7 509.4h0M397.8 510.6h0M403.7 508.6h0M403.1 503.0h0M411.5 501.3h0M399.3 504.7h0M402.8 500.8h0M412.6 488.7h0M403.3 505.6h0M412.2 490.4h0M412.5 497.6h0M412.9 507.0h0M410.1 507.8h0M431.8 507.7h0M416.5 506.2h0M423.8 508.1h0M399.5 508.8h0M389.8 508.2h0M412.0 501.0h0M402.0 497.7h0M412.3 501.8h0M411.4 499.6h0M412.7 494.7h0M410.8 504.3h0M399.0 508.4h0M402.0 494.7h0M408.7 507.4h0M412.3 511.0h0M441.2 504.4h0M399.8 510.4h0M436.1 505.6h0M403.3 504.4h0M414.2 506.4h0M400.2 504.4h0M412.2 502.6h0M412.4 490.8h0M406.0 507.4h0M408.4 508.4h0M411.2 508.4h0M392.1 507.4h0M382.5 507.7h0M401.8 505.1h0M402.4 495.8h0M399.6 504.5h0M403.1 504.2h0M412.3 495.2h0M411.4 498.3h0M416.1 504.9h0M412.2 505.0h0M419.7 509.2h0M411.4 502.3h0M403.8 504.3h0M383.8 506.1h0M412.0 509.6h0M411.6 498.7h0M412.6 497.4h0M411.1 503.7h0M403.4 504.3h0M415.9 505.6h0M403.8 504.3h0M423.8 506.1h0M413.8 507.5h0M412.1 507.9h0M403.4 506.1h0M393.4 506.0h0M425.5 506.9h0M409.5 505.6h0M393.0 507.4h0M393.7 507.8h0M409.8 511.1h0M403.4 504.3h0M395.6 507.9h0M409.5 509.4h0M391.0 508.8h0M387.4 507.3h0M410.2 509.0h0M403.5 504.3h0M385.7 507.7h0M393.5 509.7h0M411.3 501.0h0M396.2 506.0h0M402.1 490.5h0M392.8 507.9h0M413.4 505.4h0M397.4 510.0h0M408.3 509.5h0M411.9 494.8h0M397.9 504.7h0M403.0 510.0h0M430.3 505.2h0M402.2 503.8h0M415.8 505.1h0M401.7 508.4h0M402.2 493.0h0M397.0 506.3h0M403.1 509.2h0M411.8 501.6h0M399.9 510.8h0M416.8 507.3h0M416.6 508.0h0M423.6 506.7h0M402.1 498.5h0M412.2 507.4h0M396.7 509.8h0M402.9 500.2h0M410.5 509.9h0M408.9 507.7h0M402.2 501.0h0M403.0 503.6h0M381.9 506.7h0M400.5 511.1h0M412.6 501.1h0M421.7 505.2h0M402.9 504.0h0M411.9 498.6h0M397.0 506.6h0M401.9 509.2h0M410.9 510.9h0M380.9 506.6h0M419.7 507.4h0M419.5 506.0h0M410.6 504.3h0M403.7 505.8h0M417.0 510.1h0M429.2 506.9h0M380.0 505.0h0M411.2 503.7h0M396.7 509.9h0M402.5 505.0h0M412.3 502.0h0M400.4 507.4h0M412.6 485.1h0M412.6 486.5h0M411.2 505.0h0M405.1 504.9h0M393.2 504.9h0M403.7 504.3h0M424.7 506.2h0M401.6 506.0h0M418.3 510.1h0M385.8 504.5h0M411.8 495.7h0M412.2 494.8h0M412.3 497.8h0M402.8 499.1h0M403.3 503.9h0M403.4 504.2h0M418.3 510.0h0M416.9 504.7h0M412.3 500.9h0M399.8 507.6h0M412.4 510.3h0M403.0 503.5h0M431.5 504.7h0M402.9 504.3h0M409.7 509.9h0M412.5 490.0h0M398.0 508.6h0M403.5 504.3h0M411.8 502.6h0M410.9 504.3h0M416.8 507.2h0M389.3 506.7h0M403.1 500.9h0M411.6 499.2h0M403.3 503.5h0M408.9 509.6h0M411.6 508.8h0M402.6 494.0h0M398.1 509.7h0M401.7 483.6h0M402.4 493.2h0M412.5 506.6h0M431.2 505.2h0M426.7 506.0h0M412.3 495.9h0M401.9 485.5h0M432.6 506.5h0M395.8 508.8h0M419.1 507.8h0M396.0 507.6h0M403.6 506.3h0M403.4 504.3h0M385.6 508.2h0M413.5 508.2h0M403.1 500.3h0M402.4 508.8h0M411.5 507.9h0M403.6 504.3h0M410.9 504.3h0M408.9 509.3h0M402.6 498.3h0M412.1 501.5h0M415.9 505.0h0M411.4 499.2h0M402.4 497.5h0M420.4 509.3h0M400.8 507.9h0M425.9 507.7h0M412.5 504.4h0M411.1 505.3h0M403.4 510.5h0M411.6 508.6h0M413.9 506.8h0M423.7 509.3h0M412.1 501.0h0M421.9 508.0h0M417.1 506.9h0M397.8 510.5h0M401.7 492.1h0M398.9 510.6h0M384.7 507.8h0M409.0 509.9h0M412.6 483.4h0M401.8 498.4h0M410.8 504.3h0M402.5 500.1h0M402.3 501.9h0M411.6 496.2h0M402.1 489.4h0M409.4 505.1h0M392.0 504.6h0M406.0 509.5h0M399.7 505.3h0M389.0 507.0h0M402.5 510.2h0M411.5 506.1h0M402.8 507.9h0M402.5 492.8h0M387.1 506.2h0M408.0 509.9h0M422.2 508.5h0M437.5 504.9h0M404.9 504.6h0M415.4 508.3h0M412.3 495.9h0M408.8 510.9h0M403.7 504.3h0M397.6 508.0h0M417.7 505.9h0M401.8 498.2h0M408.2 508.5h0M403.7 505.3h0M411.5 501.3h0M387.2 507.8h0M398.7 510.7h0M410.2 505.5h0M412.0 492.8h0M380.6 505.7h0M416.4 504.8h0M411.5 502.5h0M403.0 507.6h0M410.8 504.3h0M425.1 505.8h0M399.8 507.8h0M411.6 499.5h0M410.0 508.8h0M412.5 493.7h0M397.3 504.9h0M425.9 508.1h0M411.1 509.9h0M388.3 504.9h0M411.6 499.1h0M401.6 511.0h0M413.4 509.1h0M402.0 507.1h0M412.4 504.9h0M410.9 504.3h0M412.4 496.9h0M424.1 504.6h0M412.6 494.9h0M388.8 504.7h0M411.5 499.8h0M402.5 510.6h0M414.1 506.1h0M402.2 491.1h0M402.6 510.6h0M410.2 505.0h0M414.3 504.4h0M380.4 504.9h0M418.3 505.7h0M410.3 506.1h0M400.8 504.8h0M416.2 505.8h0M401.8 504.1h0M402.1 508.4h0M411.0 504.0h0M402.2 509.6h0M420.6 504.5h0M409.8 506.3h0M393.4 509.0h0M413.5 505.5h0M411.1 504.2h0M413.1 507.0h0M405.5 509.9h0M395.6 508.8h0M403.5 504.3h0M402.4 502.1h0M393.3 507.3h0M412.3 492.5h0M404.8 507.8h0M401.8 487.5h0M409.1 508.1h0M410.6 504.3h0M403.4 504.0h0M408.5 509.1h0M412.1 490.7h0M418.9 505.9h0M403.0 506.6h0M412.2 506.3h0M395.5 507.8h0M422.6 507.8h0M397.2 504.3h0M402.6 497.3h0M411.7 499.0h0M421.3 509.4h0M424.9 508.9h0M418.3 509.2h0M395.9 508.9h0M410.4 506.9h0" stroke="#bdbdbd" stroke-opacity="0.5" stroke-width="1.7" stroke-linecap="round" fill="none"/>
<path d="M404.1 507.5h0M398.0 508.1h0M403.6 504.3h0M403.3 508.8h0M418.8 505.9h0M403.6 504.3h0M410.5 505.4h0M399.5 505.4h0M411.2 501.9h0M397.3 506.1h0M411.3 502.7h0M418.0 507.3h0M409.5 507.4h0M411.7 495.5h0M408.2 510.7h0M402.9 501.8h0M424.2 506.7h0M403.6 511.1h0M413.0 506.8h0M410.6 504.3h0M398.1 510.5h0M405.0 510.7h0M418.5 504.4h0M410.3 504.9h0M403.6 507.5h0M402.7 500.6h0M407.1 509.8h0M406.4 508.1h0M395.7 510.2h0M392.5 508.4h0M398.8 507.4h0M414.9 505.4h0M396.4 505.8h0M411.7 495.5h0M397.9 509.1h0M403.6 506.8h0M413.3 510.7h0M396.9 509.8h0M391.3 505.4h0M384.8 504.8h0M415.1 507.7h0M412.3 510.5h0M407.3 511.0h0M402.1 504.0h0M411.3 503.7h0M412.4 488.7h0M415.2 510.1h0M412.3 494.4h0M398.2 506.8h0M410.9 504.3h0M403.2 501.2h0M419.9 509.6h0M411.0 504.3h0M408.7 509.9h0M387.8 506.2h0M393.0 509.0h0M407.9 509.0h0M412.0 491.3h0M410.9 504.3h0M410.0 506.5h0M397.7 508.2h0M402.6 506.3h0M402.1 504.7h0M411.0 509.0h0M426.7 506.3h0M412.7 499.7h0M400.8 505.6h0M403.3 504.2h0M409.7 504.3h0M411.6 502.7h0M426.9 507.0h0M401.3 510.1h0M412.2 492.0h0M426.4 504.5h0M391.1 508.5h0M389.4 506.2h0M418.7 506.6h0M412.5 488.6h0M408.4 507.5h0M416.6 507.4h0M432.4 507.3h0M412.1 490.7h0M411.2 503.0h0M418.6 508.8h0M411.4 503.3h0M397.4 508.4h0M403.8 509.1h0M399.2 504.9h0M400.5 510.9h0M390.3 505.0h0M391.1 506.4h0M400.3 504.6h0M397.4 509.2h0M409.6 507.1h0M404.3 504.3h0M403.0 510.2h0M394.2 505.6h0M412.7 495.6h0M404.5 505.5h0M422.0 505.9h0M402.2 502.4h0M403.0 504.0h0M403.4 504.2h0M392.5 508.8h0M410.8 504.3h0M412.6 504.2h0M412.2 509.4h0M413.1 506.7h0M409.6 509.1h0M412.6 503.8h0M386.4 506.0h0M403.3 503.0h0M401.4 506.0h0M411.1 504.0h0M403.9 510.8h0M429.2 508.2h0M403.6 507.1h0M402.0 487.8h0M401.8 509.2h0M397.0 504.7h0M388.1 504.3h0M411.3 510.4h0M410.6 504.3h0M414.2 507.8h0M394.1 505.9h0M412.5 500.6h0M428.8 507.9h0M402.2 491.1h0M423.5 507.9h0M402.0 498.1h0M410.6 504.6h0M402.0 486.6h0M395.4 508.5h0M419.9 506.6h0M391.9 507.9h0M406.2 510.2h0M412.8 506.8h0M398.8 506.9h0M395.5 505.3h0M419.1 506.3h0M413.8 507.5h0M387.0 505.3h0M411.2 510.1h0M418.7 510.2h0M402.7 500.4h0M415.7 509.0h0M412.3 498.6h0M412.4 501.8h0M396.1 510.5h0M410.6 504.3h0M415.2 509.8h0M405.4 510.2h0M402.8 495.8h0M411.4 503.0h0M416.2 505.9h0M427.8 506.5h0M403.3 504.1h0M413.9 504.7h0M410.4 508.2h0M416.6 509.0h0M422.2 509.0h0M424.2 505.6h0M411.1 503.3h0M399.9 505.3h0M418.0 507.0h0M401.7 508.5h0M411.5 498.1h0M393.2 508.9h0M402.4 504.6h0M403.0 507.6h0M393.5 507.4h0M403.7 504.3h0M407.3 510.1h0M411.6 508.7h0M411.2 506.2h0M402.8 503.2h0M420.5 508.1h0M395.0 504.3h0M411.4 501.1h0M418.5 510.5h0M384.4 506.5h0M411.1 507.1h0M403.8 506.9h0M423.9 509.2h0M411.4 499.2h0M417.7 504.4h0M415.9 506.2h0M403.1 500.4h0M414.4 509.8h0M398.7 508.5h0M391.5 504.5h0M412.4 492.5h0M416.2 505.6h0M402.0 498.2h0M421.5 507.6h0M411.0 504.3h0M409.2 508.8h0M403.3 503.2h0M422.4 505.0h0M410.9 504.3h0M400.3 505.9h0M415.2 504.3h0M413.1 505.3h0M395.5 508.2h0M415.9 505.5h0M401.3 509.7h0M410.8 505.7h0M415.2 509.4h0M396.5 506.1h0M402.2 503.2h0M390.0 508.4h0M403.6 504.3h0M412.1 491.4h0M410.7 504.3h0M401.9 509.8h0M411.9 496.4h0M411.8 501.8h0M411.7 508.2h0M382.0 507.3h0M409.8 506.7h0M393.1 507.4h0M422.9 508.2h0M412.6 505.3h0M426.9 508.0h0M412.4 488.2h0M411.4 502.3h0M410.6 504.8h0M393.7 505.1h0M399.8 505.6h0M406.7 509.2h0M411.8 496.2h0M401.0 509.4h0M399.9 505.4h0M414.3 506.6h0M405.7 511.2h0M390.0 504.6h0M420.8 506.9h0M397.5 504.7h0M387.0 508.5h0M405.6 508.3h0M403.1 500.6h0M403.6 504.3h0M397.7 509.1h0M386.2 504.6h0M409.5 509.0h0M409.9 505.6h0M402.3 508.3h0M411.3 500.6h0M419.3 507.4h0M409.2 509.5h0M403.7 508.7h0M411.7 503.0h0M401.7 489.0h0M420.8 505.5h0M411.2 501.8h0M400.2 510.2h0M410.6 504.3h0M401.8 501.6h0M413.4 509.5h0M395.2 508.0h0M418.4 508.3h0M395.9 508.8h0M402.1 500.0h0M412.5 495.3h0M410.2 509.4h0M404.5 506.0h0M382.9 506.4h0M402.6 503.0h0M395.0 506.0h0M399.1 505.9h0M416.7 504.8h0M416.3 507.1h0M394.7 510.0h0M403.4 504.3h0M414.8 507.9h0M410.8 504.3h0M412.4 504.0h0M402.4 496.5h0M392.7 508.8h0M396.0 509.5h0M403.1 509.0h0M395.7 506.8h0M411.7 497.6h0M403.8 504.3h0M411.5 499.4h0M423.5 505.9h0M398.1 506.7h0M403.3 506.8h0M415.6 510.8h0M398.2 507.0h0M411.8 506.6h0M395.6 504.8h0M412.5 504.6h0M418.5 504.3h0M400.7 506.8h0M403.3 503.3h0M397.2 508.4h0M402.1 499.1h0M410.7 504.3h0M399.8 511.1h0M402.9 498.9h0M402.0 506.3h0M396.3 505.8h0M423.7 506.5h0M414.8 510.0h0M401.7 510.4h0M402.3 492.5h0M410.6 505.5h0M406.4 510.6h0M409.9 511.1h0M390.3 508.4h0M417.4 509.3h0M395.3 505.0h0M398.9 505.5h0M411.9 495.7h0M410.8 506.9h0M402.8 499.0h0M388.9 506.2h0M432.0 504.5h0M411.9 510.8h0M411.8 506.0h0M411.7 499.9h0M419.6 508.1h0M413.5 507.8h0M411.4 510.5h0M403.7 504.3h0M411.3 505.9h0M410.7 504.3h0M382.8 505.1h0M435.2 504.9h0M397.8 506.0h0M412.4 503.2h0M431.5 507.4h0M399.8 507.6h0M379.2 505.4h0M411.2 504.2h0M386.0 505.6h0M410.6 508.2h0M402.6 504.4h0M397.5 508.5h0M404.8 505.5h0M404.4 510.7h0M402.0 497.7h0M414.4 506.1h0M415.9 509.0h0M410.6 504.3h0M385.2 507.2h0M431.1 507.4h0M413.3 507.5h0M416.1 507.5h0M401.7 490.5h0M404.1 509.8h0M408.8 508.6h0M419.5 506.4h0M402.3 510.3h0M385.0 505.2h0M398.0 506.7h0M408.3 510.7h0M402.3 491.6h0M421.7 509.6h0M417.7 504.8h0M413.8 508.2h0M411.4 502.9h0M402.8 502.5h0M423.3 504.4h0M417.9 509.5h0M412.3 496.3h0M422.1 506.6h0M421.3 509.5h0M411.5 500.3h0M401.7 490.9h0M402.0 501.9h0M416.3 509.8h0M411.4 499.7h0M419.6 505.4h0M413.3 509.5h0M418.0 505.2h0M392.6 509.3h0M420.2 507.9h0M388.8 505.4h0M398.3 507.7h0M399.1 507.9h0M416.2 506.8h0M403.7 504.3h0M406.7 510.3h0M417.4 507.0h0M388.2 508.6h0M402.6 495.2h0M416.2 507.5h0M414.0 506.2h0M393.8 509.1h0M409.7 504.8h0M411.0 504.3h0M417.7 506.6h0M406.4 508.8h0M403.6 504.3h0M394.2 505.3h0M425.0 507.9h0M402.2 497.2h0M409.9 508.2h0M425.7 508.9h0M401.8 495.3h0M408.4 506.7h0M411.5 501.4h0M412.1 508.2h0M412.5 494.0h0M419.8 505.1h0M429.7 505.7h0M411.0 504.0h0M406.2 508.6h0M402.3 492.5h0M411.3 504.1h0M388.9 505.0h0M413.2 508.9h0M395.2 507.0h0M412.5 503.9h0M416.8 507.4h0M402.4 492.1h0M384.1 504.6h0M408.8 508.9h0M402.7 499.8h0M403.1 501.9h0M414.4 506.9h0M422.0 505.6h0M409.4 510.0h0M411.8 501.0h0M406.5 509.3h0M388.1 505.9h0M413.6 509.1h0M413.6 508.7h0M410.0 507.0h0M431.9 507.5h0M410.4 508.8h0M400.0 508.4h0M404.5 505.6h0M403.7 504.3h0M388.7 505.0h0M411.6 504.0h0M399.2 509.1h0M403.7 504.3h0M411.2 504.0h0M412.6 483.1h0M412.3 504.8h0M411.9 503.5h0M404.8 505.8h0M419.1 505.8h0M409.0 505.9h0M403.9 504.3h0M413.1 506.9h0M396.7 505.6h0M417.7 508.7h0M412.7 483.3h0M410.8 507.7h0M411.9 511.1h0M438.1 504.7h0M412.0 507.5h0M391.0 508.7h0M409.9 506.4h0M402.6 497.8h0M409.3 510.1h0M408.7 510.3h0M374.2 504.7h0M410.3 510.7h0M410.0 509.4h0M416.6 505.6h0M403.4 504.0h0M403.5 508.1h0M390.5 506.2h0M402.8 506.5h0M395.2 504.4h0M401.9 495.7h0M414.0 510.0h0M418.3 504.4h0M405.2 505.5h0M411.7 511.0h0M435.3 504.5h0M417.0 506.9h0M386.6 507.6h0M421.2 504.6h0M418.9 506.4h0M400.7 507.3h0M392.9 506.2h0M403.6 510.5h0M400.1 504.8h0M381.9 504.8h0M402.8 501.9h0M403.3 504.0h0M405.2 506.9h0M412.1 498.0h0M401.7 486.9h0M409.7 507.2h0M420.2 508.0h0M410.8 504.7h0M390.5 508.4h0M416.9 505.7h0M412.6 498.4h0M403.1 503.0h0M420.0 509.7h0M406.3 509.6h0M400.1 509.1h0M403.2 504.9h0M402.3 502.1h0M425.1 508.3h0M403.4 503.9h0M424.1 505.5h0M403.5 504.3h0M393.6 507.9h0M416.2 508.2h0M411.3 502.8h0M412.1 495.3h0M400.0 505.1h0M412.1 501.1h0M411.5 506.5h0M402.8 503.1h0M411.7 510.5h0M432.3 504.8h0M396.3 505.2h0M410.9 507.1h0M413.9 510.1h0M403.2 501.7h0M404.1 505.0h0M416.1 505.8h0M402.8 500.8h0M422.8 505.2h0M409.1 509.8h0M412.9 509.6h0M432.1 506.3h0M403.5 504.3h0M419.5 508.5h0M401.9 506.9h0M413.0 508.9h0M403.3 510.2h0M398.4 506.0h0M403.7 504.3h0M388.1 504.7h0M411.7 496.6h0M418.7 506.4h0M407.8 509.3h0M402.4 507.4h0M402.5 510.2h0M394.6 508.9h0M404.0 508.8h0M414.8 506.8h0M402.3 502.3h0M410.6 505.5h0M396.6 509.0h0M412.5 510.4h0M401.0 504.7h0M416.8 507.8h0M412.1 500.5h0M400.3 509.0h0M381.1 506.2h0M400.7 504.3h0M412.7 490.1h0M399.2 504.8h0M422.8 508.5h0M401.9 491.9h0M405.4 509.6h0M410.8 504.3h0M428.7 507.4h0M426.5 507.4h0M411.7 503.8h0M415.8 506.2h0M410.7 504.3h0M412.2 491.0h0M429.5 506.8h0M403.3 504.8h0M412.2 505.6h0M405.4 509.0h0M402.1 502.2h0M409.8 509.6h0M410.4 504.7h0M416.1 505.8h0M410.2 508.4h0M401.8 483.2h0M405.8 506.8h0M391.6 504.9h0M401.4 510.3h0M420.8 506.6h0M403.8 504.3h0M420.2 506.9h0M410.2 508.7h0M402.5 492.1h0M403.2 502.5h0M422.6 506.5h0M402.6 494.2h0M393.3 505.0h0M420.1 506.4h0M402.9 505.7h0M399.8 510.2h0M402.2 498.2h0M400.8 506.3h0M402.8 497.7h0M414.8 504.8h0M433.2 506.8h0M412.7 506.6h0M435.6 505.8h0M411.3 501.2h0M414.5 508.0h0M422.1 507.7h0M391.8 505.9h0M412.6 508.8h0M402.5 500.1h0M389.4 507.2h0M412.4 499.6h0M399.0 504.8h0M420.9 505.2h0M401.9 493.5h0M390.7 509.5h0M412.4 497.6h0M413.5 504.8h0M438.1 505.3h0M411.2 506.2h0M401.8 500.0h0M403.0 501.8h0M408.3 507.4h0M418.4 505.8h0M402.9 507.9h0M424.4 508.6h0M405.6 507.5h0M420.3 509.8h0M402.7 498.4h0M407.0 510.1h0M403.6 504.3h0M412.7 505.8h0M432.8 505.4h0M419.6 507.2h0M419.4 509.7h0M413.3 505.2h0M411.1 503.9h0M412.9 510.0h0M396.7 505.7h0M423.1 508.9h0M394.4 508.5h0M412.7 490.2h0M390.7 507.5h0M391.7 509.9h0M420.6 507.2h0M411.5 506.8h0M410.8 504.3h0M402.5 501.0h0M422.1 505.1h0M414.7 506.0h0M411.0 504.1h0M428.0 505.9h0M409.2 506.7h0M419.6 504.9h0M411.5 500.7h0M394.0 507.2h0M412.7 496.9h0M401.9 484.6h0M423.8 508.0h0M426.6 506.1h0M403.2 503.8h0M411.5 503.1h0M404.3 508.0h0M411.2 502.0h0M401.6 507.2h0M401.8 495.5h0M402.2 498.6h0M411.0 503.6h0M410.6 504.3h0M414.3 505.2h0M392.8 509.3h0M421.5 507.5h0M377.9 504.6h0M402.5 505.3h0M412.9 511.0h0M397.3 505.1h0M410.2 508.2h0M420.7 507.9h0M402.7 504.4h0M412.4 486.5h0M407.5 509.8h0" stroke="#bdbdbd" stroke-opacity="0.5" stroke-width="1.7" stroke-linecap="round" fill="none"/>
<path d="M404.0 510.4h0M413.8 506.8h0M403.0 500.1h0M421.7 508.5h0M386.7 508.1h0M405.8 507.1h0M403.9 504.3h0M385.1 506.9h0M413.8 507.4h0M390.0 505.1h0M403.8 504.3h0M409.8 504.9h0M415.4 506.8h0M396.1 506.2h0M402.6 498.5h0M403.0 501.5h0M400.1 505.0h0M433.9 507.0h0M402.2 502.2h0M403.0 499.0h0M402.8 506.0h0M411.8 500.6h0M411.2 502.5h0M404.0 510.0h0M415.3 508.9h0M397.9 510.7h0M406.0 508.1h0M410.8 506.6h0M395.6 508.6h0M405.5 509.7h0M401.9 510.9h0M403.2 506.6h0M398.5 506.7h0M421.3 506.0h0M380.8 506.3h0M403.0 499.1h0M403.0 499.9h0M422.9 508.6h0M410.1 511.0h0M406.2 510.8h0M408.3 508.7h0M403.9 508.6h0M401.4 507.0h0M402.6 500.9h0M402.0 500.4h0M412.2 495.8h0M402.4 496.2h0M395.5 508.7h0M411.8 494.6h0M403.2 507.5h0M403.7 506.2h0M415.3 509.4h0M415.4 507.5h0M401.9 490.5h0M402.7 506.0h0M410.9 504.3h0M391.3 508.4h0M411.3 503.0h0M415.8 505.8h0M411.5 501.6h0M403.8 506.7h0M410.6 504.3h0M411.7 504.3h0M417.2 505.5h0M401.8 506.8h0M404.4 505.8h0M411.9 501.1h0M409.6 507.5h0M411.5 502.5h0M409.5 505.4h0M414.1 510.6h0M419.1 505.2h0M425.2 509.2h0M391.8 509.5h0M428.7 506.8h0M409.1 508.4h0M426.1 508.0h0M422.0 504.8h0M405.2 506.3h0M402.2 503.8h0M400.3 511.0h0M423.9 509.0h0M418.3 505.4h0M388.9 507.9h0M418.8 508.1h0M407.4 509.2h0M433.3 504.7h0M414.2 510.8h0M412.1 508.6h0M403.0 505.0h0M420.8 508.1h0M402.0 492.4h0M411.4 503.9h0M412.6 501.7h0M403.8 506.7h0M402.1 504.0h0M394.1 510.1h0M403.5 504.3h0M403.7 504.3h0M410.4 506.5h0M403.8 504.3h0M402.2 505.7h0M411.1 506.2h0M402.7 508.5h0M409.0 510.7h0M417.5 509.0h0M381.2 506.9h0M396.9 507.4h0M405.5 509.4h0M391.2 504.6h0M412.5 494.0h0M405.5 505.9h0M406.1 507.1h0M408.2 509.1h0M431.0 505.0h0M412.1 498.6h0M402.3 505.7h0M402.7 495.2h0M417.1 504.8h0M392.4 505.2h0M412.0 493.3h0M410.0 507.8h0M421.3 508.8h0M410.9 504.3h0M415.2 504.3h0M400.1 506.0h0M414.5 504.9h0M409.7 504.6h0M374.7 504.9h0M413.6 510.9h0M413.5 510.5h0M411.7 499.6h0M411.3 502.2h0M389.1 508.0h0M402.5 501.4h0M383.5 504.7h0M402.5 493.5h0M412.5 486.1h0M410.7 504.3h0M385.1 505.0h0M403.8 504.3h0M395.6 509.4h0M412.2 498.9h0M412.8 504.3h0M409.1 509.6h0M398.1 509.7h0M401.7 482.5h0M410.9 504.3h0M412.5 485.1h0M411.5 500.8h0M398.4 509.7h0M428.2 506.2h0M402.5 493.9h0M412.6 505.0h0M398.9 510.8h0M384.9 504.3h0M409.4 509.7h0M396.9 506.9h0M410.1 505.4h0M402.7 501.8h0M426.9 506.6h0M389.0 505.7h0M410.2 507.5h0M394.8 507.4h0M406.9 510.4h0M400.7 507.0h0M415.0 504.8h0M402.9 505.7h0M414.0 510.5h0M417.7 508.6h0M413.8 504.6h0M398.6 507.0h0M416.6 505.0h0M414.5 504.4h0M395.6 509.6h0M411.4 501.4h0M412.3 492.3h0M418.7 509.2h0M401.3 505.4h0M416.4 508.6h0M404.4 510.8h0M419.9 509.2h0M392.3 509.4h0M398.9 504.7h0M407.7 508.8h0M408.4 510.2h0M403.1 501.9h0M398.1 504.6h0M392.3 508.6h0M429.8 504.5h0M401.8 489.7h0M402.6 500.0h0M421.0 509.0h0M426.5 504.7h0M392.9 507.9h0M424.6 507.4h0M396.1 508.7h0M413.3 510.5h0M413.7 506.4h0M402.5 499.4h0M394.1 509.5h0M405.0 510.0h0M411.9 499.1h0M411.2 507.7h0M403.1 504.6h0M398.0 509.2h0M427.9 506.0h0M405.8 508.2h0M399.4 506.8h0M421.8 509.8h0M412.3 491.0h0M413.9 507.7h0M403.3 503.3h0M400.7 505.8h0M413.5 508.2h0M409.8 511.0h0M403.1 506.1h0M398.6 506.5h0M402.3 498.0h0M411.2 507.7h0M414.8 505.8h0M401.7 500.7h0M392.6 510.0h0M396.7 509.4h0M397.8 510.3h0M404.4 511.1h0M411.1 504.2h0M420.0 510.2h0M402.4 500.5h0M414.9 509.3h0M400.0 506.2h0M410.7 504.3h0M413.0 507.1h0M424.1 507.2h0M417.3 507.2h0M414.9 507.3h0M409.4 509.6h0M418.3 505.7h0M411.8 494.7h0M389.6 508.7h0M411.3 501.5h0M408.9 508.4h0M411.4 510.6h0M415.2 510.5h0M414.2 505.2h0M432.5 505.0h0M411.1 503.3h0M423.3 504.5h0M412.2 506.7h0M412.6 487.3h0M402.9 499.0h0M399.1 505.6h0M404.5 506.3h0M397.0 509.8h0M421.2 507.6h0M411.2 507.8h0M405.2 510.3h0M402.8 499.5h0M410.5 506.6h0M395.4 508.2h0M403.4 504.2h0M401.9 509.7h0M411.9 507.8h0M396.1 506.1h0M416.5 504.6h0M413.1 510.4h0M397.7 505.5h0M407.9 510.2h0M417.7 507.8h0M411.6 500.3h0M417.1 510.5h0M382.9 506.5h0M412.4 499.9h0M402.8 497.7h0M409.9 504.7h0M398.5 509.7h0M412.1 493.6h0M411.5 503.0h0M401.1 510.5h0M418.2 504.8h0M412.8 508.1h0M410.6 504.3h0M412.0 504.5h0M408.8 508.5h0M402.8 502.2h0M385.5 508.3h0M409.0 506.4h0M417.8 507.1h0M412.6 491.9h0M401.6 507.7h0M406.3 510.3h0M412.7 493.1h0M402.9 498.6h0M421.9 504.9h0M402.5 493.0h0M382.6 506.8h0M412.9 507.7h0M420.3 505.5h0M405.5 506.1h0M375.2 504.5h0M409.5 508.3h0M430.3 507.7h0M386.7 506.2h0M422.5 506.1h0M416.6 505.5h0M399.7 506.8h0M417.5 504.6h0M412.3 491.7h0M411.6 502.8h0M402.2 505.3h0M410.7 504.3h0M405.7 506.4h0M411.6 497.9h0M402.0 502.7h0M422.4 506.1h0M409.1 510.2h0M411.4 503.7h0M412.0 499.0h0M400.9 506.6h0M411.7 496.6h0M412.6 498.9h0M381.8 506.4h0M402.4 504.4h0M405.8 509.0h0M412.6 493.6h0M401.0 508.1h0M402.6 508.0h0M397.6 507.7h0M411.4 510.6h0M411.8 509.6h0M411.0 504.0h0M407.1 509.8h0M404.9 507.3h0M387.4 508.7h0M394.1 510.1h0M418.6 510.3h0M421.2 508.8h0M399.0 506.0h0M412.3 500.5h0M412.2 489.5h0M433.9 505.5h0M426.9 504.6h0M395.3 507.9h0M414.1 507.1h0M406.9 510.3h0M405.4 508.5h0M402.5 498.4h0M402.0 487.7h0M395.6 504.6h0M398.8 508.5h0M416.8 507.9h0M403.7 504.3h0M402.0 501.2h0M425.7 509.1h0M404.8 507.7h0M410.5 510.6h0M415.7 505.8h0M421.0 505.0h0M411.3 504.2h0M405.6 506.1h0M398.5 506.2h0M412.0 501.6h0M396.8 504.3h0M399.7 505.3h0M395.9 506.1h0M396.4 507.8h0M411.0 504.3h0M412.5 505.4h0M399.4 504.8h0M410.7 507.2h0M411.4 510.3h0M408.4 510.4h0M423.2 508.4h0M402.0 508.0h0M392.0 505.2h0M392.9 507.4h0M414.0 506.4h0M405.1 505.9h0M405.9 507.5h0M411.9 511.1h0M403.2 502.8h0M423.1 508.1h0M411.3 501.4h0M421.3 506.3h0M412.3 505.1h0M421.6 505.2h0M409.4 511.2h0M403.8 504.3h0M399.0 508.0h0M403.1 501.7h0M389.3 504.5h0M427.3 505.0h0M412.7 482.7h0M401.8 494.9h0M421.1 508.5h0M404.9 507.0h0M402.8 500.3h0M402.7 500.9h0M420.8 505.3h0M403.4 510.6h0M418.1 510.0h0M403.0 498.5h0M388.0 505.4h0M388.2 505.5h0M410.7 504.3h0M413.5 506.2h0M402.1 490.2h0M405.5 511.1h0M410.3 507.1h0M411.1 503.1h0M415.2 511.0h0M411.7 496.6h0M385.0 507.6h0M406.1 508.7h0M416.8 504.6h0M401.2 507.9h0M401.2 510.4h0M403.3 502.6h0M391.9 505.5h0M412.3 488.8h0M402.7 500.7h0M412.6 493.2h0M414.1 507.5h0M401.8 506.4h0M389.1 505.5h0M415.9 508.3h0M395.1 509.0h0M406.3 510.5h0M403.2 510.8h0M411.9 494.0h0M412.6 484.8h0M390.4 505.5h0M403.4 504.3h0M411.0 504.3h0M428.2 504.8h0M414.9 505.0h0M399.3 504.6h0M414.6 505.1h0M388.2 509.2h0M403.5 507.3h0M411.6 503.8h0M412.4 506.8h0M398.7 504.3h0M412.4 509.4h0M412.5 502.2h0M405.5 511.3h0M398.8 504.9h0M402.9 497.7h0M409.8 510.9h0M394.3 506.2h0M403.0 503.2h0M404.8 511.0h0M401.3 506.6h0M412.1 495.9h0M417.1 509.8h0M420.0 509.9h0M402.8 503.7h0M403.7 504.3h0M402.7 498.1h0M399.3 507.2h0M402.3 505.2h0M423.2 505.4h0M398.4 509.6h0M397.1 510.6h0M411.0 510.4h0M406.2 509.7h0M402.2 489.9h0M423.7 505.1h0M399.3 511.0h0M412.6 493.3h0M404.3 508.3h0M411.4 502.5h0M412.1 496.6h0M399.2 506.6h0M404.9 506.8h0M416.0 510.9h0M403.8 504.3h0M411.0 506.1h0M405.8 508.0h0M409.4 504.6h0M410.6 504.3h0M419.1 507.2h0M382.7 505.7h0M410.6 504.3h0M391.6 506.0h0M411.6 502.9h0M410.8 504.3h0M415.9 504.8h0M403.0 504.9h0M404.3 504.9h0M400.8 507.3h0M417.2 504.8h0M399.0 505.9h0M400.5 510.2h0M401.8 503.5h0M402.3 511.1h0M407.8 510.3h0M386.1 508.5h0M434.2 504.7h0M411.7 503.8h0M410.7 504.3h0M423.1 506.8h0M417.7 508.8h0M402.1 488.7h0M386.2 508.7h0M410.6 504.3h0M416.6 507.6h0M414.8 504.9h0M422.8 506.0h0M416.2 505.1h0M402.7 495.5h0M411.0 503.8h0M410.9 509.8h0M418.5 508.4h0M416.4 507.7h0M412.3 494.7h0M414.9 506.2h0M410.8 504.3h0M402.9 498.1h0M404.6 506.8h0M394.7 506.1h0M397.4 510.1h0M409.3 510.3h0M402.8 506.7h0M395.2 509.1h0M402.2 496.8h0M425.6 505.6h0M429.1 508.2h0M405.8 507.3h0M399.1 508.1h0M401.5 506.1h0M412.4 487.7h0M410.6 506.7h0M415.9 508.4h0M434.4 505.3h0M403.5 504.3h0M402.6 497.5h0M420.4 509.2h0M400.4 505.5h0M390.2 505.4h0M424.9 508.6h0M411.6 497.7h0M411.3 508.9h0M424.5 509.5h0M401.9 500.9h0M397.0 508.8h0M418.7 508.1h0M382.7 506.3h0M421.3 506.5h0M411.2 510.7h0M413.5 510.6h0M412.7 483.2h0M410.4 505.5h0M424.2 508.7h0M400.3 510.2h0M407.5 509.7h0M411.2 502.0h0M397.9 507.5h0M403.6 504.3h0M410.6 504.3h0M405.3 509.5h0M404.6 509.3h0M414.5 505.8h0M403.3 504.1h0M413.1 508.0h0M409.4 507.8h0M411.1 511.2h0M404.6 508.6h0M389.6 505.1h0M392.1 506.1h0M420.0 504.7h0M383.2 504.6h0M419.9 507.1h0M403.3 503.6h0M411.4 499.3h0M402.2 495.4h0M402.7 498.1h0M403.6 504.3h0M410.2 506.3h0M399.2 506.2h0M415.2 510.5h0M403.4 504.1h0M403.7 504.3h0M392.7 506.3h0M416.1 510.9h0M383.9 505.4h0M398.8 508.6h0M412.2 506.2h0M411.4 507.4h0M398.7 506.4h0M401.3 508.4h0M398.0 507.1h0M421.0 508.4h0M411.4 499.1h0M385.7 507.2h0M403.5 504.3h0M421.7 505.8h0M412.7 509.5h0M402.6 496.9h0M421.2 505.6h0M400.1 509.4h0M401.7 489.1h0M402.6 497.8h0M403.6 504.3h0M402.3 511.1h0M417.4 509.6h0M398.6 508.7h0M412.7 496.6h0M411.9 505.9h0M420.9 510.0h0M412.7 501.5h0M395.1 505.8h0M421.7 508.6h0M441.4 504.3h0M413.2 505.5h0M406.3 510.4h0M383.6 504.5h0M389.7 506.6h0M405.2 507.7h0M409.3 506.5h0M402.8 509.5h0M423.8 509.7h0M403.6 510.8h0M421.7 506.7h0M414.2 504.7h0M402.4 494.2h0M399.2 507.1h0M395.6 508.6h0M420.7 510.2h0M404.2 505.9h0M405.3 509.0h0M401.9 497.2h0M411.7 500.3h0M410.7 504.3h0M405.3 510.1h0M396.1 507.5h0M403.3 510.7h0M393.4 507.5h0M403.5 508.8h0M412.4 485.9h0M402.7 504.3h0M403.9 507.5h0M402.5 503.0h0M420.5 509.9h0M402.9 499.1h0M402.1 497.9h0M409.0 505.8h0M392.3 509.4h0M399.0 509.8h0M413.6 504.6h0M403.2 502.7h0M391.8 509.1h0M401.7 489.3h0M403.4 504.7h0M398.3 506.2h0M401.9 506.3h0M390.6 507.9h0M403.1 504.3h0M409.7 508.7h0M412.6 503.4h0M402.8 502.9h0M407.0 510.7h0M401.9 494.4h0M397.3 505.2h0M400.6 509.7h0M418.8 504.5h0M411.3 504.3h0M411.9 494.7h0M403.1 503.9h0M403.1 502.3h0M391.0 506.7h0M402.6 494.4h0M403.0 504.0h0M393.2 504.9h0" stroke="#bdbdbd" stroke-opacity="0.5" stroke-width="1.7" stroke-linecap="round" fill="none"/>
<path d="M402.1 493.4h0M398.4 510.5h0M417.3 507.1h0M406.1 509.6h0M404.9 506.4h0M401.7 493.5h0M423.7 504.4h0M412.4 501.0h0M412.7 509.1h0M402.5 501.7h0M430.6 505.4h0M412.4 508.7h0M403.4 505.9h0M395.3 507.8h0M431.4 507.5h0M409.1 508.2h0M410.6 504.3h0M403.0 510.4h0M412.3 493.4h0M419.8 507.4h0M423.2 505.5h0M410.4 505.9h0M402.1 499.5h0M412.4 509.9h0M405.3 510.3h0M409.1 505.2h0M401.9 494.2h0M401.9 493.5h0M401.3 504.7h0M404.1 506.0h0M408.5 506.6h0M403.8 504.3h0M411.8 510.3h0M397.6 506.1h0M394.2 509.3h0M413.0 511.0h0M402.0 486.5h0M403.9 506.1h0M431.1 505.2h0M423.4 509.8h0M403.7 504.3h0M412.0 491.1h0M407.1 509.6h0M404.7 511.1h0M432.4 507.1h0M401.9 509.0h0M403.7 504.3h0M398.3 505.4h0M409.8 507.5h0M385.6 506.0h0M416.7 507.9h0M399.9 510.1h0M383.3 507.1h0M409.3 507.4h0M410.2 504.8h0M412.5 486.2h0M402.4 495.5h0M411.8 499.0h0M402.2 499.3h0M410.6 504.3h0M416.7 506.1h0M401.7 505.3h0M401.8 508.2h0M412.4 492.2h0M402.6 506.4h0M420.1 508.3h0M429.8 505.0h0M418.3 509.5h0M400.0 511.1h0M401.7 490.0h0M403.8 507.1h0M412.6 506.6h0M397.7 509.8h0M402.9 503.9h0M389.8 508.4h0M433.2 506.1h0M412.9 510.0h0M410.8 504.3h0M397.2 509.1h0M418.6 508.4h0M411.1 502.8h0M390.1 507.3h0M403.9 510.6h0M389.2 506.6h0M402.3 492.3h0M403.2 504.2h0M396.3 505.5h0M410.3 505.4h0M405.2 509.1h0M403.3 503.3h0M408.7 509.3h0M409.6 509.5h0M407.2 510.7h0M413.1 509.8h0M387.5 504.5h0M411.5 506.9h0M415.5 505.9h0M400.4 506.0h0M408.4 509.3h0M417.7 508.7h0M387.7 505.7h0M411.7 498.6h0M409.7 504.5h0M388.7 506.8h0M396.4 510.4h0M401.1 506.4h0M402.1 505.8h0M395.5 506.5h0M402.6 498.7h0M411.5 501.2h0M397.3 510.6h0M405.1 504.9h0M416.8 509.3h0M407.5 510.8h0M411.4 501.1h0M418.9 509.0h0M402.7 508.8h0M401.6 510.5h0M402.3 496.4h0M386.8 507.7h0M402.9 500.3h0M417.2 506.0h0M411.0 506.8h0M406.2 510.1h0M402.6 496.4h0M405.9 510.8h0M393.5 505.4h0M427.7 505.9h0M393.6 507.1h0M402.9 503.9h0M408.0 508.0h0M410.7 504.3h0M417.5 507.7h0M388.8 505.6h0M425.6 505.2h0M398.6 508.5h0M403.5 504.3h0M393.4 508.2h0M411.6 498.1h0M412.7 491.1h0M413.3 508.0h0M438.7 504.8h0M397.9 507.5h0M399.6 504.9h0M405.9 510.2h0M415.2 507.2h0M403.8 510.5h0M391.7 509.3h0M404.4 511.2h0M407.5 510.3h0M398.4 506.9h0M392.3 507.1h0M400.8 510.6h0M402.2 508.7h0M416.0 509.0h0M416.5 509.5h0M413.9 508.1h0M403.7 509.3h0M396.5 507.9h0M412.5 502.7h0M411.2 509.8h0M415.0 505.5h0M390.8 509.0h0M405.2 509.6h0M417.9 508.7h0M402.0 489.7h0M403.1 504.0h0M421.1 506.8h0M394.5 509.7h0M419.6 510.0h0M402.2 489.8h0M396.9 510.0h0M410.9 505.3h0M402.5 502.3h0M411.3 501.1h0M411.0 503.6h0M412.6 508.1h0M411.5 504.4h0M413.3 508.5h0M398.2 505.2h0M404.1 508.1h0M402.2 496.5h0M411.1 508.4h0M393.2 507.4h0M404.1 509.1h0M411.5 498.7h0M426.5 506.7h0M395.2 504.6h0M391.8 507.4h0M409.9 510.1h0M412.4 504.8h0M413.3 504.6h0M405.0 505.8h0M412.5 493.1h0M391.9 506.5h0M402.1 490.9h0M399.8 509.3h0M401.4 507.6h0M414.8 504.4h0M393.2 506.6h0M411.2 508.8h0M413.3 504.6h0M389.6 507.7h0M397.7 507.4h0M401.8 496.7h0M411.9 509.4h0M393.3 506.0h0M391.8 507.4h0M393.1 504.7h0M403.0 500.0h0M400.2 510.3h0M399.2 506.3h0M410.6 506.3h0M399.7 506.1h0M426.0 506.5h0M404.9 509.1h0M388.6 507.9h0M410.7 504.3h0M388.9 507.3h0M403.1 499.8h0M403.7 504.3h0M406.6 511.2h0M395.6 508.6h0M403.8 507.9h0M391.3 504.4h0M430.3 505.4h0M410.7 504.3h0M402.1 493.8h0M410.7 504.3h0M396.1 510.4h0M391.0 505.1h0M409.7 507.3h0M417.0 509.3h0M416.3 509.6h0M411.5 508.8h0M411.9 493.8h0M378.9 506.4h0M410.7 504.3h0M403.6 504.3h0M421.7 507.8h0M401.9 510.7h0M391.7 504.6h0M410.9 508.4h0M401.6 508.9h0M384.1 505.3h0M388.4 506.5h0M412.7 483.0h0M401.9 488.2h0M404.1 507.2h0M404.2 509.9h0M411.1 503.5h0M421.2 504.5h0M405.3 509.0h0M412.1 499.0h0M401.8 506.7h0M404.4 507.1h0M416.2 508.1h0M402.8 499.5h0M407.1 511.1h0M411.4 508.3h0M403.4 504.2h0M386.8 506.2h0M407.9 511.0h0M410.0 505.6h0M401.9 485.7h0M411.9 495.5h0M397.4 508.4h0M411.8 502.9h0M412.0 504.5h0M394.3 505.2h0M411.6 500.5h0M427.1 507.7h0M419.7 506.5h0M398.8 505.6h0M425.6 508.4h0M402.5 501.4h0M412.0 493.2h0M405.8 509.9h0M408.3 510.9h0M412.7 493.9h0M402.8 505.0h0M402.7 508.4h0M403.5 504.3h0M413.4 510.6h0M403.5 504.3h0M397.1 507.9h0M419.2 506.1h0M385.4 505.0h0M403.6 504.3h0M410.7 504.3h0M392.5 504.8h0M410.3 504.4h0M403.7 504.3h0M405.3 507.6h0M403.3 508.9h0M414.2 510.8h0M402.7 496.7h0M410.2 505.5h0M411.0 510.7h0M412.0 501.6h0M412.8 507.9h0M410.6 504.3h0M412.7 484.4h0M403.5 504.3h0M415.1 505.8h0M418.2 510.0h0M412.1 497.0h0M405.9 509.7h0M404.5 505.1h0M400.0 509.9h0M411.9 499.9h0M412.1 497.9h0M407.1 511.0h0M404.7 508.3h0M401.6 508.3h0M415.8 505.0h0M403.1 507.1h0M388.4 508.5h0M406.7 509.1h0M403.7 504.3h0M411.0 504.1h0M402.2 498.4h0M410.6 504.3h0M403.7 504.3h0M402.4 510.5h0M412.4 508.0h0M402.7 506.7h0M424.9 505.7h0M409.8 506.7h0M381.1 505.8h0M407.2 509.5h0M401.1 509.3h0M408.0 508.1h0M416.7 504.7h0M400.0 507.7h0M401.8 509.6h0M411.9 502.6h0M400.7 505.3h0M403.0 510.7h0M425.2 505.7h0M411.6 497.9h0M411.6 500.5h0M420.3 506.3h0M396.6 508.5h0M423.4 508.2h0M398.6 508.4h0M408.7 510.7h0M408.9 508.2h0M435.9 504.7h0M411.9 507.1h0M391.5 505.1h0M401.6 507.9h0M405.0 510.1h0M402.1 491.7h0M422.9 504.6h0M415.0 508.0h0M399.1 509.3h0M396.7 510.3h0M423.9 505.1h0M411.2 502.0h0M406.7 509.0h0M419.6 505.8h0M412.1 504.4h0M411.6 507.5h0M398.3 508.5h0M399.5 509.8h0M402.8 498.2h0M412.3 501.9h0M411.0 504.3h0M410.7 504.3h0M407.5 510.8h0M411.8 496.8h0M405.4 508.2h0M399.9 506.0h0M392.8 506.2h0M402.1 501.7h0M412.2 503.4h0M410.8 504.3h0M410.8 504.3h0M407.9 508.9h0M418.1 505.5h0M411.4 501.5h0M410.7 509.5h0M412.4 498.2h0M424.2 509.6h0M430.7 506.2h0M403.4 503.5h0M397.4 507.3h0M426.4 507.5h0M410.6 504.3h0M414.9 507.1h0M411.8 496.1h0M403.4 504.3h0M400.6 504.5h0M411.5 510.6h0M408.5 508.3h0M410.5 504.3h0M407.7 510.6h0M412.0 509.0h0M390.7 509.7h0M409.3 510.4h0M398.3 506.0h0M430.1 506.5h0M410.3 504.6h0M403.4 504.1h0M407.8 508.8h0M375.9 504.7h0M394.2 509.2h0M406.6 510.3h0M402.0 502.8h0M417.0 505.2h0M413.3 504.9h0M400.5 509.8h0M392.5 506.2h0M415.2 508.1h0M422.4 508.2h0M423.2 505.3h0M381.4 506.0h0M405.9 508.1h0M411.1 505.8h0M401.5 508.7h0M403.3 503.7h0M420.9 507.5h0M391.5 507.6h0M403.8 504.3h0M419.5 510.4h0M394.0 508.6h0M414.1 510.1h0M402.5 504.5h0M392.1 507.5h0M405.5 509.0h0M380.8 504.6h0M402.5 509.6h0M404.1 508.0h0M403.2 505.6h0M397.3 504.5h0M412.0 498.5h0M399.1 511.0h0M412.6 492.8h0M408.6 511.3h0M403.0 503.1h0M405.2 507.0h0M402.1 508.4h0M397.4 507.7h0M403.8 504.3h0M425.9 508.5h0M416.1 505.3h0M411.2 502.4h0M411.5 508.1h0M392.1 506.7h0M411.6 499.9h0M415.2 509.8h0M416.1 507.0h0M411.6 497.4h0M415.9 510.0h0M404.3 506.0h0M420.7 507.2h0M391.3 505.2h0M402.7 501.9h0M417.4 510.5h0M403.1 501.1h0M411.2 504.3h0M383.2 506.4h0M406.4 511.3h0M412.5 497.5h0M414.9 509.7h0M410.3 509.7h0M418.4 505.7h0M429.8 507.6h0M413.0 504.6h0M428.0 507.4h0M411.3 500.0h0M412.4 500.5h0M412.2 495.9h0M398.3 507.0h0M403.1 505.4h0M402.6 498.7h0M411.1 503.2h0M403.8 504.3h0M411.5 499.1h0M416.2 506.9h0M409.2 505.8h0M414.7 504.6h0M414.2 506.3h0M401.8 497.9h0M414.0 510.2h0M412.8 505.4h0M412.3 500.6h0M400.3 504.5h0M425.2 506.8h0M403.4 504.3h0M410.9 504.3h0M427.8 507.0h0M423.0 508.4h0M386.9 505.7h0M415.5 507.7h0M417.4 508.9h0M402.7 505.5h0M397.4 508.3h0M409.5 508.0h0M410.9 505.7h0M434.7 504.6h0M389.9 504.8h0M415.0 509.1h0M410.5 509.1h0M398.1 504.7h0M395.7 509.6h0M411.8 501.3h0M423.4 504.4h0M385.0 505.8h0M414.4 505.4h0M412.5 491.5h0M410.6 504.3h0M403.4 507.2h0M411.6 498.2h0M412.6 491.3h0M403.4 504.3h0M420.4 504.8h0M412.0 505.5h0M411.9 499.7h0M401.9 494.6h0M395.2 510.0h0M422.6 508.3h0M412.0 492.3h0M398.8 504.4h0M394.4 509.3h0M411.8 505.8h0M412.0 508.2h0M402.5 504.6h0M412.1 510.5h0M399.7 505.1h0M418.9 508.1h0M403.3 503.7h0M410.6 504.3h0M387.4 504.3h0M412.8 511.2h0M432.1 506.7h0M399.5 505.0h0M423.8 508.5h0M405.5 511.3h0M413.9 505.1h0M397.4 509.2h0M412.6 490.3h0M414.2 508.2h0M393.0 504.6h0M394.1 509.5h0M411.0 504.2h0M411.7 498.8h0M411.6 510.7h0M402.1 508.7h0M415.3 508.6h0M414.7 508.7h0M409.5 510.6h0M411.3 499.5h0M399.9 508.1h0M414.1 507.0h0M410.9 504.3h0M401.9 498.5h0M430.3 506.6h0M410.4 510.3h0M410.6 504.3h0M396.4 507.8h0M402.9 505.4h0M417.9 509.2h0M408.7 509.6h0M411.5 500.8h0M408.3 509.3h0M416.2 507.5h0M411.9 511.0h0M411.3 501.8h0M416.0 510.3h0M411.0 509.2h0M394.7 508.0h0M403.8 504.3h0M412.2 492.6h0M404.0 507.1h0M402.6 502.0h0M402.7 497.4h0M412.2 493.0h0M402.2 491.4h0M424.3 504.4h0M396.2 504.4h0M412.2 502.6h0M411.7 500.1h0M402.9 503.2h0M404.8 504.6h0M402.8 499.4h0M412.9 504.7h0M419.7 506.2h0M417.2 510.3h0M417.3 504.9h0M402.6 507.3h0M410.7 504.3h0M408.3 508.9h0M411.6 504.1h0M411.4 500.4h0M390.3 506.7h0M419.9 504.4h0M402.6 495.2h0M403.3 504.0h0M384.3 508.2h0M379.8 504.8h0M418.0 505.6h0M410.8 504.3h0M403.4 503.9h0M425.0 508.4h0M403.9 504.3h0M413.3 508.4h0M416.5 504.9h0M404.9 506.5h0M412.9 505.4h0M402.8 497.3h0M393.6 510.1h0M403.8 511.3h0M390.0 508.4h0M411.2 510.9h0M415.5 504.9h0M410.1 509.6h0M400.8 509.0h0M409.2 505.4h0M410.9 504.3h0M405.8 508.7h0M422.4 509.3h0M412.1 495.6h0M410.7 504.3h0M411.9 495.5h0M416.8 510.2h0M411.9 497.9h0M394.0 507.8h0M418.2 506.6h0M394.2 509.5h0M418.1 505.0h0M417.8 508.4h0M389.1 505.6h0M409.2 507.3h0M393.9 507.3h0M402.5 502.1h0M410.0 504.9h0M404.9 510.0h0M419.6 504.4h0M410.9 510.6h0M410.1 511.2h0M393.9 506.3h0M402.1 492.2h0M381.7 505.6h0M402.5 511.2h0M422.2 509.4h0M418.0 510.4h0M415.5 508.4h0M412.9 510.3h0M411.6 509.3h0M399.5 508.2h0M403.8 504.3h0M410.9 511.0h0M418.8 507.5h0M394.8 507.4h0M394.4 505.3h0M412.2 488.8h0M404.9 510.6h0M410.9 504.4h0M410.4 508.5h0M426.8 508.0h0M402.8 505.3h0M403.0 499.4h0M411.9 506.8h0M410.6 504.3h0M401.8 489.0h0M397.0 506.2h0M387.3 506.4h0M399.1 511.0h0M405.5 506.3h0M402.8 498.0h0M401.8 492.1h0M411.3 507.9h0" stroke="#bdbdbd" stroke-opacity="0.5" stroke-width="1.7" stroke-linecap="round" fill="none"/>
<path d="M418.6 508.4h0M425.1 506.6h0M410.8 504.3h0M411.3 502.3h0M425.5 505.9h0M413.6 505.5h0M401.9 485.9h0M406.5 509.2h0M401.9 496.8h0M387.1 507.6h0M406.6 509.0h0M415.3 505.3h0M396.2 509.6h0M397.0 504.7h0M409.1 511.0h0M410.6 504.3h0M402.4 492.3h0M411.0 504.3h0M397.9 506.3h0M377.5 505.4h0M402.8 499.0h0M399.5 505.8h0M411.0 504.3h0M400.2 508.2h0M402.6 499.4h0M411.6 509.8h0M415.7 505.2h0M424.0 505.3h0M412.3 490.9h0M418.5 505.2h0M412.0 503.9h0M412.9 505.8h0M381.5 506.7h0M404.6 509.1h0M409.8 504.3h0M424.3 505.5h0M410.0 511.1h0M408.5 509.2h0M412.3 489.8h0M405.5 507.7h0M404.1 510.3h0M410.7 504.3h0M385.9 505.8h0M402.3 502.2h0M422.3 508.1h0M399.0 508.4h0M411.8 500.4h0M404.3 507.6h0M402.4 495.5h0M423.1 509.1h0M403.3 508.8h0M396.1 505.2h0M398.0 508.9h0M410.6 504.3h0M402.0 509.5h0M414.9 505.3h0M411.1 503.2h0M421.3 507.0h0M411.8 495.3h0M432.0 505.8h0M402.2 503.1h0M409.7 510.8h0M412.0 491.3h0M425.6 506.9h0M408.8 506.7h0M416.0 505.5h0M417.5 508.3h0M402.4 492.7h0M411.0 507.3h0M393.9 509.0h0M410.6 504.4h0M402.4 498.8h0M410.8 505.5h0M402.8 497.3h0M398.2 507.5h0M412.0 494.4h0M400.4 507.9h0M418.1 505.2h0M403.1 505.2h0M407.8 509.9h0M399.1 505.6h0M411.9 496.2h0M412.2 503.6h0M433.0 507.2h0M432.6 506.2h0M403.1 504.2h0M426.3 508.7h0M402.0 500.3h0M412.7 496.0h0M394.2 507.2h0M402.4 491.4h0M421.4 506.1h0M417.2 507.4h0M402.8 501.8h0M413.4 510.4h0M425.7 506.0h0M411.3 505.2h0M412.0 503.9h0M381.3 505.2h0M400.7 508.0h0M390.3 508.9h0M403.2 503.0h0M399.1 509.8h0M409.4 506.8h0M420.4 508.2h0M403.5 504.3h0M403.2 510.0h0M402.6 506.8h0M402.7 499.3h0M418.7 507.9h0M404.9 509.7h0M411.3 502.2h0M431.0 505.9h0M401.2 506.4h0M402.4 493.9h0M415.1 505.2h0M411.2 503.5h0M411.1 507.2h0M388.6 507.2h0M413.6 510.0h0M419.4 507.6h0M401.5 505.2h0M401.1 507.4h0M412.6 507.3h0M413.2 506.7h0M396.9 507.9h0M411.5 509.8h0M414.3 506.4h0M392.0 509.3h0M390.3 505.3h0M391.7 509.4h0M405.1 509.2h0M403.6 504.3h0M402.4 493.0h0M402.3 510.2h0M403.1 506.2h0M412.4 493.2h0M408.1 510.1h0M413.4 508.1h0M397.3 510.7h0M401.6 504.6h0M411.3 503.1h0M402.9 508.6h0M410.7 508.5h0M413.9 508.0h0M416.9 508.7h0M410.8 504.3h0M416.0 508.3h0M413.4 505.4h0M410.7 504.3h0M410.6 504.3h0M411.7 501.9h0M411.7 502.3h0M384.7 507.3h0M393.1 504.6h0M419.0 510.2h0M421.4 506.0h0M401.8 490.4h0M402.4 501.8h0M405.9 508.5h0M402.7 503.4h0M408.3 510.6h0M399.6 506.4h0M392.8 504.9h0M381.4 506.7h0M388.1 506.0h0M418.8 508.3h0M392.0 508.3h0M401.2 509.8h0M417.0 506.1h0M403.6 504.3h0M403.6 504.3h0M411.4 504.2h0M406.3 509.3h0M420.1 509.4h0M411.8 497.9h0M401.9 484.7h0M390.1 504.9h0M412.1 492.5h0M412.6 486.4h0M410.9 504.3h0M403.5 504.3h0M427.5 505.8h0M416.3 509.9h0M411.9 495.2h0M420.7 508.2h0M403.5 504.3h0M411.2 502.3h0M412.0 500.4h0M420.5 505.8h0M397.1 508.9h0M397.3 505.9h0M405.4 510.3h0M403.1 509.2h0M399.1 506.2h0M418.6 505.8h0M396.4 504.8h0M400.8 509.7h0M394.1 505.8h0M420.3 505.7h0M397.4 508.8h0M401.3 510.9h0M420.0 504.7h0M383.6 505.8h0M411.1 507.0h0M402.3 489.7h0M403.4 504.3h0M415.1 507.1h0M416.0 507.4h0M416.7 505.7h0M403.0 500.8h0M402.9 500.5h0M412.0 495.9h0M413.3 507.6h0M412.1 492.0h0M424.8 505.9h0M408.6 507.0h0M424.0 506.6h0M402.1 493.4h0M395.5 506.9h0M394.7 509.0h0M414.7 510.2h0M394.2 508.0h0M411.5 499.6h0M414.1 507.7h0M402.3 505.8h0M431.1 507.2h0M411.7 504.0h0M401.9 496.2h0M394.9 504.7h0M402.0 505.4h0M387.0 508.4h0M389.3 508.6h0M428.7 507.9h0M419.9 508.5h0M403.3 503.3h0M402.5 502.5h0M383.2 504.8h0M403.3 503.5h0M413.3 508.1h0M412.4 490.5h0M413.6 505.3h0M403.3 503.8h0M401.9 505.7h0M403.2 503.7h0M416.3 504.9h0M412.1 505.2h0M426.6 504.8h0M405.5 509.2h0M387.0 505.1h0M417.6 509.4h0M407.6 510.7h0M412.3 492.3h0M411.5 498.1h0M411.0 506.3h0M400.9 509.3h0M425.6 507.5h0M439.0 505.1h0M400.0 506.7h0M409.0 506.9h0M423.1 508.8h0M412.7 484.5h0M409.6 510.6h0M403.6 504.3h0M426.0 506.2h0M401.1 506.3h0M396.3 507.9h0M395.8 505.4h0M399.3 506.8h0M405.8 510.5h0M412.7 496.0h0M410.0 509.6h0M411.9 499.7h0M420.2 509.7h0M410.0 504.6h0M417.1 507.7h0M411.6 510.8h0M383.7 506.4h0M412.4 510.0h0M406.5 509.7h0M389.1 506.4h0M410.7 505.4h0M410.9 508.0h0M412.3 506.9h0M411.6 504.3h0M417.0 507.1h0M426.5 508.2h0M425.8 507.8h0M403.7 504.3h0M409.7 507.8h0M418.0 510.1h0M416.1 506.9h0M422.2 509.3h0M411.2 507.3h0M396.3 509.9h0M408.0 508.8h0M413.7 510.6h0M418.8 507.8h0M404.8 506.5h0M392.7 509.5h0M403.2 502.4h0M419.5 510.1h0M403.7 504.3h0M403.0 502.6h0M398.5 508.7h0M436.1 504.4h0M415.9 510.0h0M402.3 499.8h0M388.1 507.6h0M423.0 505.4h0M413.0 510.1h0M398.2 509.0h0M413.9 504.5h0M411.7 501.4h0M388.9 507.9h0M403.9 504.3h0M402.7 496.4h0M408.3 507.3h0M403.7 507.7h0M399.4 509.7h0M411.5 510.4h0M417.8 510.6h0M412.6 509.2h0M396.1 506.9h0M413.0 510.2h0M400.6 508.6h0M413.3 510.9h0M403.3 510.9h0M402.2 490.5h0M403.3 503.3h0M392.1 504.8h0M403.3 503.4h0M402.3 491.6h0M407.6 510.5h0M405.2 510.9h0M407.3 510.7h0M418.3 506.9h0M396.3 510.0h0M413.0 509.6h0M416.8 507.8h0M422.6 505.2h0M378.9 506.0h0M391.7 507.8h0M411.6 496.9h0M397.0 504.4h0M404.2 510.0h0M402.5 498.5h0M412.1 500.2h0M394.6 509.7h0M401.8 507.8h0M414.0 507.3h0M413.5 509.9h0M415.5 508.7h0M412.7 483.8h0M428.3 506.4h0M411.8 495.6h0M387.0 506.9h0M409.2 506.7h0M425.2 507.0h0M411.0 506.8h0M415.6 506.2h0M401.4 505.9h0M402.3 506.7h0M409.7 508.8h0M397.6 507.6h0M402.1 504.8h0M403.2 502.3h0M410.9 504.3h0M411.7 498.5h0M412.5 489.0h0M417.9 509.8h0M425.1 507.8h0M381.0 507.1h0M409.8 510.5h0M410.6 504.3h0M404.5 508.9h0M409.2 508.4h0M399.5 510.7h0M401.9 505.1h0M413.5 507.4h0M388.1 508.1h0M417.1 509.9h0M410.6 509.3h0M416.0 504.9h0M403.4 505.3h0M388.7 508.6h0M388.6 507.1h0M411.6 507.9h0M388.7 504.9h0M427.3 506.5h0M395.5 505.7h0M408.6 509.7h0M402.4 502.0h0M395.0 505.0h0M382.8 507.0h0M404.7 508.6h0M412.7 496.6h0M412.0 498.6h0M414.8 504.9h0M411.4 501.7h0M399.7 505.4h0M402.0 496.0h0M412.7 491.7h0M396.6 509.6h0M386.3 504.4h0M402.4 503.6h0M413.7 504.6h0M395.7 506.1h0M389.6 506.1h0M412.0 507.5h0M411.2 503.3h0M403.5 504.3h0M404.0 509.8h0M411.2 502.5h0M391.8 505.5h0M376.9 505.5h0M399.0 504.7h0M418.5 505.9h0M411.0 503.8h0M411.4 501.1h0M401.9 494.9h0M411.0 504.2h0M410.9 504.3h0M414.0 509.7h0M383.2 504.4h0M426.8 507.7h0M423.5 507.8h0M403.0 501.4h0M408.6 509.7h0M428.1 507.2h0M412.2 490.3h0M411.4 500.6h0M423.1 507.9h0M412.1 507.5h0M409.5 511.1h0M415.2 506.2h0M402.8 503.7h0M389.1 507.6h0M412.0 505.9h0M412.2 498.2h0M399.2 504.6h0M411.8 502.9h0M414.0 510.1h0M402.6 494.2h0M403.6 506.6h0M401.8 498.9h0M406.9 510.3h0M402.9 500.7h0M400.4 507.3h0M403.6 504.3h0M398.7 508.0h0M390.1 508.9h0M408.1 511.1h0M407.9 508.5h0M399.9 506.6h0M399.5 509.7h0M403.7 504.3h0M422.1 508.4h0M396.3 507.0h0M412.5 491.8h0M400.7 506.9h0M402.5 500.0h0M404.5 506.4h0M416.5 504.8h0M397.6 508.7h0M402.9 500.0h0M412.5 488.2h0M402.1 504.0h0M402.6 508.1h0M400.6 508.0h0M403.6 504.3h0M413.6 505.2h0M411.4 503.9h0M412.1 506.5h0M395.1 505.0h0M401.9 486.3h0M402.1 496.0h0M403.4 506.9h0M378.0 505.1h0M394.8 507.0h0M404.2 510.1h0M412.2 495.9h0M400.6 508.6h0M407.3 511.3h0M401.0 505.0h0M398.8 506.9h0M392.5 505.5h0M400.8 506.5h0M411.2 509.9h0M406.9 510.5h0M404.0 506.2h0M381.3 505.6h0M399.5 510.8h0M409.0 506.8h0M403.5 508.0h0M402.0 486.5h0M416.9 509.9h0M403.2 509.6h0M403.2 502.4h0M402.5 508.1h0M398.3 505.7h0M409.7 510.7h0M396.5 510.1h0M407.6 509.4h0M396.1 507.2h0M403.1 502.5h0M411.9 495.6h0M399.4 507.6h0M425.0 508.5h0M412.4 505.3h0M403.0 507.9h0M388.8 506.3h0M412.2 495.1h0M410.0 511.3h0M383.3 505.2h0M401.7 493.8h0M420.1 509.2h0M403.2 504.1h0M412.6 490.9h0M388.4 506.4h0M411.7 507.0h0M411.3 501.7h0M423.0 505.7h0M412.6 490.5h0M403.0 501.0h0M410.7 504.3h0M397.5 510.7h0M399.2 508.8h0M403.1 502.7h0M414.5 506.8h0M412.1 506.6h0M409.1 506.8h0M404.4 510.7h0M415.4 507.5h0M401.9 496.5h0M403.5 504.3h0M424.7 507.2h0M404.6 508.3h0M420.2 506.7h0M384.0 505.9h0M387.7 504.8h0M403.1 506.3h0M429.7 506.3h0M403.7 504.3h0M387.2 505.9h0M408.9 506.1h0M404.4 506.8h0M417.9 507.5h0M414.0 507.8h0M405.3 509.9h0M402.0 495.5h0M418.7 510.0h0M395.5 506.8h0M419.1 509.2h0M400.3 509.8h0M417.4 509.8h0M403.2 501.9h0M418.6 508.5h0M411.6 510.0h0M410.6 506.5h0M401.8 483.7h0M402.0 507.7h0M415.0 507.1h0M403.3 503.4h0M402.1 507.6h0M401.8 501.3h0M402.6 503.1h0M412.8 509.0h0M412.2 498.6h0M382.0 505.2h0M412.0 491.4h0M401.7 486.0h0M401.6 508.3h0M423.7 507.7h0M407.2 511.3h0M418.6 509.9h0M410.0 509.8h0M403.9 510.9h0M412.0 495.9h0M412.2 507.0h0M411.9 504.3h0M416.3 506.2h0M404.4 506.2h0M427.7 505.6h0M403.7 504.8h0M411.3 502.5h0M402.2 491.4h0M398.3 509.2h0M383.2 505.1h0M401.9 488.8h0M412.7 501.3h0M411.4 501.1h0M406.3 508.9h0M398.0 510.3h0M403.5 504.3h0M416.6 509.9h0M414.3 511.0h0M399.7 505.1h0M411.4 500.8h0M411.5 511.0h0M403.5 504.3h0M411.8 510.7h0M402.7 501.4h0M441.2 504.4h0M384.6 504.8h0M409.3 507.5h0M412.0 497.3h0M410.6 504.3h0M403.5 504.3h0M398.9 508.7h0M424.6 507.3h0M403.3 504.2h0M399.0 509.0h0M389.1 505.6h0M403.7 507.6h0M411.9 499.9h0M424.6 506.9h0M405.5 508.5h0M407.6 509.2h0M412.5 507.4h0M403.2 501.9h0M402.6 496.0h0M395.8 505.6h0M414.2 510.0h0M414.0 506.9h0M425.0 504.7h0M425.6 504.7h0M402.6 497.1h0M412.3 508.9h0M394.4 508.9h0M412.9 505.4h0M405.1 507.0h0M408.7 506.1h0M411.3 501.8h0M413.4 507.3h0M412.1 500.9h0M420.6 506.6h0M386.7 508.0h0M401.7 488.1h0M425.5 505.6h0M403.3 503.2h0M415.1 506.8h0M404.2 510.0h0M423.3 509.3h0M391.2 506.5h0M404.6 508.6h0M402.8 498.5h0M403.4 504.2h0M411.8 499.3h0M406.2 507.6h0M412.1 496.3h0M411.7 505.9h0M402.1 492.3h0M416.4 504.8h0M404.3 505.4h0M395.5 508.3h0M410.9 504.3h0M412.1 500.3h0M403.7 505.3h0M432.8 505.1h0M391.7 507.4h0M414.7 509.1h0M411.9 502.6h0M433.3 506.4h0M402.4 502.9h0M402.2 498.8h0M412.5 508.3h0M386.1 505.6h0M410.8 504.3h0M411.5 502.1h0M403.2 503.3h0M390.8 507.8h0M412.2 509.8h0" stroke="#bdbdbd" stroke-opacity="0.5" stroke-width="1.7" stroke-linecap="round" fill="none"/>
<path d="M403.0 502.5h0M392.7 508.0h0M386.7 507.1h0M401.7 494.1h0M409.4 509.1h0M405.6 506.0h0M413.9 505.3h0M429.2 507.9h0M416.9 508.6h0M415.8 507.9h0M398.1 505.1h0M414.7 507.8h0M411.9 509.2h0M412.2 497.8h0M412.0 505.0h0M399.3 508.1h0M413.5 504.5h0M404.4 505.6h0M412.7 494.6h0M401.8 486.2h0M409.5 505.2h0M400.6 509.6h0M413.0 509.8h0M403.2 503.8h0M399.9 509.1h0M412.7 484.3h0M412.3 507.3h0M411.4 508.9h0M402.2 499.4h0M403.5 504.3h0M404.8 508.2h0M400.1 510.5h0M417.7 509.4h0M409.4 507.9h0M396.9 505.0h0M405.2 507.8h0M401.8 493.0h0M397.8 507.5h0M403.4 504.9h0M401.9 499.2h0M400.5 505.4h0M424.8 507.4h0M410.4 508.2h0M386.6 506.0h0M401.5 504.6h0M438.7 504.3h0M410.1 508.3h0M415.7 509.3h0M411.6 500.6h0M412.2 501.5h0M392.2 509.7h0M405.9 507.1h0M395.7 509.5h0M411.8 500.3h0M404.5 505.2h0M391.9 509.7h0M402.4 504.3h0M393.3 505.6h0M411.3 501.0h0M406.0 508.3h0M388.4 507.8h0M412.5 510.2h0M398.3 506.1h0M411.4 504.2h0M412.5 490.6h0M412.1 508.8h0M417.9 504.6h0M389.4 505.4h0M420.2 507.3h0M403.9 504.3h0M415.8 510.6h0M412.0 500.6h0M411.8 502.5h0M404.3 506.1h0M403.1 501.5h0M401.9 503.6h0M401.9 505.4h0M401.0 509.1h0M411.2 503.4h0M407.1 509.6h0M410.9 504.3h0M402.5 500.4h0M410.7 505.1h0M403.4 504.1h0M423.4 508.0h0M403.8 504.3h0M408.8 506.1h0M411.0 504.1h0M418.8 505.4h0M421.8 505.7h0M424.2 508.3h0M406.5 509.0h0M418.4 506.3h0M411.4 510.0h0M411.2 501.9h0M389.8 507.4h0M421.5 504.5h0M403.4 504.0h0M404.2 509.3h0M385.7 506.5h0M417.9 510.1h0M431.5 505.8h0M411.3 506.4h0M383.3 504.4h0M412.8 507.2h0M411.0 504.2h0M412.7 510.4h0M408.1 507.5h0M404.9 511.4h0M390.4 505.6h0M409.9 506.3h0M411.5 505.4h0M395.3 510.1h0M403.5 506.3h0M409.1 510.7h0M398.1 508.2h0M411.4 499.0h0M399.6 504.5h0M403.7 504.3h0M386.8 508.7h0M402.6 495.4h0M415.4 508.1h0M411.5 502.1h0M390.8 506.8h0M401.8 509.8h0M401.9 506.5h0M403.1 502.6h0M415.3 509.0h0M386.1 506.9h0M403.5 504.3h0M385.8 506.1h0M415.6 507.7h0M413.8 508.3h0M417.0 510.0h0M402.6 502.1h0M411.6 506.3h0M397.7 506.1h0M411.0 504.1h0M419.0 507.3h0M403.1 511.0h0M407.8 511.3h0M390.9 504.6h0M392.0 506.8h0M411.2 502.1h0M408.4 507.4h0M406.1 507.8h0M404.5 509.2h0M403.0 499.3h0M419.6 505.6h0M397.8 505.4h0M405.4 509.1h0M400.0 509.6h0M403.5 504.3h0M403.8 504.7h0M408.1 510.7h0M411.0 504.0h0M401.9 510.1h0M420.5 507.1h0M397.7 508.6h0M423.5 505.2h0M401.3 505.7h0M402.5 504.6h0M402.1 497.1h0M403.4 503.7h0M398.4 510.0h0M402.8 500.6h0M411.2 503.8h0M403.0 503.0h0M430.4 507.8h0M402.3 492.1h0M396.7 506.8h0M436.8 504.6h0M406.4 510.1h0M411.4 510.3h0M391.4 506.7h0M411.6 500.1h0M403.9 504.3h0M412.6 504.5h0M403.4 509.7h0M406.9 510.6h0M421.7 509.3h0M401.7 510.3h0M404.8 509.5h0M434.7 506.7h0M403.7 504.3h0M407.1 509.6h0M401.0 508.9h0M426.5 508.4h0M437.4 504.4h0M403.4 504.2h0M393.2 505.2h0M395.2 507.6h0M394.2 504.4h0M429.4 506.7h0M402.6 499.3h0M396.6 510.3h0M404.4 509.7h0M414.4 509.9h0M405.2 507.1h0M411.6 502.1h0M403.0 500.6h0M401.3 509.5h0M406.2 510.6h0M409.4 510.1h0M396.6 507.1h0M428.0 504.7h0M413.2 510.2h0M414.4 504.5h0M399.0 505.3h0M389.8 508.2h0M434.3 504.6h0M410.9 504.3h0M421.1 506.3h0M406.0 510.5h0M403.6 504.3h0M396.6 509.3h0M420.5 506.2h0M400.8 509.6h0M399.0 505.6h0M403.3 502.3h0M425.0 508.4h0M396.9 506.3h0M406.0 509.6h0M419.7 506.0h0M388.0 507.3h0M418.5 508.3h0M395.8 510.6h0M403.1 499.8h0M389.3 505.4h0M391.4 505.0h0M412.7 508.6h0M400.7 507.6h0M412.2 497.6h0M407.9 511.2h0M402.7 502.1h0M398.0 510.8h0M401.8 491.6h0M413.8 510.5h0M401.7 507.2h0M420.6 507.4h0M412.3 504.9h0M401.8 508.0h0M422.3 507.6h0M407.8 508.8h0M400.9 508.6h0M393.3 508.4h0M421.9 507.1h0M401.8 502.6h0M403.9 504.3h0M412.6 487.4h0M410.1 506.3h0M403.4 504.3h0M412.2 500.3h0M408.9 510.5h0M408.9 511.1h0M420.4 506.3h0M411.3 508.4h0M412.0 496.9h0M378.9 506.6h0M403.5 509.5h0M418.8 504.8h0M390.8 509.2h0M438.9 505.2h0M404.6 508.5h0M410.6 505.3h0M394.9 504.6h0M380.2 506.9h0M397.7 507.9h0M412.0 505.0h0M396.1 505.8h0M395.9 510.5h0M402.9 502.8h0M402.7 497.1h0M423.6 504.9h0M406.9 511.3h0M404.9 507.6h0M429.8 508.2h0M396.9 504.7h0M402.7 501.5h0M419.5 507.9h0M404.6 504.7h0M418.6 509.2h0M405.9 509.5h0M403.4 504.3h0M385.0 505.0h0M422.8 505.0h0M421.3 506.3h0M412.0 501.6h0M422.4 505.3h0M410.3 506.8h0M411.7 506.9h0M421.7 508.2h0M395.3 509.4h0M402.1 503.5h0M401.4 505.6h0M404.0 508.2h0M394.2 506.3h0M411.8 506.9h0M402.5 505.3h0M417.6 508.5h0M394.7 505.8h0M396.8 504.9h0M392.1 508.7h0M401.6 505.9h0M403.8 504.3h0M393.2 505.6h0M403.4 509.0h0M401.9 486.2h0M406.1 509.2h0M402.4 510.5h0M407.1 510.8h0M403.5 510.3h0M411.1 509.5h0M403.5 508.2h0M403.4 504.3h0M402.0 486.4h0M412.0 496.6h0M417.6 509.6h0M416.5 508.5h0M390.8 507.5h0M411.7 501.1h0M411.2 504.2h0M403.7 504.3h0M403.0 501.0h0M403.7 504.3h0M402.9 500.7h0M411.6 497.9h0M401.9 497.3h0M402.5 499.5h0M401.7 495.5h0M403.6 508.3h0M392.6 505.6h0M418.3 509.1h0M425.1 508.2h0M397.6 504.3h0M398.7 510.7h0M431.0 505.2h0M410.1 505.9h0M392.8 508.5h0M415.5 507.7h0M400.8 506.1h0M415.5 505.0h0M411.9 507.5h0M374.0 504.7h0M408.3 508.4h0M407.8 511.2h0M412.6 509.7h0M415.4 506.5h0M422.1 507.9h0M401.3 510.1h0M417.7 506.7h0M398.0 507.6h0M407.0 510.0h0M425.0 508.1h0M411.9 498.4h0M415.9 506.7h0M394.8 506.7h0M419.2 505.4h0M403.9 506.4h0M381.4 507.2h0M396.1 506.1h0M403.6 504.3h0M419.2 505.9h0M403.9 504.3h0M401.3 505.5h0M411.7 498.6h0M403.4 503.9h0M398.1 506.7h0M397.3 507.8h0M398.1 504.8h0M408.7 509.0h0M403.6 504.3h0M427.1 508.4h0M412.5 505.5h0M420.0 507.1h0M393.5 510.1h0M411.3 502.3h0M406.1 510.7h0M413.6 507.9h0M409.1 510.6h0M402.5 511.0h0M418.2 504.5h0M417.3 505.8h0M408.1 509.9h0M397.1 510.1h0M381.5 507.0h0M401.2 509.9h0M403.8 504.3h0M403.3 503.1h0M405.0 510.7h0M399.6 505.5h0M419.9 508.0h0M414.4 508.5h0M422.2 504.9h0M410.3 504.3h0M402.2 511.2h0M403.0 501.7h0M403.4 504.1h0M401.3 506.4h0M422.2 509.4h0M399.4 507.1h0M396.1 508.9h0M391.9 507.8h0M396.7 510.4h0M411.6 500.0h0M411.3 505.6h0M403.2 502.9h0M401.5 506.8h0M411.0 504.3h0M433.2 506.6h0M419.5 509.8h0M395.6 508.7h0M419.4 507.9h0M395.9 510.6h0M399.5 504.7h0M400.7 505.0h0M408.5 511.3h0M402.9 498.5h0M416.3 509.0h0M399.3 509.7h0M411.2 501.9h0M402.0 493.0h0M416.1 507.2h0M402.1 495.2h0M412.3 503.2h0M411.2 502.6h0M399.3 507.8h0M396.5 506.5h0M410.8 504.3h0M427.8 507.9h0M401.7 484.3h0M413.4 504.8h0M416.6 510.5h0M429.1 508.2h0M398.1 506.8h0M413.9 508.1h0M405.5 507.7h0M401.6 506.7h0M423.4 504.8h0M396.1 507.2h0M399.9 508.7h0M411.2 501.5h0M393.5 510.2h0M402.0 511.0h0M408.2 510.1h0M404.9 508.5h0M402.8 497.7h0M407.9 511.1h0M400.2 511.0h0M425.0 509.2h0M397.5 508.1h0M406.0 507.6h0M375.3 504.8h0M402.1 494.2h0M411.0 503.7h0M419.3 510.3h0M395.9 508.6h0M412.2 501.2h0M434.2 506.6h0M412.8 508.8h0M410.7 504.3h0M417.5 509.7h0M415.6 507.1h0M411.2 503.5h0M402.7 500.4h0M405.7 507.8h0M389.5 505.2h0M416.7 509.5h0M407.8 508.4h0M406.3 510.5h0M421.5 507.2h0M421.2 509.9h0M395.6 510.0h0M409.5 509.6h0M400.5 507.6h0M402.7 498.9h0M417.4 508.4h0M394.2 510.2h0M412.0 493.5h0M423.2 506.3h0M403.9 504.3h0M389.6 505.8h0M423.0 504.3h0M378.3 505.6h0M423.7 509.1h0M401.5 510.3h0M399.6 505.5h0M415.9 505.4h0M389.3 507.1h0M417.3 510.4h0M379.2 504.4h0M415.6 508.3h0M410.5 510.9h0M409.2 507.3h0M402.7 509.7h0M411.1 503.4h0M405.6 506.6h0M390.6 508.8h0M411.9 492.9h0M423.4 504.6h0M404.3 511.3h0M411.1 503.2h0M402.6 504.0h0M396.9 506.5h0M410.7 504.3h0M398.0 505.6h0M410.7 504.3h0M409.1 511.4h0M403.2 502.3h0M408.4 510.1h0M414.1 505.6h0M411.5 501.2h0M413.2 510.9h0M397.9 508.4h0M411.8 496.9h0M402.4 493.8h0M396.5 509.3h0M402.9 505.0h0M403.4 509.7h0M417.6 506.8h0M412.4 492.6h0M403.8 504.3h0M411.6 501.0h0M418.4 509.9h0M409.5 506.5h0M410.8 504.3h0M412.7 506.1h0M397.5 505.5h0M403.6 504.3h0M411.1 504.2h0M428.9 506.3h0M417.4 506.1h0M408.1 510.0h0M411.2 503.8h0M415.2 508.1h0M418.5 508.5h0M402.1 494.8h0M403.3 503.3h0M408.7 509.5h0M392.8 509.2h0M401.7 496.2h0M411.2 504.3h0M411.8 502.9h0M402.7 497.2h0M415.2 506.7h0M393.1 506.4h0M401.8 497.3h0M411.6 505.5h0M398.3 510.6h0M412.9 507.9h0M398.2 508.5h0M381.8 504.7h0M410.7 504.3h0M412.1 508.9h0M386.1 505.0h0M404.9 506.1h0M414.6 508.7h0M410.1 505.3h0M404.0 510.4h0M414.9 507.2h0M387.7 507.0h0M433.6 506.8h0M399.7 505.5h0M395.6 504.5h0M398.0 508.9h0M420.1 507.3h0M405.6 506.3h0M411.9 504.9h0M399.4 509.3h0M408.4 510.1h0M402.2 510.6h0M410.4 507.5h0M411.9 496.7h0M408.1 511.1h0M429.9 506.9h0M411.9 505.2h0M427.2 508.9h0M403.0 503.6h0M410.6 504.3h0M397.6 505.9h0M398.6 508.1h0M417.6 505.6h0M394.2 506.7h0M407.4 510.2h0M403.7 504.3h0M411.0 504.3h0M408.2 508.4h0M411.8 498.0h0M403.3 503.1h0M409.4 506.1h0M411.6 502.6h0M401.1 506.1h0M412.3 497.0h0M403.7 504.3h0M398.5 507.1h0M417.6 506.5h0M397.1 508.4h0M403.2 507.4h0M399.1 510.7h0M412.2 509.4h0M403.6 504.3h0M403.4 504.1h0M397.1 509.7h0M395.4 505.0h0M398.3 504.4h0M424.9 505.3h0M413.9 509.3h0M435.4 505.1h0M401.9 497.0h0M383.6 504.3h0M418.8 506.5h0M410.1 509.9h0M395.0 508.1h0M417.8 504.5h0M404.3 506.6h0M420.8 507.3h0M398.1 507.6h0M390.2 509.6h0M403.5 504.3h0M409.5 506.7h0M401.9 506.4h0M425.2 504.9h0M411.9 502.2h0M397.0 507.0h0M402.8 501.2h0M400.7 510.9h0M403.0 504.1h0M411.8 508.1h0M409.1 507.1h0M412.3 504.4h0M410.7 504.3h0M403.3 504.3h0M415.4 510.4h0M403.6 506.7h0M407.6 509.0h0M411.0 503.6h0M401.7 507.0h0M414.2 507.0h0M412.7 510.6h0M417.0 506.0h0M400.8 505.9h0M414.0 508.6h0M416.5 508.8h0M402.4 492.5h0M390.9 508.0h0M417.3 504.7h0M409.4 509.0h0M403.7 504.3h0M399.3 510.7h0M410.6 508.5h0M403.8 507.3h0M425.4 504.6h0M402.2 501.0h0M395.4 507.0h0M409.1 508.2h0M404.0 508.2h0M411.9 493.3h0M412.7 507.5h0M401.7 500.5h0M396.5 505.4h0M410.7 504.3h0M408.7 511.3h0M403.7 504.3h0M420.1 509.2h0M402.1 488.5h0M396.5 504.7h0M420.0 509.5h0M413.1 508.2h0M412.2 503.0h0M401.9 505.8h0M393.8 506.2h0M397.7 506.6h0M385.6 505.6h0" stroke="#bdbdbd" stroke-opacity="0.5" stroke-width="1.7" stroke-linecap="round" fill="none"/>
<path d="M383.7 501.0h0M394.1 501.5h0M375.0 497.4h0M359.5 434.3h0M391.2 501.1h0M390.4 500.7h0M370.3 478.0h0M364.3 488.3h0M388.1 411.5h0M392.3 501.6h0M398.3 502.6h0M371.8 500.8h0M398.5 494.9h0M392.4 474.9h0M379.7 487.6h0M377.8 498.9h0M374.0 503.6h0M389.9 501.5h0M397.1 486.8h0M370.4 485.5h0M375.7 502.3h0M379.9 496.5h0M371.0 494.9h0M395.8 501.9h0M376.8 490.8h0M391.9 494.6h0M379.1 503.1h0M372.8 492.5h0M377.5 488.3h0M377.7 498.2h0M376.3 497.6h0M368.7 481.0h0M388.3 501.1h0M397.5 502.7h0M372.2 492.7h0M362.2 451.2h0M367.8 483.7h0M401.0 503.2h0M400.3 500.6h0M393.4 500.3h0M378.3 498.0h0M393.9 502.9h0M376.1 498.6h0M394.6 501.4h0M376.0 494.7h0M368.2 484.0h0M395.6 499.9h0M367.6 484.4h0M376.9 499.2h0M393.2 490.7h0M401.1 500.2h0M393.7 496.8h0M359.5 484.0h0M370.5 488.6h0M360.5 452.5h0M372.3 494.5h0M367.7 475.8h0M399.7 503.8h0M367.4 465.6h0M370.1 486.7h0M382.2 503.4h0M385.7 488.6h0M372.1 489.3h0M396.9 503.4h0M385.5 500.0h0M391.6 496.8h0M376.6 484.3h0M387.9 501.7h0M370.4 490.7h0M397.7 500.9h0M393.5 497.9h0M382.3 503.9h0M378.9 488.6h0M354.9 439.5h0M370.2 489.8h0M393.8 502.1h0M398.2 492.8h0M382.6 502.1h0M376.2 498.6h0M356.8 442.2h0M397.5 496.4h0M374.3 497.3h0M399.8 503.5h0M378.4 502.1h0M395.1 429.8h0M397.2 462.0h0M374.4 499.5h0M379.7 502.5h0M375.7 501.8h0M378.7 503.7h0M391.3 480.4h0M396.1 490.2h0M388.6 418.1h0M360.8 481.1h0M371.6 492.8h0M371.4 492.7h0M370.7 479.0h0M375.3 496.5h0M395.8 489.0h0M370.9 492.3h0M374.8 490.7h0M395.2 503.7h0M396.1 482.7h0M389.9 501.8h0M377.2 500.1h0M350.6 429.7h0M391.5 499.1h0M398.3 493.6h0M373.9 489.8h0M362.0 433.7h0M379.9 500.3h0M377.1 492.8h0M379.7 498.2h0M363.8 464.8h0M357.1 453.3h0M358.8 461.3h0M397.6 501.1h0M379.4 492.7h0M386.8 497.3h0M381.4 480.2h0M376.7 504.0h0M364.7 465.6h0M401.5 487.3h0M367.6 473.5h0M363.1 470.6h0M373.3 502.8h0M367.1 457.3h0M401.0 503.2h0M397.3 500.3h0M378.3 497.1h0M372.2 435.4h0M382.3 492.4h0M379.0 474.1h0M388.7 492.2h0M391.6 498.6h0M400.9 496.6h0M366.9 475.3h0M400.9 498.9h0M375.9 503.7h0M382.3 491.6h0M374.6 469.3h0M397.1 493.9h0M384.8 503.9h0M399.2 502.3h0M363.0 478.6h0M388.6 482.1h0M397.9 503.3h0M357.9 471.4h0M401.4 500.8h0M363.1 476.8h0M355.7 429.9h0M382.9 467.3h0M398.0 486.2h0M401.5 487.1h0M398.2 486.6h0M381.5 499.8h0M387.6 499.3h0M401.5 502.8h0M397.4 502.0h0M396.3 502.5h0M379.1 499.3h0M365.6 448.3h0M372.9 495.2h0M382.1 500.6h0M392.2 494.3h0M378.5 500.5h0M382.9 501.8h0M372.9 491.1h0M376.1 497.6h0M386.4 502.2h0M399.7 504.0h0M381.0 501.0h0M395.2 503.6h0M363.5 480.1h0M373.0 493.4h0M363.1 474.3h0M382.9 502.0h0M374.1 485.4h0M367.8 486.1h0M382.8 500.6h0M399.4 502.0h0M382.0 503.2h0M375.1 503.2h0M370.9 448.6h0M371.6 487.3h0M386.4 503.3h0M387.2 484.5h0M387.8 502.1h0M359.5 468.0h0M391.8 504.3h0M382.9 498.0h0M389.0 499.3h0M399.1 491.0h0M376.2 496.6h0M388.6 503.9h0M382.2 500.5h0M395.5 500.2h0M377.7 500.7h0M377.9 492.7h0M363.5 471.6h0M400.3 503.5h0M400.2 503.5h0M375.6 497.2h0M385.5 475.7h0M389.0 503.6h0M375.2 489.5h0M374.9 492.0h0M368.9 483.6h0M376.7 495.9h0M381.8 477.9h0M399.1 502.5h0M391.3 504.2h0M380.4 503.5h0M369.3 473.3h0M385.3 497.8h0M380.4 494.5h0M358.7 457.9h0M378.1 498.6h0M378.5 502.8h0M399.4 498.5h0M386.7 503.1h0M359.1 418.8h0M366.1 477.1h0M397.8 498.9h0M355.7 443.1h0M377.9 492.2h0M370.0 493.4h0M391.4 490.4h0M364.1 478.7h0M401.5 497.4h0M371.4 486.1h0M397.9 502.6h0M377.9 500.1h0M379.7 501.9h0M392.9 499.8h0M373.2 493.3h0M364.5 470.9h0M381.3 501.9h0M366.2 474.2h0M395.9 503.1h0M366.3 464.1h0M375.2 492.1h0M384.0 491.8h0M393.4 461.9h0M399.2 503.8h0M398.6 499.3h0M382.3 461.4h0M379.8 497.0h0M370.9 471.8h0M398.9 503.5h0M370.4 491.3h0M397.3 499.5h0M399.2 500.2h0M387.9 500.6h0M377.3 500.3h0M368.2 460.5h0M356.4 470.4h0M396.9 472.9h0M373.7 500.9h0M386.1 480.1h0M401.5 502.0h0M369.5 487.8h0M401.5 501.2h0M388.0 481.5h0M399.2 503.0h0M379.3 470.6h0M385.1 486.7h0M369.9 494.7h0M349.0 431.4h0M401.0 496.3h0M367.2 480.0h0M392.2 499.6h0M378.5 503.0h0M372.0 492.7h0M375.2 495.1h0M377.4 498.5h0M391.9 440.0h0M376.4 492.9h0M392.7 478.3h0M384.2 455.3h0M391.4 499.4h0M363.7 474.8h0M379.8 502.4h0M377.3 503.2h0M356.1 460.3h0M371.7 500.0h0M401.5 502.0h0M401.0 496.3h0M396.3 487.0h0M383.0 467.4h0M394.2 463.3h0M384.9 502.0h0M367.5 483.3h0M361.6 460.1h0M374.5 492.1h0M381.8 470.9h0M401.5 501.8h0M366.9 475.2h0M369.8 486.4h0M398.2 499.5h0" stroke="#0000ff" stroke-opacity="0.18" stroke-width="2.2" stroke-linecap="round" fill="none"/>
<path d="M400.4 499.8h0M400.9 502.0h0M382.4 502.1h0M373.9 500.2h0M388.9 465.3h0M374.2 495.3h0M398.6 498.7h0M399.0 492.6h0M371.5 486.3h0M398.3 488.7h0M400.0 500.8h0M393.8 503.9h0M379.6 503.4h0M378.0 495.9h0M396.9 490.2h0M385.0 434.5h0M388.4 476.1h0M360.3 463.8h0M397.1 498.8h0M365.4 480.4h0M394.1 501.9h0M390.8 482.2h0M389.1 427.6h0M383.8 503.8h0M378.7 494.5h0M377.1 502.1h0M362.0 479.3h0M376.9 471.0h0M393.0 491.4h0M378.8 496.7h0M390.1 460.4h0M390.9 494.5h0M383.5 460.5h0M395.3 496.8h0M379.3 499.2h0M385.9 501.1h0M394.8 502.6h0M380.0 502.8h0M376.4 503.6h0M375.6 498.1h0M394.9 500.8h0M397.8 499.6h0M374.1 490.5h0M388.7 498.3h0M367.9 486.9h0M400.6 495.3h0M378.5 504.1h0M381.3 498.6h0M384.1 439.6h0M397.8 498.4h0M374.1 500.2h0M375.8 491.5h0M393.7 501.9h0M382.8 500.4h0M362.2 476.7h0M368.2 480.3h0M370.6 503.8h0M387.8 499.1h0M374.9 488.3h0M365.5 482.7h0M377.3 486.8h0M401.5 500.4h0M397.0 502.9h0M400.6 503.1h0M375.6 497.5h0M355.9 457.6h0M386.5 492.6h0M386.9 502.4h0M375.0 489.1h0M380.4 495.2h0M372.0 488.7h0M396.0 504.0h0M385.1 498.1h0M395.1 500.9h0M386.8 497.6h0M372.9 500.5h0M372.5 498.0h0M375.3 495.5h0M352.2 439.6h0M375.2 503.7h0M391.5 454.0h0M376.9 489.5h0M383.8 495.1h0M375.4 485.0h0M400.9 502.0h0M374.0 501.7h0M388.7 487.5h0M398.1 496.8h0M384.8 472.3h0M394.1 493.2h0M395.6 491.5h0M370.7 501.2h0M371.8 495.2h0M367.6 438.4h0M381.4 503.4h0M385.2 490.7h0M375.3 498.6h0M396.3 479.7h0M373.0 479.8h0M399.2 504.1h0M357.6 454.8h0M397.4 502.2h0M374.4 479.6h0M391.2 489.7h0M385.2 503.7h0M375.0 484.7h0M392.1 499.2h0M383.8 498.2h0M375.2 498.9h0M398.6 489.0h0M364.2 418.3h0M397.5 500.7h0M374.8 486.2h0M361.4 477.9h0M373.5 491.4h0M377.0 498.2h0M380.3 498.0h0M352.7 405.2h0M380.3 425.7h0M396.0 496.7h0M398.5 500.0h0M396.8 498.4h0M371.9 489.4h0M376.0 502.2h0M370.9 481.9h0M387.0 504.0h0M358.5 456.2h0M397.2 497.4h0M392.8 497.4h0M400.4 491.9h0M378.6 503.0h0M386.7 496.2h0M390.8 495.7h0M395.4 481.3h0M400.7 502.7h0M372.8 493.9h0M397.1 496.9h0M398.2 496.1h0M400.1 500.9h0M377.6 501.7h0M393.7 446.9h0M399.7 503.1h0M388.9 494.4h0M392.1 443.0h0M397.3 502.5h0M348.3 435.6h0M363.8 481.2h0M367.8 477.9h0M345.4 414.4h0M371.0 493.3h0M393.6 488.4h0M374.5 491.8h0M365.9 450.3h0M381.2 501.8h0M397.9 501.2h0M373.3 482.3h0M396.7 499.9h0M377.8 480.6h0M386.4 489.8h0M367.9 486.3h0M401.3 499.5h0M395.0 498.8h0M381.1 496.7h0M399.8 494.2h0M377.9 491.1h0M399.0 498.2h0M365.5 486.2h0M399.9 487.7h0M392.9 499.8h0M368.4 486.6h0M395.7 494.9h0M379.1 502.1h0M373.2 494.2h0M380.3 502.3h0M400.9 498.6h0M388.6 489.9h0M391.3 500.2h0M393.9 497.6h0M377.3 472.8h0M400.0 501.2h0M381.3 501.5h0M386.2 485.8h0M398.6 486.7h0M378.3 475.1h0M393.4 487.1h0M374.9 501.4h0M399.0 488.0h0M375.0 502.2h0M401.2 503.0h0M391.8 489.1h0M359.5 459.6h0M371.6 488.7h0M395.3 503.4h0M370.3 502.0h0M350.9 437.5h0M366.7 465.2h0M369.7 487.4h0M380.3 503.1h0M376.0 483.1h0M379.5 495.9h0M359.6 477.8h0M356.3 461.0h0M351.4 440.0h0M375.8 489.5h0M378.6 504.0h0M400.9 502.2h0M401.3 498.9h0M358.5 467.0h0M393.8 500.3h0M373.6 499.4h0M345.0 424.3h0M362.9 465.8h0M398.3 498.1h0M400.2 503.6h0M399.5 503.9h0M401.4 500.2h0M377.7 491.8h0M401.5 500.0h0M354.2 465.3h0M380.6 495.6h0M376.9 466.0h0M381.5 490.0h0M389.0 504.3h0M367.7 465.0h0M352.8 412.5h0M374.5 502.8h0M377.6 502.0h0M383.4 503.8h0M366.7 479.5h0M378.0 477.2h0M400.2 484.3h0M370.6 494.7h0M376.2 494.0h0M369.5 470.3h0M376.8 497.6h0M375.9 481.7h0M372.3 466.1h0M384.3 447.7h0M389.1 501.8h0M401.4 503.9h0M364.4 486.5h0M360.3 451.2h0M396.8 502.1h0M394.4 485.3h0M383.9 499.7h0M389.3 499.5h0M353.9 447.4h0M374.6 489.1h0M378.7 492.9h0M390.5 498.6h0M394.3 493.9h0M366.0 476.0h0M388.4 491.4h0M395.5 442.8h0M379.3 499.3h0M394.9 497.2h0M377.1 504.2h0M375.8 500.7h0M370.8 493.1h0M387.1 403.6h0M392.3 485.0h0M378.9 503.8h0M400.3 496.1h0M382.6 492.5h0M377.4 490.9h0M400.5 502.2h0M386.7 500.1h0M356.9 451.9h0M373.2 497.2h0M371.0 482.2h0M377.0 497.9h0M361.6 475.9h0M395.2 500.2h0M376.1 496.0h0M395.2 486.2h0M375.4 494.5h0M385.3 482.9h0M392.1 498.0h0M378.1 484.7h0M349.6 430.1h0M372.0 467.8h0M352.1 459.8h0M375.0 496.7h0M379.6 495.2h0M401.1 503.8h0M350.8 434.3h0M353.9 434.0h0M396.1 501.7h0M388.8 498.2h0M398.7 500.8h0M383.3 504.1h0M377.1 493.8h0M401.5 497.4h0M371.1 488.5h0M355.7 459.8h0M375.8 503.4h0M371.9 497.9h0M351.8 426.9h0M377.4 504.3h0" stroke="#0000ff" stroke-opacity="0.18" stroke-width="2.2" stroke-linecap="round" fill="none"/>
<path d="M372.7 493.1h0M393.7 496.7h0M361.8 457.4h0M355.3 452.5h0M373.4 494.2h0M379.4 495.6h0M377.7 496.1h0M369.7 493.4h0M372.1 479.1h0M388.7 499.0h0M360.9 471.5h0M400.5 499.6h0M400.2 490.4h0M386.4 503.9h0M390.5 501.0h0M390.4 493.9h0M394.3 503.3h0M365.5 446.8h0M378.5 501.1h0M369.5 479.3h0M389.9 500.6h0M390.7 463.4h0M391.9 494.6h0M366.6 476.0h0M365.0 487.7h0M391.2 499.2h0M393.9 492.8h0M387.2 503.0h0M372.2 500.8h0M395.4 499.2h0M394.2 489.9h0M377.1 498.2h0M364.8 450.1h0M371.8 484.3h0M371.6 491.4h0M399.8 500.6h0M377.1 498.2h0M369.6 493.5h0M350.4 422.0h0M376.8 469.7h0M401.2 497.4h0M387.7 491.0h0M379.7 503.8h0M393.9 496.8h0M398.2 482.6h0M375.6 500.0h0M395.6 499.0h0M377.9 503.2h0M395.4 483.6h0M392.2 492.2h0M393.0 454.6h0M379.0 503.0h0M387.2 503.7h0M360.0 448.8h0M375.4 497.5h0M367.0 481.6h0M373.2 490.5h0M378.5 491.2h0M379.4 477.0h0M401.1 498.2h0M394.6 496.9h0M376.8 497.9h0M378.5 420.8h0M361.2 467.1h0M366.4 481.0h0M399.5 503.3h0M371.3 489.3h0M379.3 489.0h0M383.3 498.4h0M378.3 492.7h0M397.8 504.1h0M400.1 504.1h0M374.6 463.8h0M372.4 482.0h0M391.4 501.0h0M374.4 481.2h0M396.3 501.8h0M400.5 493.2h0M391.3 503.4h0M396.5 503.7h0M375.6 485.8h0M401.1 492.8h0M362.3 465.3h0M369.0 490.8h0M400.9 503.2h0M375.8 503.6h0M397.7 502.4h0M384.6 501.9h0M400.5 502.0h0M374.7 496.0h0M382.5 494.0h0M375.7 501.7h0M399.9 502.2h0M366.3 489.9h0M372.5 502.2h0M368.4 456.4h0M371.8 494.6h0M376.4 497.0h0M373.1 499.3h0M383.5 488.6h0M381.8 501.1h0M381.4 498.1h0M389.1 503.8h0M367.9 480.2h0M381.5 503.8h0M338.8 402.3h0M381.9 500.6h0M367.3 478.4h0M387.6 497.5h0M396.7 503.7h0M375.6 499.9h0M396.9 501.3h0M379.4 503.6h0M378.1 496.5h0M398.1 497.7h0M394.7 492.8h0M399.4 503.9h0M373.1 499.6h0M373.4 500.9h0M374.2 496.4h0M370.4 488.0h0M364.7 473.3h0M366.5 484.3h0M366.4 484.8h0M393.2 501.9h0M377.3 500.6h0M391.9 502.5h0M372.8 496.4h0M371.6 497.2h0M395.0 502.5h0M381.0 503.2h0M367.6 475.6h0M371.8 485.5h0M400.1 498.4h0M401.4 500.3h0M398.0 503.9h0M385.1 454.1h0M401.0 490.9h0M393.6 500.9h0M362.9 465.8h0M356.6 453.4h0M355.8 452.1h0M376.5 488.3h0M364.1 480.0h0M350.9 440.2h0M374.0 487.5h0M395.9 501.4h0M375.5 499.3h0M357.6 447.5h0M399.5 503.1h0M376.2 496.3h0M380.0 503.4h0M380.3 460.9h0M373.9 497.4h0M380.7 502.4h0M386.1 501.2h0M396.9 499.7h0M374.2 498.8h0M363.2 458.6h0M377.5 495.4h0M376.7 494.5h0M368.9 471.0h0M384.0 495.5h0M400.6 496.6h0M376.4 476.1h0M395.5 502.3h0M380.2 456.9h0M372.0 497.4h0M377.5 500.0h0M391.2 503.2h0M383.4 504.3h0M400.8 487.9h0M354.4 446.0h0M369.0 496.3h0M358.5 468.8h0M396.8 503.1h0M366.0 483.3h0M365.0 459.5h0M400.6 501.2h0M374.1 496.5h0M394.3 489.3h0M378.3 501.0h0M390.0 489.3h0M351.9 447.3h0M400.9 494.3h0M376.7 503.4h0M373.9 497.5h0M401.2 504.3h0M370.8 496.9h0M384.3 500.6h0M399.8 501.8h0M371.9 481.1h0M376.7 496.5h0M392.7 493.9h0M364.6 474.9h0M377.0 494.5h0M369.5 448.4h0M379.6 445.8h0M380.1 502.1h0M394.0 495.6h0M374.7 489.8h0M392.5 501.7h0M374.0 499.1h0M390.8 442.7h0M360.2 467.7h0M382.8 499.2h0M368.1 493.9h0M369.8 477.3h0M381.8 493.9h0M374.1 489.5h0M361.8 459.7h0M396.2 503.9h0M376.2 501.0h0M356.4 447.2h0M383.7 504.2h0M373.8 496.5h0M376.8 492.2h0M392.2 502.0h0M384.2 498.8h0M361.1 441.9h0M372.0 503.2h0M390.4 495.5h0M358.6 454.6h0M372.8 483.6h0M388.3 497.8h0M397.9 503.2h0M367.1 474.2h0M401.2 496.0h0M382.5 497.1h0M367.7 479.4h0M392.3 502.9h0M371.7 485.2h0M372.1 487.4h0M360.6 456.5h0M363.7 471.1h0M375.2 498.1h0M397.7 503.7h0M396.5 490.8h0M397.3 504.2h0M380.0 479.4h0M388.7 496.6h0M374.3 498.5h0M380.8 501.3h0M397.1 501.3h0M399.0 499.9h0M397.8 499.7h0M375.5 495.2h0M396.2 494.1h0M392.3 503.4h0M389.7 503.4h0M370.4 490.2h0M400.1 494.8h0M387.7 504.3h0M400.6 493.7h0M373.2 498.9h0M383.0 417.0h0M394.9 496.8h0M359.3 448.8h0M388.3 496.1h0M356.0 454.4h0M377.7 497.8h0M359.9 461.2h0M348.4 425.1h0M385.9 503.7h0M388.3 489.9h0M356.6 453.3h0M363.1 428.4h0M397.5 497.2h0M364.4 480.2h0M357.5 464.9h0M380.6 503.9h0M396.8 500.3h0M396.4 492.6h0M401.5 497.4h0M400.6 491.8h0M394.3 488.8h0M371.3 494.1h0M372.4 487.8h0M373.9 487.3h0M391.0 483.0h0M376.3 502.1h0M360.6 468.9h0M383.4 490.6h0M392.0 499.4h0M373.5 502.8h0M376.1 493.2h0M376.2 485.1h0M376.9 495.4h0M373.0 493.5h0M371.8 487.7h0M387.6 500.5h0M373.9 489.9h0M381.0 492.7h0M385.7 502.8h0M367.0 488.5h0M396.6 498.6h0M392.7 502.2h0M357.4 439.4h0M376.5 500.3h0" stroke="#0000ff" stroke-opacity="0.18" stroke-width="2.2" stroke-linecap="round" fill="none"/>
<path d="M374.9 502.6h0M399.9 498.1h0M367.4 489.2h0M395.9 495.0h0M400.6 493.8h0M375.1 492.9h0M366.4 494.9h0M387.0 504.0h0M386.3 495.5h0M396.8 436.3h0M396.7 498.4h0M369.9 492.1h0M391.9 486.6h0M377.2 499.6h0M385.8 498.6h0M391.3 410.0h0M396.4 495.8h0M367.2 479.1h0M375.6 496.5h0M398.0 496.4h0M388.9 492.8h0M362.5 464.1h0M399.7 502.2h0M378.0 502.4h0M373.3 473.9h0M396.2 494.8h0M360.1 466.8h0M376.2 440.0h0M391.4 486.4h0M393.1 503.1h0M386.4 488.2h0M382.1 503.9h0M366.7 482.5h0M396.4 499.8h0M398.5 501.9h0M390.7 498.3h0M366.8 488.9h0M388.5 489.0h0M373.8 485.5h0M399.9 495.9h0M377.5 501.9h0M376.4 497.8h0M382.1 501.1h0M379.3 466.9h0M371.9 496.4h0M365.6 478.4h0M379.5 479.8h0M380.9 503.8h0M369.6 489.9h0M388.5 494.6h0M380.0 493.8h0M375.0 501.1h0M377.2 494.9h0M394.6 499.9h0M376.0 504.2h0M366.5 485.6h0M399.2 497.8h0M368.0 477.6h0M399.5 500.7h0M389.4 475.8h0M393.9 504.0h0M393.3 499.4h0M379.9 500.5h0M397.5 503.1h0M393.1 501.4h0M361.5 471.3h0M388.6 453.7h0M373.1 483.1h0M355.0 449.4h0M400.6 498.7h0M397.2 492.1h0M372.9 492.8h0M391.4 486.6h0M399.2 504.2h0M357.9 474.8h0M369.9 489.1h0M382.6 501.2h0M376.7 495.9h0M379.7 502.9h0M387.5 503.9h0M388.8 503.0h0M398.0 503.9h0M394.2 502.3h0M393.6 496.2h0M386.8 502.2h0M399.6 502.5h0M367.9 461.8h0M363.3 474.2h0M378.6 495.0h0M385.3 492.7h0M400.2 499.3h0M399.7 497.7h0M374.1 499.3h0M376.6 502.0h0M377.0 503.1h0M384.2 502.7h0M395.6 495.2h0M398.4 500.0h0M395.4 498.3h0M383.3 498.7h0M372.0 484.1h0M373.8 495.7h0M360.9 466.7h0M373.9 500.9h0M395.5 497.3h0M396.3 503.6h0M348.9 448.2h0M368.7 493.6h0M372.6 491.0h0M374.4 492.6h0M377.9 503.1h0M379.1 456.7h0M359.6 446.7h0M354.1 406.5h0M382.5 499.7h0M376.7 497.8h0M375.1 503.6h0M401.4 504.1h0M373.7 487.2h0M389.1 492.9h0M388.2 498.8h0M374.3 499.9h0M396.8 501.8h0M389.9 483.9h0M356.8 437.9h0M376.3 496.0h0M385.6 500.7h0M392.4 486.8h0M382.5 462.6h0M364.9 468.0h0M382.8 444.7h0M361.6 475.1h0M378.7 498.8h0M370.3 485.4h0M383.0 424.1h0M375.5 490.7h0M393.2 486.1h0M400.5 498.5h0M372.7 495.0h0M366.6 483.4h0M375.9 496.7h0M384.1 474.5h0M392.9 495.5h0M395.7 483.1h0M386.5 421.2h0M399.5 495.3h0M400.3 502.2h0M392.9 480.2h0M363.1 476.7h0M385.0 417.3h0M395.1 500.7h0M374.9 495.0h0M393.2 504.1h0M372.9 483.4h0M367.3 467.8h0M396.5 499.4h0M388.3 491.5h0M384.0 465.9h0M365.0 471.1h0M396.4 501.8h0M393.9 503.4h0M397.6 502.1h0M389.1 492.4h0M401.5 501.2h0M396.3 503.4h0M379.4 499.4h0M393.0 503.9h0M396.0 501.2h0M375.2 499.6h0M389.9 425.6h0M377.5 494.4h0M376.1 503.5h0M397.8 497.0h0M365.0 465.2h0M392.7 481.1h0M401.3 503.7h0M380.6 503.3h0M400.6 501.3h0M363.6 472.4h0M376.7 477.1h0M389.8 454.7h0M374.0 445.2h0M395.0 488.5h0M378.2 498.5h0M353.8 452.6h0M382.0 503.7h0M377.8 490.8h0M395.3 472.2h0M366.0 488.0h0M359.6 476.2h0M399.2 503.1h0M353.7 458.7h0M376.0 503.1h0M398.6 499.7h0M383.2 498.9h0M377.6 504.2h0M396.2 499.0h0M399.8 498.2h0M399.7 490.5h0M376.9 497.9h0M400.0 501.6h0M401.6 501.2h0M398.1 501.6h0M398.7 500.3h0M384.1 503.4h0M378.6 492.8h0M388.7 503.0h0M377.9 502.9h0M391.3 499.9h0M354.9 445.4h0M397.7 442.9h0M398.0 503.6h0M391.5 498.2h0M379.8 499.4h0M395.5 501.2h0M370.6 493.8h0M394.0 497.6h0M359.7 457.0h0M400.0 499.0h0M398.5 501.9h0M367.7 486.0h0M354.7 460.7h0M397.1 502.2h0M363.4 466.6h0M398.9 503.9h0M387.5 472.8h0M380.0 503.2h0M378.0 504.0h0M391.1 497.4h0M355.0 443.6h0M400.7 503.8h0M383.3 501.9h0M369.4 473.6h0M399.4 497.4h0M401.2 500.9h0M395.8 496.4h0M369.8 492.9h0M392.2 496.3h0M373.3 465.9h0M368.9 451.5h0M379.8 504.3h0M393.0 479.7h0M396.9 497.8h0M381.0 504.0h0M393.2 480.8h0M369.0 423.0h0M359.9 459.6h0M383.9 484.6h0M399.4 493.1h0M391.7 499.9h0M386.8 501.9h0M393.5 421.1h0M359.6 455.8h0M366.1 482.9h0M387.4 484.7h0M391.9 488.0h0M399.4 503.2h0M397.8 494.3h0M381.8 494.7h0M383.8 454.2h0M398.7 500.0h0M385.1 503.4h0M374.0 461.2h0M397.3 503.0h0M393.5 502.3h0M392.5 494.0h0M373.8 470.6h0M395.5 501.5h0M366.7 482.1h0M365.9 502.3h0M378.3 498.9h0M398.1 497.6h0M375.4 496.3h0M401.4 502.1h0M372.4 491.0h0M351.4 444.1h0M374.1 492.4h0M390.9 502.2h0M400.8 500.2h0M398.4 495.4h0M365.6 473.7h0M390.7 431.0h0M368.8 486.8h0M365.7 483.5h0M349.8 440.5h0M375.1 498.8h0M398.3 499.0h0M362.7 468.3h0M387.7 503.6h0M359.8 457.0h0M384.5 503.9h0M377.6 501.7h0M397.5 485.3h0M368.8 491.6h0M397.3 483.2h0M395.8 503.3h0M375.9 497.9h0M376.6 491.4h0M401.0 495.3h0" stroke="#0000ff" stroke-opacity="0.18" stroke-width="2.2" stroke-linecap="round" fill="none"/>
<path d="M395.3 501.0h0M374.5 496.8h0M371.9 497.3h0M394.7 503.2h0M394.4 501.9h0M391.0 503.8h0M395.9 494.1h0M371.0 495.7h0M398.1 498.9h0M389.0 496.6h0M401.1 500.9h0M365.8 485.8h0M356.5 455.8h0M363.0 483.5h0M364.1 473.1h0M399.6 501.6h0M358.1 454.1h0M359.2 466.7h0M378.5 501.7h0M384.8 499.0h0M385.8 451.9h0M368.8 470.5h0M377.4 500.6h0M376.6 501.4h0M356.0 433.3h0M396.7 502.8h0M374.2 497.8h0M396.2 503.8h0M395.0 503.0h0M393.6 495.1h0M391.2 495.7h0M369.9 477.9h0M395.3 493.3h0M370.9 463.7h0M392.8 490.8h0M379.6 504.0h0M362.3 467.9h0M401.5 502.7h0M361.6 467.4h0M393.4 479.1h0M372.8 492.6h0M366.8 484.8h0M396.8 498.1h0M392.6 503.9h0M399.2 502.7h0M377.3 496.9h0M376.4 498.2h0M384.2 485.0h0M368.1 490.3h0M387.4 504.3h0M374.4 481.4h0M367.7 484.7h0M350.3 420.9h0M398.2 432.3h0M397.0 474.4h0M382.1 498.4h0M380.0 487.2h0M388.6 500.6h0M399.0 492.6h0M361.5 472.2h0M392.5 423.3h0M367.1 490.3h0M396.1 404.8h0M371.6 444.5h0M369.9 491.8h0M393.8 503.8h0M398.9 503.8h0M383.2 447.0h0M393.9 494.0h0M377.2 503.9h0M365.5 485.1h0M397.5 497.8h0M377.1 497.1h0M369.0 491.2h0M392.6 487.3h0M362.1 476.4h0M383.3 500.3h0M399.6 487.3h0M391.9 501.0h0M395.1 503.5h0M400.3 502.4h0M397.1 494.0h0M396.8 499.6h0M397.9 491.1h0M380.7 503.1h0M376.6 500.9h0M383.8 479.4h0M387.4 499.9h0M379.9 464.5h0M377.0 493.2h0M351.2 441.1h0M400.7 496.3h0M390.6 477.0h0M400.2 488.6h0M397.8 502.7h0M399.2 482.7h0M379.2 478.0h0M367.3 479.9h0M375.8 429.1h0M379.2 502.4h0M386.0 502.9h0M379.8 503.0h0M388.9 483.6h0M373.0 504.1h0M387.0 501.9h0M384.6 497.7h0M389.7 501.0h0M398.5 503.3h0M376.1 496.6h0M372.3 492.1h0M380.4 501.2h0M389.1 504.0h0M374.7 500.4h0M397.4 489.5h0M396.0 502.8h0M386.4 484.2h0M377.2 501.8h0M383.2 491.5h0M400.6 499.7h0M390.5 498.1h0M377.3 503.7h0M364.0 487.3h0M360.6 468.6h0M374.8 495.0h0M363.0 459.5h0M364.0 463.6h0M379.6 494.8h0M400.2 503.0h0M389.8 403.8h0M371.0 489.8h0M382.4 470.3h0M367.0 481.8h0M368.3 476.9h0M400.2 495.3h0M374.5 488.4h0M395.1 473.8h0M373.9 494.3h0M394.8 484.7h0M382.7 480.8h0M395.3 491.2h0M396.7 503.7h0M379.8 502.4h0M350.0 448.1h0M390.3 426.8h0M377.4 493.1h0M378.5 490.0h0M401.0 493.7h0M358.4 466.5h0M394.6 498.5h0M400.8 500.6h0M396.8 500.9h0M384.0 471.7h0M401.4 501.1h0M395.9 498.1h0M391.4 493.6h0M363.5 479.0h0M378.3 503.6h0M373.7 436.4h0M384.5 499.6h0M371.7 445.1h0M400.9 502.4h0M394.9 503.5h0M392.1 500.8h0M352.4 431.7h0M386.0 496.1h0M369.0 473.0h0M376.9 497.1h0M386.4 487.2h0M372.2 498.5h0M395.6 487.7h0M371.3 488.7h0M387.3 492.5h0M390.9 415.2h0M388.8 491.8h0M400.3 503.9h0M365.8 489.5h0M378.3 502.3h0M385.1 473.8h0M390.5 503.1h0M393.1 488.2h0M395.9 486.3h0M367.9 482.0h0M369.5 485.9h0M368.1 484.2h0M400.1 497.3h0M381.1 424.9h0M360.7 466.4h0M394.2 456.7h0M398.8 501.2h0M363.0 467.6h0M377.5 498.6h0M361.7 476.8h0M386.7 497.2h0M372.7 491.8h0M387.0 497.5h0M371.3 482.5h0M353.3 446.8h0M372.2 498.2h0M396.7 501.0h0M386.6 486.4h0M396.5 500.0h0M377.4 501.3h0M373.0 487.8h0M365.1 431.4h0M376.1 478.2h0M369.3 482.2h0M379.3 500.1h0M398.3 486.3h0M387.0 503.2h0M398.4 489.1h0M398.2 496.4h0M394.5 492.4h0M378.7 500.1h0M398.5 492.0h0M394.3 502.0h0M359.3 469.5h0M370.5 493.1h0M398.0 498.6h0M388.2 495.0h0M392.9 502.5h0M392.7 494.3h0M390.5 502.0h0M364.0 481.9h0M394.5 492.5h0M376.8 501.2h0M385.4 473.4h0M373.3 492.0h0M400.0 499.3h0M387.1 466.2h0M394.8 499.5h0M399.8 490.9h0M362.2 408.5h0M375.3 497.1h0M400.4 493.1h0M392.7 501.6h0M388.8 486.2h0M397.6 498.6h0M380.2 480.2h0M353.4 435.1h0M353.0 456.1h0M385.0 491.2h0M396.2 500.4h0M389.3 499.0h0M365.6 418.8h0M394.3 495.0h0M394.7 495.8h0M372.6 504.0h0M377.0 487.8h0M386.1 492.7h0M392.5 480.9h0M368.3 482.3h0M388.1 503.9h0M398.3 499.0h0M389.7 473.6h0M399.8 503.3h0M351.4 409.3h0M372.8 493.7h0M368.3 473.8h0M401.0 503.8h0M375.8 485.3h0M388.7 499.0h0M384.6 500.1h0M369.0 487.4h0M375.8 499.4h0M371.1 492.2h0M398.5 502.8h0M373.0 495.5h0M381.0 494.3h0M359.3 468.3h0M368.3 465.9h0M397.8 501.3h0M373.7 495.4h0M398.9 502.8h0M374.6 481.6h0M394.3 503.8h0M399.2 496.6h0M392.6 496.4h0M394.4 500.3h0M388.4 484.2h0M375.8 503.7h0M367.0 479.4h0M373.9 500.7h0M373.5 500.7h0M399.9 493.2h0M392.6 503.4h0M388.5 488.0h0M384.8 501.4h0M395.3 476.6h0M399.3 500.4h0M374.0 485.1h0M368.3 486.1h0M382.9 481.6h0M376.6 496.4h0M380.6 503.2h0M369.7 493.0h0M401.6 495.0h0M370.0 480.0h0M361.6 463.6h0M355.6 458.0h0" stroke="#0000ff" stroke-opacity="0.18" stroke-width="2.2" stroke-linecap="round" fill="none"/>
<path d="M401.1 501.6h0M380.4 502.3h0M376.1 494.0h0M386.3 493.2h0M370.6 493.4h0M394.8 497.3h0M398.8 502.5h0M361.8 478.7h0M377.4 502.4h0M397.0 502.9h0M385.9 485.3h0M394.9 498.7h0M396.8 501.1h0M357.4 472.6h0M372.2 487.6h0M388.7 479.6h0M398.0 495.2h0M360.5 465.9h0M362.6 462.5h0M376.9 495.3h0M388.0 495.4h0M383.2 493.0h0M354.7 457.9h0M366.4 467.8h0M387.6 503.8h0M377.3 502.5h0M369.7 485.4h0M381.5 486.3h0M374.2 497.0h0M399.9 478.2h0M374.3 493.8h0M374.2 498.0h0M389.4 455.6h0M396.7 501.2h0M354.3 435.4h0M401.5 501.7h0M366.5 461.4h0M360.2 453.9h0M369.9 488.6h0M369.7 415.0h0M378.6 497.8h0M380.9 431.3h0M370.8 478.0h0M369.9 493.2h0M401.0 499.8h0M387.6 492.9h0M400.2 501.9h0M391.0 499.5h0M378.9 503.5h0M393.6 499.2h0M395.5 490.2h0M392.3 488.3h0M383.8 481.1h0M382.0 496.7h0M376.7 473.6h0M372.9 496.2h0M363.2 477.3h0M375.7 500.8h0M398.5 501.5h0M371.4 487.4h0M396.3 500.1h0M392.6 498.4h0M399.2 501.2h0M399.3 504.3h0M376.7 491.7h0M374.0 480.7h0M381.7 496.8h0M385.4 504.2h0M393.7 501.1h0M401.3 499.1h0M366.7 481.4h0M369.6 483.0h0M369.4 464.7h0M398.0 497.8h0M396.3 500.1h0M358.7 464.6h0M376.8 495.1h0M386.3 498.8h0M371.3 486.2h0M394.3 494.7h0M380.7 501.8h0M384.3 503.8h0M372.1 489.6h0M369.2 482.6h0M394.0 496.9h0M373.8 491.9h0M396.5 495.3h0M380.9 499.6h0M392.7 494.8h0M373.6 496.2h0M371.1 489.4h0M401.5 503.8h0M374.3 498.4h0M398.5 500.0h0M382.5 502.3h0M377.6 495.4h0M378.0 494.2h0M376.5 499.2h0M371.3 495.4h0M396.5 494.1h0M397.7 503.5h0M380.3 501.0h0M375.4 502.6h0M359.7 465.5h0M371.6 479.9h0M376.7 451.2h0M398.1 446.2h0M393.7 499.4h0M369.7 487.8h0M401.0 503.4h0M376.1 497.6h0M381.3 499.3h0M372.9 485.1h0M375.7 503.0h0M373.7 499.9h0M374.3 495.0h0M369.2 491.1h0M378.6 496.6h0M380.5 502.7h0M399.7 503.7h0M401.5 499.3h0M394.8 483.2h0M370.7 470.4h0M369.7 481.0h0M373.5 502.1h0M388.2 409.4h0M352.3 455.7h0M401.5 503.6h0M391.6 490.6h0M372.2 480.6h0M391.4 464.3h0M401.1 499.9h0M371.2 481.8h0M401.1 503.1h0M371.4 480.7h0M400.8 500.6h0M379.0 498.8h0M377.3 498.4h0M399.1 501.8h0M370.2 449.8h0M371.1 481.1h0M400.9 491.6h0M400.1 503.4h0M366.6 487.1h0M373.4 482.9h0M386.9 473.7h0M397.3 493.5h0M364.5 487.2h0M373.7 497.6h0M377.9 502.4h0M354.1 457.5h0M369.7 458.6h0M364.2 479.6h0M381.3 501.0h0M392.0 501.8h0M367.8 476.8h0M364.0 463.9h0M360.8 474.1h0M367.4 490.0h0M371.8 495.8h0M388.4 445.2h0M394.6 490.4h0M360.9 466.4h0M390.8 491.8h0M365.1 468.2h0M376.1 502.7h0M384.4 497.1h0M398.8 500.6h0M375.4 499.8h0M397.0 499.9h0M372.2 495.0h0M384.5 494.4h0M386.5 495.5h0M398.4 502.9h0M390.3 502.9h0M382.2 502.7h0M376.4 497.1h0M373.3 494.0h0M368.5 476.9h0M372.9 476.4h0M365.7 480.6h0M369.5 490.5h0M366.0 463.9h0M397.3 498.2h0M383.2 502.2h0M363.1 467.7h0M386.9 503.5h0M396.7 497.9h0M389.5 491.2h0M392.0 500.8h0M380.3 502.9h0M389.4 482.8h0M384.8 496.8h0M376.9 495.9h0M370.5 494.3h0M395.9 462.9h0M398.1 495.5h0M372.2 498.3h0M376.1 475.6h0M380.9 499.2h0M396.5 498.7h0M379.0 497.3h0M393.5 502.9h0M364.3 470.7h0M380.2 503.9h0M399.1 493.0h0M357.2 424.0h0M399.9 504.1h0M401.0 502.7h0M399.2 496.2h0M393.1 502.4h0M353.2 435.3h0M374.1 498.0h0M373.4 491.7h0M400.6 496.1h0M397.6 502.0h0M400.4 504.1h0M394.3 503.1h0M376.5 494.4h0M388.5 489.7h0M398.1 504.3h0M364.3 478.3h0M393.0 496.7h0M372.8 482.9h0M363.4 480.1h0M395.3 502.0h0M375.9 502.7h0M392.9 499.0h0M377.5 504.3h0M379.2 502.6h0M373.4 485.7h0M346.2 430.8h0M353.1 433.4h0M394.6 500.8h0M366.4 483.0h0M401.0 503.6h0M353.9 442.7h0M398.0 480.2h0M397.6 503.7h0M374.1 491.4h0M379.4 500.2h0M373.2 494.2h0M399.7 498.1h0M369.0 481.2h0M396.2 503.6h0M364.5 477.6h0M398.6 484.0h0M389.6 488.2h0M378.3 492.7h0M391.4 494.7h0M398.4 501.6h0M366.0 485.4h0M372.3 484.7h0M355.5 436.8h0M374.7 495.5h0M388.2 496.8h0M367.5 478.0h0M375.2 495.3h0M401.6 501.0h0M401.2 494.5h0M400.1 502.4h0M357.7 444.5h0M383.1 467.1h0M387.7 502.1h0M377.0 500.0h0M388.4 497.2h0M390.1 503.5h0M395.9 500.5h0M396.5 503.2h0M361.6 432.9h0M385.9 502.9h0M369.7 490.3h0M383.3 503.7h0M395.7 504.3h0M355.3 451.0h0M379.8 499.0h0M373.9 496.9h0M370.5 502.1h0M361.9 460.8h0M379.1 499.1h0M397.8 499.4h0M373.4 483.6h0M369.7 485.4h0M378.7 463.4h0M387.5 495.6h0M385.2 503.5h0M371.7 479.7h0M392.2 500.1h0M399.0 503.7h0M397.3 496.3h0M380.7 502.8h0M369.3 484.0h0M371.0 498.4h0M354.3 436.5h0M373.4 486.5h0M374.3 449.2h0M398.3 476.1h0M370.8 496.9h0M398.9 502.7h0" stroke="#0000ff" stroke-opacity="0.18" stroke-width="2.2" stroke-linecap="round" fill="none"/>
<path d="M372.7 470.3h0M381.7 498.1h0M367.9 472.6h0M386.8 481.8h0M375.1 488.5h0M398.5 499.8h0M377.5 499.6h0M398.6 497.5h0M386.7 495.5h0M376.9 497.1h0M386.1 503.6h0M372.4 496.2h0M355.5 455.7h0M394.1 499.2h0M381.5 467.9h0M381.2 498.9h0M368.3 493.6h0M379.8 497.5h0M376.9 501.9h0M373.4 503.1h0M386.2 493.2h0M370.5 486.2h0M366.2 480.0h0M401.2 494.3h0M384.9 458.2h0M398.9 504.0h0M365.0 479.4h0M361.0 477.3h0M398.1 502.6h0M374.6 501.8h0M372.6 499.3h0M372.0 478.6h0M393.1 503.0h0M401.0 500.8h0M394.1 502.8h0M399.3 502.3h0M372.3 494.7h0M371.6 490.9h0M386.5 487.4h0M389.9 501.3h0M398.6 504.0h0M392.3 494.3h0M390.4 498.2h0M398.7 501.7h0M391.0 499.1h0M385.1 428.1h0M401.6 502.2h0M375.1 503.9h0M378.1 494.6h0M375.6 501.6h0M370.4 470.9h0M394.9 441.9h0M399.5 499.9h0M384.8 485.0h0M393.4 502.5h0M378.8 499.5h0M400.0 500.2h0M385.3 498.7h0M394.9 454.5h0M393.9 498.6h0M367.0 486.5h0M385.2 498.9h0M397.6 493.8h0M375.2 503.2h0M395.1 504.3h0M370.7 491.5h0M396.7 485.8h0M374.2 494.2h0M380.4 500.6h0M368.6 459.5h0M397.9 495.3h0M399.8 499.5h0M396.4 495.5h0M401.3 503.4h0M360.3 469.9h0M369.6 489.3h0M380.4 500.8h0M389.3 416.3h0M361.2 466.5h0M375.4 449.8h0M370.3 490.4h0M369.3 486.4h0M390.3 502.4h0M390.7 487.8h0M400.6 480.4h0M393.3 499.3h0M400.8 497.5h0M398.4 496.9h0M389.7 501.5h0M383.9 503.5h0M372.2 493.8h0M376.0 475.0h0M352.3 458.0h0M397.6 500.2h0M392.0 498.3h0M393.2 493.6h0M380.6 504.1h0M383.5 420.9h0M363.3 482.9h0M398.0 501.7h0M371.6 491.2h0M367.7 487.7h0M400.4 503.8h0M352.5 448.4h0M372.1 489.2h0M375.0 499.6h0M371.1 487.3h0M371.0 477.7h0M399.1 504.3h0M399.1 502.5h0M361.0 419.1h0M386.7 450.7h0M384.4 500.9h0M401.0 494.7h0M385.9 491.2h0M370.5 481.7h0M348.9 412.5h0M388.6 497.0h0M371.2 476.8h0M397.7 496.3h0M372.1 499.3h0M392.5 486.2h0M381.9 499.0h0M401.1 490.4h0M387.8 501.9h0M382.9 500.9h0M377.0 504.0h0M387.7 504.2h0M361.0 462.9h0M384.5 486.7h0M376.1 502.3h0M378.5 501.4h0M382.7 501.3h0M397.7 479.2h0M376.6 497.4h0M379.6 492.3h0M378.4 473.5h0M375.6 492.9h0M374.3 495.8h0M385.6 495.1h0M398.2 492.4h0M389.0 481.1h0M398.8 503.3h0M365.9 408.3h0M392.4 502.9h0M370.3 489.0h0M398.7 500.0h0M351.6 443.1h0M367.5 494.0h0M400.8 491.3h0M401.2 489.2h0M355.8 458.7h0M373.0 495.0h0M389.2 418.4h0M392.5 502.2h0M400.1 502.5h0M373.4 503.0h0M380.6 502.8h0M400.7 486.9h0M395.3 503.1h0M356.7 460.1h0M392.6 461.0h0M377.6 501.7h0M394.9 498.1h0M398.4 503.9h0M401.1 501.7h0M391.8 504.3h0M401.5 499.6h0M398.0 494.7h0M374.4 498.4h0M380.2 471.7h0M371.9 494.7h0M388.9 433.6h0M392.2 495.8h0M379.4 503.5h0M391.7 498.5h0M400.0 501.6h0M401.6 503.4h0M377.3 471.8h0M370.9 491.0h0M362.7 467.6h0M378.4 496.8h0M400.5 501.0h0M399.4 500.8h0M386.6 470.4h0M371.0 495.2h0M378.7 493.4h0M379.2 489.6h0M380.0 503.9h0M378.2 494.8h0M369.6 492.5h0M367.2 482.0h0M378.2 503.6h0M394.8 435.6h0M393.9 500.4h0M392.6 499.5h0M379.9 482.1h0M379.1 501.8h0M371.6 491.8h0M359.3 449.9h0M372.5 499.1h0M388.3 494.6h0M381.6 504.2h0M375.2 496.1h0M372.5 497.1h0M389.7 452.0h0M398.7 503.2h0M375.2 497.3h0M368.4 479.7h0M371.6 488.5h0M397.0 489.8h0M400.5 495.3h0M391.6 501.1h0M401.1 504.3h0M374.0 495.8h0M377.0 455.8h0M394.0 499.3h0M361.5 474.6h0M372.7 493.5h0M362.1 480.8h0M361.7 467.6h0M388.5 484.6h0M375.6 496.6h0M401.0 493.1h0M382.6 503.1h0M355.3 451.1h0M372.4 497.0h0M383.4 491.4h0M394.8 496.1h0M358.7 463.7h0M392.2 494.3h0M400.3 501.2h0M376.7 494.3h0M399.6 501.9h0M374.2 495.5h0M381.2 499.6h0M367.8 493.6h0M394.6 502.3h0M380.9 480.4h0M386.5 503.6h0M351.6 444.7h0M377.1 501.9h0M399.7 501.4h0M399.1 498.1h0M401.1 504.1h0M396.4 501.1h0M353.0 464.6h0M391.2 501.1h0M399.1 501.2h0M377.5 502.5h0M379.9 504.2h0M368.9 488.6h0M400.1 487.8h0M397.3 476.1h0M375.3 501.3h0M382.4 498.7h0M372.4 494.0h0M363.4 451.2h0M387.4 495.6h0M392.7 502.1h0M367.4 485.2h0M359.7 467.0h0M388.0 498.6h0M395.8 490.3h0M394.1 490.3h0M380.2 491.5h0M371.6 481.2h0M363.5 468.3h0M353.9 449.1h0M349.3 442.3h0M383.3 489.0h0M356.5 466.3h0M401.2 487.2h0M376.5 501.5h0M387.6 498.0h0M360.1 473.9h0M388.3 473.1h0M381.0 501.9h0M381.7 503.6h0M360.0 458.5h0M398.3 493.3h0M394.0 444.3h0M399.8 500.0h0M389.4 502.9h0M394.7 504.2h0M368.1 490.9h0M356.2 467.5h0M370.9 474.2h0M398.8 501.6h0M401.5 493.6h0M393.1 486.5h0M396.9 490.1h0M371.0 471.4h0M393.3 414.5h0M399.2 497.9h0M384.1 500.2h0M397.0 490.9h0M399.0 497.1h0M398.5 478.0h0" stroke="#0000ff" stroke-opacity="0.18" stroke-width="2.2" stroke-linecap="round" fill="none"/>
<path d="M397.6 483.1h0M377.4 495.5h0M389.4 477.6h0M353.9 440.1h0M394.3 502.7h0M376.3 500.8h0M396.1 503.6h0M359.7 457.2h0M376.1 485.8h0M393.7 493.9h0M391.8 496.9h0M372.8 491.3h0M398.8 500.0h0M393.1 465.6h0M395.1 494.3h0M394.6 503.3h0M397.1 494.9h0M373.0 465.7h0M399.1 491.3h0M384.3 501.9h0M401.3 498.2h0M400.6 494.9h0M374.7 495.4h0M369.3 483.3h0M386.1 467.0h0M387.1 503.7h0M399.5 502.7h0M383.3 501.9h0M400.2 487.2h0M389.8 503.7h0M371.3 496.0h0M383.4 462.3h0M363.5 474.5h0M375.9 503.3h0M368.4 485.3h0M401.2 501.9h0M364.3 475.2h0M366.5 490.7h0M391.8 455.3h0M386.7 504.1h0M395.6 501.8h0M398.2 495.9h0M400.1 497.0h0M400.6 496.7h0M388.8 500.6h0M380.6 500.7h0M357.0 451.6h0M396.0 474.8h0M389.8 487.2h0M394.7 500.6h0M396.4 501.3h0M352.1 442.2h0M368.4 491.8h0M375.8 500.2h0M379.2 503.7h0M379.1 501.4h0M371.9 498.5h0M381.0 500.6h0M397.6 501.7h0M371.9 495.6h0M375.3 504.3h0M397.5 503.2h0M389.1 468.4h0M391.9 498.6h0M399.8 501.5h0M390.8 496.6h0M377.1 493.8h0M372.1 440.4h0M364.8 406.3h0M378.6 497.4h0M390.2 476.7h0M359.6 470.7h0M376.3 499.6h0M377.5 500.7h0M379.3 499.6h0M369.6 480.9h0M385.7 492.7h0M375.7 503.4h0M392.9 503.7h0M372.6 485.3h0M389.2 503.1h0M374.5 499.4h0M395.4 478.8h0M370.8 484.1h0M387.9 500.1h0M361.0 465.6h0M383.4 498.5h0M379.8 446.6h0M400.2 501.7h0M372.6 492.1h0M360.2 456.1h0M376.9 501.2h0M381.5 490.8h0M373.9 490.4h0M398.5 496.0h0M367.9 473.0h0M353.2 439.7h0M389.1 497.6h0M382.8 500.6h0M367.1 478.3h0M393.1 501.5h0M400.3 502.0h0M374.4 488.8h0M381.2 502.6h0M378.4 484.0h0M401.0 502.0h0M401.0 492.4h0M358.3 458.2h0M377.3 494.1h0M385.0 497.5h0M396.2 433.3h0M393.2 490.8h0M376.5 497.5h0M396.4 497.7h0M382.2 411.7h0M378.5 495.0h0M384.9 497.4h0M387.8 455.9h0M361.3 475.0h0M373.9 490.0h0M372.7 502.8h0M367.5 485.3h0M400.2 504.2h0M368.8 487.2h0M374.8 496.0h0M378.6 495.7h0M394.7 497.7h0M391.2 468.2h0M360.6 480.5h0M392.9 495.2h0M353.4 463.9h0M368.6 489.0h0M360.9 481.3h0M365.3 465.9h0M365.5 477.0h0M386.9 480.0h0M391.4 503.5h0M386.7 496.5h0M361.1 464.2h0M384.7 504.0h0M347.1 425.7h0M377.6 502.3h0M352.9 466.6h0M399.2 503.2h0M375.8 501.3h0M399.6 488.4h0M398.8 504.0h0M364.0 483.5h0M379.6 503.5h0M383.4 477.2h0M393.0 500.3h0M400.2 490.1h0M394.2 488.0h0M391.8 493.7h0M400.4 495.9h0M385.9 497.0h0M388.7 496.4h0M374.8 502.9h0M401.2 491.2h0M369.0 485.1h0M365.5 486.5h0M361.7 460.7h0M346.2 431.1h0M377.4 496.3h0M397.1 503.0h0M392.9 492.7h0M369.7 475.4h0M395.8 504.2h0M391.1 501.8h0M380.3 423.7h0M366.1 462.8h0M398.1 477.0h0M396.1 503.6h0M400.3 501.0h0M374.8 502.0h0M400.4 494.6h0M376.9 498.8h0M342.8 400.6h0M378.5 499.7h0M390.5 502.0h0M364.7 481.3h0M388.0 502.0h0M391.7 497.5h0M374.4 500.1h0M370.7 483.0h0M387.3 500.1h0M367.0 477.1h0M359.7 477.6h0M370.5 487.3h0M393.4 501.8h0M377.9 495.7h0M398.8 479.8h0M368.3 457.8h0M392.9 476.7h0M362.0 484.9h0M389.5 482.9h0M362.9 472.4h0M393.2 497.2h0M383.4 501.1h0M365.2 473.9h0M375.8 491.6h0M400.7 501.2h0M382.7 498.0h0M357.1 450.7h0M376.6 502.4h0M373.1 481.3h0M394.2 503.6h0M386.3 502.0h0M353.0 418.4h0M375.9 490.2h0M386.5 495.2h0M395.5 499.9h0M352.3 441.2h0M383.2 478.1h0M358.9 444.4h0M395.7 487.3h0M390.5 454.6h0M352.4 440.4h0M395.4 503.3h0M399.9 499.3h0M397.7 504.1h0M401.6 484.6h0M369.0 475.0h0M393.8 503.4h0M383.8 426.0h0M349.0 438.6h0M381.2 476.0h0M397.2 483.9h0M381.3 503.7h0M370.0 490.1h0M374.9 498.2h0M374.6 493.2h0M398.4 503.4h0M393.3 496.6h0M386.6 475.9h0M368.7 480.4h0M382.8 501.1h0M398.4 501.9h0M361.9 472.9h0M390.8 500.3h0M394.2 495.0h0M368.7 474.4h0M394.8 504.0h0M391.4 490.4h0M365.4 474.8h0M393.4 494.8h0M363.0 463.2h0M392.1 502.0h0M370.8 484.8h0M390.9 496.9h0M375.3 499.1h0M372.0 455.5h0M373.5 485.5h0M381.6 494.3h0M386.0 503.6h0M373.8 487.4h0M364.6 470.4h0M394.2 501.2h0M361.9 467.8h0M379.5 503.2h0M392.0 501.2h0M399.5 498.6h0M399.3 504.0h0M393.4 476.3h0M371.2 446.7h0M385.1 502.6h0M379.0 501.0h0M379.1 473.2h0M391.1 502.7h0M387.6 497.6h0M375.3 499.6h0M389.8 485.0h0M374.9 496.8h0M363.1 469.6h0M377.5 502.9h0M371.5 496.1h0M392.9 496.6h0M398.0 499.7h0M374.3 495.5h0M368.8 492.1h0M378.7 503.5h0M398.5 497.8h0M394.5 499.4h0M379.4 486.3h0M371.8 491.5h0M376.1 502.1h0M396.9 504.1h0M384.7 498.5h0M390.1 487.7h0M379.4 496.8h0M389.9 503.4h0M396.5 501.2h0M397.6 498.9h0M381.7 486.0h0M393.4 479.3h0M378.4 503.9h0M401.5 497.8h0M392.6 503.9h0M374.3 503.6h0" stroke="#0000ff" stroke-opacity="0.18" stroke-width="2.2" stroke-linecap="round" fill="none"/>
<path d="M414.3 501.1h0M454.2 475.0h0M413.3 503.6h0M415.5 477.3h0M419.0 499.8h0M417.7 503.7h0M442.2 493.3h0M427.4 462.2h0M419.5 430.5h0M437.6 492.5h0M468.4 456.6h0M453.1 494.7h0M430.6 476.6h0M414.6 495.7h0M414.8 501.9h0M416.4 503.2h0M432.8 427.0h0M441.5 444.9h0M413.7 497.8h0M415.0 499.8h0M415.0 502.1h0M423.2 498.5h0M427.8 484.6h0M418.7 475.4h0M433.7 484.2h0M446.3 474.3h0M412.8 489.5h0M425.7 494.4h0M426.2 461.7h0M420.5 499.2h0M413.0 500.4h0M414.2 491.3h0M413.8 482.9h0M418.9 496.3h0M413.0 502.4h0M414.2 492.3h0M442.9 428.7h0M413.8 498.0h0M413.8 441.2h0M418.8 486.8h0M413.7 488.1h0M413.0 480.4h0M422.9 501.4h0M413.1 495.9h0M424.2 478.1h0M413.2 501.3h0M415.4 477.9h0M415.6 475.5h0M448.2 438.6h0M442.0 475.2h0M428.9 501.2h0M418.6 493.1h0M444.8 444.0h0M413.6 488.9h0M425.0 502.4h0M415.1 495.8h0M415.7 504.0h0M415.9 497.0h0M450.2 463.2h0M419.7 492.3h0M413.2 503.0h0M417.4 459.8h0M423.2 504.1h0M417.0 503.5h0M452.2 489.7h0M423.7 497.1h0M426.3 490.6h0M413.0 502.0h0M415.3 495.9h0M417.3 497.9h0M437.7 486.7h0M413.5 501.1h0M414.7 502.4h0M432.2 489.3h0M415.7 500.8h0M419.5 494.2h0M419.0 484.8h0M413.8 499.8h0M414.0 500.5h0M429.6 471.1h0M414.4 491.4h0M420.0 495.2h0M414.9 486.8h0M437.3 471.8h0M414.6 499.9h0M415.2 499.4h0M413.4 492.6h0M434.8 491.5h0M413.3 503.2h0M420.7 493.6h0M423.3 500.7h0M468.9 494.7h0M414.9 462.3h0M417.3 453.9h0M413.4 494.3h0M434.5 445.2h0M423.1 484.0h0M417.3 502.6h0M416.2 491.7h0M415.4 492.1h0M415.8 496.5h0M438.6 488.0h0M418.3 497.9h0M414.5 453.7h0M418.6 502.9h0M419.5 499.6h0M414.3 423.7h0M414.3 492.3h0M413.4 503.1h0M414.3 491.3h0M413.6 499.7h0M422.1 445.3h0M470.4 432.9h0M425.4 481.8h0M416.1 486.7h0M416.1 499.7h0M423.1 475.1h0M457.9 457.9h0" stroke="#ff0000" stroke-opacity="0.14" stroke-width="2.2" stroke-linecap="round" fill="none"/>
<path d="M423.1 497.8h0M421.4 425.7h0M417.0 500.5h0M417.3 482.9h0M415.9 492.6h0M413.1 496.8h0M413.9 487.5h0M427.3 498.9h0M422.0 491.0h0M413.1 490.5h0M428.4 486.1h0M427.4 435.9h0M415.5 492.2h0M414.0 502.1h0M434.6 499.7h0M414.5 480.9h0M417.7 499.7h0M420.1 474.3h0M416.3 497.7h0M414.0 502.9h0M413.6 502.6h0M418.5 483.0h0M413.7 494.7h0M416.2 504.0h0M422.9 494.2h0M416.2 503.2h0M416.3 499.6h0M450.6 504.1h0M412.9 477.4h0M416.0 494.1h0M426.5 476.3h0M414.0 499.8h0M416.2 460.3h0M419.8 496.6h0M439.5 489.6h0M413.8 489.1h0M417.7 502.5h0M427.3 427.0h0M448.5 429.7h0M428.3 447.2h0M414.0 422.4h0M418.4 484.4h0M416.9 456.0h0M414.9 502.6h0M467.2 421.0h0M434.7 504.2h0M414.1 496.2h0M428.1 407.9h0M413.8 497.8h0M440.1 496.6h0M413.6 499.0h0M469.3 456.7h0M422.8 489.0h0M418.4 503.9h0M422.8 411.6h0M435.5 491.5h0M416.0 498.5h0M451.5 486.2h0M413.5 502.8h0M420.9 480.7h0M413.6 503.2h0M423.9 460.7h0M416.8 499.3h0M422.8 498.1h0M470.9 433.1h0M414.5 443.4h0M458.2 488.6h0M413.8 497.8h0M415.2 502.2h0M418.3 496.3h0M439.4 480.2h0M414.5 504.1h0M413.5 501.1h0M413.3 488.8h0M416.9 502.2h0M432.0 500.0h0M418.2 501.1h0M413.4 500.5h0M418.7 501.5h0M447.4 499.7h0M417.0 481.8h0M418.1 501.6h0M414.5 482.3h0M417.6 459.2h0M418.1 474.8h0M413.4 500.6h0M476.5 445.7h0M415.4 491.8h0M417.3 497.2h0M413.4 504.2h0M415.0 473.8h0M419.2 497.2h0M469.7 495.8h0M413.5 478.8h0M426.9 496.8h0M415.3 501.3h0M416.0 497.6h0M414.0 495.0h0M417.9 491.4h0M414.0 486.9h0M418.6 503.8h0M413.6 498.0h0M416.5 501.6h0M418.8 493.3h0M424.5 495.3h0M421.3 502.6h0M417.8 497.8h0M415.6 492.9h0M425.6 492.2h0M415.6 504.0h0M422.6 492.5h0M417.4 504.0h0M415.6 502.0h0M415.4 493.0h0M417.3 486.2h0M413.6 502.5h0M431.8 500.3h0M413.7 497.3h0" stroke="#ff0000" stroke-opacity="0.14" stroke-width="2.2" stroke-linecap="round" fill="none"/>
<path d="M417.4 501.6h0M414.7 497.0h0M414.4 496.6h0M420.9 486.8h0M413.3 504.1h0M420.4 448.7h0M430.7 441.5h0M415.4 466.1h0M424.6 498.4h0M415.2 496.2h0M425.0 500.2h0M413.0 502.4h0M417.0 489.9h0M414.3 499.5h0M414.8 482.9h0M426.6 502.2h0M415.8 502.0h0M443.4 459.7h0M415.1 419.8h0M414.6 497.0h0M413.1 502.2h0M436.4 476.1h0M422.1 476.0h0M417.0 503.8h0M419.3 494.2h0M428.2 488.1h0M416.0 496.4h0M418.7 498.7h0M416.5 481.5h0M417.0 486.3h0M413.7 493.0h0M418.7 502.5h0M431.6 503.5h0M421.1 487.1h0M416.4 503.1h0M419.7 494.0h0M432.8 465.8h0M428.2 453.7h0M432.4 494.5h0M429.4 424.4h0M413.4 503.2h0M439.2 454.1h0M423.0 492.6h0M415.4 500.2h0M439.7 490.7h0M445.8 458.4h0M416.5 436.7h0M414.3 495.6h0M412.9 504.1h0M420.4 496.9h0M435.6 459.4h0M414.8 496.0h0M422.2 472.7h0M420.8 502.8h0M415.2 494.2h0M418.3 495.8h0M413.6 476.3h0M441.3 402.4h0M464.4 448.5h0M467.1 451.2h0M421.6 503.9h0M419.8 479.0h0M415.5 497.7h0M420.1 497.4h0M414.4 502.3h0M421.2 458.7h0M414.3 498.6h0M418.5 481.7h0M413.0 495.1h0M417.9 467.3h0M455.7 483.3h0M415.8 504.3h0M413.1 502.1h0M465.7 470.6h0M418.2 492.9h0M415.5 494.6h0M436.9 487.0h0M414.5 503.9h0M414.0 489.8h0M419.2 484.0h0M417.3 458.8h0M413.0 435.2h0M417.2 498.5h0M420.4 501.8h0M414.7 488.7h0M468.1 421.4h0M414.6 501.5h0M418.8 495.2h0M419.3 496.0h0M454.8 498.8h0M415.8 470.3h0M412.8 495.6h0M413.6 497.8h0M426.8 492.1h0M433.2 448.4h0M420.7 502.9h0M420.6 496.0h0M438.5 494.9h0M413.1 478.4h0M415.9 497.5h0M412.9 480.5h0M420.6 487.0h0M414.7 504.0h0M434.7 488.7h0M429.2 490.8h0M413.7 504.2h0M413.0 454.0h0M413.3 494.7h0M415.3 467.9h0M442.4 440.1h0M425.2 401.1h0M414.2 501.9h0M414.8 490.5h0M414.1 499.0h0M414.1 497.5h0M416.2 497.7h0M464.4 476.6h0M413.5 497.3h0" stroke="#ff0000" stroke-opacity="0.14" stroke-width="2.2" stroke-linecap="round" fill="none"/>
<path d="M416.9 502.4h0M414.2 503.0h0M416.8 493.8h0M415.7 496.7h0M433.0 468.8h0M422.1 499.6h0M415.6 480.4h0M414.4 465.9h0M413.3 501.9h0M417.7 492.1h0M416.7 484.9h0M418.3 498.7h0M451.1 484.3h0M415.5 498.9h0M414.7 495.6h0M420.8 486.3h0M415.2 493.0h0M426.9 485.9h0M417.8 492.5h0M413.8 497.3h0M413.6 495.8h0M415.0 497.2h0M416.7 499.2h0M440.2 461.2h0M420.3 496.4h0M414.7 459.0h0M414.2 500.8h0M417.7 502.9h0M413.8 496.5h0M415.9 478.8h0M421.5 489.1h0M416.1 502.1h0M453.1 497.9h0M415.4 419.6h0M415.0 499.4h0M420.7 503.6h0M430.0 461.5h0M412.8 491.2h0M415.7 501.0h0M427.1 460.0h0M413.2 498.6h0M419.9 488.0h0M417.1 497.4h0M414.4 499.9h0M466.2 478.1h0M432.2 472.6h0M435.6 478.7h0M424.9 494.0h0M413.9 472.4h0M419.2 503.4h0M428.6 501.5h0M430.8 427.5h0M417.6 501.2h0M414.3 499.8h0M414.1 499.3h0M414.9 488.1h0M429.5 479.9h0M422.3 498.7h0M412.9 501.1h0M414.1 497.5h0M420.0 497.0h0M443.0 453.6h0M419.8 500.5h0M418.7 491.3h0M414.6 500.7h0M439.4 488.3h0M416.5 492.9h0M448.8 491.0h0M457.2 425.9h0M413.8 503.3h0M414.3 487.7h0M439.8 450.2h0M429.2 458.8h0M423.1 450.3h0M415.5 496.7h0M412.9 483.7h0M419.2 487.7h0M416.3 483.2h0M417.8 466.2h0M413.1 504.1h0M418.6 494.1h0M415.6 433.7h0M413.8 496.6h0M415.2 490.5h0M417.0 493.9h0M420.4 440.7h0M426.3 492.8h0M438.3 484.9h0M434.6 497.0h0M418.2 494.3h0M472.5 430.2h0M417.8 489.8h0M413.3 491.8h0M412.8 500.5h0M413.4 496.6h0M414.9 484.8h0M416.8 487.1h0M417.0 502.9h0M414.1 498.0h0M446.0 490.7h0M415.0 480.5h0M466.9 497.1h0M417.5 496.5h0M416.8 476.4h0M438.6 504.3h0M415.8 493.9h0M419.9 494.3h0M418.5 503.6h0M415.1 491.2h0M414.7 483.6h0M414.7 500.3h0M413.5 497.7h0M412.8 494.1h0M420.8 493.5h0M429.7 478.2h0M421.6 430.5h0M431.7 496.3h0M414.5 502.7h0" stroke="#ff0000" stroke-opacity="0.14" stroke-width="2.2" stroke-linecap="round" fill="none"/>
<path d="M414.5 503.9h0M415.6 484.9h0M415.4 503.3h0M413.1 499.4h0M414.2 482.7h0M413.6 486.0h0M414.5 498.9h0M416.4 492.3h0M413.5 502.7h0M415.5 494.3h0M416.0 497.8h0M419.0 491.4h0M468.3 484.2h0M419.9 437.8h0M412.9 498.9h0M427.5 485.4h0M416.0 502.8h0M413.7 498.7h0M413.6 504.0h0M413.4 500.7h0M420.5 502.8h0M421.9 502.7h0M422.8 469.1h0M413.7 500.5h0M421.0 494.0h0M415.8 494.0h0M417.0 498.8h0M441.6 500.3h0M420.7 501.1h0M415.5 492.9h0M460.5 465.4h0M424.3 464.3h0M426.8 502.9h0M415.0 490.2h0M438.4 499.4h0M413.6 466.5h0M462.0 495.0h0M423.8 465.4h0M422.9 481.6h0M436.7 480.3h0M421.4 491.2h0M427.0 452.2h0M466.8 450.9h0M416.4 501.8h0M413.0 498.0h0M414.0 498.2h0M421.4 466.4h0M435.9 439.9h0M416.8 447.7h0M415.4 498.1h0M413.2 502.7h0M426.9 459.3h0M419.3 496.3h0M413.7 502.6h0M453.8 455.8h0M440.2 463.1h0M413.8 501.7h0M457.7 437.6h0M450.9 501.5h0M429.2 488.4h0M414.3 491.0h0M427.8 501.3h0M444.2 496.2h0M445.0 496.9h0M418.7 503.8h0M416.1 492.7h0M435.8 484.8h0M471.2 420.1h0M426.8 498.5h0M417.0 469.7h0M419.3 484.2h0M416.0 497.5h0M416.3 499.2h0M414.0 454.5h0M414.4 501.9h0M431.6 494.9h0M451.2 437.3h0M420.9 503.3h0M413.6 502.0h0M420.3 498.8h0M416.1 502.8h0M415.5 499.6h0M437.7 462.0h0M413.1 495.2h0M471.6 444.9h0M415.7 497.4h0M450.3 495.5h0M413.6 486.0h0M466.1 486.4h0M429.3 497.4h0M419.7 502.0h0M419.5 504.0h0M413.7 486.3h0M416.1 439.2h0M428.0 482.5h0M446.9 445.5h0M414.7 502.2h0M417.8 499.0h0M454.0 494.6h0M419.1 498.7h0M413.8 491.7h0M416.5 495.9h0M414.6 494.5h0M414.1 504.0h0M413.1 449.6h0M413.7 493.8h0M451.7 441.4h0M415.6 501.6h0M442.3 482.6h0M413.9 498.8h0M415.3 494.6h0M413.0 494.5h0M413.2 501.4h0M420.8 498.5h0M415.4 495.2h0M459.0 441.9h0M418.4 489.5h0M417.1 494.3h0" stroke="#ff0000" stroke-opacity="0.14" stroke-width="2.2" stroke-linecap="round" fill="none"/>
<path d="M412.9 483.8h0M415.7 502.6h0M445.7 498.5h0M423.7 494.0h0M420.9 462.2h0M416.9 492.5h0M414.1 501.9h0M414.4 494.7h0M416.8 502.7h0M414.5 495.3h0M413.0 499.8h0M470.8 471.6h0M414.5 501.9h0M416.9 473.5h0M416.4 478.5h0M413.7 491.1h0M437.1 497.7h0M426.8 497.9h0M416.0 503.2h0M412.8 502.2h0M419.5 500.7h0M413.1 504.1h0M414.8 496.3h0M419.4 492.8h0M416.9 489.7h0M418.6 488.8h0M416.2 500.2h0M413.4 500.5h0M452.3 494.1h0M412.9 504.0h0M413.0 498.2h0M415.6 503.3h0M421.0 486.7h0M428.6 482.2h0M413.2 502.1h0M417.3 480.8h0M415.6 504.3h0M447.2 459.3h0M425.5 435.3h0M417.0 500.0h0M415.1 503.2h0M417.2 503.2h0M414.9 473.8h0M420.1 453.5h0M416.3 497.3h0M414.8 496.0h0M415.8 503.0h0M436.6 490.9h0M419.1 496.2h0M448.4 502.1h0M430.2 443.9h0M428.7 502.6h0M434.6 490.5h0M443.4 503.1h0M414.9 411.0h0M439.7 489.5h0M416.5 504.3h0M426.7 486.4h0M440.3 502.3h0M448.2 466.1h0M430.6 500.8h0M418.5 501.3h0M422.0 490.4h0M426.0 464.9h0M417.1 504.2h0M422.2 451.4h0M415.5 492.6h0M413.2 499.3h0M418.4 499.9h0M426.1 437.3h0M434.1 501.3h0M413.4 483.0h0M415.3 501.0h0M416.8 488.8h0M431.8 502.2h0M423.6 500.8h0M421.9 489.6h0M425.7 498.9h0M432.3 427.9h0M414.1 498.9h0M422.9 488.5h0M422.4 502.9h0M414.1 503.4h0M414.7 461.2h0M417.5 498.9h0M426.6 497.0h0M414.5 478.1h0M413.3 465.2h0M419.6 496.1h0M413.1 502.7h0M416.0 500.3h0M430.6 489.9h0M415.9 501.8h0M420.4 481.2h0M412.8 500.2h0M416.8 501.1h0M425.7 492.8h0M421.9 402.7h0M415.4 499.4h0M470.2 478.6h0M473.4 476.2h0M416.1 484.5h0M413.3 500.4h0M414.3 501.0h0M412.8 489.4h0M423.5 444.6h0M416.4 503.4h0M417.1 496.5h0M413.5 499.8h0M413.2 495.3h0M413.2 498.1h0M472.8 425.7h0M428.0 482.9h0M438.2 501.4h0M425.2 502.3h0M414.4 502.3h0M416.8 503.2h0M412.9 482.5h0" stroke="#ff0000" stroke-opacity="0.14" stroke-width="2.2" stroke-linecap="round" fill="none"/>
<path d="M415.8 502.9h0M421.9 503.2h0M413.4 488.6h0M413.9 502.8h0M413.2 497.8h0M413.7 488.4h0M437.5 480.1h0M421.4 496.9h0M425.6 499.9h0M420.1 503.7h0M413.0 499.8h0M423.1 503.0h0M429.5 431.3h0M429.6 501.6h0M420.5 465.8h0M416.9 495.0h0M419.4 496.5h0M413.9 502.3h0M428.8 477.6h0M413.2 502.7h0M427.5 445.2h0M414.1 483.1h0M418.2 492.7h0M418.8 433.1h0M434.4 489.3h0M462.9 440.3h0M417.4 478.4h0M425.1 482.6h0M431.6 500.5h0M413.1 503.9h0M428.5 436.8h0M414.4 494.2h0M421.4 497.8h0M421.8 500.2h0M414.2 504.2h0M412.9 496.8h0M466.1 434.7h0M431.2 464.2h0M415.8 504.0h0M416.7 500.8h0M415.6 432.0h0M418.3 456.8h0M413.1 475.8h0M414.4 485.4h0M425.5 495.3h0M412.8 496.6h0M427.2 487.3h0M415.6 470.3h0M412.8 496.9h0M413.5 504.1h0M416.6 495.4h0M451.5 460.1h0M456.4 429.8h0M412.8 501.7h0M417.5 495.3h0M422.6 503.6h0M429.0 459.3h0M460.9 434.6h0M415.0 501.2h0M415.0 502.4h0M413.0 500.4h0M423.3 465.3h0M417.4 493.6h0M460.7 496.4h0M433.6 490.1h0M413.0 503.8h0M414.3 473.7h0M431.0 486.8h0M420.0 475.5h0M416.2 488.6h0M418.5 437.3h0M416.7 500.1h0M439.8 500.7h0M430.8 481.8h0M414.7 483.4h0M419.9 454.9h0M423.8 500.3h0M430.7 479.9h0M418.6 445.2h0M424.8 457.8h0M413.9 496.5h0M436.9 497.2h0M415.4 489.9h0M420.1 496.1h0M416.3 503.9h0M424.7 483.4h0M418.4 495.3h0M431.9 455.3h0M433.2 485.7h0M413.8 499.0h0M419.1 461.5h0M418.8 495.6h0M416.1 501.0h0M415.9 502.1h0M453.6 500.0h0M423.5 469.0h0M423.9 473.3h0M423.4 465.5h0M433.0 444.7h0M413.8 422.0h0M420.3 500.3h0M415.7 479.2h0M415.5 473.4h0M417.2 501.7h0M436.7 501.5h0M454.0 475.2h0M415.4 501.6h0M415.0 484.6h0M419.4 485.4h0M413.7 498.7h0M422.4 500.3h0M421.4 504.3h0M414.3 503.8h0M418.1 498.2h0M415.5 422.1h0M417.8 491.9h0M418.5 463.2h0" stroke="#ff0000" stroke-opacity="0.14" stroke-width="2.2" stroke-linecap="round" fill="none"/>
<path d="M416.1 503.9h0M413.5 482.7h0M414.1 503.5h0M413.6 504.0h0M428.4 476.2h0M416.4 486.1h0M415.0 477.8h0M413.0 503.0h0M419.6 460.7h0M414.2 461.7h0M413.7 496.1h0M418.5 487.9h0M433.8 488.0h0M417.2 503.1h0M414.4 500.5h0M423.0 499.4h0M417.5 479.4h0M455.1 442.4h0M416.8 502.1h0M472.1 494.6h0M422.3 497.2h0M413.4 501.4h0M423.5 500.3h0M443.7 497.9h0M424.3 463.6h0M415.4 504.2h0M462.6 490.9h0M431.2 494.3h0M415.7 499.7h0M461.1 407.6h0M422.7 451.4h0M430.5 484.6h0M418.1 501.9h0M413.4 489.5h0M423.9 503.1h0M425.7 494.2h0M470.1 484.1h0M417.2 502.2h0M414.1 493.3h0M470.5 484.4h0M417.1 474.9h0M425.2 500.7h0M413.2 497.2h0M429.6 504.0h0M418.6 492.0h0M414.3 492.6h0M417.7 482.5h0M421.5 495.6h0M420.8 431.7h0M413.2 501.7h0M413.9 484.5h0M444.3 501.0h0M413.2 501.6h0M423.9 496.4h0M431.2 503.8h0M415.8 485.1h0M420.2 477.5h0M417.4 492.9h0M414.4 503.2h0M422.1 492.9h0M418.9 500.3h0M415.7 498.5h0M412.8 497.2h0M415.7 493.4h0M447.8 437.0h0M413.3 501.0h0M423.2 501.8h0M420.3 479.3h0M420.6 497.1h0M420.5 503.2h0M417.1 497.7h0M413.4 494.3h0M437.4 446.2h0M413.6 493.7h0M459.7 503.0h0M415.1 503.2h0M420.7 478.2h0M430.7 484.0h0M418.6 501.6h0M413.9 485.9h0M418.6 497.1h0M436.2 424.4h0M412.8 494.4h0M416.7 495.0h0M422.1 491.4h0M438.5 427.3h0M418.0 463.4h0M425.5 493.5h0M413.2 503.7h0M420.7 498.1h0M423.6 498.1h0M414.5 500.0h0M418.4 477.4h0M416.7 499.1h0M412.9 499.3h0M421.2 501.7h0M426.5 495.8h0M439.5 486.7h0M417.0 493.2h0M413.7 492.9h0M420.4 483.3h0M439.6 466.8h0M420.7 501.2h0M414.8 502.2h0M417.9 492.8h0M466.8 419.2h0M413.7 473.6h0M418.3 424.9h0M429.1 464.7h0M413.7 499.1h0M451.5 482.0h0M421.2 498.4h0M413.7 486.0h0M415.5 503.2h0M426.9 499.6h0M413.5 494.7h0M414.8 503.3h0" stroke="#ff0000" stroke-opacity="0.14" stroke-width="2.2" stroke-linecap="round" fill="none"/>
</g>
<line x1="335" y1="504.3" x2="479.7" y2="504.3" stroke="#c8c8c8" stroke-width="0.9" stroke-dasharray="3,2.2"/>
<g stroke="#1a1a1a" stroke-width="1" fill="none">
<line x1="334.2" y1="398.4" x2="334.2" y2="517.3"/>
<line x1="333.7" y1="516.8" x2="479.7" y2="516.8"/>
<line x1="331.2" y1="511.4" x2="334.2" y2="511.4"/>
<line x1="331.2" y1="484.1" x2="334.2" y2="484.1"/>
<line x1="331.2" y1="456.8" x2="334.2" y2="456.8"/>
<line x1="331.2" y1="429.5" x2="334.2" y2="429.5"/>
<line x1="331.2" y1="402.2" x2="334.2" y2="402.2"/>
<line x1="351.7" y1="516.8" x2="351.7" y2="519.8"/>
<line x1="379.45" y1="516.8" x2="379.45" y2="519.8"/>
<line x1="407.2" y1="516.8" x2="407.2" y2="519.8"/>
<line x1="434.95" y1="516.8" x2="434.95" y2="519.8"/>
<line x1="462.7" y1="516.8" x2="462.7" y2="519.8"/>
</g>
<text transform="translate(324,514.4) scale(0.8782,1)" font-size="8.6" fill="#222">0</text>
<text transform="translate(324,487.1) scale(0.8782,1)" font-size="8.6" fill="#222">5</text>
<text transform="translate(319.8,459.8) scale(0.8782,1)" font-size="8.6" fill="#222">10</text>
<text transform="translate(319.8,432.5) scale(0.8782,1)" font-size="8.6" fill="#222">15</text>
<text transform="translate(319.8,405.2) scale(0.8782,1)" font-size="8.6" fill="#222">20</text>
<text transform="translate(345.25,529.6) scale(0.8843,1)" font-size="8.6" fill="#222">−10</text>
<text transform="translate(375.1,529.6) scale(0.8873,1)" font-size="8.6" fill="#222">−5</text>
<text transform="translate(405.1,529.6) scale(0.8782,1)" font-size="8.6" fill="#222">0</text>
<text transform="translate(432.85,529.6) scale(0.8782,1)" font-size="8.6" fill="#222">5</text>
<text transform="translate(458.5,529.6) scale(0.8782,1)" font-size="8.6" fill="#222">10</text>
<g transform="translate(380,541.7) scale(0.7887,1)" fill="#222">
<text x="0" y="0" font-size="9.5" style="white-space:pre">log</text>
<text x="12.68" y="2" font-size="6.8" style="white-space:pre">2</text>
<text x="16.46" y="0" font-size="9.5" style="white-space:pre"> fold change</text>
</g>
<g transform="translate(313.5,477.8) rotate(-90) scale(0.8001,1)" fill="#222">
<text x="0" y="0" font-size="10" style="white-space:pre">-log</text>
<text x="16.67" y="1.8" font-size="6.5" style="white-space:pre">10</text>
<text x="23.9" y="0" font-size="10" style="white-space:pre"> (padj)</text>
</g>
<g transform="translate(365.2,392) scale(0.9277,1)" fill="#222">
<text x="0" y="0" font-size="9" style="white-space:pre">J</text>
<text x="4.5" y="-3.4" font-size="6.8" style="white-space:pre">VF</text>
<text x="13.19" y="0" font-size="9" style="white-space:pre">p</text>
<text x="18.19" y="-3.4" font-size="6.8" style="white-space:pre">172/−</text>
<text x="35.4" y="0" font-size="9" style="white-space:pre">_PEL_MEP</text>
</g>
<circle cx="422.7" cy="311.7" r="2.3" fill="#f00"/>
<circle cx="424.2" cy="313.8" r="2.3" fill="#f00"/>
<circle cx="439.4" cy="312.5" r="2.3" fill="#f00"/>
<circle cx="427.1" cy="319.9" r="2.3" fill="#f00"/>
<circle cx="442.9" cy="325.3" r="2.3" fill="#f00"/>
<circle cx="425.3" cy="329" r="2.3" fill="#f00"/>
<text transform="translate(411.6,308.5) scale(0.8282,1)" font-size="8.6" fill="#222" font-style="italic" stroke="#222" stroke-width="0.15">Id2</text>
<text transform="translate(437.8,308.8) scale(0.6633,1)" font-size="8.6" fill="#222" font-style="italic" stroke="#222" stroke-width="0.15">Bmp4</text>
<text transform="translate(429.6,319.6) scale(0.7634,1)" font-size="8.6" fill="#222" font-style="italic" stroke="#222" stroke-width="0.15">Smad1</text>
<text transform="translate(405,324.2) scale(0.7362,1)" font-size="8.6" fill="#222" font-style="italic" stroke="#222" stroke-width="0.15">Id1</text>
<text transform="translate(417,326.5) scale(0.8294,1)" font-size="8.6" fill="#222" font-style="italic" stroke="#222" stroke-width="0.15">Smad9</text>
<text transform="translate(447.8,325.8) scale(0.8324,1)" font-size="8.6" fill="#c8102e" font-style="italic" stroke="#c8102e" stroke-width="0.15">Bmp2</text>
<text transform="translate(410.4,336.5) scale(0.8436,1)" font-size="8.6" fill="#222" font-style="italic" stroke="#222" stroke-width="0.15">Bmpr1a</text>
<circle cx="433.7" cy="467" r="2.3" fill="#f00"/>
<circle cx="425.7" cy="484.8" r="2.3" fill="#f00"/>
<circle cx="414.6" cy="500" r="2.3" fill="#f00"/>
<circle cx="442.4" cy="499.7" r="2.3" fill="#f00"/>
<circle cx="455.1" cy="500.5" r="2.3" fill="#f00"/>
<text transform="translate(413.8,475.5) scale(0.8405,1)" font-size="8.6" fill="#222" font-style="italic" stroke="#222" stroke-width="0.15">Smad9</text>
<text transform="translate(413.8,492.4) scale(0.7780,1)" font-size="8.6" fill="#222" font-style="italic" stroke="#222" stroke-width="0.15">Id1</text>
<text transform="translate(431.8,494.3) scale(0.8502,1)" font-size="8.6" fill="#222" font-style="italic" stroke="#222" stroke-width="0.15">Bmpr1a</text>
<text transform="translate(416.7,502.8) scale(0.8221,1)" font-size="8.6" fill="#222" font-style="italic" stroke="#222" stroke-width="0.15">Smad1</text>
<text transform="translate(460,499.2) scale(0.8502,1)" font-size="8.6" fill="#c8102e" font-style="italic" stroke="#c8102e" stroke-width="0.15">Bmp2</text>
<text transform="translate(386.6,511.9) scale(0.8282,1)" font-size="8.6" fill="#222" font-style="italic" stroke="#222" stroke-width="0.15">Id2</text>
<circle cx="486.5" cy="389.3" r="2.3" fill="#0000ff"/>
<text transform="translate(491,392.1) scale(0.9877,1)" font-size="8" fill="#222">Down</text>
<circle cx="486.5" cy="402.9" r="2.3" fill="#bebebe"/>
<text transform="translate(491,405.7) scale(1.0072,1)" font-size="8" fill="#222">No</text>
<circle cx="486.5" cy="416.3" r="2.3" fill="#ff0000"/>
<text transform="translate(491,419.1) scale(0.9290,1)" font-size="8" fill="#222">Up</text>
<rect x="0" y="0" width="520" height="1" fill="#000"/>
<rect x="0" y="0" width="1" height="549" fill="#000"/>
<rect x="518.6" y="0" width="1.4" height="549" fill="#000"/>
<rect x="0" y="547.5" width="520" height="1.5" fill="#000"/>
</svg></body></html>
